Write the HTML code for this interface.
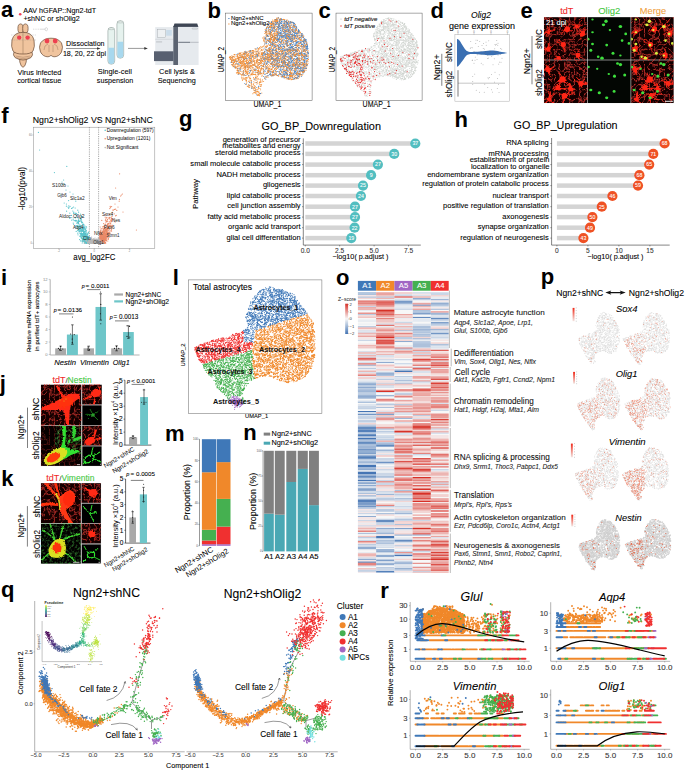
<!DOCTYPE html>
<html><head><meta charset="utf-8"><style>
html,body{margin:0;padding:0;background:#fff;}
body{width:685px;height:771px;overflow:hidden;}
svg{display:block;font-family:"Liberation Sans", sans-serif;}
</style></head><body>
<svg width="685" height="771" viewBox="0 0 685 771">
<defs><marker id="k0" markerUnits="userSpaceOnUse" markerWidth="1" markerHeight="1" overflow="visible"><circle r="2.5" fill="#f08a30"/></marker><marker id="k1" markerUnits="userSpaceOnUse" markerWidth="1" markerHeight="1" overflow="visible"><circle r="2.5" fill="#4a84c4"/></marker><marker id="k2" markerUnits="userSpaceOnUse" markerWidth="1" markerHeight="1" overflow="visible"><circle r="2.375" fill="#cdd2cd"/></marker><marker id="k3" markerUnits="userSpaceOnUse" markerWidth="1" markerHeight="1" overflow="visible"><circle r="2.75" fill="#e82828"/></marker><marker id="k4" markerUnits="userSpaceOnUse" markerWidth="1" markerHeight="1" overflow="visible"><circle r="1.875" fill="#666"/></marker><marker id="k5" markerUnits="userSpaceOnUse" markerWidth="1" markerHeight="1" overflow="visible"><circle r="3" fill="#5cc4cc"/></marker><marker id="k6" markerUnits="userSpaceOnUse" markerWidth="1" markerHeight="1" overflow="visible"><circle r="3" fill="#ea8a68"/></marker><marker id="k7" markerUnits="userSpaceOnUse" markerWidth="1" markerHeight="1" overflow="visible"><circle r="3" fill="#b8b8b8"/></marker><marker id="k8" markerUnits="userSpaceOnUse" markerWidth="1" markerHeight="1" overflow="visible"><circle r="2.75" fill="#111"/></marker><marker id="k9" markerUnits="userSpaceOnUse" markerWidth="1" markerHeight="1" overflow="visible"><circle r="2.5" fill="#e0c020"/></marker><marker id="k10" markerUnits="userSpaceOnUse" markerWidth="1" markerHeight="1" overflow="visible"><circle r="2.5" fill="#222"/></marker><marker id="k11" markerUnits="userSpaceOnUse" markerWidth="1" markerHeight="1" overflow="visible"><circle r="2.625" fill="#f0882a"/></marker><marker id="k12" markerUnits="userSpaceOnUse" markerWidth="1" markerHeight="1" overflow="visible"><circle r="2.625" fill="#3f78b8"/></marker><marker id="k13" markerUnits="userSpaceOnUse" markerWidth="1" markerHeight="1" overflow="visible"><circle r="2.625" fill="#f03030"/></marker><marker id="k14" markerUnits="userSpaceOnUse" markerWidth="1" markerHeight="1" overflow="visible"><circle r="2.625" fill="#45b050"/></marker><marker id="k15" markerUnits="userSpaceOnUse" markerWidth="1" markerHeight="1" overflow="visible"><circle r="2.625" fill="#a066c4"/></marker><marker id="k16" markerUnits="userSpaceOnUse" markerWidth="1" markerHeight="1" overflow="visible"><circle r="2.125" fill="#d8d8d8"/></marker><marker id="k17" markerUnits="userSpaceOnUse" markerWidth="1" markerHeight="1" overflow="visible"><circle r="2" fill="#e8502c"/></marker><marker id="k18" markerUnits="userSpaceOnUse" markerWidth="1" markerHeight="1" overflow="visible"><circle r="3.125" fill="#d0d0d0"/></marker><marker id="k19" markerUnits="userSpaceOnUse" markerWidth="1" markerHeight="1" overflow="visible"><circle r="2.5" fill="#e8502c"/></marker><marker id="k20" markerUnits="userSpaceOnUse" markerWidth="1" markerHeight="1" overflow="visible"><circle r="3.625" fill="#f0882a"/></marker><marker id="k21" markerUnits="userSpaceOnUse" markerWidth="1" markerHeight="1" overflow="visible"><circle r="3.625" fill="#3f78b8"/></marker><marker id="k22" markerUnits="userSpaceOnUse" markerWidth="1" markerHeight="1" overflow="visible"><circle r="3.625" fill="#45b050"/></marker><marker id="k23" markerUnits="userSpaceOnUse" markerWidth="1" markerHeight="1" overflow="visible"><circle r="3.625" fill="#f03030"/></marker><marker id="k24" markerUnits="userSpaceOnUse" markerWidth="1" markerHeight="1" overflow="visible"><circle r="3.625" fill="#74e0e0"/></marker><marker id="k25" markerUnits="userSpaceOnUse" markerWidth="1" markerHeight="1" overflow="visible"><circle r="3.625" fill="#a066c4"/></marker><marker id="k26" markerUnits="userSpaceOnUse" markerWidth="1" markerHeight="1" overflow="visible"><circle r="2.125" fill="#26828e"/></marker><marker id="k27" markerUnits="userSpaceOnUse" markerWidth="1" markerHeight="1" overflow="visible"><circle r="2.125" fill="#31688e"/></marker><marker id="k28" markerUnits="userSpaceOnUse" markerWidth="1" markerHeight="1" overflow="visible"><circle r="2.125" fill="#3e4989"/></marker><marker id="k29" markerUnits="userSpaceOnUse" markerWidth="1" markerHeight="1" overflow="visible"><circle r="2.125" fill="#482878"/></marker><marker id="k30" markerUnits="userSpaceOnUse" markerWidth="1" markerHeight="1" overflow="visible"><circle r="2.125" fill="#440154"/></marker><marker id="k31" markerUnits="userSpaceOnUse" markerWidth="1" markerHeight="1" overflow="visible"><circle r="2.125" fill="#1f9e89"/></marker><marker id="k32" markerUnits="userSpaceOnUse" markerWidth="1" markerHeight="1" overflow="visible"><circle r="2.125" fill="#b5de2b"/></marker><marker id="k33" markerUnits="userSpaceOnUse" markerWidth="1" markerHeight="1" overflow="visible"><circle r="2.125" fill="#fde725"/></marker><marker id="k34" markerUnits="userSpaceOnUse" markerWidth="1" markerHeight="1" overflow="visible"><circle r="2.125" fill="#35b779"/></marker><marker id="k35" markerUnits="userSpaceOnUse" markerWidth="1" markerHeight="1" overflow="visible"><circle r="2.125" fill="#6ece58"/></marker><marker id="k36" markerUnits="userSpaceOnUse" markerWidth="1" markerHeight="1" overflow="visible"><circle r="4.75" fill="#f0882a"/></marker><marker id="k37" markerUnits="userSpaceOnUse" markerWidth="1" markerHeight="1" overflow="visible"><circle r="4.75" fill="#3f78b8"/></marker><marker id="k38" markerUnits="userSpaceOnUse" markerWidth="1" markerHeight="1" overflow="visible"><circle r="4.75" fill="#45b050"/></marker><marker id="k39" markerUnits="userSpaceOnUse" markerWidth="1" markerHeight="1" overflow="visible"><circle r="4.75" fill="#a066c4"/></marker><marker id="k40" markerUnits="userSpaceOnUse" markerWidth="1" markerHeight="1" overflow="visible"><circle r="4.75" fill="#f03030"/></marker></defs>
<defs>
<filter id="redtex" filterUnits="objectBoundingBox" x="0" y="0" width="1" height="1">
<feTurbulence type="turbulence" baseFrequency="0.2" numOctaves="3" seed="4"/>
<feColorMatrix type="matrix" values="0 0 0 0 0.92  0 0 0 0 0.05  0 0 0 0 0.04  -4.6 0 0 0 1.3"/>
</filter>
<filter id="redtex2" filterUnits="objectBoundingBox" x="0" y="0" width="1" height="1">
<feTurbulence type="turbulence" baseFrequency="0.2" numOctaves="3" seed="9"/>
<feColorMatrix type="matrix" values="0 0 0 0 0.92  0 0 0 0 0.05  0 0 0 0 0.04  -4.6 0 0 0 1.3"/>
</filter>
<filter id="grntex" filterUnits="objectBoundingBox" x="0" y="0" width="1" height="1">
<feTurbulence type="fractalNoise" baseFrequency="0.4" numOctaves="2" seed="2"/>
<feColorMatrix type="matrix" values="0 0 0 0 0.1  0 0 0 0 0.8  0 0 0 0 0.1  2.2 0 0 0 -1.0"/>
</filter>
<filter id="bl4" x="-20%" y="-20%" width="140%" height="140%"><feGaussianBlur stdDeviation="0.4"/></filter>
<filter id="rough" x="-10%" y="-10%" width="120%" height="120%"><feTurbulence type="fractalNoise" baseFrequency="0.6" numOctaves="2" seed="3" result="t"/><feDisplacementMap in="SourceGraphic" in2="t" scale="2.6" xChannelSelector="R" yChannelSelector="G" result="d"/><feGaussianBlur in="d" stdDeviation="0.35"/></filter>
<filter id="rough2" x="-10%" y="-10%" width="120%" height="120%"><feTurbulence type="fractalNoise" baseFrequency="0.5" numOctaves="2" seed="5" result="t"/><feDisplacementMap in="SourceGraphic" in2="t" scale="3" xChannelSelector="R" yChannelSelector="G" result="d"/><feGaussianBlur in="d" stdDeviation="0.7"/></filter>
<filter id="bl8" x="-20%" y="-20%" width="140%" height="140%"><feGaussianBlur stdDeviation="0.8"/></filter>
<filter id="bl15" x="-30%" y="-30%" width="160%" height="160%"><feGaussianBlur stdDeviation="1.5"/></filter>
</defs>
<text x="1.00" y="16.80" font-size="22" font-weight="bold">a</text>
<circle cx="20.20" cy="14.20" r="1.30" fill="#f0405a"/>
<text x="23.20" y="12.60" font-size="7.3" stroke="#000" stroke-width="0.08" textLength="73.00" lengthAdjust="spacingAndGlyphs">AAV hGFAP::Ngn2-tdT</text>
<text x="23.40" y="20.50" font-size="7.6" stroke="#000" stroke-width="0.08" textLength="56.40" lengthAdjust="spacingAndGlyphs">+shNC or shOlig2</text>
<g stroke="#6a4a35" stroke-width="0.7" fill="#f0c49e">
<path d="M19.5 56 L19.8 62 Q21 67 23 67.3 Q25 67 26.2 62 L26.5 56 Z"/>
<path d="M14 52 Q12.5 55 15 57.5 Q19 60 23 60 Q27 60 31 57.5 Q33.5 55 32 52 Z"/>
<ellipse cx="20.6" cy="28.5" rx="2.7" ry="4.6"/><ellipse cx="25.4" cy="28.5" rx="2.7" ry="4.6"/>
<path d="M23 32.5 Q14 32 12 40 Q10.8 47 13 51 Q15.5 54.2 23 54 Q30.5 54.2 33 51 Q35.2 47 34 40 Q32 32 23 32.5 Z"/>
</g>
<line x1="23.00" y1="32.80" x2="23.00" y2="53.80" stroke="#6a4a35" stroke-width="0.35"/>
<g stroke="#6a4a35" stroke-width="0.3" fill="none"><path d="M15.5 56 Q23 58.5 30.5 56 M16.5 57.8 Q23 59.6 29.5 57.8"/></g>
<circle cx="19.20" cy="37.60" r="2.20" fill="#ee4050"/>
<circle cx="27.60" cy="37.60" r="2.20" fill="#ee4050"/>
<line x1="11.00" y1="35.00" x2="36.00" y2="35.00" stroke="#777" stroke-width="0.3" stroke-dasharray="0.8 0.8"/>
<line x1="11.00" y1="40.00" x2="36.00" y2="40.00" stroke="#777" stroke-width="0.3" stroke-dasharray="0.8 0.8"/>
<line x1="33.00" y1="29.20" x2="40.00" y2="29.20" stroke="#999" stroke-width="0.35" stroke-dasharray="1 0.7"/>
<line x1="40.00" y1="29.20" x2="45.00" y2="29.20" stroke="#999" stroke-width="0.4"/>
<ellipse cx="46.3" cy="29.2" rx="1.2" ry="1.6" fill="none" stroke="#999" stroke-width="0.35"/>
<path d="M51 38.2 Q44 38 40.5 43 Q38.5 47 40.5 52 Q43 56.8 48 56.8 Q50 56.5 51 55.3 Q52 56.5 54 56.8 Q59 56.8 61.5 52 Q63.5 47 61.5 43 Q58 38 51 38.2 Z" fill="#f0c49e" stroke="#6a4a35" stroke-width="0.7"/>
<path d="M44 50 Q44 45 48 44 M58 50 Q58 45 54 44 M49 45 L49 52 M53 45 L53 52" fill="none" stroke="#6a4a35" stroke-width="0.3"/>
<circle cx="47.00" cy="41.00" r="2.40" fill="#ee4050"/>
<circle cx="55.20" cy="41.00" r="2.40" fill="#ee4050"/>
<text x="17.50" y="74.50" font-size="7.4" stroke="#000" stroke-width="0.08" textLength="43.80" lengthAdjust="spacingAndGlyphs">Virus infected</text>
<text x="17.20" y="83.20" font-size="7.4" stroke="#000" stroke-width="0.08" textLength="44.10" lengthAdjust="spacingAndGlyphs">cortical tissue</text>
<text x="66.10" y="46.20" font-size="7.4" stroke="#000" stroke-width="0.08" textLength="38.50" lengthAdjust="spacingAndGlyphs">Dissociation</text>
<line x1="66.00" y1="48.50" x2="98.00" y2="48.50" stroke="#333" stroke-width="0.5"/>
<path d="M100.5 48.5 L97 47.2 L97 49.8 Z" fill="#333"/>
<text x="62.90" y="56.00" font-size="7.4" stroke="#000" stroke-width="0.08" textLength="43.10" lengthAdjust="spacingAndGlyphs">18, 20, 22 dpi</text>
<rect x="107.9" y="27.6" width="6.8" height="36.6" rx="3.2" fill="#e6f2ee" stroke="#6d7f7a" stroke-width="0.45"/>
<path d="M108.4 47.8 h5.8 V61.0 A2.90 2.90 0 0 1 108.4 61.0 Z" fill="#a8d8ee"/>
<ellipse cx="111.3" cy="28.8" rx="3.1" ry="0.9" fill="#f4faf8" stroke="#6d7f7a" stroke-width="0.35"/>
<rect x="116.9" y="20.8" width="6.8" height="37.4" rx="3.2" fill="#e6f2ee" stroke="#6d7f7a" stroke-width="0.45"/>
<path d="M117.4 41.7 h5.8 V55.0 A2.90 2.90 0 0 1 117.4 55.0 Z" fill="#a8d8ee"/>
<ellipse cx="120.3" cy="22.0" rx="3.1" ry="0.9" fill="#f4faf8" stroke="#6d7f7a" stroke-width="0.35"/>
<text x="114.80" y="74.40" font-size="7.4" text-anchor="middle" stroke="#000" stroke-width="0.08" textLength="34.10" lengthAdjust="spacingAndGlyphs">Single-cell</text>
<text x="115.00" y="83.00" font-size="7.4" text-anchor="middle" stroke="#000" stroke-width="0.08" textLength="36.40" lengthAdjust="spacingAndGlyphs">suspension</text>
<line x1="128.00" y1="48.40" x2="145.00" y2="48.40" stroke="#333" stroke-width="0.5"/>
<path d="M147.8 48.4 L144.3 47.1 L144.3 49.7 Z" fill="#333"/>
<rect x="155.20" y="27.10" width="18.20" height="37.90" fill="#e6eaee"/>
<rect x="157.3" y="29.3" width="8.3" height="8.3" fill="#eef1f3" stroke="#9aa0a6" stroke-width="0.4"/>
<rect x="166.20" y="30.00" width="5.60" height="5.70" fill="#cadcea"/>
<line x1="155.20" y1="39.30" x2="173.30" y2="39.30" stroke="#b8bec4" stroke-width="0.4"/>
<rect x="156.10" y="41.30" width="6.00" height="1.20" fill="#c4c8cc"/>
<rect x="154.00" y="51.30" width="19.50" height="9.80" fill="#586070"/>
<rect x="173.30" y="26.00" width="4.90" height="39.00" fill="#5c6472"/>
<path d="M173.3 27 L174.5 23.6 H197.2 L198.4 26.9 H173.3 Z" fill="#3e4654"/>
<rect x="178.20" y="26.90" width="20.40" height="38.10" fill="#e6eaee"/>
<line x1="178.20" y1="42.30" x2="190.00" y2="42.30" stroke="#5c6472" stroke-width="0.9"/>
<line x1="190.00" y1="42.30" x2="198.60" y2="42.30" stroke="#8a9098" stroke-width="0.5"/>
<rect x="192.2" y="28" width="5.4" height="1.2" rx="0.5" fill="none" stroke="#8a9098" stroke-width="0.3"/>
<text x="177.00" y="74.40" font-size="7.4" text-anchor="middle" stroke="#000" stroke-width="0.08" textLength="35.80" lengthAdjust="spacingAndGlyphs">Cell lysis &amp;</text>
<text x="176.80" y="83.00" font-size="7.4" text-anchor="middle" stroke="#000" stroke-width="0.08" textLength="38.20" lengthAdjust="spacingAndGlyphs">Sequencing</text>
<text x="207.60" y="17.50" font-size="22" font-weight="bold">b</text>
<rect x="225.40" y="13.10" width="86.70" height="87.60" fill="none" stroke="#555" stroke-width="0.5"/>
<path transform="scale(0.2)" d="M1370 104l2-6 10 2 1-1 1-6 0 5 2 0 3 5 9-1 2-4 6 1 5-2 10 7 1-5 2-2 11 2 38 20-8-6-7-1-2 0-9-2-15 2-11-2-1 3-17-2-4 3 0-1-5 3-7-7-1-1-1 2-3 9-1-4 0 0-3-9-2 6-6 5-4-1-2-1-1 3-3-2 0-8-3 4 0-2-2 1-3 7-3-3-2 3 2 13 1 1 0 0 6-8 9-1 2 4 5-7 3 10 18-2 0 0 6 4 14-8 2 9 2-4 5-9 6 13 2-7 0 8 3-13 7-1 6 10 9-2 5-8 4 11 4-7 14 22-19 3 0-4-10-6-6 5-8 5-16-3-5 1-24-3 0-6-7 1-2 9-5 1-6-14-1 4-2 1-1 5 0-1 0-9-1 4-8 2-5-3-1-1-6 0-1 9 0-10-3 2-3 11-3-13 0-1-14 23 7-5 2 5 1-3 9 3 4 0 1 4 6-2 1 2 1-9 0 9 5-6 9 0 3 6 15-4 1 6 22-11 4 4 1 1 12 0 0 3 16 1 1-2 0 3 1-9 4 3 3 1 14 4 7 0 1-12 0 11 3-10 15 6 5 0 15 19-4-8-1 8-7-11-7 9-10-3-19 2-4 5-5-4-10-2-7 3-8 1-2 3-4-6-2-4-20 0 0-1-1 11-5-2-4-12-2 0-9 4-1 7-1-11-7 12-1-10-9 5-5 2 0-3-4 5-4-7-8-4-3 5-3 5-1 4-3-10-1 2-17 21 7-1 4 0 3-2 15-8 4 13 4-2 1 0 1-10 1 4 4 2 2 0 2-6 1 1 0 1 0 4 1-7 3 11 3-6 1-1 2 4 11-7 13 9 9 0 1-6 8-5 3 11 11-4 1-1 2-6 1 4 2 4 3 1 2-3 4-1 5 5 3 0 1-5 4 0 2-4 1 1 0 9 1-6 2 1 9 1 1 6 8-4 9-9 4 13 1 1 3-6 2-1 17-7 1 0 6 24-5-9-2 10-6 2-4-5-12-3-7-4-7 9-11-8-8 7-3-5-10 1-1 10-5-1-26-3-23-8-6 7-6-4 0-1-1 4-12 1-1-6-5 5-3-5-4-2-3 0-1 12 0-13-1 6-2-4-1 6-1-5-1 11 0-2 0-12-7 10-1-4-4-1-4-5-8 0 2 17 8-1 12 12 5-13 3 3 7 2 2 5 1-2 3 3 5-2 1-4 5-3 7 9 3-11 26 10 6-7 10 10 1-7 4-3 5-2 12 12 1-6 3 1 0 6 1-8 5-4 23-2 1 12 19-11 1 3 16 3 10 6 4-6 1 16-1-3-10 0-2 3-8-3-7 0 0 0-2 0-2 1-4-5-5 12 0-8-9-5-6 4-5 8-8-4-5-7-3 6-13 4-6-8-1-2-1 6-16 2-2-2 0-1-1-2-14 9-8-1-6-4-2-6-7 7-1-5-2 1-10 9-11-3 0-5-4-4-8 12-7-13-2 6-2-3-4 1-16 3-11 0-6 6-49 15 3 0 26-5 13 1 11-10 5 8 1 3 2-3 9-2 10-6 12 9 0 4 4-9 1 6 1-9 1 9 2-1 6 2 1-10 2 10 7 2 1-4 3-9 7 13 3-1 13-2 3-6 8-4 6 13 1 1 8-1 5 1 9-1 2-12 12 10 2-3 10 4 3-10 2 12 9-4 2 2 7-12 5 6 0 5 2-10 13 3 7 5 0 4 8-13 4 13 5-13 5 4 4 0 7 16-3 4-3 2-1-3-17-5-10 2-1 6-22 2-3 1-2-4 0-6-2-4-12 14-1-14-6 9-3-4-6 7 0-3-6-8-3 11 0-4-5 6-3 0-7-9-1-4-4 4-2 6-9-6-3 5-1-8-9 0-2 7-9-1-3-6-6 7-10 0-3-5-1 4-1-4-6 1-2 9-2-13-1 11-1-10-12 10-15-3 0-4 0-3-4 11-3-3-2 4-7-1-7-12-1 13-6-3-2-1-1-5-6-3-4 4-1-4-10-2-2 9-2 2-5 1-6-10-2-2-18 5-3 6-1-3-1-2-7-3-1 8-1 3-3-2-13-3-5 5-3-3-46 18 2-1 7-4 7 4 2-1 2-8 2-1 8 11 6-2 2-10 0 5 1 7 8-5 5 2 6-7 4 9 2-10 5 0 5-1 0 6 3 3 3-9 5 6 0 1 3-4 0 8 7-7 0 8 5-4 2 2 3-7 2-5 4 14 5-10 1 4 0 6 3-3 3-9 2 12 6-12 0 9 4-7 1 0 2-4 0 9 2-7 3 4 9 8 5-4 1-6 3-1 1 0 1 6 13-5 2 9 5-10 1 0 6-1 0 6 0 1 5-7 0 12 0 0 8-4 5-6 3 4 3-6 4 11 1-4 0 2 15-5 2-1 2 8 2-2 2-7 1 3 3-7 1 2 12 0 4-2 2 9 7-1 5-4 0 8 3 0 5-1 7-10 7 3 3 3 18 0 1 6 3-10 0 10 3-8 2 5 3-9 10-1 1 7 4 1 2-1 6 1 2-5 0 1 5 3 1-6 0 7 5 4 3-12 0 2 1 5 6 4 3-6 2-3 3 11-15 4-4 9-4-10-3 6-11-1-8 0-11 6-18-8-1 2-4 0-9 4-4-9-7 12-6-13-4 6-6 0 0-4-17 1-3 9-2-1 0-2-8 5-2-13-2 13-2-4-2-9-2 8-1-1-5 1-2 1-4-3-4 7-1-8 0-4-2 5-1 3-2-4-1 7 0-9 0-3-3 5-1 4-6-6-7 10-2-4-3-6-1 8-4 0-2-12-8 10-3 2 0-6-4-5-9 6-7 5-9-1-3 3 0-4-1-10-9 7-5-1 0 0-3-1-11 6-2-8-4 10 0-8-8-1-10 6-2 3-2-8 0 0-1-5-6 12 0 0 0-11-2-1-1 10-2 0 0-7-1 2 0-3 0-2 0 0-9 12 0-9-8 0-2 0-1 0-1 10-1-8-1-1-1 5-2-4-3 0-10 9-6-2-2-1-5-7-1 3-2-6-6 8-1-5-2 5-4-8-1 2 12 16 5-4 0 0 0 2 0 12 8-5 0 3 1-3 1-6 0 3 2-5 3 8 1-2 3 0 9-3 2-4 0 12 6-9 3 2 0 7 1-7 3 5 8-7 3 1 0 5 1 3 1-11 6 7 5-2 2 5 1 1 6 2 4-9 8 9 2-7 1-3 1 0 0 7 1-5 3 3 1 5 4-11 6 6 2 3 1-8 0 0 9 4 11-8 5 14 2-13 2 5 1 2 0 2 3 1 2-8 2-2 11-1 2 3 1 5 8 3 9-2 2-5 5 5 1-5 10 7 8-9 0 2 6 10 6-11 7-1 2 2 8 0 2-3 7 8 1 3 2-11 1 3 0 4 1 2 0 4 8-2 0 2 1-2 2-10 2 7 8 3 3-9 1 10 21-8 0 2 21 3 3-2 8 5 1 1 7-8 2 1 1 4 13 2 1-2 8 3 9-12 1 7 6-6 2 3 0 10-3 6-4 4-2-9 0-1-1 9-3-1-5-1-2 5-1-2-4-5 0-1-7 3-2 3-8-7-1-2-1 9-7-5-1 8-3-8-1 8-1-11-1 7-2-1-1-6-1 3-4 7-4-3-6 2-2-3-2 0-12 5-5-5-1-8-1 10 0-1-4-8-2 7-6 3-1-5-7 4-2 3-5-12-13 8-12 4-6 0-2-7-1-5-3 11-5-5-1-2-8 7 0-7-2-3-7 5-2-6-4 12-6-7-19-6-2 0-3 13-2-2-6 2-1-12-9 3-2-5-3 6-5 2-1-8-4 2-6 8-5-4-1 6 0-6 0-4-5 7-3 3-4-3-5 3-1 0-5-7-8 5-1 0 0-8-3-1-5 0-7 6-2-3 0-2-1-2-3 4-1 10-4-11-4 1-6-2-2 0-4 3-19-3-12 0-1 0 1 16 6 1 2 6 1 0 1-2 6-3 1 9 3-2 2 2 5-14 6 9 2-2 1 7 0 0 2-9 2-2 3 1 0 10 8-1 1-5 1-7 3 9 1-9 0 6 2-5 0 5 1-5 0 9 8-4 1-7 0 8 1-7 0 3 3 9 2-13 1 9 1-1 6 4 2-11 2 9 3-7 4 7 15-8 9 0 0 5 0 4 4 2 8-2 7 2 0 1 8-11 0 10 3-3 1-9 0 0 11 10 13-7 0 10 3-5 2 4 2 0 3-3 9 3 3-9 1 2 14 5 2-4 1 4 8-8 10 1 3 3 3-7 1 6 1-3 10 3 9-3 21 9 2 1 2-3 5-2 7-3 4-1 5 8 4-8 0 10 3 0 5-8 2-1 18 2 10 7 2-9 7 5 1-8 2 8 4 4 1-1 3-13-4 23-18 5-2-2 0-2-1 1-2-2-3 5-30-2 0-5-21 6-6-10-6 11-1-13-6 8-12 6 0-1-2-12-6 4-7 9-25-12-1 1-1 10-11-1-8-12-2 4-5 0-5-1-4 10-2-13-25 0-1 13-10-13-3 7 0-4-2 8-1-5-2 7-6-9-5 10-10-10-3 1-3 0-1 0-4-4-3 9-4-5-4 0-3 5-11 1-4-9-3 12 0-8-4 8-2-10-1 8-12-1-13 0-11-2-6-2-1 14 2-3 3 8 6-6 5 4 11 5 2-2 2-9 3-2 0 13 1-1 9-8 5-2 1-2 1 10 0 2 1-7 1 4 2-5 5 1 1 3 10 0 1 1 4-8 1 5 7 3 3 3 4 0 2-9 3-2 6 12 3-12 4 11 3-6 2-5 0 8 2-8 3 6 5-1 8 2 3-9 10 6 11-6 9 9 15 2 2 2 8-5 5 6 2-5 16-9 0 8 4 3 8-9 0 1 5 4 17-1 0 1 1-6 4 8 1-4 12-4 1 12 5-4 28-1 11-2 1 3 5 5 2-1 4 1 12-12-20 21-1 2-8-4-14 6-6-8-9 0-1 0 0-1-2 6-5-6-2 0-2-1-2 7-13-8-10 12-4-8-3 4-5-9-1 6-17-2-1 1-3-1-3-2 0-1-26 1 0-1-5 3-16 9-7-2-3-4-4-1-19-1-15-5-14 12 0 0-10 1-8-13-14 12-3-8-7 7-4 3-4-13-2 12-6-12-5 11-6-10-2 8 1 5 3 5 1 7 16-6 1-4 3 11 0 1 3-13 11 9 3-8 21 5 9 2 1 2 4-9 6-1 14 13 9-5 10-9 108 4 5 0 1 0 5-4 1 7 5-6 0 7 5-6 6 4 3 1 23-5-167 16-6-3-12 2-12 8-13-1-6-5-12 10-2-4-6-3-4-4-1-2-12 10-5 7 9 7 7 3 14-2 2-6 3 7 5-10 32-1 3 3 4 2-6 16-6 0-3-4-6 11-19-12-1 4-6 0 0-3-11 0 20 26 2-12 3-1 0 13 1-1 2-10 3 9 6-7 6 8 4-3 14 5-8 4-4-3-1 6 0-6-4 10-28-7" fill="none" marker-start="url(#k0)" marker-mid="url(#k0)" marker-end="url(#k0)"/>
<path transform="scale(0.2)" d="M1391 88l41 15-9 0-9-4-6-2-2-5-1 7-1-2-4 5-1-6-3 1-4-7-7 6-6 3-1-1 0 0-21 11 1 2 0 1 0 1 8 5 3-3 5-10 2 5 3 2 5 3 3-3 1-1 0 0 2-1 1 9 5 0 1-11 1 1 1-4 0 11 4 3 1-5 1 2 1 0 1-8 0 0 1 9 1-12 0 4 1 5 5-8 2 13 3 0 3-1 1-4 1-7 0 1 0 7 4-8 1 0 2 1 0 7 1 0 1-4 2 0 0 2 1 3 1 2 2-7 3-6 0 2 2 10 0 1 5-8 0 4 2-7 2 2 0 2 0 7 1-5 6-3 2 2 4 1 0 5 3-2 1 0 2 1 9 14-6 2-1 1 0-8-1 1 0-3-3 9-2-3-1-5-1 2-1-1-11 1-9 0-1 5 0-4 0-5-3 0-4 0-1 8-1 1-3-8-2 6 0-2 0 0-5-4-1 9 0-12-1 8-4-1 0-2-4 3 0 0-1 5-1-4-4-5-1 3 0-1 0 0-2-1-6 8-2-3-1-5-1-3-2 11 0-3 0-6 0-3-1 7-1 5-2-13-5-1-1 13-4-13-2 5 0-1 0-3-2-1-4 11-1-1-2-9-7 3-4 1-2 3-1-1 0-3-9 8-5-5 0-4-6 8-5 10 2 2 1 2 8-7 0 3 9 5 8-9 0 3 1 9 1-9 0 6 4-10 2 1 3 2 1 4 0 2 4-9 4 11 8-12 1 0 3 13 1-10 0 7 1-8 3 4 2 2 1 3 4-7 0 2 0 3 5-4 2-4 2 9 1-7 2 9 1-4 1-4 2-2 4 2 3 4 3-5 0 3 4-5 2 9 1-10 0 1 0 8 0 5 3-13 3 8 0 2 5-11 0 1 3 12 3-12 4 13 2-12 3 9 0 1 3-12 0 3 0 4 4 4 5-1 3-3 1 7 4-10 1-4 0 2 0 12 1-7 8 6 4 4-1 6-1 5-1-5 0-1 0-5 0-1 0-1-2 14-7-2-5-7-4 4-1 1-3-8-1 10 0 0-4-6-1-4-1 5-1-1-1 2-1-6-6 1-2 8-2 3 0-8-2 7-2-13-2 2-2-1-1 7 0-7-2 8 0-2-5-6-1 8-1-2 0-7-3 3-2 2 0-2-2 5-1-8-1 11-1-1-1-8-1 10-2-3-3 0-5-9-1 7 0-7-4 11-1-1-2 2 0-9 0-2-7 8-5 1 0-8-3 11-3-4-8-9-4 5-3 0-1 0-4-2-2-3-8 12 0-11-2 4-1 2-1 5-6-12-1 5-11 0-2 8-3 0 0-10 5 21 3 4 1 0 1 1 8-9 6-2 0 4 9 5 6-8 11 8 3 1 5-4 2-8 1 9 0 4 3-6 2-7 0 10 2-9 0 8 3-9 2 5 2-6 0 1 0 12 3-10 0 4 1 6 4-1 0 2 1-9 5-4 0 13 1 0 3-3 3-7 0 10 2-6 0 3 2-11 2 4 1 0 0 3 0 3 2 2 4 1 1-11 2 2 0 2 2 5 2-4 1-6 5 4 1 2 2-3 3 3 2-1 5-2 0 4 1 5 1-1 1 2 3-2 3-11 0 6 0 7 1-2 1-7 2 8 1-10 0 11 2-11 0 11 2-11 2-2 1 8 2 5 2-11 1-3 1 0 0 12 6-12 1 13 9-8 2-1 0 6 0 2 1-1 0 2 1-10 2 11 2-6 9 20-5-4-1-2-1-2-6-3-1-2-1 10-2-7-2 4-4-7-3 7-6 5-4-10-1 0-3 11 0 0-4-12-1 4-3 5 0-9-2 12-3-7-1 5-5-7-1-4-1 13-4-1 0-12-3 14 0-7-2-3-3-4-2 13-1-4-1 4 0-8 0-1-1-1-2-1-1 2-3 7-2-9-3 10-1 2-2-12-1 11 0-7-2 5-1-10-1 9 0-4-4-1 0-5-6 5 0-1 0-4-2 8-2-4-2 5 0-6-3 2 0-4-4 3-4 6-1-4-1-5-1 9-1 0-5 4 0 0-2-11-1-3-1 8-2 6-5-8-2 6 0-3-1 2-1-3-1 3-4-9-5-2-4 9-4-2-10 6-3 1-1-13-3-1-4 1-2-1-7 14 0-2-1-7-1 2 0 22 3-10 5 7 2-11 2 5 6 4 1-4 0 7 3-11 10 3 7 8 6-3 1 0 12-9 5 5 0 8 1-12 0 2 1-1 0 5 3-7 1 1 0 2 1 0 0 5 0 5 1 1 2-1 1-3 5-7 3 10 0 1 3-6 0 6 3-7 2-5 1 8 5-7 8 10 0 1 2-7 2 5 5-5 0 3 2-1 0 5 1-12 2 2 7-1 1-2 0 5 1 5 1-10 1 0 2 9 0 2 1-4 0 6 2 0 3-7 0 2 3-9 0 1 0 12 4-1 8-2 0 4 8-4 1 2 4-9 2 9 8 1 1-7 5-6 0 13 7-2 4 2 1-9 2 5 0 1 0 1 2-6 2-3 0 6 2-6 1-1 0 6 2 0 0 4 2-8 2 7 3 17-3-1 0-11-1 6-1 3-1 5-3-14-5 7 0-2-3-5-2 10 0-8-3 8-2 3-1 0-2-1-1 0-2-5-2-5 0 0-4-2-4 7-1 7-3-14-5 3-1 2-2-1 0-1-1-2-1 5 0-2-1-1-1 10-1 1-3-7-6 5-2-7-1-4-5 12-5-4-5 3-2 0-2-3-9 3 0-9-3 4-2-6-1 7-1 5-4-7-5 4-4 4-1-9-7 8-1-2-5-8-1 3 0-5-2-1-4 11-2 2-13-10-6-3-2 3-8 7-2-5-1 0 0-1-2 8-1-2 0-10-2 5-3 7-2-2-1-1-5-8-6 8-9 0-3-3 0-1-7 5-36 19 44-3 18 1 4-2 1-7 9-2 2 2 4 6 1-9 2 1 1 4 1 8 1-12 0 10 1-5 2 1 8-7 2 3 3 10 1-12 0 4 2 4 0 4 1-2 0 3 6-11 0 2 0 1 3-6 0 6 6 3 0 1 4-5 5 1 1 3 0 0 1-1 13-4 1-1 3 0 0 2 1-2 5 9 2 2 3-5 1-9 0 12 3-12 0 10 1-9 0 12 1 0 2-3 1 0 1-3 2 6 0 0 3 1 1-6 0 0 7-5 4-2 1 0 0 11 1-10 1 11 2 0 1 1 1-10 3 1 5-2 2-2 1 11 0 1 1 1 10-8 8 1 3 4 2-8 0 1 1 1 5 1 3-3 2 5 0 6 3-5 1-1 2 4 0 2 1-5 1-8 0 3 0 3 1 1 2 10-2 3-1-6-2 1-2 0-1 4-1 6-2-6-1 9-5-8-1 3-1 5-2-1-4-3 0-5-5-4-15 1-4 5-7 5-2 0 0-2-2 4 0-5-3-1-1 6-1-9-4 1-1 8 0-8-1 2 0-5-1 8 0-8-2 1-5 2-1-1-5 8 0-2 0-9-2 3-1 6-1-5-1-1-2 1-2 0-1-2-2 3-2 7-2-6 0-1 0-1-1 7-3-3 0-6-3 4-4 3 0-6-3 7-1-4-1 2-3 1-3-6-1-2-4-1-1 5-1 3-4-2-4 2-4-2-2-2-1 1-2 0 0-2 0-4-1 3-8-1 0-2-4 10-2-6-2 3-1 3-4 2-5-5-2 6-1-2 0-7-1 1-8 1-2-2-5 5 0 0 0-1-5-8-4 11-1-1-1 2-4-3 0 0-4-3-7-7-41 3-19 10-9-1-62 16 31-4 1 4 4-3 1-9 3 5 1 3 14-9 4 7 4-2 4 5 4-1 4-2 20-4 7 7 26-3 1 4 4-10 3-1 0 12 7-7 5 1 2 7 0 1 5-13 6 13 1-8 2 8 4-3 1-9 4 7 0 2 2 0 1-4 1 7 2-1 8-7 2-1 3-2 0 11 3-7 1-5 0 12 7-2 1-3 5 5 1-2 9-2 2-8 1-1 1 2 0 7 0 2 1 0 3-12 9 9 0 4 1-4 4 0 1 5 6-12 1 9 5-5 4-2 3 4 2 3 2-1 1-4 6-6 2 2 6 10 1-4 0 1 1-1 5-8 3 4 1 0 5-2 1 2 0 10 8-2 2 0 3-2 1-2 1 5 2 1 3-5 0 3 2-4 2-7 1 9 5 4 3-11 1 8 2 1 3 2 11-13 2 6 1 1 2 4 0 2-3 1-5 6-1 6 0-1-2-4-4 1 0-6-4-2-2 13 0-1-2 0-3-2-6-1-2 4-2-13-2 4-6-4-8 1-4 7 0-8-4 3-1 9-2 0-1 1-3-5-6-3-1-5-4 9 0-9-1 3-1-1-2 8-1 4-1-3-1 0-3 0-3 1 0-3-5 4-3-3-3-10-5 12-2-10-3 2 0-2-2 6-1 0-2 1-2 5-2-12-4 6-1 6-1-1-5-12-5 7-1-5-5 9-5 0-6-12-2 5-1 1 0-3-7-1-1 5-3-7-14 2-1 6-4 6 0-1 0 0-1-6-3 3-15-8-4 12 0-13-5 2-1-3-1 7-1-6-5 0-3 5-2 1-25 2-1 3-2-5 0-4-4 2-6 5-14 2-10-8-4 6-23-7-1 8-13-2-29-5-21 11 32 10 6-7 4-2 8 3 8 5 4 2 6-5 2 2 7 1 8-6 2 6 4-1 9-8 18 2 28 4 7-3 1 7 5 1 2-7 2 1 1 4 0 5 1-6 3 1 4 0 4-6 2 3 3-4 2 11 1-1 1-10 9 11 1-5 3-3 0 3 2-8 3 3 0 10 2-5 4 3 2 2 5-1 2-5 1-2 4 5 1-3 1-3 2 0 3-1 1 5 0 2 8-4 6 4 4 1 1-10 0 0 0 8 6-1 3-8 2 0 0 8 0 1 0 0 4-2 4 3 6 4 5-14 2 13 5-13 2 4 0 4 1 6 1-6 2-5 1 9 1-4 1-6 0 2 11 9 1-2 2-3 0 1 6 2 4-1 1-5 0 2 5 7 1-12 0 4 0 3 1-5 0 3 0 6 4-1 6-6 7 4 2 1 1-6 10-1 4 4 1-6 2 8 2-10 2 9 1-3 0 4 4-3 2 0 1-1 4-6-6 24-5-3-1 6-6-6 0-1 0-3-1 0-1 10 0-1-1-1-1-1 0-9-1 0-4 4-6 8-3 1-2-9-6-1-2-2-1 1-2 11-3-7-2-3-4 1-1 9-1-1-10-1 0-9-4 9-4-2-1-6 0-1-1-1-3 11 0-2 0-9-2 7-4 4-1-12-3 8-1 1 0-3-1 1-1 7-2-5-1 4 0-7-2-3-4 0-10 10 0-1-2 0 0-4-1-2 0-2-1 10-2-11-2 7 0-5-2 5-1-6-1 4-7 2 0-3-2 6-8-3 0-9-1 10-5 3-2-10-2 5-1 0-1-3-1-5-1 12 0-9-7-2-5 9-1-6 0-3-1 5-7 2-2 2 0-2-15 2-6-1-1-1 0-2-2-7-1 10-8-1-4 2-23-11-4 3-2 9-26-5-8-2-7 6-7 2-37-3-24-3-5-3-14 1-8-5-1 11-2 2 0-1 6 10 18-5 10 0 0 2 4 4 10 6 25-11 9 6 6-7 5 2 20 6 21 3 16 1 9-13 3 7 10 2 2-8 2 0 1 5 2-4 0 1 17-3 5 0 0 1 1 6 6 6 1-10 4 2 3 7 7-5 1-3 1-1 6 0 0 1 2 9 4-12 8 7 7 4 3-1 1-1 2-1 1-4 1-2 4-1 4 4 2-4 2 6 3-1 5 0 0 1 0 4 2-6 2-4 0 8 2-5 7-4 2 4 0 7 4-12 5 9 3-5 1 4 3 0 4-7 1 3 1 9 4-5 0 3 1-4 3 0 3-7 3 3 3 10 4-5 3-4 2-2 0 5 2-1 0 2 7-4 6-1 3 7 3-5 0 1 5-3 6 9 1-6 4 6-5 15 0-1-2-8-2 6-4-9-1 9-2 0-2-10-2 12 0-5-5-1-3 5-2-6-2 4 0-3-1 6-4-1-1 2-1-12-3 0-2 9 0 0-2-6 0-3-1 9 0 0-1-4-1 7-2-2-2 1-3-5-3 2 0-5-2 10-9-13-3 11 0-12-1 14 0-12-1 9-1-11-1 11-2-7-4 10-1-14-2 13 0-7-3-3-3 7 0-9-1 3-4 10 0-7-5 1-1 1-2 5 0-14-3 0-4 3-5 11 0-12-3 0 0-2-6 2-4 1-2 10-2-9-6-4-1 0-1 2-2 7-1-9-1 4-1 5-1-6-5-3-9 13 0-10-3-2-11-1-24 10-3 3-1-7-6-2-8-1-19 0-21 1-31-4-1 8-17-3-32 6-7 0-16-5-4-3 21 18 3 5 8-11 1 5 13 6 33-5 2 8 1-8 1 2 18-8 4 5 4 5 2-9 37 0 2 13 1-6 5 5 2-9 10 5 6-2 0 1 2 6 7-3 4-10 13 7 8 0 10 4 5 2 3-13 5 8 1-5 0 1 4 1 2 8 3-13 0 1 7 10 6-2 2 3 7-13 0 0 1 2 0 3 1 9 2-7 7 2 6-6 6 3 1-4 1 2 12 3 0 2 3 3 2-12 0 14 2-1 2-2 0 3 5-13 0 6 3 3 7 4 2-7 2 5 0 1 1-2 2-7 2 4 2-5 3 6 1 0 4 1 1-4 1-5 0 0 0 13 1-6 2 0 1 0 0 5 1-7 3 6-2 3-6 6-7 7-9 0-1-2-2 3-1-9-2 1-2 2-5-7-1 12-2-1 0 0-2-8 0 0-2 3-4 3 0-2-1-5-2 0-3 10 0-6-3 2-1 5-5-2-3-4-2 0-1 0-4 5 0-9-2 8 0-8 0-1-1 9-9 2-1-3 0 0 0 0-4-4-1-3-2 7 0-9-2-1-1 1-1 12-1-6-4 5-1-6 0-7-2 11-1-11-2 11-9 3 0-3-3-4-3 4 0-2-2-5-4 9-13-13-3 9-3 3-5-8-2-3-2-1-3 1-6-1-1 14-2-3-1-3-1-8-2 13-3 0-5-13-4 8-3-3-10 7-1-2-20-6-12 6-1-6-4-1-17-3-23 3-30 3-3 4-20 2 28 3 8 2 12-1 76 7 11 6 5-9 5-2 3 1 9-4 8 5 4-2 3-1 4-1 16 2 20 2 6-1 1 1 0 2 2 6 4-8 2-5 1 0 1 3 5 10 4-13 0 12 7-8 2 7 0 1 3-9 10 10 8-8 0 7 16-1 0 2 2 1 4-3 3 1 1-9 2 2 2 2 2-7 0 8 14-1-18 9-6 1 0-2-10 2 0-2-2 2-3-1-1 7-25-7-2 3-20-4-92 6-6-6-47 2-3 7-49 19 23-6 10 0 1-7 24 8 13 17-2 2-45-3-3-4-14-2 28 19 1-7 13 5 8-3-5 17 6 20 21-7 0 1" fill="none" marker-start="url(#k1)" marker-mid="url(#k1)" marker-end="url(#k1)"/>
<path transform="scale(0.2)" d="M1391 89l45 15-17-8-1 2-3 0-11 5-1-9-2-1-1 5-10-6-2 9-4-11-2 11-2 3-1-5-2 5-3 0-11-4-12 17 7 0 4-8 3 2 4-4 5 1 7 2 1-5 2 0 1 1 1 13 4-13 39 4 2-5 11 4 0 5 13-5 22 14-4 9-5-3-2 2-11-10-4 11-7 0 0-10-2 3-9 4-3-9-10 10 0-7-2 4 0-1-2 3-21-8-5 10-9 1-10 2-1-8-1-4-3-2-1 12-1-2-4-9-2 11-1-10-2 10 0-9-4 4-9 2-5 1-11 17 5 0 2-9 0 1 18 8 1-11 0 9 16-5 3 0 10 9 1-7 6-2 20-5 4 8 1 0 7-6 1 9 8 3 2-12 19-2 0 6 1 2 2-1 1-7 5 13 3 0 3 1 5-12 4 1 6-2 0 11 2-2 20 18-6-2-9-1 0-1-2-6-3-1-5 2-1 4-8-1-7-5-2 12-10-14-4 14-4-14-3 9-4-2-2-7-1 6-6 3-6-4-1 1-21 6-7-4-7 1 0-5-2 6-2-4-14-3-4 5-4 5-14-12-11 10-2-3-1 2-5 7 3-2 3 12 1-6 7-6 8 4 2-3 1 1 0 3 1 6 3-1 1-8 3-2 0 10 5 2 4-11 7 8 0 3 1-7 2-3 1 9 3-2 5-1 1-2 0 5 1-8 18 8 3-1 4 2 3-10 18 9 3-5 3 4 4-4 5 5 0 1 4-11 8 13 5-2 19-1 1-1 9-10 7 11 6-1 6 10-2 3-10-2-3 8-4-4-5-4 0-1-3-4-11 9-2-8-1 3-17 8-16 0-1 0-1 0-3-9-15 1-32 6-1-4-6 2-2-1-3 0 0-8-1 10-2-1-2-4-2-5-6 6-5 7-2-5-2-6-13 0-8 2-12 0-5 3 3 15 1-4 1 10 2-4 8 1 8-2 6 0 7 2 3 0 2-9 9 9 2-6 0 6 1 1 1-11 0 5 1-3 1-2 2 3 0 3 2-6 2 1 0 13 6-6 3 1 12 3 1-11 2-1 0 2 6 3 0 7 1-6 5-6 10 9 4-1 4-1 1-3 10-4 3 0 15 4 4-1 3 7 5 3 2-13 2 9 3 0 1 0 1-4 19-5 1 1 1 6 2-4 1 0 9 3 9-4 3 8 1 2 7 5-1 10-2-1-10 1-1-10-18 6-3-1-4 1 0-5-3 6-39-2-15 0-7-7-2 5-10 1 0-4-9-2-3 6-4 4-5-9-6 5-15 7-1-3-10-4-2 1-6-4-5 9-19-11-10 9-27 19 12-3 1 3 5-6 5-5 6 5 2 1 4 1 1 0 15-7 2-1 0 1 12 3 1-3 8-3 0 12 5-1 9-6 2-1 6 9 1-1 12-3 2 5 15-4 0 1 1 2 7-8 6-5 6 1 1 1 36 10 1-9 3-2 4 3 0 4 5-7 16 2 0 8 9-4 4-2 0 8 2-9 10-4 6 28-7 0-4-4-5-1-3 5-2-5-4-8-13 5-5 9-5-1-1-5-3 1-8 4 0-6-6 2-6 3-3-2 0-8-5 8 0 0-8-2-3-1-4-7-2 13-2-4-11-3-9-5-9 13-2-10-8 8 0-10-8 6-9-2-2 7-2-5 0-5-5 10-9-10-12-1-1 8-6-3-1-4-2 7-9 3 0-1-1-5-21 5-9-1-9-6-3-2-2 5-1-5-9 6-6-5-7 8-5 1 0-1-3 0-64 13 2 3 3 0 1 0 8-4 6 1 4 1 2 1 3-4 4 4 3 2 3-10 3 5 4 2 0 3 3-11 4-1 1 11 5-9 7 3 2-5 3 11 3-12 0 4 10 6 3 0 4-11 4 0 4 8 2 6 9-7 4 3 1 1 0 3 2-8 8 3 3-4 14-1 4-3 5 1 1-1 1 3 0 6 1-4 7 8 18-9 2 5 5 3 0 1 3-2 1-1 8-7 1 9 3-10 7-2 0 1 3 7 5-9 4 7 1 5 2 2 14-6 1-8 2 3 10-3 3 0 2 0 0 1 3 13 12-5 1 1 7-1 11 2 1-10 4 11 3-6 3-3 9 7 2 1 1-9 9 1 1-3 7 4 1-2 2 7 12 15-2 1-11-2-8-1-1 5-5-3-1-4-1 0-3-4-2 4-12-3-3 8-6-5-7 1 0-4-2-1-4 6-3-3 0-1-11 11 0-3 0-6 0-4-5 12-18-13-8 11-13-1 0-8-9 3-1 7-4-6-1 7-12 1-5-11-5 10-2-11-1 5-2 7-7-13-4 3-3-3-1 13-4-13-3 11-1-3 0-1-2-5-1 9-1-2-4-10-1 7-3 7-1 0-1-5 0-8-2 2-1-3-7 13-1-8-8 6-5 0-1-11-4 2-1-1-6 7-5 3-3-6-12 8 0-11-1 10-1-7-15 1-2 1-1-2-2 5-5-4-2-5-8 6-3-2 0-2-4-1-2 9-2-5-11 8-2-10-4 7-1 2-2 1-1-9-2 9-2-4-3-2 0-6-4 5-3-3-6-1-2 7-3 0-10-6-4 0-1 10-8-3-13 13 1-9 0 12 2-2 3-7 3-2 0 4 0 8 6 1 4 0 2-13 5 8 3 1 1 0 5-3 0 3 3-5 3 1 1 7 2-13 0 4 4-3 1 4 1 0 0 8 7-8 2-5 0 1 8 6 0 0 3 0 1 0 7 1 2-4 1 0 9 10 2-13 4 9 1-1 9-1 2-8 0 7 2 5 8 2 1-11 16 1 4 9 12-13 1 6 4-6 0 11 2 3 3-7 8-4 0 5 7 0 3-5 0 7 4-4 3-4 1 2 2 7 4-2 1 1 2 0 2 2 1-10 1 2 3 9 14 0 10-3 3-2 1 6 2-14 17 8 4 0 1-3 8 9 1-14 1 11 5-8 2 5 4-2 0 7 9-2 2-10 6 7 17-5 0 7 7-1 10 5 5-1 6-3 4-5 1 3 3 2 1-10 0 12 9-8 1 6 5-6 1 8 4 0 6-1 17 2 1-1 1-2-10 10-15-4-12 11-1-10-15 3-5 0 0-3-2 7-3 2-5-7-5-3-1 4-21 5-1 4-1-4-15-9-7 11-1-4-3-2-3-6-4 12-5-10-9 6-4-6-5-2-3 9-7-2-3 3-5 3 0-10-2 2-9 9-8-9 0-4-7 0-6 2-10-1-9 8-1-2-5-4-1 4 0-5-4 1-2 7-1-7-3 6-3-8-6 10-3 1 0-10-3 3 0-6-3 6 0-1-1 7 0-12-2 10 0-8-2 10-11-5 0-7-3 8-10 0-3-4-2-2-2 1 0-1-6 8 0-3-3 6-3-2 0-9-3 8-1-7-2 3-2-2-8 4-3-8-2 10 0-10-1 7-1-2-1 4-2 4-3-4-2-2-3-4-1 9-1-1-3 0-1 0-1-3-6-5-4 3-3 8-4-14-5 4-4 9-2-1 0-9-7 6-1 3-2-10-1 7 0-3 1 17 3 3 2 3 2-7 3-2 1 7 2-6 4 6 2-4 7-2 3 2 3 4 6 1 4-13 3 2 3 6 2-7 0 12 4-9 0 8 3-6 0 7 0 1 2-8 4 0 1-1 1 6 6-2 1 2 1 0 0 1 4-9 1 11 3-6 8-6 2 9 5-11 0 12 3-10 7 4 0 7 1-5 5 2 6 4 3-13 9 9 4 4 1-9 4 3 4-7 2 2 1 10 5-3 0 3 11-6 2-1 5 5 7-7 4 8 13-8 3-1 4 5 9-1 0 2 3-9 6 12 8-9 0 3 3 4 3 3 1-10 5 2 0 1 0 2 1 4 10-1 4-9 1 2 0 7 10-8 3 0 1 4 1 7 12-12 5 4 4 7 2-1 11-3 3-9 0 14 2-10 0 5 1 3 1-4 1-5 0 3 4 4 7-6 4-3 6 5 5 7 5-6 2-6 9 4 1 9 2-7 1-3 4-2 1-1 0 3 1 5 0 5 9-4 1-10 6 7-4 17-9-7 0 0-6 6-7 1-11-7-1 0-7-2-6 13-6-3-2 4-4-14-4 14-19-4-9-2-3 5-1-9-2 4-3 1 0-6-6-1-6 6-6 1-22-2-1-6-4 12-7-7-12-6-2 8-1 0-15-6-6 9-7-6-3 4-2-6-3-1-5 4-18 6 0-5-10 0-1-4-4 6-2 0-2 0-4-6-1 3 0-5-7 13-9-5-5-4-1 1-10-5-1 7-5-3 0-3-13-1-2 8-4 5-1-13-2-1-2 8-13-8-6 0-8 4-7-1-2 1-2 5-6-2 0-4-11 1 20 19 1 2 1-6 1 5 8-8 1 8 11 5 8-7 2 0 3-5 3 9 2-6 1 4 1 2 8 3 4-14 0 4 15 2 9 4 8-2 2 0 5-2 7 2 3-2 3 0 0 1 0 5 0 1 8 1 9-10 7 1 17-5 5 14 1-5 1-7 0 8 3 4 5-7 8-4 1-2 2 11 1 1 4-1 1-4 1 2 5-9 2 0 6 11 18 0 13 2 5-14 3 8 4-2 5 0 1 1 1-2 6 7 11-7 6 2 6-6 4 8 12-7 3 5 10 4 5-7 3 7 6-10 12-1 3 13 4-6 1 4 2-7-7 11-2 1-1 11-2-10-9 2-3 5 0 0-1 1-1-4-1 2-4 6-2-8-2 7-1-7-2-4-3 6-14 3-4-7-5 3-1 0 0-6-1 7-2 6-1-11-3 1-1 0-3-1-19 3-25 5-7-3-15 6-2-14-1 13-6-4-10 1 0-8-1 12 0-10-11 1-9-4-4-1-4 8-17-1-1-4-6 7-4-4-4 4-10-1-4-4-2-2-7 8-3 1-7-1-2 2-1-13-4 12-5 0-1-1-1 1-20-6-4-6-2 6-11-1-4 4-6 3-6-2-7-4 0-1 0-1-2 3-1-6-6 2-4 1 34 15 15 8 12-3 7-6 0 7 28 3 1-8 2 0 3 7 4-4 24-4 25 1 17-2 8 1 5 0 6-4 8 0 25 6 2 4 8-4 6-1 0 0 0 4 2 4 4-1 3-6 6-2 8-1 2 7 1-8 3 6 1-2 0 1 5-1 1-2 5 5 1-7 1 10 8-6 5-4 1 11 2 1 1-14 17 3 11-1-18 13-8 4-10 2-13-2-1 2-4 3-1-3-10-5-120 3-22 1-3 1-7-1-7 4-16-7-14 10-2 2 0-9-2-3-1 0-20 4-1 7-8-8-1-1-5-2-1 5 16 8 3 5 23-5 11 14 12-7 7-3 9 10 1-6 2-1 2-1 0 1 2-7 6 5-1 13-3 9-3 0-18-12-7 11-5-2-2 0-11-9-3 5-6 4-5-2-2-3-5 8 6 6 23 7 3-3 1-7 1 3 5 3 0 6 8-1 6-1 2-7 10 11-13 7-1 2-1-1-6-1-3 0-4 4 4 8 5-3 3 10 2-1 0 4 3-5 4 5 2 1" fill="none" marker-start="url(#k0)" marker-mid="url(#k0)" marker-end="url(#k0)"/>
<line x1="228.30" y1="18.50" x2="229.50" y2="18.50" stroke="#4a84c4" stroke-width="1.0"/>
<text x="231.00" y="19.80" font-size="5.7" stroke="#000" stroke-width="0.08" textLength="32.60" lengthAdjust="spacingAndGlyphs">Ngn2+shNC</text>
<line x1="228.30" y1="24.00" x2="229.50" y2="24.00" stroke="#f08a30" stroke-width="1.0"/>
<text x="231.00" y="25.30" font-size="5.7" stroke="#000" stroke-width="0.08" textLength="38.50" lengthAdjust="spacingAndGlyphs">Ngn2+shOlig2</text>
<text x="0" y="0" font-size="8.4" text-anchor="middle" stroke="#000" stroke-width="0.08" textLength="25.40" lengthAdjust="spacingAndGlyphs" transform="translate(224.42 59.60) rotate(-90)">UMAP_2</text>
<text x="267.40" y="107.20" font-size="8.4" text-anchor="middle" stroke="#000" stroke-width="0.08" textLength="28.00" lengthAdjust="spacingAndGlyphs">UMAP_1</text>
<text x="318.60" y="17.50" font-size="22" font-weight="bold">c</text>
<rect x="336.00" y="13.10" width="86.10" height="87.60" fill="none" stroke="#555" stroke-width="0.5"/>
<path transform="scale(0.2)" d="M1944 89l48 15-10-3-3-1-9-5-1 7 0-7-1 7-4-8-1 10 0 0 0-1-3 1-2-5 0-5 0 0-2-1-4-1-1 1-1 6 0-9-7 9 0-4-1-3 0 0-1 0 0-2-2 1-2 1-2 6 0-6-1 1-3 9-3 2-1-11-1 9-2 1-1-6-5 7-1-5-1 0-20 19 6-5 3-4 0 8 1-6 3-6 0 1 0 12 0 1 1-10 0 0 1 5 1-7 0 12 1-6 1-3 0 1 3-5 0 1 0 3 0 1 0 2 1 6 1-9 0 2 1 4 1 2 2-1 1-11 1 0 0 7 0 2 1 0 0 1 5 0 0 0 1-3 2 6 3-4 2-6 1 1 0 5 1-2 2 3 1-11 1 1 3 10 2-3 1-8 2 12 2-9 0 4 3-5 1-2 2 5 2 2 0 6 2-1 4 2 2-6 1-5 1 3 5-4 0 4 0 2 2-4 0 9 4-12 0 6 1-2 2 0 1-4 2-1 2 13 2-5 0 3 3-11 0 13 5-6 1-1 1-3 5 6 1 1 1-2 1 4 0 1 1-2 1-3 0 3 0 2 7 0 1 0 2-1 0 0 10 14-5 1-1-4-1 5-2-3-2-7-1-1-1 12 0-1 0-3 0-5-1 7 0-9-1 4 0-5-1 3-6 3 0 0-4 0-1 3-2 1-1-12-1 5-2-1-1-1-2 10 0-13-1 13 0-1 0-1-9-4-1 6-5-10-1 3-4-2-1 1-2-1 0-3 0 0-3 10-1-3 0-4-1 3-1 2 0-6-1 0-2 7 0-7-2 0-1 7 0-2 0-6 0-1-3 7-1 2 0-2-1-5-2 8 0-8-1 9-1-3-2 1 0-10-3 6 0-4-4 11-1-10 0-3-1 13 0-4-1 5-2-1 0-5-1-5 0-1 0-1-1 9 0-5-1 6-4-7-2 9 0-2-3 1 0-1-5 2-1-3-1 3 0-1 0-11-2-1-1 10-1 1 0-5-4-5-1 11-1-8-1-1-5 2-2 4-1 5 0-1-1-8-1 8-1-8-1-1-1 10 0 0 0-11-1 2-5 7-2-2-8 16 0 2 4-11 0 1 0 7 3 1 1-11 0 9 1-9 2 7 4 1 4 3 5 3 2-11 0 11 4-4 1 2 1 2 2-11 1 10 1-2 0 2 1-9 0 4 0 1 1-5 1 0 1 5 1 1 1-8 0 8 3-5 1 8 1-12 0 7 2-5 1 7 3-10 2 1 0 4 0 1 1-3 3 8 1-6 3 1 1-2 0 3 1 3 1 3 1-13 0 8 7-4 0 6 2 4 1-3 1 2 2-4 3 0 3-4 1 0 2-5 4 4 0 1 3-5 1 7 1-6 1 12 1-6 1-6 0 4 1-2 1 6 2-6 2 5 2-5 2 0 0 10 1-12 0 12 2-9 0 2 3 4 1 3 2-12 4 8 0 3 3-3 1 0 2 4 1-6 1-5 0 5 1 4 1-10 2 7 0 4 1-5 2 6 1-9 1 0 3-4 2 1 1 8 1 2 1-7 1 9 1-10 0 4 1-4 0 2 0 4 1 1 2 4 5-7 6 7 7 13-4 2-1-13-1 4 0-5-1 9-1 3 0-1 0-1-1-1-1-3 0-3-1-3-6 6 0 0 0-2-1 9-1-4-2-3-3 4-1-6-2 7 0-8-1 8 0-6-1 7 0-5-2 7-1-2-1 0 0-6 0 0-3 4 0 0-1-5-1 5-1-7-1 3-3-2-1 7 0-3-4-3-2 4-3 5 0-6-1 4-2-10-1 7-1-2-3-1 0-6-3 9 0-6 0-1-5 6-2-7-1 9 0-2-2-2-1 6 0-1-2 0-1-5-1 5-1-7-3 1-1 0-2-2-1 8-4-5-4 2 0 0-1-7-1 0-3 11 0-1-2-1-1-8-1 11-1 0-2-7 0-1-2 1-1-4-1 0 0-2-1 11 0-2-2-8-2 2 0-3-1 4-2-4-2 8-2 3-1-9-3 8-3 2 0-3 0-3-1 0-1 3-3-8-1 1-1 2-4-1-2 1-1 0 0 0 0-3-2 1-3 9-2 1 0-5 0-2-2 4 0-1-1 3 0-2-1-4-1-3-1 6-1-8-1 2-3 7-1-7-1 11 0-5 0-8-1 14-1 0 0 0-5-2 0-2-1-1-1-2 0-6-6 10-6 16 1-10 0 5 2-5 0 8 2-6 4-4 2 11 1-2 1-6 2 8 1-7 0 10 2-8 2-6 0 11 3-7 3-4 1 12 3-12 1 14 1-11 0 3 1-2 1-3 0 4 2 2 0 4 5-6 1 0 5 0 0 2 1-4 0 7 1-2 3-8 1 3 2 10 2-9 1 4 10-6 0 10 3 0 3-10 0 8 0 2 2-6 2 6 1-12 1 4 2 4 1-4 2-2 5 8 0 0 1-6 2 1 2-2 0 7 1-2 0 0 1-2 0 4 0 4 1-4 1 1 1-1 4-2 1 1 1-6 0 1 0 7 1-4 2-1 2 1 3-2 0 5 6-8 2-1 5 6 0 3 3-7 0 1 0 0 0 6 3-6 4-3 0 7 0 6 2-10 0 4 0 6 2-10 0 9 2-7 0 8 3-11 5 10 1-8 2-4 0 4 5-5 1 3 1 9 1-9 1 7 2-6 1-3 0 13 1-10 0 3 0 4 3 3 2 0 1-13 0 3 3-4 1 7 6-2 2 7 2-6 0 2 0 6 1-11 1 6 1-4 2-2 1 5 0 3 4 1 1 0 10 15-3 0-2-5-4 7 0-4 0-5-4 5-3 2 0-7-1 0 0-2-1 4-2 6 0-7-1 0-2 4 0-2 0-8-2 12 0-10-2 9 0-5-1 7-1-5-1-6-1 12-1-9-2 8 0-6 0-5 0 0-1 8-2 4 0-12-4 6 0-5-5 5-3 4 0-1-1 1-3-6-2-6-2 6-2 2-1-4-1-2-1 6-4 3 0-10-1 8-1-7-1 6 0 0 0-3-1 3-1 1 0-7-3 6-3-6-1 5 0-3 0-4-2 9 0-5-1 8 0-12-7 4-4 8-1-1 0-3-1 6 0-9 0-4-4 5 0-6-3 9 0-5-1 10-1-1 0-3 0-2-2-8-1 4 0-2-1 7-7 1-1-6-2 8 0-2-4-3 0-6-1 12-3-6-2 5-2 0 0-7-1 9 0-13-1 6-2 1-2 5 0-1-2 2-1-4 0-1 0-8-1 1-6 11 0-6-8 5 0-11-3 13 0-10-1 9 0-4 0 0 0-5 0-3-1 13-4-4-1 2-1-2-1 2 0-5 0-2-2 4 0 0-1-4 0-4-1 10-1-2 0-7-3 11-2 1-1-9-1 7 0-4-1 2-1 3 0-6-6 1-1-3-1 6-1 2-1 1-1-12-1 10 0-12-2 11 0-3 0-7-1 8-7-7-2 9-1 3 0-4 0-8-2-1-1 1-1-2-2 5 6 10 0 3 0 1 1 5 1-4 2-4 0 3 1-3 2 8 1-9 0 0 2 12 4-10 15 2 0 4 1 2 4-10 1 7 0 6 2-6 2 3 2-10 1 1 2-1 8 13 5-10 1 4 2-6 1 10 5-4 0 5 2-1 3-8 3 2 1-4 1 9 1-7 0 5 3-5 1 5 0 1 1-3 2 3 1-8 1 3 0 5 1-8 0 6 1-1 3 2 1 1 2-5 1-3 0 1 2 5 2-3 1 9 1-9 1 8 1-8 1 7 3-8 1-1 0 10 3-6 0 2 0 6 3-7 1-7 2 8 0 6 1-9 0 3 1 5 2 0 1-7 1-5 0 2 1 5 0 4 3-3 2-4 0 3 2-6 3 5 2-4 1 3 4 0 1-2 1 2 0 2 2-6 0 7 2-4 1 6 2-5 1 2 2 6 2-2 1-10 0 6 1-3 1 6 1-11 0 9 2-4 0 8 2-9 0 2 1-5 0 12 1-3 4-1 1-3 1 2 0 3 1-8 2-2 1 7 3 4 3-12 0 9 1 3 1-11 0 10 2 3 1-8 1 6 1 2 2-5 0 2 1-11 0 5 0 5 1-9 2 4 0 3 0 4 2-10 0 8 1-8 0 5 1 7 1 0 2-10 4-2 1 1 3 9 1 1 1-4 0 0 2 3 0 15 0-2 0-7-1 10 0-11-2 11-1-5 0-3-1-3-1 6 0-4 0-1-1 2-5 8-2 0 0-4-4 4-1-2-1 1 0-7-1 5 0-1 0-6-1-2-1 12-2-11-2 10-3-4 0-2-2 2-1-3-1 2-1-1-1 8 0-4 0-9-2 0-1 2-1 8-1-4-1 5 0-8 0-2-1 3 0-3-6 5-6-5-3 12 0-1-1-2 0-5-1 3-1-2 0-4-4 8 0-2-2-5-2 0 0-3 0-1-1 12 0-9-1-1-4 5 0-3-1 9 0-5-1-2-6 7-3-11-3 3 0-1-1 5-2-5-1 7-1-2-2 2-2-1-1-5 0-2-1-2-2 1-1 10 0-5 0-4-1 3-2 7 0-2-1-10-3 7-5-8-3 5-1 3-4 6-2-1-3 0-4-7-2 4-1 4-1-10-1 7-3-2-2-6-2 1-1 7 0-1-2-1-2 3 0-7-4-2-2 4-2-4-2-1-1 5 0-1 0-2-1 2 0-5-1 1-3 11 0-5-2 4 0-2 0-9-2 5-5-3-1 11-1 0-3-14-2 0-4 7-1 4-1 1 0-7 0-3 0-1-1 2 0-3-2 5-1-2-5 2-1 9-3-6-2 3 0-8-3 8 0-3-1-8-2 5-2 1-2 3 0-2-1 2-18 16 3 3 1-6 0 5 1 0 6-3 2-6 1 0 5 0 0 1 1 6 2 0 1-6 14 5 0 1 3-5 0 0 0 7 1-11 4 10 1-6 3 9 5-11 1 0 1-1 1 3 0 5 7-4 0 3 2 1 0 3 1-12 1 9 3-5 0 3 0 4 2-5 1 0 4-1 2 4 0 3 2-6 2 0 1 0 2-3 1 0 2-1 6 5 1 3 1 1 2-6 4-5 1 9 1-9 0 0 0 6 1-5 1 3 4-4 0 1 1 10 3-12 0 4 2 7 3-8 4-2 0 2 1 2 1-1 1-3 0 7 0 4 6-11 1-1 1 6 1 5 3-9 1 5 1 4 3 1 3-11 0 5 4-6 0 6 0 2 1 2 1 3 4-9 0 2 0 7 2-9 1 7 1-6 1-1 1 5 1-8 0 3 0 6 5-7 4-3 2 7 1-3 1 6 1-4 3 8 1-14 0 0 0 1 1 13 3-13 0 1 1 7 1 5 1-13 0 4 1 1 2-3 2 2 1-3 1-1 2 2 1 3 0 5 1-9 1 1 0 4 3 0 1 2 1 1 2 0 3-6 0 2 0 2 1-1 2 3 1-9 3 5 1 0 0 4 1-1 1-9 4 7 1 6 1-8 2-4 0 0 0 3 0 3 0 5 1-11 1 13 2-9 1-5 0 7-1 8-2 5-3 3-1-2-1 7-1-2-1-1 0-1 0 0-1-7 0-2-1 5 0-3-3 5-1 6 0-3-2 1 0-6-1 7 0-6-2-3-2 1-1-1-1 6 0-8-4 12 0-5 0-5-2-1 0-1-4 5-1 4-1-1 0-4-2-3-2 6 0-1 0-5-1 11-2-9-3 8 0-7 0-5-3 6 0-6 0 0-1 12-2 0-1-2-1-6-4 7 0-5-2 8-1-7-1 0-1 1 0-4-1 5-1 5 0-6 0 0-1-2-1-5-1 8 0-2 0-1-1-2-1 7-6 0-1 2-1-13-2 8 0-1-1 7 0-3-2 1 0-3 0-2-2-7-5 13 0-9-1-2-2 8-1-7-2 4-2 3 0-8-1 10-2-10-1-2-1 8 0-6-2 10-1-6 0-6-1 12-1-10-3 3-3-1-2 9-3 0 0-5-2-1 0-5-1-1-1 11 0-1-1 1-2-10-2 11-2-3-2 0-1-7-1 4-1 7-1-5-1 5 0-3-1 1 0-5-1 5 0-3 0-7-2-1-1 13-3 0-4-10-2 4 0-6-1 8-3 0 0-8-3 0-2 8 0-1-1 4-1-8-1 7 0-12-3 13 0-5-1 6-2-13-3 5-1 7-2-5-2-2-1 3 0-5-1 7-3-11-1 5-1 2 0-4 0-1-2 9 0-2-2 1 0-6-1 1-2 7-14-11-4 10-1 3-3-3-3 2 0-2-1 1-4-9-4 4-2-2-4 1-3 7-2-1 0-8-3-1-1 3 0-5-1 5-4-1-2-4-2 13-1 0 0-8-1-3-6 9-1 2 0-6-1 0-1-6-5 10-2-2-4 1-3-1-1 2-3-4-11 3-3 1-1 1-4 1-40 14 3 0 1-4 2 3 6-6 2 7 2-4 3 3 2-3 2-1 0 2 0 0 1-6 0 0 2 1 0 5 2-8 0 7 3-2 0 2 9-7 1 8 3-10 0 12 2 1 4-8 1 9 2-7 3-4 2 7 0 2 4-12 0 4 1 1 0 9 1-10 1-4 0 3 1 2 0 5 1 0 3-8 3 4 9 8 4-13 2 5 1-2 2 0 3 3 0 3 1-9 2 2 10 2 1 1 0 4 2 4 1-14 0 1 2 5 2 7 1-12 6-1 2 4 3 0 0 8 1-11 0 2 0 3 1-5 0 5 1-2 5-1 1 0 3 3 1-1 2 8 1-13 0 4 0 5 1-3 1-3 3 6 2 4 3-2 3 1 0 2 1-13 0 1 0 8 3-5 3 6 1-10 2 3 1 10 1-6 1-7 1 4 0 4 2-5 0 3 0 2 5-8 0 11 0 2 4 0 2-9 1 5 5 2 0 1 0 0 4-6 3-7 4 5 1 4 8 2 0 3 1-13 0 2 1 3 3-1 3 0 1 9 1-9 0 3 0 2 2 3 1-11 6 6 6 4 3-2 0 2 5-10 1 4 2-6 0 4 1-2 0 2 1 5 1 3 2-11 1 3 3-3 0 12 1-4 1 1 3-9 1 4 0 2 2 5 1 0 2-5 0 4 1 2 1-8 0 3 2-8 0 2 0 0 0 10 1-9 4 10 2 0 3-10 0 4 0 0 1-6 2 5 4-3 0 3 2 7 2-1 2-8 1-4 0 14 1-1 1-12 0 1 1 4 2 3 1-6 1 11 1-12 0 4 1-6 3 7 1-6 1 6 0 4 4-7 2 10 1-3 1 2 1-7 1-5 4 6 1 7 3-10 0 9 1-10 0 11 1-9 0 0 2 3 0 5 1-13 1 12 5-2 0 3 2-1 1 1 2 3-3 9 0-5 0-4-2 6-1-2-1-1 0-4-1 14-2-2-1-6 0-1-3 1-2 7 0-10-2-1-1-1-1 9-5 2 0-9 0-2-2 4-1 6 0-6-1 7-1-6-3 7-1-2-1-8-3-3-1 13-2 1 0-7 0-7-1 3-3 7-5-2 0-2-4 8 0-2 0-4-1 6-1-12-1 6-1-6-1 5-5 5-2 2-4-4-10 2-5-3 0-5-4 3-1 3-3-7-1 3-1 2-1 6 0-13-2 5 0-2-1-1-4 11-3 0 0-5 0-3-1 2-2-2-1-3-3 2-1 9-1-1 0-1-4-8-1 9 0-9-1 10 0-1-1-7-4 5-1 2-1-12 0-1-1 3 0-2-1 3-2-4-1 12-1-4-1-3-1-3-3 6-1-6-1 5-1 4 0-5-2-3-1 10-2 0-3-1-2-3-1-3-4-2 0-1-1 8 0 0 0-5-1-5-1 6 0-1-2 1 0-3-1 1-5 6 0-3 0-5-1-3-1 11-1-6-3 8 0-7-2 7 0-7-1 5-1 3-1-12 0-2-1 2 0 0-4 3-1 8-2-4-3 3-2-10-5 11 0-13-2 9 0-4-5-4-1 12 0-13-1 6-2 8-3-2 0-11-1 12 0-2-6-1 0-7-1 11-2-12-2 0-1 8-7-7-2 0-8 10 0-1-2-4-1-1-1-6-1 11-9-3-2 1-2-8-4 10-1-7-1-5-2 12-1 0-4 2 0 0-2-12-6 12-2-13-1 0-2 9-1 4 0-9-2-4-1 10 0-1 0-9-1 12 0-10-1 5-1 4-2-8 0-1-1 6 0-5-1 8 0-1-1 1 0-2-2 4 0-13-2 10-3-3-1 4-5-2-1-7-6 3-6-5-1 1 0-1-1 12 0-7-1 8 0-12-4 2 0-3-3 1 0-1-2 2-4 2-1 9-1 0 0-6 0-6 0 0-3 3 0 0-2 2 0-4-1 7 0-2-3-2-2 8-3-6-2-4 0-2-3 10 0 0-4-6-1-4-4 6-5 2-2-3-3 7-1-1-6-2-3 2-1 5 3 5 0 3 1-1 2-9 1 6 2-2 6 0 0 4 16 4 1-12 4-1 1 13 1-11 2 11 1-8 0 4 1-9 0 13 0 1 6-2 11-12 1 4 3-2 1 11 0 1 7-14 0 12 1-12 4 5 2 7 0 2 1-7 0 5 2-3 2 3 1-12 0 11 2-7 0 3 1 4 1-6 0 6 0 1 1-2 1 0 2-4 1-4 0 6 0 1 1 0 2 4 0 1 13-6 1 0 2-8 3 7 0 4 0 3 3-7 5 1 2 6 1-14 0 7 2 4 2-5 3 5 1-5 1-2 0 1 0 4 1-5 1 1 0 6 3 1 1-1 1-4 0 6 1-2 1-1 5 4 2-9 0 2 2 3 5-3 1 1 0 2 1-1 1 1 0 4 3-6 2-7 0 2 0 0 6 10 4-11 2-1 3 6 1-1 1 0 3 6 0 0 1-11 0 10 3 2 3 0 1-5 1-3 0 5 4-8 0 1 0 2 1-2 1 7 1-3 5-6 0 2 1 3 1 4 0 1 1-3 1 3 2 2 1-7 1-4 0 1 1 3 0 7 1 0 0 1 1-11 0 3 6-6 0 0 3 0 3 11 0 1 1-11 2 5 1 0 1-2 2 5 0 1 0 1 1-5 0 2 0 6 1-9 3 7 2-2 5-9 0 1 0 8 6 2 1-10 1 5 1 4 0 3 2-11 0 9 3-2 1-6 0 7 1-4 1 1 3 0 1-5 1 9 1-12 2 7 1-4 0 3 0 7 2-9 0 4 0 6 1-10 1 5 2 0 1-8 1 13 1-14 1 7 2 6 1-4 3-8 0 5 1-5 0 4 1-3 4 10 3-7 2-4 0 12 4-13 2 4 0 5 1-2 0 3 1 1 2-8 2 7 0 3 1-12 2 9 2-9 0 4 0 9 3-6 2-3 0 4 1-5 0 3 1-5 4-1 3 4 2 4 3-4 0 2 0 6 2-2 1 2 1-12 2 13 3-5 0 1 1-1 3 2 2 2 0 1 1-14 3 12 1-12 2 1 1 13 1-14 1 10 1-4 0 6 1-9 0 6 0 5 1-7 0 4 2-3 2-8 1 11 0 2 0 0 5 0 2 0 1-3 2-6 8 15 0-1-2 11-2-5-1 4-2-1-2 2 0-7-1 1-1 2 0-5 0-1-1 10-1-14-2 14-1-1-2-7-1 6 0-7-2 7-2-5-1 2-1-4-2 8-1-4-1 5 0-2-1-8-4 8-1-11-1 6 0-4-4 8 0-11-4 6 0-2-1 9 0-3 0-9-1 12 0-3-3-6-1 8-1-1 0-11-1 3-2 2-1-2-1 3-1 2-1 2 0-6-2 6 0-9-1 10-1-11-6 9-2-6-2 11-3-10 0-4-2 12 0-6-1-3-2 6-1-9-3 8-3 0-1 6 0-1-2-11-2 8 0-4 0 0-2 5-1-3 0-1-1-6-1 13 0-10-2-1-1-3-3 11-1-8-2 9-1-8-2-3-1 7-1 2-2 4 0-3-1-7-3 8-2-7-2 1 0-5-2 10 0-1-4-6-4 10-3-6-2 4 0-5-2 0-1 7-1-8-2 3 0-9-1 14 0-3 0-3-2 4 0 0-1-2 0-5-2 9 0-4 0-7 0-3-2 13 0-2-1 1 0-6 0-2 0-4-1 7-1 4-3 0-1-7-1 1 0-2-2 10-3 0-3-3 0-9-3 10 0-7-1 0-1 5 0-8-3 10-3-8-4 5-1-8-3 11-2-9-1 9 0-1 0-4-3 1-2-2 0 0-1 4-1 5 0-11 0-1-5 6-2 2 0-4-1 8-2-8 0-5-3 10-6-1-2-5-2 7 0-11-1 1-5 2-3 9 0-7-1 4 0-6-2 0-1 5-2 5-2-2-3 0-1-7-6 2-2 4 0-9-1 8 0-1-3 0 0-2-2 7 0-4-1-5-1 2 0-6-1 6-5 2-1-6-3 6-1 5-2-2-3-5 0-2-4-2-1 3-1 8-1-8 0-5-2 7-1 4-2-9-4 2-2 2-1 6-1-8-2-2-1 6-2-4 0 0-1 9 0-11-2 10-3 1-1-12-1 5-1-7-1 9-1 0 0-6-3 3-1 8-1-1-1 0 0-11 0 0-1 4-1 5-1-3-1 3-2-1-3-7-2 2-1-4 0 0-4 8 0-5-1 9 0-5-1-7-4 1-4 9 0-11-1 2-1 5-3-2-2 0 0-3-6 1 0-1-1 8-3-5 0-2-4 2-4 1-4-6-1 3-4-1-4-2-3 10 0-10-3 11 0-7-1 7-2-11-1 8-2 1 3 10 3 1 5-1 1 10 5-10 0 5 1-9 0 6 0 8 1-11 0 3 3 2 0 3 2-2 2 0 1-2 1-7 1 2 0 8 0 2 2 1 2-7 1 7 1-2 3-8 0 2 2-3 1 12 5-1 2-11 2-1 0 5 0 4 1-8 0 0 2 11 2-2 4-7 1 4 1-8 0 3 0 2 2 4 3-5 1 3 2 4 2 3 1-4 8 2 2-3 3 4 1-13 1 0 0 13 2 0 6-8 1 5 1-2 2-3 9-2 4 7 0 1 2-8 0 1 1 0 1-4 0 0 1 10 3 1 1-10 1 4 1-2 6 5 9 2 1-1 1 3 1-10 1 0 0 6 4 3 4-8 2-3 8 2 0 3 11-5 0 8 4-8 1 11 1 3 1-11 0 2 2 0 0 2 0 6 2-6 5-2 0 1 8-5 1 0 0 4 1-3 3 8 1-3 0 3 2 0 1-10 1 0 0 1 0 0 0 1 6 5 0 4 2-1 0 2 4-12 0 7 3-2 3-5 0 6 1 2 3 3 1-1 15-5 0 6 1 2 1-9 2-1 1-3 1 0 1 4 0 9 5 1 2-6 0 5 2-6 4-1 5 5 3 1 1-7 2 2 1 1 1-7 2 3 3-3 0 7 4-8 4 10 1-7 0 3 0 5 0 3 2-10 1 9 2-2 1 2 1-4 0 5 2-14 0 2 2-2 0 10 2-9 0 1 0 5 1 0 2 6 1-11 0 9 2-5 5-1 0 1 5 0 0 2 3-1 1-7 0 0 0 10 1-1 2-7 0 10 1 0 1-5 0 6 1 1 1-6 2-6 0 9 1-11 1 6 2-1 0 8 2-7 2-4 0 8 1-1 3-9 0 2 2-1 5 4 2-4 1 1 2 1 0 8 0 3 1-7 1 0 0 7 4-9 0 8 1-12 0 13 2-8 1 4 2-2 2 3 2-3 1 6 1-12 10 4 4-6-6 23-1 0-3-4-1 2-1 8 0-1 0-7-4-2-2 7-1-6-1 4-1-4-3-3-2 7 0-6-2 6-2-3-1 3 0-4-1 8-1-7-4-2-2-4-2 12 0-10-1 11-3-12-3 0-4 2-3-2-1 7-2-7-2 4 0-3-3 3-1 6-1-2-1 2-3-2-3-9-1 10 0-4 0-5-3 12-2-12-1 6-2 4-2-10-3 13 0-6 0-1-1-4-4 3 0-1 0-3 0-1-1 4 0-2-5 10-1-12-1 2-1-2-1 6 0-1-1 7 0-1 0-4-4-4-1-1-1 11-4-3 0-1-3-8-2 0-1 9-1-8-5 5 0-2 0-4-1 11-1 0-3 1-3-4 0-1 0-7-4 7-1 5-3-3-1-4-1-5-4-2-4 1-1 9 0 0 0-5-1 7 0-4-6-6-2 3 0 0 0-1-1-2-1 8-3-1 0-2-2 7-4-3-1-11-2 2 0-1-1 3-1 0-4 0-1-3-2 4-4 2 0-3-2 2-1 8 0-14-3 0-1 6-1 8-2-13-1 8-2 4 0-12-1 12 0-1-1-9 0-1-2-1-1 5 0-5-1 2-3 2-1 4 0-3-1-4-3 8-1-4-1-3-1 2-1-5-1 10-2 3 0-10-1-2 0-1-1 1-2 7-2 2 0-2-4-8-3 0 0 0-1 9-4-7-3-2-1 11-2-10-1 0-1 1-2 5-3 2-6 1 0-2-1-6-4 4-2-1 0-1-4 9-2-10-2 0-1 7 0-5-4 8-2-10-6-2-1 4-2 8-3-8-3 4-4 1 0-9-1 11 0-2 0-2 0-6-1-2-1 8-3-3-1 2-2 7-1-7-1-3-7 5-4-3-1-5-1 2-1 4-5-6-3 5-3 0 0-1-2 1-6-2-1 3-1 2 0-5 0-3-4-1-6 1-2 11 0-9-1 11 0-6-1 6-1-9-1 2-3 5-5 0 4 6 3 0 1 2 1-4 3 8 2 1 0 4 4-13 1 9 0 4 2-8 0 0 1-6 0 11 4 0 3 1 4 0 5-7 3-4 1 9 2 2 4-4 7 4 1 1 2-10 0 3 5 3 1-5 0 10 2-11 0 1 1 8 2-9 6 10 1-11 0 3 5-5 0 8 1-5 3 7 5-5 0 7 3 2 4-8 5 8 4-11 3 11 4-2 7-11 1 11 2-11 0 4 1 3 1 3 8-8 0 0 1 4 3 1 1 6 5-14 2 5 2-4 0 6 3-4 2 11 3-10 2-4 2 4 0 3 1-5 0 12 3-11 1-3 0 0 4 6 3 7 2 0 5-4 0 3 1 1 5-13 2 14 2-10 1 0 0 7 2-2 0 1 4-4 0 3 1-5 0 10 2-7 6 3 3-7 1 10 1-8 1 0 0 7 1-6 1-3 0 3 1-2 0 3 0 5 2-8 3 1 3 4 0 0 0 4 2-5 1 6 3-2 1-5 2-5 1 7 4-8 0 5 0 4 2 0 4 4 1-11 0 2 0 5 0 4 2-14 0 12 2-10 0 3 3 4 1-1 1-6 0 5 1 1 1 1 1-6 0 2 2-2 0 5 1-6 1 5 2-2 0 7 0 1 2-13 0 13 1-7 2 3 1-8 4 2 0 9 2-7 2 0 2-1 1 1 1-3 0 10 3-11 1 13 1 0 2-7 1-7 0 5 7 1 1-1 1-3 0 0 0 6 0 6 1-4 0 3 1-7 3 5 1 1 1-1 1 3 3-8 0 7 1-6 1 7 1-7 1-2 0 6 4-4 1-1 2 7 1-11 7 5 4 3 0 4 4-7 1 0 1-6 0 12 1-8 1 4 0 2 1-11 2 3 0 7 1-8 3 11 1 1 1-2 5-7 0 1 1 0 2 1 1-6 0 12 2-6 2 1-7 12-1-2-2 5-1-4 0-2-1 7 0-3-1-6-2 11-2 2 0-2-1 3-1-7-3-4-1 3-2 5-2 2-1-2-1-9-2 5 0-4-2-1-2 7 0-6-2-1-1 0-2 12-1-5-4-8-2 4-1 9-1-13-1-1-4 2-2 1 0-3-3 8 0-8-1 8-2 6-1-4 0-2 0 0 0-3-1 0-1 6 0-2 0-3-2 4 0-1-1-4-1 4 0-1-1 3-1 3-2-10 0-4-1 11 0-1-2-3-2 7 0-7-1-5 0-1-5 6 0-7-1 9-1 2 0-1 0-4-3 1-5 2 0-3-1 5 0-1-2-1 0-8-2 12 0-7-1 0-1 1 0-1-4-3-1 11-1-5 0-5-3 6-1-8 0-1-1-1-1 12 0-10 0-1-1 12-2 1 0-4-1 4 0-10-1 8-1-9 0-3-1 14-1-11-1 4-1 1 0-6-1 8-2-1 0-8-1 13 0-3-1 2 0-8-2 4-1-1 0-1-1 0-1 5 0-1-1-4 0-2-4 7-1-5-3 0 0-6-3 2-2 8-2-5-1-1-4 7-1-1 0-10-3 12 0-11-1 3-7 5 0-2 0-7-8 4-5-5-2 6-1-4-2 8-1-4 0-2-7 0-2-2-1 11-3-10-6 7 0 0-4-10-1 11-1-5-1 1-1 0-3-5-7 12-1-8-3 4 0-4-3 8-2-2-1-8-4 7-1-8-4 5-3-3-3 1-1 2-1-6-1 9-1-11-3 13-1-8-4 5-1-8-1 2-2-1-4 0 0-2-2 3-1 8-5-9 0-2-4 7-2 5-2-7-4-6-3 1-1 3-3 10 0-11 0-2-2 0-15 9-4-7-1 8 0-10-4 13 0-2-3-1-1 1 0-10-1 7-4-8-1 8-3-4-2-1-3 6-1-1-1-7-2 6 0-5 17 21 12-8 0 9 3-10 0 10 8-6 0 3 3-7 0 4 9 3 1 5 1-5 7 5 6-12 0 5 1-3 2 4 8-3 6-3 7 8 2 4 0 1 4-4 2-6 5 2 3 0 0 4 6 0 3 4 5-7 1-5 1 4 0 0 6 5 2-8 5 5 0 6 4-10 2-1 0 10 3-7 4-3 1-2 0 10 4-8 1 7 2-1 1-4 2 6 4-7 2-3 0 5 3-1 3-1 3 4 5 0 2-7 0 2 6 2 7-2 3 1 4-1 0 3 1-2 4-2 5 7 2-1 1-3 3-1 4-2 0 0 1 4 1 1 1 8 1-11 3 3 2-4 0 3 3 2 0 1 1 1 2 5 1-12 0 2 2 2 1 3 0 1 1 4 1-10 0 8 2-7 0 5 2 0 1 2 3-2 1 2 1-2 2 2 1-7 2-3 0 1 0 3 0 6 1-9 3 0 0 4 1 4 2-8 5 3 1-6 0 8 3-6 0 5 1 1 2-5 0 7 1-5 3 0 2 7 2-5 0 4 1 1 2-10 4-1 0 1 3 4 0 4 1-6 2-3 2 8 1 0 3-9 0 13 2-12 0 10 1-2 2 1 2-2 1 1 1-7 0 9 0 1 6-7 0 2 1 1 1 0 2-8-17 16-2-1-13 7 0-3-2-1-1 1-1 0 0 0-2 4-1-2 0-3-1 4 0-4-3 6-1 0-3-8-1 0-1 1 0 0-2 6-1 2-2-6-1 0 0-1-4-2 0-1-2 7-8-5-5 0-1 1-3 4 0-2-2 1-11-5-92 3-10 3-1-3-2-2-4 9-7-8-1 0-4 0-1 3-1-5-4 9-5-1-4-7-1 5-1-4-2 5-3 2-2-8-2 7-3 0-8 3-7-3-6 3-1-1 0-9-1 11-1-3-2-8-2 2-1 8 0-3-6-8-2 2-6 8-2 3-9-2-1-10-6 5-2-7 8 17 12 7 1 2 2-10 5 2 6-2 1 3 8 0 4 7 7 0 5-4 5-4 4-2 2 8 9-7 1 9 7-8 5 1 5 1 2 1 0 4-4 13-5 6-1-1-1 0 0-9-1 6 0-9-2 13-1-5-1-5-13 2-4 2-1-2-1 7-1-9-2 2-4-4-6 7-1-8 0 0-2 9-2 2-1-1-2 2-4-8-1-5-2 8-8-1-3-1 0-4 8 13 11 2 4 2 10-1 13 1 2-2 1 9 14 0 2 1 4-10 0 9 2-9 3 26-1-5-6 0-4-2-13 3-6-2-2 5-13-8-2-1 16 24 0 2 5-13 0 9 2 2 0 1 2-2 5-11 0 9 2-7 3-1 10-1-18 17-6 1" fill="none" marker-start="url(#k2)" marker-mid="url(#k2)" marker-end="url(#k2)"/>
<path transform="scale(0.2)" d="M1946 100l36 9-28-4-46 6-1 7 85 12-15 21-7 0 50 15-19 22-29-5-22 8-59 2-4 9 33 2 144-8-141 26-12 12 25-3 154 8-127 4-93 10-24-3-18-7-18 8-37 17 12-6 22-5 5 1 114-3 27 11 61-5 58 6-27 6-53 5-27 4-77 1-24-4-21 5-3 0-15-6-2-8-5 6-17 1-8 2-6 2-2 3-5-14-1 6-3 4-6 4-4-13-6 5-11 3-1-3-1 6-4-1-1-3-1-3-6 1-3-2-8 3-22 17 0 3 6-3 8-8 9 6 39 6 5-11 0 2 6 5 2-9 6 8 1 4 5 2 6 0 1-3 1 1 16-8 7-1 3-3 25 9 8-1 54-4 9 8 126-5 22-2-108 22-16 1-23-2-6-10-8-1-10 13-8-12-20 2-14 7-2-4-16 2-10 3 0-9-12 0-2 7 0-2-1-4-24-3-2 10-7-3-1 5-3 1-16-9-2 6-1-8-1 8-4 4-10-4-1 3-25-8-4-3-2 4-5-2 10 23 14-3 12-4 15 1 17-6 2 3 4-2 6 6 1 2 5 2 2-7 3-2 3 1 1 0 2 8 2-2 2 1 9-4 24-1 2 0 26-5 12 5 52-3 40-1 18 7 24 7-64 4-87 3-1 3-48-4-4-6-1 7-3 4-30-10-13-1-5 7-9-4-3-1-11 4-5 7-5-1-6-9 8 12 7 2 1 7 1-8 4 11 11-1 12 2 4-1 33 1 1 1 1-2 6-11 0 2 1 7 7-10 60 13 1-12 108 6 54 7-60 6-27 3-10 5-40-4-53 1 0-7-27 5-4-5-9 8-1 0-5 2-4-10-10 1-4 3-12-5-1 7-3 4-6-2-4-8-3 9-1-9-3 11-3-12-1 3-12 2 13 9 2-1 0 0 4 7 5-2 1 3 10-1 8-2 3 4 6-4 3 6 2-10 14 12 1-11 0 1 5 10 0 1 12-10 16 5 27 0 4-4 14-3-7 21-30 1 0-6-3-1-14 2-3-4-3 10-5-7-3 8-1-2-4 5-1-7-2 2-6-1-13 5-5-7 0 0-17 6-3-12 13 20 3 7 5-11 5 7 4 1 3-3 5 2 1-1 5-7 1 4 7 6 10 2 30-12-1 24-5-8-11 10-30-1-9 4-2-10-7 1-3 5 16 15 3-7 1 5 6-8 7 13 3-7 0 2 3-7 0 5 24 17-22 5-1-5-7-2 4 13 25 8 1-10" fill="none" marker-start="url(#k3)" marker-mid="url(#k3)" marker-end="url(#k3)"/>
<circle cx="341.00" cy="19.00" r="0.60" fill="#bbb"/>
<text x="344.20" y="20.80" font-size="6.0" font-style="italic" stroke="#000" stroke-width="0.08" textLength="33.20" lengthAdjust="spacingAndGlyphs">tdT negative</text>
<circle cx="341.00" cy="26.00" r="0.70" fill="#e82828"/>
<text x="344.20" y="27.80" font-size="6.0" font-style="italic" stroke="#000" stroke-width="0.08" textLength="31.00" lengthAdjust="spacingAndGlyphs">tdT positive</text>
<text x="0" y="0" font-size="8.4" text-anchor="middle" stroke="#000" stroke-width="0.08" textLength="25.40" lengthAdjust="spacingAndGlyphs" transform="translate(334.62 59.60) rotate(-90)">UMAP_2</text>
<text x="376.60" y="107.20" font-size="8.4" text-anchor="middle" stroke="#000" stroke-width="0.08" textLength="28.00" lengthAdjust="spacingAndGlyphs">UMAP_1</text>
<text x="430.60" y="18.40" font-size="22" font-weight="bold">d</text>
<text x="481.00" y="17.60" font-size="8.2" text-anchor="middle" font-style="italic" stroke="#000" stroke-width="0.08" textLength="19.90" lengthAdjust="spacingAndGlyphs">Olig2</text>
<text x="482.00" y="28.80" font-size="8.2" text-anchor="middle" stroke="#000" stroke-width="0.08" textLength="66.20" lengthAdjust="spacingAndGlyphs">gene expression</text>
<rect x="454.90" y="34.50" width="54.80" height="66.70" fill="none" stroke="#aaa" stroke-width="0.5"/>
<line x1="458.00" y1="33.30" x2="458.00" y2="34.50" stroke="#666" stroke-width="0.4"/>
<text x="458.00" y="32.60" font-size="2.6" text-anchor="middle" fill="#666">0</text>
<line x1="474.00" y1="33.30" x2="474.00" y2="34.50" stroke="#666" stroke-width="0.4"/>
<text x="474.00" y="32.60" font-size="2.6" text-anchor="middle" fill="#666">0</text>
<line x1="491.00" y1="33.30" x2="491.00" y2="34.50" stroke="#666" stroke-width="0.4"/>
<text x="491.00" y="32.60" font-size="2.6" text-anchor="middle" fill="#666">0</text>
<line x1="507.40" y1="33.30" x2="507.40" y2="34.50" stroke="#666" stroke-width="0.4"/>
<text x="507.40" y="32.60" font-size="2.6" text-anchor="middle" fill="#666">0</text>
<path d="M457 39.1 C458.5 39.1 460 41.2 461.5 43.7 C463 46 464.5 48.8 466 50.3 C467 51.3 468 51.7 470 51.9 C474 52.1 479 51.6 483 51.3 C487 51 490 50.6 491 50.6 C494 50.7 497 51 499 51.4 C503 52 506 52.6 507.6 52.9 C506 53.3 502 53.9 499 54.4 C496 54.9 493 55.2 490.6 55.2 C487 55.1 484 54.8 482.9 54.7 C479 54.4 476 54.1 473.7 54 C471 54 469.5 54.1 468.4 54.4 C467 54.9 466.5 55.3 466 55.9 C465 57 464.5 57.8 463.8 59 C462.8 60.5 462.2 61.2 461.5 62 C460.5 63.3 460 64.2 459.2 65.1 C458.5 66 457.8 66.7 457 66.7 Z" fill="#3a6fb2"/>
<line x1="458.00" y1="83.20" x2="505.00" y2="83.20" stroke="#999" stroke-width="0.55"/>
<line x1="458.00" y1="70.20" x2="458.00" y2="96.60" stroke="#222" stroke-width="0.6"/>
<path transform="scale(0.2)" d="M2354 207l26-7 7 1 12 7 45-4 40-2 6 14-8 5-7 1-45-12-13 7-38 0-24 21 6 1 30-6 19-6 21-1 46-1 12 1 20 19-7-2-28 1-52 1-6-3-65 1 19 14 35 1 18 9 6-8 23-2 22 1 5 4 12-3 13 13-14 3-31 8-20-7-34-3-19 1-10 11 9 13 53-6 5-2 28 4 39-3-5 20-7-1-123-9-14 0 0-1 9 16 36 0 9 8 50 0 29-4 2 54-21-13-17 12-84-3-10 12 76 7 8-2 39 5-46 2-77 13 108 3 20 13-68-2-60 1 75 15 18 12 29-6 9 20-32-3-42 1-23 0-17-10" fill="none" marker-start="url(#k4)" marker-mid="url(#k4)" marker-end="url(#k4)"/>
<text x="0" y="0" font-size="8.4" text-anchor="middle" stroke="#000" stroke-width="0.08" textLength="25.80" lengthAdjust="spacingAndGlyphs" transform="translate(439.72 67.40) rotate(-90)">Ngn2+</text>
<line x1="441.80" y1="53.80" x2="441.80" y2="85.80" stroke="#000" stroke-width="0.5"/>
<text x="0" y="0" font-size="8.4" text-anchor="middle" stroke="#000" stroke-width="0.08" textLength="19.80" lengthAdjust="spacingAndGlyphs" transform="translate(452.32 52.10) rotate(-90)">shNC</text>
<text x="0" y="0" font-size="8.4" text-anchor="middle" stroke="#000" stroke-width="0.08" textLength="26.60" lengthAdjust="spacingAndGlyphs" transform="translate(452.32 84.10) rotate(-90)">shOlig2</text>
<text x="520.60" y="17.60" font-size="22" font-weight="bold">e</text>
<text x="566.80" y="14.20" font-size="8.6" text-anchor="middle" fill="#f02828" stroke="#f02828" stroke-width="0.08" textLength="13.10" lengthAdjust="spacingAndGlyphs">tdT</text>
<text x="609.30" y="14.20" font-size="8.6" text-anchor="middle" fill="#3ec83e" stroke="#3ec83e" stroke-width="0.08" textLength="22.20" lengthAdjust="spacingAndGlyphs">Olig2</text>
<text x="653.00" y="14.20" font-size="8.6" text-anchor="middle" fill="#f0a040" stroke="#f0a040" stroke-width="0.08" textLength="26.30" lengthAdjust="spacingAndGlyphs">Merge</text>
<text x="0" y="0" font-size="8.4" text-anchor="middle" stroke="#000" stroke-width="0.08" textLength="25.80" lengthAdjust="spacingAndGlyphs" transform="translate(530.42 61.30) rotate(-90)">Ngn2+</text>
<line x1="532.00" y1="36.00" x2="532.00" y2="84.30" stroke="#000" stroke-width="0.5"/>
<text x="0" y="0" font-size="8.4" text-anchor="middle" stroke="#000" stroke-width="0.08" textLength="19.80" lengthAdjust="spacingAndGlyphs" transform="translate(541.92 39.10) rotate(-90)">shNC</text>
<text x="0" y="0" font-size="8.4" text-anchor="middle" stroke="#000" stroke-width="0.08" textLength="26.60" lengthAdjust="spacingAndGlyphs" transform="translate(541.92 82.80) rotate(-90)">shOlig2</text>
<rect x="543.80" y="17.00" width="130.00" height="86.20" fill="#dcdcdc"/>
<rect x="544.00" y="17.20" width="43.20" height="42.50" fill="#120000"/>
<rect x="544.00" y="17.20" width="43.20" height="42.50" fill="#000" filter="url(#redtex)" opacity="0.65"/>
<svg x="544.00" y="17.20" width="43.20" height="42.50" overflow="hidden"><g filter="url(#rough)">
<g fill="#ff2618" stroke="#ff2618"><circle cx="4.8" cy="14.9" r="2.1" stroke="none"/><path d="M4.8 14.9 Q1.4 14.8 -1.8 16.8" fill="none" stroke-width="0.8"/><path d="M4.8 14.9 Q4.9 11.6 3.0 8.5" fill="none" stroke-width="0.8"/><path d="M4.8 14.9 Q1.3 15.3 -1.6 17.7" fill="none" stroke-width="0.8"/><path d="M4.8 14.9 Q3.1 13.9 0.9 14.1" fill="none" stroke-width="0.8"/><path d="M4.8 14.9 Q2.9 14.9 1.1 15.9" fill="none" stroke-width="0.8"/><path d="M4.8 14.9 Q8.6 14.4 11.7 11.8" fill="none" stroke-width="0.8"/><path d="M4.8 14.9 Q3.0 16.5 2.3 19.1" fill="none" stroke-width="0.8"/></g>
<g fill="#ff2618" stroke="#ff2618"><circle cx="19.3" cy="27.4" r="2.6" stroke="none"/><path d="M19.3 27.4 Q19.3 29.6 20.5 31.6" fill="none" stroke-width="0.8"/><path d="M19.3 27.4 Q19.5 29.9 21.2 32.1" fill="none" stroke-width="0.8"/><path d="M19.3 27.4 Q17.5 24.0 13.9 21.9" fill="none" stroke-width="0.8"/><path d="M19.3 27.4 Q19.1 31.2 21.2 34.8" fill="none" stroke-width="0.8"/><path d="M19.3 27.4 Q16.4 25.2 12.4 24.9" fill="none" stroke-width="0.8"/><path d="M19.3 27.4 Q20.7 25.8 21.1 23.5" fill="none" stroke-width="0.8"/><path d="M19.3 27.4 Q18.6 25.5 16.8 24.1" fill="none" stroke-width="0.8"/></g>
<g fill="#ff2618" stroke="#ff2618"><circle cx="32.8" cy="9.1" r="2.0" stroke="none"/><path d="M32.8 9.1 Q29.6 10.3 27.4 13.3" fill="none" stroke-width="0.8"/><path d="M32.8 9.1 Q31.1 7.7 28.8 7.3" fill="none" stroke-width="0.8"/><path d="M32.8 9.1 Q35.6 6.7 36.8 2.8" fill="none" stroke-width="0.8"/><path d="M32.8 9.1 Q32.2 11.8 33.2 14.6" fill="none" stroke-width="0.8"/><path d="M32.8 9.1 Q31.3 5.7 28.0 3.5" fill="none" stroke-width="0.8"/><path d="M32.8 9.1 Q34.2 11.7 36.9 13.3" fill="none" stroke-width="0.8"/><path d="M32.8 9.1 Q35.9 9.4 38.8 7.9" fill="none" stroke-width="0.8"/></g>
<g fill="#ff2618" stroke="#ff2618"><circle cx="38.5" cy="16.5" r="2.6" stroke="none"/><path d="M38.5 16.5 Q39.8 13.9 39.4 10.8" fill="none" stroke-width="0.8"/><path d="M38.5 16.5 Q36.9 19.1 37.0 22.4" fill="none" stroke-width="0.8"/><path d="M38.5 16.5 Q36.3 15.3 33.5 15.6" fill="none" stroke-width="0.8"/><path d="M38.5 16.5 Q40.6 15.0 41.6 12.4" fill="none" stroke-width="0.8"/><path d="M38.5 16.5 Q35.2 15.8 31.7 17.2" fill="none" stroke-width="0.8"/><path d="M38.5 16.5 Q40.9 13.7 41.4 9.7" fill="none" stroke-width="0.8"/><path d="M38.5 16.5 Q37.8 14.3 35.8 12.7" fill="none" stroke-width="0.8"/></g>
<g fill="#ff2618" stroke="#ff2618"><circle cx="3.9" cy="31.9" r="2.7" stroke="none"/><path d="M3.9 31.9 Q7.1 31.0 9.5 28.3" fill="none" stroke-width="0.8"/><path d="M3.9 31.9 Q5.0 29.3 4.5 26.2" fill="none" stroke-width="0.8"/><path d="M3.9 31.9 Q1.0 31.1 -2.1 32.1" fill="none" stroke-width="0.8"/><path d="M3.9 31.9 Q5.0 34.9 7.8 37.0" fill="none" stroke-width="0.8"/><path d="M3.9 31.9 Q5.7 30.7 6.7 28.6" fill="none" stroke-width="0.8"/><path d="M3.9 31.9 Q4.9 28.8 4.1 25.3" fill="none" stroke-width="0.8"/><path d="M3.9 31.9 Q4.8 33.6 6.7 34.5" fill="none" stroke-width="0.8"/></g>
<g fill="#ff2618" stroke="#ff2618"><circle cx="34.0" cy="37.7" r="2.5" stroke="none"/><path d="M34.0 37.7 Q33.7 40.1 34.9 42.5" fill="none" stroke-width="0.8"/><path d="M34.0 37.7 Q32.5 34.9 29.4 33.3" fill="none" stroke-width="0.8"/><path d="M34.0 37.7 Q34.9 34.8 34.0 31.7" fill="none" stroke-width="0.8"/><path d="M34.0 37.7 Q32.7 38.9 32.2 40.9" fill="none" stroke-width="0.8"/><path d="M34.0 37.7 Q35.2 39.6 37.3 40.6" fill="none" stroke-width="0.8"/><path d="M34.0 37.7 Q31.0 36.2 27.5 36.7" fill="none" stroke-width="0.8"/><path d="M34.0 37.7 Q33.9 40.3 35.3 42.8" fill="none" stroke-width="0.8"/></g>
<g fill="#ff2618" stroke="#ff2618"><circle cx="23.1" cy="12.3" r="2.7" stroke="none"/><path d="M23.1 12.3 Q20.0 13.4 17.7 16.2" fill="none" stroke-width="0.8"/><path d="M23.1 12.3 Q21.5 9.5 18.4 8.0" fill="none" stroke-width="0.8"/><path d="M23.1 12.3 Q20.2 11.8 17.3 13.2" fill="none" stroke-width="0.8"/><path d="M23.1 12.3 Q23.1 10.2 21.8 8.2" fill="none" stroke-width="0.8"/><path d="M23.1 12.3 Q25.2 9.3 25.3 5.4" fill="none" stroke-width="0.8"/><path d="M23.1 12.3 Q24.9 13.5 27.3 13.6" fill="none" stroke-width="0.8"/><path d="M23.1 12.3 Q22.5 14.2 23.1 16.3" fill="none" stroke-width="0.8"/></g>
<g fill="#ff2618" stroke="#ff2618"><circle cx="14.8" cy="40.9" r="2.1" stroke="none"/><path d="M14.8 40.9 Q14.0 39.0 12.2 37.7" fill="none" stroke-width="0.8"/><path d="M14.8 40.9 Q17.6 43.4 21.7 44.0" fill="none" stroke-width="0.8"/><path d="M14.8 40.9 Q12.0 41.8 10.0 44.3" fill="none" stroke-width="0.8"/><path d="M14.8 40.9 Q12.3 40.6 9.8 41.7" fill="none" stroke-width="0.8"/><path d="M14.8 40.9 Q12.6 40.9 10.6 42.2" fill="none" stroke-width="0.8"/><path d="M14.8 40.9 Q13.2 39.2 10.7 38.7" fill="none" stroke-width="0.8"/><path d="M14.8 40.9 Q15.6 43.0 17.5 44.4" fill="none" stroke-width="0.8"/></g>
</g></svg>
<rect x="587.80" y="17.20" width="42.80" height="42.50" fill="#030603"/>
<svg x="587.80" y="17.20" width="42.80" height="42.50" overflow="hidden"><g filter="url(#bl4)">
<ellipse cx="4.7" cy="2.3" rx="1.2" ry="1.0" fill="#3ee03e"/>
<ellipse cx="15.7" cy="7.6" rx="1.7" ry="1.4" fill="#3ee03e"/>
<ellipse cx="32.6" cy="9.3" rx="1.8" ry="1.6" fill="#3ee03e"/>
<ellipse cx="22.1" cy="12.9" rx="1.2" ry="1.1" fill="#3ee03e"/>
<ellipse cx="4.7" cy="15.0" rx="1.3" ry="1.0" fill="#3ee03e"/>
<ellipse cx="37.9" cy="16.7" rx="1.4" ry="1.3" fill="#3ee03e"/>
<ellipse cx="34.3" cy="23.4" rx="1.3" ry="1.4" fill="#3ee03e"/>
<ellipse cx="18.9" cy="27.9" rx="1.4" ry="1.4" fill="#3ee03e"/>
<ellipse cx="4.7" cy="26.8" rx="1.4" ry="1.2" fill="#3ee03e"/>
<ellipse cx="3.0" cy="33.0" rx="1.5" ry="1.5" fill="#3ee03e"/>
<ellipse cx="25.2" cy="36.1" rx="1.5" ry="1.5" fill="#3ee03e"/>
<ellipse cx="32.6" cy="38.3" rx="1.2" ry="1.1" fill="#3ee03e"/>
<ellipse cx="10.4" cy="39.5" rx="1.3" ry="1.2" fill="#3ee03e"/>
<ellipse cx="14.2" cy="41.0" rx="1.8" ry="1.6" fill="#3ee03e"/>
<ellipse cx="0.0" cy="22.0" rx="1.7" ry="1.4" fill="#3ee03e"/>
<ellipse cx="41.1" cy="26.2" rx="1.3" ry="1.3" fill="#3ee03e"/>
<ellipse cx="18.2" cy="4.0" rx="1.7" ry="1.8" fill="#3ee03e"/>
</g></svg>
<rect x="631.20" y="17.20" width="42.40" height="42.50" fill="#120000"/>
<rect x="631.20" y="17.20" width="42.40" height="42.50" fill="#000" filter="url(#redtex)" opacity="0.65"/>
<svg x="631.20" y="17.20" width="42.40" height="42.50" overflow="hidden"><g filter="url(#rough)">
<g fill="#ff2618" stroke="#ff2618"><circle cx="4.8" cy="14.9" r="2.1" stroke="none"/><path d="M4.8 14.9 Q1.4 14.8 -1.8 16.8" fill="none" stroke-width="0.8"/><path d="M4.8 14.9 Q4.9 11.6 3.0 8.5" fill="none" stroke-width="0.8"/><path d="M4.8 14.9 Q1.3 15.3 -1.6 17.7" fill="none" stroke-width="0.8"/><path d="M4.8 14.9 Q3.1 13.9 0.9 14.1" fill="none" stroke-width="0.8"/><path d="M4.8 14.9 Q2.9 14.9 1.1 15.9" fill="none" stroke-width="0.8"/><path d="M4.8 14.9 Q8.6 14.4 11.7 11.8" fill="none" stroke-width="0.8"/><path d="M4.8 14.9 Q3.0 16.5 2.3 19.1" fill="none" stroke-width="0.8"/></g>
<g fill="#ff2618" stroke="#ff2618"><circle cx="19.3" cy="27.4" r="2.6" stroke="none"/><path d="M19.3 27.4 Q19.3 29.6 20.5 31.6" fill="none" stroke-width="0.8"/><path d="M19.3 27.4 Q19.5 29.9 21.2 32.1" fill="none" stroke-width="0.8"/><path d="M19.3 27.4 Q17.5 24.0 13.9 21.9" fill="none" stroke-width="0.8"/><path d="M19.3 27.4 Q19.1 31.2 21.2 34.8" fill="none" stroke-width="0.8"/><path d="M19.3 27.4 Q16.4 25.2 12.4 24.9" fill="none" stroke-width="0.8"/><path d="M19.3 27.4 Q20.7 25.8 21.1 23.5" fill="none" stroke-width="0.8"/><path d="M19.3 27.4 Q18.6 25.5 16.8 24.1" fill="none" stroke-width="0.8"/></g>
<g fill="#ff2618" stroke="#ff2618"><circle cx="32.8" cy="9.1" r="2.0" stroke="none"/><path d="M32.8 9.1 Q29.6 10.3 27.4 13.3" fill="none" stroke-width="0.8"/><path d="M32.8 9.1 Q31.1 7.7 28.8 7.3" fill="none" stroke-width="0.8"/><path d="M32.8 9.1 Q35.6 6.7 36.8 2.8" fill="none" stroke-width="0.8"/><path d="M32.8 9.1 Q32.2 11.8 33.2 14.6" fill="none" stroke-width="0.8"/><path d="M32.8 9.1 Q31.3 5.7 28.0 3.5" fill="none" stroke-width="0.8"/><path d="M32.8 9.1 Q34.2 11.7 36.9 13.3" fill="none" stroke-width="0.8"/><path d="M32.8 9.1 Q35.9 9.4 38.8 7.9" fill="none" stroke-width="0.8"/></g>
<g fill="#ff2618" stroke="#ff2618"><circle cx="38.5" cy="16.5" r="2.6" stroke="none"/><path d="M38.5 16.5 Q39.8 13.9 39.4 10.8" fill="none" stroke-width="0.8"/><path d="M38.5 16.5 Q36.9 19.1 37.0 22.4" fill="none" stroke-width="0.8"/><path d="M38.5 16.5 Q36.3 15.3 33.5 15.6" fill="none" stroke-width="0.8"/><path d="M38.5 16.5 Q40.6 15.0 41.6 12.4" fill="none" stroke-width="0.8"/><path d="M38.5 16.5 Q35.2 15.8 31.7 17.2" fill="none" stroke-width="0.8"/><path d="M38.5 16.5 Q40.9 13.7 41.4 9.7" fill="none" stroke-width="0.8"/><path d="M38.5 16.5 Q37.8 14.3 35.8 12.7" fill="none" stroke-width="0.8"/></g>
<g fill="#ff2618" stroke="#ff2618"><circle cx="3.9" cy="31.9" r="2.7" stroke="none"/><path d="M3.9 31.9 Q7.1 31.0 9.5 28.3" fill="none" stroke-width="0.8"/><path d="M3.9 31.9 Q5.0 29.3 4.5 26.2" fill="none" stroke-width="0.8"/><path d="M3.9 31.9 Q1.0 31.1 -2.1 32.1" fill="none" stroke-width="0.8"/><path d="M3.9 31.9 Q5.0 34.9 7.8 37.0" fill="none" stroke-width="0.8"/><path d="M3.9 31.9 Q5.7 30.7 6.7 28.6" fill="none" stroke-width="0.8"/><path d="M3.9 31.9 Q4.9 28.8 4.1 25.3" fill="none" stroke-width="0.8"/><path d="M3.9 31.9 Q4.8 33.6 6.7 34.5" fill="none" stroke-width="0.8"/></g>
<g fill="#ff2618" stroke="#ff2618"><circle cx="34.0" cy="37.7" r="2.5" stroke="none"/><path d="M34.0 37.7 Q33.7 40.1 34.9 42.5" fill="none" stroke-width="0.8"/><path d="M34.0 37.7 Q32.5 34.9 29.4 33.3" fill="none" stroke-width="0.8"/><path d="M34.0 37.7 Q34.9 34.8 34.0 31.7" fill="none" stroke-width="0.8"/><path d="M34.0 37.7 Q32.7 38.9 32.2 40.9" fill="none" stroke-width="0.8"/><path d="M34.0 37.7 Q35.2 39.6 37.3 40.6" fill="none" stroke-width="0.8"/><path d="M34.0 37.7 Q31.0 36.2 27.5 36.7" fill="none" stroke-width="0.8"/><path d="M34.0 37.7 Q33.9 40.3 35.3 42.8" fill="none" stroke-width="0.8"/></g>
<g fill="#ff2618" stroke="#ff2618"><circle cx="23.1" cy="12.3" r="2.7" stroke="none"/><path d="M23.1 12.3 Q20.0 13.4 17.7 16.2" fill="none" stroke-width="0.8"/><path d="M23.1 12.3 Q21.5 9.5 18.4 8.0" fill="none" stroke-width="0.8"/><path d="M23.1 12.3 Q20.2 11.8 17.3 13.2" fill="none" stroke-width="0.8"/><path d="M23.1 12.3 Q23.1 10.2 21.8 8.2" fill="none" stroke-width="0.8"/><path d="M23.1 12.3 Q25.2 9.3 25.3 5.4" fill="none" stroke-width="0.8"/><path d="M23.1 12.3 Q24.9 13.5 27.3 13.6" fill="none" stroke-width="0.8"/><path d="M23.1 12.3 Q22.5 14.2 23.1 16.3" fill="none" stroke-width="0.8"/></g>
<g fill="#ff2618" stroke="#ff2618"><circle cx="14.8" cy="40.9" r="2.1" stroke="none"/><path d="M14.8 40.9 Q14.0 39.0 12.2 37.7" fill="none" stroke-width="0.8"/><path d="M14.8 40.9 Q17.6 43.4 21.7 44.0" fill="none" stroke-width="0.8"/><path d="M14.8 40.9 Q12.0 41.8 10.0 44.3" fill="none" stroke-width="0.8"/><path d="M14.8 40.9 Q12.3 40.6 9.8 41.7" fill="none" stroke-width="0.8"/><path d="M14.8 40.9 Q12.6 40.9 10.6 42.2" fill="none" stroke-width="0.8"/><path d="M14.8 40.9 Q13.2 39.2 10.7 38.7" fill="none" stroke-width="0.8"/><path d="M14.8 40.9 Q15.6 43.0 17.5 44.4" fill="none" stroke-width="0.8"/></g>
</g></svg>
<svg x="631.20" y="17.20" width="42.40" height="42.50" overflow="hidden"><g filter="url(#bl4)">
<ellipse cx="4.7" cy="2.3" rx="1.2" ry="1.0" fill="#d8ec40"/>
<ellipse cx="15.7" cy="7.6" rx="1.7" ry="1.4" fill="#d8ec40"/>
<ellipse cx="32.6" cy="9.3" rx="1.8" ry="1.6" fill="#d8ec40"/>
<ellipse cx="22.1" cy="12.9" rx="1.2" ry="1.1" fill="#d8ec40"/>
<ellipse cx="4.7" cy="15.0" rx="1.3" ry="1.0" fill="#d8ec40"/>
<ellipse cx="37.9" cy="16.7" rx="1.4" ry="1.3" fill="#d8ec40"/>
<ellipse cx="34.3" cy="23.4" rx="1.3" ry="1.4" fill="#d8ec40"/>
<ellipse cx="18.9" cy="27.9" rx="1.4" ry="1.4" fill="#d8ec40"/>
<ellipse cx="4.7" cy="26.8" rx="1.4" ry="1.2" fill="#d8ec40"/>
<ellipse cx="3.0" cy="33.0" rx="1.5" ry="1.5" fill="#d8ec40"/>
<ellipse cx="25.2" cy="36.1" rx="1.5" ry="1.5" fill="#d8ec40"/>
<ellipse cx="32.6" cy="38.3" rx="1.2" ry="1.1" fill="#d8ec40"/>
<ellipse cx="10.4" cy="39.5" rx="1.3" ry="1.2" fill="#d8ec40"/>
<ellipse cx="14.2" cy="41.0" rx="1.8" ry="1.6" fill="#d8ec40"/>
<ellipse cx="0.0" cy="22.0" rx="1.7" ry="1.4" fill="#d8ec40"/>
<ellipse cx="41.1" cy="26.2" rx="1.3" ry="1.3" fill="#d8ec40"/>
<ellipse cx="18.2" cy="4.0" rx="1.7" ry="1.8" fill="#d8ec40"/>
</g></svg>
<rect x="544.00" y="60.30" width="43.20" height="42.70" fill="#120000"/>
<rect x="544.00" y="60.30" width="43.20" height="42.70" fill="#000" filter="url(#redtex2)" opacity="0.7"/>
<svg x="544.00" y="60.30" width="43.20" height="42.70" overflow="hidden"><g filter="url(#rough)">
<g fill="#ff2618" stroke="#ff2618"><circle cx="4.2" cy="9.0" r="3.0" stroke="none"/><path d="M4.2 9.0 Q4.4 13.1 7.0 16.8" fill="none" stroke-width="1.0"/><path d="M4.2 9.0 Q7.2 8.5 9.6 6.2" fill="none" stroke-width="1.0"/><path d="M4.2 9.0 Q3.6 6.6 1.7 4.8" fill="none" stroke-width="1.0"/><path d="M4.2 9.0 Q3.9 11.6 5.1 14.1" fill="none" stroke-width="1.0"/><path d="M4.2 9.0 Q4.0 6.6 2.5 4.4" fill="none" stroke-width="1.0"/><path d="M4.2 9.0 Q6.3 9.2 8.4 8.2" fill="none" stroke-width="1.0"/><path d="M4.2 9.0 Q4.3 11.1 5.7 13.0" fill="none" stroke-width="1.0"/></g>
<g fill="#ff2618" stroke="#ff2618"><circle cx="18.5" cy="19.2" r="3.2" stroke="none"/><path d="M18.5 19.2 Q15.9 20.8 14.5 23.7" fill="none" stroke-width="1.0"/><path d="M18.5 19.2 Q16.1 21.6 15.4 25.2" fill="none" stroke-width="1.0"/><path d="M18.5 19.2 Q16.2 19.9 14.5 22.0" fill="none" stroke-width="1.0"/><path d="M18.5 19.2 Q15.9 19.6 13.7 21.4" fill="none" stroke-width="1.0"/><path d="M18.5 19.2 Q20.6 22.4 24.4 24.1" fill="none" stroke-width="1.0"/><path d="M18.5 19.2 Q18.0 15.8 15.6 12.9" fill="none" stroke-width="1.0"/><path d="M18.5 19.2 Q21.1 18.0 22.7 15.4" fill="none" stroke-width="1.0"/></g>
<g fill="#ff2618" stroke="#ff2618"><circle cx="14.4" cy="27.4" r="2.8" stroke="none"/><path d="M14.4 27.4 Q11.6 27.9 9.3 30.1" fill="none" stroke-width="1.0"/><path d="M14.4 27.4 Q14.0 25.5 12.5 24.0" fill="none" stroke-width="1.0"/><path d="M14.4 27.4 Q11.2 27.2 8.2 28.8" fill="none" stroke-width="1.0"/><path d="M14.4 27.4 Q12.8 28.6 12.1 30.7" fill="none" stroke-width="1.0"/><path d="M14.4 27.4 Q14.4 25.4 13.3 23.6" fill="none" stroke-width="1.0"/><path d="M14.4 27.4 Q12.6 25.9 10.2 25.6" fill="none" stroke-width="1.0"/><path d="M14.4 27.4 Q16.5 28.6 19.0 28.4" fill="none" stroke-width="1.0"/></g>
<g fill="#ff2618" stroke="#ff2618"><circle cx="26.7" cy="28.4" r="2.6" stroke="none"/><path d="M26.7 28.4 Q27.8 31.7 30.8 34.1" fill="none" stroke-width="1.0"/><path d="M26.7 28.4 Q27.2 25.7 25.9 22.9" fill="none" stroke-width="1.0"/><path d="M26.7 28.4 Q25.8 25.5 23.2 23.4" fill="none" stroke-width="1.0"/><path d="M26.7 28.4 Q22.9 27.3 18.8 28.5" fill="none" stroke-width="1.0"/><path d="M26.7 28.4 Q24.2 31.4 23.7 35.7" fill="none" stroke-width="1.0"/><path d="M26.7 28.4 Q26.5 24.9 24.2 21.9" fill="none" stroke-width="1.0"/><path d="M26.7 28.4 Q28.7 29.1 31.0 28.6" fill="none" stroke-width="1.0"/></g>
<g fill="#ff2618" stroke="#ff2618"><circle cx="5.2" cy="38.6" r="2.5" stroke="none"/><path d="M5.2 38.6 Q2.0 41.1 0.6 45.4" fill="none" stroke-width="1.0"/><path d="M5.2 38.6 Q8.6 36.8 10.7 33.2" fill="none" stroke-width="1.0"/><path d="M5.2 38.6 Q7.0 41.7 10.4 43.4" fill="none" stroke-width="1.0"/><path d="M5.2 38.6 Q6.9 35.2 6.4 31.1" fill="none" stroke-width="1.0"/><path d="M5.2 38.6 Q6.4 36.7 6.4 34.2" fill="none" stroke-width="1.0"/><path d="M5.2 38.6 Q5.8 42.3 8.4 45.4" fill="none" stroke-width="1.0"/><path d="M5.2 38.6 Q6.1 34.7 4.6 30.7" fill="none" stroke-width="1.0"/></g>
<g fill="#ff2618" stroke="#ff2618"><circle cx="20.5" cy="35.5" r="2.9" stroke="none"/><path d="M20.5 35.5 Q22.6 34.6 24.0 32.6" fill="none" stroke-width="1.0"/><path d="M20.5 35.5 Q24.5 35.6 28.1 33.4" fill="none" stroke-width="1.0"/><path d="M20.5 35.5 Q18.9 36.9 18.3 39.1" fill="none" stroke-width="1.0"/><path d="M20.5 35.5 Q17.6 33.5 13.8 33.4" fill="none" stroke-width="1.0"/><path d="M20.5 35.5 Q18.8 36.7 18.0 38.9" fill="none" stroke-width="1.0"/><path d="M20.5 35.5 Q18.7 38.9 19.1 43.0" fill="none" stroke-width="1.0"/><path d="M20.5 35.5 Q23.1 38.6 27.4 39.9" fill="none" stroke-width="1.0"/></g>
<g fill="#ff2618" stroke="#ff2618"><circle cx="36.9" cy="23.3" r="2.7" stroke="none"/><path d="M36.9 23.3 Q36.9 25.5 38.1 27.5" fill="none" stroke-width="1.0"/><path d="M36.9 23.3 Q40.8 24.0 44.8 22.3" fill="none" stroke-width="1.0"/><path d="M36.9 23.3 Q35.4 24.9 35.1 27.2" fill="none" stroke-width="1.0"/><path d="M36.9 23.3 Q35.7 19.5 32.4 16.8" fill="none" stroke-width="1.0"/><path d="M36.9 23.3 Q40.1 24.5 43.7 23.8" fill="none" stroke-width="1.0"/><path d="M36.9 23.3 Q39.4 21.6 40.6 18.6" fill="none" stroke-width="1.0"/><path d="M36.9 23.3 Q34.1 20.8 30.0 20.1" fill="none" stroke-width="1.0"/></g>
</g></svg>
<rect x="587.80" y="60.30" width="42.80" height="42.70" fill="#030603"/>
<svg x="587.80" y="60.30" width="42.80" height="42.70" overflow="hidden"><g filter="url(#bl4)">
<ellipse cx="9.4" cy="8.5" rx="1.2" ry="1.1" fill="#3ee03e"/>
<ellipse cx="21.0" cy="13.8" rx="1.2" ry="1.0" fill="#3ee03e"/>
<ellipse cx="32.6" cy="4.3" rx="1.7" ry="1.7" fill="#3ee03e"/>
<ellipse cx="36.9" cy="14.8" rx="1.5" ry="1.5" fill="#3ee03e"/>
<ellipse cx="26.7" cy="15.9" rx="1.5" ry="1.6" fill="#3ee03e"/>
<ellipse cx="3.0" cy="29.7" rx="1.6" ry="1.3" fill="#3ee03e"/>
<ellipse cx="11.5" cy="32.4" rx="1.6" ry="1.5" fill="#3ee03e"/>
<ellipse cx="26.3" cy="31.1" rx="1.5" ry="1.3" fill="#3ee03e"/>
<ellipse cx="18.9" cy="37.5" rx="1.6" ry="1.4" fill="#3ee03e"/>
<ellipse cx="29.7" cy="3.2" rx="1.4" ry="1.2" fill="#3ee03e"/>
<ellipse cx="0.7" cy="6.7" rx="1.3" ry="1.2" fill="#3ee03e"/>
</g></svg>
<rect x="631.20" y="60.30" width="42.40" height="42.70" fill="#120000"/>
<rect x="631.20" y="60.30" width="42.40" height="42.70" fill="#000" filter="url(#redtex2)" opacity="0.7"/>
<svg x="631.20" y="60.30" width="42.40" height="42.70" overflow="hidden"><g filter="url(#rough)">
<g fill="#ff2618" stroke="#ff2618"><circle cx="4.2" cy="9.0" r="3.0" stroke="none"/><path d="M4.2 9.0 Q4.4 13.1 7.0 16.8" fill="none" stroke-width="1.0"/><path d="M4.2 9.0 Q7.2 8.5 9.6 6.2" fill="none" stroke-width="1.0"/><path d="M4.2 9.0 Q3.6 6.6 1.7 4.8" fill="none" stroke-width="1.0"/><path d="M4.2 9.0 Q3.9 11.6 5.1 14.1" fill="none" stroke-width="1.0"/><path d="M4.2 9.0 Q4.0 6.6 2.5 4.4" fill="none" stroke-width="1.0"/><path d="M4.2 9.0 Q6.3 9.2 8.4 8.2" fill="none" stroke-width="1.0"/><path d="M4.2 9.0 Q4.3 11.1 5.7 13.0" fill="none" stroke-width="1.0"/></g>
<g fill="#ff2618" stroke="#ff2618"><circle cx="18.5" cy="19.2" r="3.2" stroke="none"/><path d="M18.5 19.2 Q15.9 20.8 14.5 23.7" fill="none" stroke-width="1.0"/><path d="M18.5 19.2 Q16.1 21.6 15.4 25.2" fill="none" stroke-width="1.0"/><path d="M18.5 19.2 Q16.2 19.9 14.5 22.0" fill="none" stroke-width="1.0"/><path d="M18.5 19.2 Q15.9 19.6 13.7 21.4" fill="none" stroke-width="1.0"/><path d="M18.5 19.2 Q20.6 22.4 24.4 24.1" fill="none" stroke-width="1.0"/><path d="M18.5 19.2 Q18.0 15.8 15.6 12.9" fill="none" stroke-width="1.0"/><path d="M18.5 19.2 Q21.1 18.0 22.7 15.4" fill="none" stroke-width="1.0"/></g>
<g fill="#ff2618" stroke="#ff2618"><circle cx="14.4" cy="27.4" r="2.8" stroke="none"/><path d="M14.4 27.4 Q11.6 27.9 9.3 30.1" fill="none" stroke-width="1.0"/><path d="M14.4 27.4 Q14.0 25.5 12.5 24.0" fill="none" stroke-width="1.0"/><path d="M14.4 27.4 Q11.2 27.2 8.2 28.8" fill="none" stroke-width="1.0"/><path d="M14.4 27.4 Q12.8 28.6 12.1 30.7" fill="none" stroke-width="1.0"/><path d="M14.4 27.4 Q14.4 25.4 13.3 23.6" fill="none" stroke-width="1.0"/><path d="M14.4 27.4 Q12.6 25.9 10.2 25.6" fill="none" stroke-width="1.0"/><path d="M14.4 27.4 Q16.5 28.6 19.0 28.4" fill="none" stroke-width="1.0"/></g>
<g fill="#ff2618" stroke="#ff2618"><circle cx="26.7" cy="28.4" r="2.6" stroke="none"/><path d="M26.7 28.4 Q27.8 31.7 30.8 34.1" fill="none" stroke-width="1.0"/><path d="M26.7 28.4 Q27.2 25.7 25.9 22.9" fill="none" stroke-width="1.0"/><path d="M26.7 28.4 Q25.8 25.5 23.2 23.4" fill="none" stroke-width="1.0"/><path d="M26.7 28.4 Q22.9 27.3 18.8 28.5" fill="none" stroke-width="1.0"/><path d="M26.7 28.4 Q24.2 31.4 23.7 35.7" fill="none" stroke-width="1.0"/><path d="M26.7 28.4 Q26.5 24.9 24.2 21.9" fill="none" stroke-width="1.0"/><path d="M26.7 28.4 Q28.7 29.1 31.0 28.6" fill="none" stroke-width="1.0"/></g>
<g fill="#ff2618" stroke="#ff2618"><circle cx="5.2" cy="38.6" r="2.5" stroke="none"/><path d="M5.2 38.6 Q2.0 41.1 0.6 45.4" fill="none" stroke-width="1.0"/><path d="M5.2 38.6 Q8.6 36.8 10.7 33.2" fill="none" stroke-width="1.0"/><path d="M5.2 38.6 Q7.0 41.7 10.4 43.4" fill="none" stroke-width="1.0"/><path d="M5.2 38.6 Q6.9 35.2 6.4 31.1" fill="none" stroke-width="1.0"/><path d="M5.2 38.6 Q6.4 36.7 6.4 34.2" fill="none" stroke-width="1.0"/><path d="M5.2 38.6 Q5.8 42.3 8.4 45.4" fill="none" stroke-width="1.0"/><path d="M5.2 38.6 Q6.1 34.7 4.6 30.7" fill="none" stroke-width="1.0"/></g>
<g fill="#ff2618" stroke="#ff2618"><circle cx="20.5" cy="35.5" r="2.9" stroke="none"/><path d="M20.5 35.5 Q22.6 34.6 24.0 32.6" fill="none" stroke-width="1.0"/><path d="M20.5 35.5 Q24.5 35.6 28.1 33.4" fill="none" stroke-width="1.0"/><path d="M20.5 35.5 Q18.9 36.9 18.3 39.1" fill="none" stroke-width="1.0"/><path d="M20.5 35.5 Q17.6 33.5 13.8 33.4" fill="none" stroke-width="1.0"/><path d="M20.5 35.5 Q18.8 36.7 18.0 38.9" fill="none" stroke-width="1.0"/><path d="M20.5 35.5 Q18.7 38.9 19.1 43.0" fill="none" stroke-width="1.0"/><path d="M20.5 35.5 Q23.1 38.6 27.4 39.9" fill="none" stroke-width="1.0"/></g>
<g fill="#ff2618" stroke="#ff2618"><circle cx="36.9" cy="23.3" r="2.7" stroke="none"/><path d="M36.9 23.3 Q36.9 25.5 38.1 27.5" fill="none" stroke-width="1.0"/><path d="M36.9 23.3 Q40.8 24.0 44.8 22.3" fill="none" stroke-width="1.0"/><path d="M36.9 23.3 Q35.4 24.9 35.1 27.2" fill="none" stroke-width="1.0"/><path d="M36.9 23.3 Q35.7 19.5 32.4 16.8" fill="none" stroke-width="1.0"/><path d="M36.9 23.3 Q40.1 24.5 43.7 23.8" fill="none" stroke-width="1.0"/><path d="M36.9 23.3 Q39.4 21.6 40.6 18.6" fill="none" stroke-width="1.0"/><path d="M36.9 23.3 Q34.1 20.8 30.0 20.1" fill="none" stroke-width="1.0"/></g>
</g></svg>
<svg x="631.20" y="60.30" width="42.40" height="42.70" overflow="hidden"><g filter="url(#bl4)">
<ellipse cx="9.4" cy="8.5" rx="1.2" ry="1.1" fill="#40e040"/>
<ellipse cx="21.0" cy="13.8" rx="1.2" ry="1.0" fill="#40e040"/>
<ellipse cx="32.6" cy="4.3" rx="1.7" ry="1.7" fill="#40e040"/>
<ellipse cx="36.9" cy="14.8" rx="1.5" ry="1.5" fill="#40e040"/>
<ellipse cx="26.7" cy="15.9" rx="1.5" ry="1.6" fill="#40e040"/>
<ellipse cx="3.0" cy="29.7" rx="1.6" ry="1.3" fill="#40e040"/>
<ellipse cx="11.5" cy="32.4" rx="1.6" ry="1.5" fill="#40e040"/>
<ellipse cx="26.3" cy="31.1" rx="1.5" ry="1.3" fill="#40e040"/>
<ellipse cx="18.9" cy="37.5" rx="1.6" ry="1.4" fill="#40e040"/>
<ellipse cx="29.7" cy="3.2" rx="1.4" ry="1.2" fill="#40e040"/>
<ellipse cx="0.7" cy="6.7" rx="1.3" ry="1.2" fill="#40e040"/>
</g></svg>
<text x="546.00" y="24.60" font-size="7.52" fill="#fff" stroke="#fff" stroke-width="0.08" textLength="20.50" lengthAdjust="spacingAndGlyphs">21 dpi</text>
<line x1="665.00" y1="101.30" x2="673.00" y2="101.30" stroke="#fff" stroke-width="0.9"/>
<text x="1.20" y="123.40" font-size="22" font-weight="bold">f</text>
<text x="32.80" y="123.40" font-size="8.8" stroke="#000" stroke-width="0.08" textLength="120.10" lengthAdjust="spacingAndGlyphs">Ngn2+shOlig2 VS Ngn2+shNC</text>
<rect x="33.5" y="127.2" width="121.3" height="121.1" fill="none" stroke="#888" stroke-width="0.5"/>
<line x1="89.40" y1="127.20" x2="89.40" y2="248.30" stroke="#444" stroke-width="0.45" stroke-dasharray="1.2 1.0"/>
<line x1="98.60" y1="127.20" x2="98.60" y2="248.30" stroke="#444" stroke-width="0.45" stroke-dasharray="1.2 1.0"/>
<line x1="32.30" y1="243.30" x2="33.50" y2="243.30" stroke="#777" stroke-width="0.35"/>
<text x="31.90" y="244.20" font-size="2.6" text-anchor="end" fill="#777">0</text>
<line x1="32.30" y1="206.80" x2="33.50" y2="206.80" stroke="#777" stroke-width="0.35"/>
<text x="31.90" y="207.70" font-size="2.6" text-anchor="end" fill="#777">20</text>
<line x1="32.30" y1="171.40" x2="33.50" y2="171.40" stroke="#777" stroke-width="0.35"/>
<text x="31.90" y="172.30" font-size="2.6" text-anchor="end" fill="#777">40</text>
<line x1="32.30" y1="135.00" x2="33.50" y2="135.00" stroke="#777" stroke-width="0.35"/>
<text x="31.90" y="135.90" font-size="2.6" text-anchor="end" fill="#777">60</text>
<line x1="58.80" y1="248.30" x2="58.80" y2="249.50" stroke="#777" stroke-width="0.35"/>
<text x="58.80" y="251.90" font-size="2.6" text-anchor="middle" fill="#777">-2</text>
<line x1="94.30" y1="248.30" x2="94.30" y2="249.50" stroke="#777" stroke-width="0.35"/>
<text x="94.30" y="251.90" font-size="2.6" text-anchor="middle" fill="#777">0</text>
<line x1="129.60" y1="248.30" x2="129.60" y2="249.50" stroke="#777" stroke-width="0.35"/>
<text x="129.60" y="251.90" font-size="2.6" text-anchor="middle" fill="#777">2</text>
<path transform="scale(0.2)" d="M192 662l6 88 136 82-62 31 38 47 8-10 4 20-9 2 27 8-10 20-25 24 45-14 15 10-5 25-17 8-22 12 58-9-29 26-6-3-12 2 0-11 8 15 3 6 2-3 13 4 5-3 5-4 8 5 17 21-4-10-20 10-5-6-31 1 16 10 8 11 12-11 0 1 8 2 2-3 3 2 0 9 8-5 13-1 10 12-5 0-1 1-4 9-11 1-3-6-11 0-2 1-17-1-10 4 10 9 7-5 4 7 4 0 4-1 2 1 0 4 1-5 8 4 3-4 1 5 1-7 0 0 3 7 2-2 4-5 1 5 2-8 1 8 2 1 9 15-1 3 0-1-4-1 0-9-3 1-1-1-2-3-8 14-6-7 0-1-1-4 0-2-1 8-1-2-3-4-3 4-16 5-2-6 9 18 3-3 5-2 3 3 1-4 1 5 0 4 4-1 2-10 1 6 1 8 1-8 3 1 1-3 2 4 2-6 1 1 0 6 5 1 0 1 6-2 1 4 1-4 2-9 2 11 1 1 1-7 6 3 2 6-1 15-1 0-3-3 0-5-3 1 0-1 0-2-1-3-3 0-3 9 0-5-1-2-1 8 0-3-2-5-1 8 0-11-2 13 0-2-1-3 0-3-1 4-2 4-1 0 0-11-1 4-1-1-2 6 0-9 0-2-1 4-1 10 0-14-2 5-1-2-2 10-2 1-1-7-3-5-1 11-8-10 1 14 8 9 7-6 1-3 1-1 3 10 0 2 1 0 2-11 0 12 1 0 2-9 0 6 0 2 1 0 1-11 2-1 2 12 2-13 1 2 0 1 1-3 0 11 1-7 0 0 0 4 0 4 1-11 0 8 1-5 1 1 2-4 0 9 0 4 1-11 0 1 1 4 0 6 1-2 0 2 1-2 1-9 5 6 6 3 3-3 1-3 2 21-4 2-3-9 0-1 0-2-1 10-1 1-4-1 0-2-1-3 0-6-1 7 0-7 0-1-1 13 0 0 0-7-1 7 0-9-1-2-1 0 0-2-1 9 0-9-1 5 0-1 0-2 0-1-1 7 0-3-1 9 0 0 0-3-1 3 0-3 0-11-1 11-2-3 0-4 0-3 0-1-1 12 0-2-1-8 0-2-1 11 0-2 0-6 0-2-1 11 0-4 0-5-1 9 0-4 0 0-2 5 0-2 0-10-1 10 0-4-1-4-2-1 0-1-1 7-1 0-1 4-1-12-2 9-1 3-10-8 8 24 7-9 2-2 1 2 0 2 4 6 1-2 0 2 1-6 1 5 0 2 2-6 1-4 0 3 0 1 1 0 1 6 1-10 1 8 0 1 0 0 0 1 0 1 2-13 0 3 0 6 0 3 1-3 0 1 0 0 1-9 0 10 0 0 0 2 1-7 1-7 1 5 0 4 1-7 0 9 1-11 0 12 1-7 0 0 1 7 0 2 1-13 0 2 1 3 0 8 2-10 0 2 1-6 0 2 0 8 0 4 1-11 0 5 0 5 1-13 0 6 0 2 0 3 0 3 0 0 1-2 0 2 1-12 0 4 0 1 0 2 0 3 1-10 1-1 0 0 1 2 0 4 0 21 0-2 0-8-1 10 0 0 0-2 0 0-1 3 0-2 0-1 0-2 0 0 0-7 0 0-1 10-1 1 0-2 0-1 0-2 0-1 0-2 0-3-1 11 0 0 0 0 0-3 0-1 0-1-1 3 0-1 0 0 0-3 0-1 0 0 0-4-1 12 0-3 0-4 0 0 0-1 0-1 0-2 0-3-1 14 0-11-1 7 0 0 0-3 0-4-1 5 0-1 0-1 0-5-1 12 0-9 0-2 0-1 0-1-1 13 0-3 0 0 0-5 0-5-1 13 0-3 0 0 0-2 0 0 0-1 0-1 0-6-1 13 0 0 0-1 0-8 0 0 0-4-1 11 0-2 0-2 0 0 0-2-1 9 0-4 0-2 0-6-1 12-1-2 0-1-1 2 0-1 0-2 0-1-1 4-1-1 0-4 0-2 0-5-1 12 0-1 0-2-1-9-1 6 0-7-1 2-3 6 0-5 0-2-1 1 0-1 0-1-1 2-1 4-1 3-1-2-1-7-5 5-3-1 8 11 11 0 2 1 7 0 0 0 2 0 2 0 1 0 3-1 0 1 2 0 0 0 1 0 1-1 0 0 1 0 0 1 1-1" fill="none" marker-start="url(#k5)" marker-mid="url(#k5)" marker-end="url(#k5)"/>
<path transform="scale(0.2)" d="M598 869l-20 71 34 30-5 5-4 5-40 11 34 6-1 9-45 26 7 1 17-13 15 15-12 11-6 1-20-9-3 5 14 19 1-12 3 0 17 2 31 8-34 17-3 2-7-10-8 2-16 1-17-1-4 15 7 4 1-3 11 2 0 2 3-4 0 7 7-7 2 5 1 2 2-12 9 14-5 2-5 5-2 5 0-4 0-5-4 1-1 5-4 4-9-1-1-11-3 10 0-5-3 5-4-11-1 7-18-1 9 16 8 3 0 1 4-11 0 13 8-1 1-5 0 5 0 1 4-7 2 3 6-5 0 3 1 1 2-4 22-5-16 16-1 12-3-7-1 0-3-3-3 3-1 2-1-4-1-1-1 3-2 6-1-6-1 6-2-3 0-2-2-5-2 3-5 8-1-3-2 4-6-6-1 0-1 0-7 1-11 1 2 19 1-9 5-2 1 8 5-8 3 4 0 6 3-12 0 8 1-6 1 7 2 0 0 4 1-13 1 11 0 2 1-3 0 1 1-7 0 3 0 1 1-4 1 0 0 6 0 3 1-10 0 6 0 2 1-4 1-8 2 5 0 4 2-8 0 5 1 7 2 1 1-13 3 5 0 5 3-7 7-2 0 9 3-3 124 2-124 5-3 0-5 11-1-7-1 7-1-2-3 1-3 0 0-1-1-2-1-2-1 7-1 0 0-1 0-7-3 2-1 3 0-9-1 8 0-5-1 6 0-8 0-1-1 0-1 13-1-8-2 9 0-9-1 5-1-5-1 5 0-6 0-4-1 9 0-1 0-2-1 3 0-6-1 10 0-2 0-4-1 5 0-10-1 1 0-2-1 11 0-7-1 4 0-2 0-1-3 2 0-4 0-2-2 3-2 8-2 0 0-1-2 0 0-2 0-6-1 5 0-3-1 8 0 0 0-8 0-1-1-5-1 11 0-3 0-7-3 11 1 3 0 13 1-13 0 3 0 6 0 4 1-8 0 3 1-4 0 3 0 6 1-8 0 7 1-10 0 9 1-10 1-1 0 4 0 2 2-4 0 1 0 4 1 6 0 1 1-12 0 0 0 2 0 4 0 1 0 2 0 2 1-11 0 6 1-8 0 4 0 0 1 0 0 1 1-5 0 8 0 2 1-6 0 7 0 0 1-11 0 1 0 3 0 10 0 0 1-12 0 3 1-4 0 3 0 6 0 3 1-9 0 1 0 3 0 5 0 0 1-5 0 4 3-6 0 7 1-12 0 5 0 8 1-14 0 2 1 9 1-10 0 3 0 0 1 0 0 8 1-11 0 4 0 2 0 3 0 4 1-13 0 11 1 0 1-11 1 5 0 8 1-2 1-8 1 9 1-5 2-4 1 1 1-1 0 3 1 1 1-4 2-2 0 2 3 11-6 8-1 4 0-9-6 1 0-1-1 7-2-1-2 5 0-9 0-3-1 6-2 4 0-8-1 6 0-6 0-2-1 11 0-3 0-7-1 11 0-3 0-1 0 0 0-3-1 0 0 0 0-7-1 13 0 0 0-1 0-3-1 3 0-6 0-2 0-2-1 9-1 2 0-4 0-5 0-2 0-2-1 14 0-14-1 14 0-5 0-3 0-2-1 7 0-1 0-1 0-1-1 1-1-2 0 0 0-2 0-4-1 12 0-2 0-1 0 0 0-3 0-1 0-6-1 13 0-4 0-3 0-6-1 13 0 0 0-5 0-7-1 13-1-1 0-3 0-5 0-1 0-4-1 11 0-4 0 0 0-1-1 0 0-1 0-2-1 5 0-5-1 11 0-1-1-1 0-1 0-8 0-3-1 9 0-7 0-2-1 8-1 6 0-1 0 0 0-5 0-6-1 10 0-1-1 3 0-1 0-1 0-5 0-3-1 6 0-6 0 12 0 3 0 1 0 0 0 0 0 1 0 4 0 1 0 2 0 0 1-13 0 1 0 0 0 1 0 1 0 1 0 1 0 1 0 1 0 0 0 2 0 1 0 0 0 1 0 0 0 1 0 1 0 1 0 0 0 0 1-11 0 4 0 3 0 2 0 0 0 1 1-13 0 0 0 0 0 11 0 0 0 2 0 0 0 1 1-14 0 7 0 1 0 1 0 2 0 2 0 1 0 0 0 0 1-14 0 7 0 6 0 1 0 0 1-14 0 0 0 1 0 1 0 2 0 1 0 0 0 1 0 2 0 1 0 3 0 1 0 1 1-14 0 4 0 0 0 0 0 1 0 2 0 4 0 0 0 1 0 1 0 0 1-12 0 4 0 0 0 1 0 8 1-12 0 3 0 1 0 4 0 1 0 2 1-13 0 4 0 1 0 0 0 1 0 3 0 0 0 1 0 3 1-9 0 0 0 6 0 1 0 2 0 1 1-14 0 0 0 0 0 2 0 1 0 1 0 4 1-6 0 2 0 2 0 2 0 1 0 2 0 0 1-10 0 4 0 4 0 4 1-12 0 3 0 0 0 2 0 4 0 3 1-3 0 4 1-9 1-4 0 4 0 0 0 5 0 1 0 1 1-9 0 9 0 2 1-14 0 8 0 3 1-11 0 0 0 2 0 4 0 3 0 5 1-11 0 4 0 4 0 2 1-11 0 1 0 4 0 4 1-10 0 5 1-3 0 10 1-12 0 12 1-12 0 11 0 2 2-14 0 13 1-9 3 1 1-3 7 3-10 10-4 1-2 0-1 0-2 0-3 0 0 0-2-1-1 1 0-1-1 0-3 0-2 0-1 0-1 1 0-1-1 1-1 0 0-1-2 1 0 0-1 0 0-1-1 1 0-1 0 0-1 1 0-1 0 0 0 0-1 1" fill="none" marker-start="url(#k6)" marker-mid="url(#k6)" marker-end="url(#k6)"/>
<path transform="scale(0.2)" d="M446 1197l2 2 4-2 1-6 0 7 4-5 0 3 1-10 0 8 2 3 2 0 3 0 0 2 1-1 0 1 0 0 1-4 1 0 2 0 0 0 0 2 1 2 1-1 3-8 3 7 2 1 3-3 0 2 0 1 6-1 1-2 1-6 2 4 0 3 1-6 1 7 0 0 14 14-2-1-2 0-1 2 0-11-3 13 0-2-2-4 0-3-1-1-1 10 0-2 0-2-1 4 0-1 0-8-1 6 0-2 0 0 0-2-1 7 0-1-1-6 0 0 0 0-1 6 0-9-1 10 0 0 0-4 0-1 0-2 0-1-1 7-1-3 0-1 0 0 0-3 0-1 0-4-1 10 0 0 0 0 0 0 0-1-1 4 0 0 0 0 0-1 0 0 0 0 0 0 0-3 0-1 0-5 0-2-1 8 0-3 0-1 0-1-1 8 0 0 0-1 0-2 0 0 0-1 0 0 0-2 0-2 0-4-1 13 0 0 0-3 0 0 0-1 0-1 0-2 0-2 0-2-1 8 0-1 0-2 0-2 0-3 0 0 0-2-1 13 0 0 0-2 0-1 0-1 0-3 0-7-1 14 0 0 0-3 0-1 0-1 0-1 0-5-1 11 0-2 0-2 0-1 0-1 0-1 0-1 0 0 0-2 0 0-1 10 0 0 0-2 0 0 0-1 0-1 0-1 0-8-1 11 0 0 0-1 0-4 0 0 0-1-1 8 0-1 0 0 0 0 0 0 0-1 0-1 0-1 0 0 0 0 0-1 0-1 0 0 0-2 0-2-1 9 0 0 0 0 0-1 0-1 0-2 0-8-1 13 0 0 0-1 0 0 0 0 0-2 0-1 0-1 0-1-1 6 0 0 0-1 0-1 0 0 0-1 0-1 0-4 0 0 0 0 0-5-1 13 0 0 0 0 0-2 0-2 0 0 0-1 0-1 0-4 0 0 0-1 0-1 0-1 0 0 0-1-1 13 0 0 0 0 0-5 0-2 0-3 0-1-1 11 0 0 0 0 0-1 0-1 0 0 0-1 0-1 0-1 0-2 0-4-1 12 0 0 0-3 0 0 0-3 0-2-1 8 0 0 0-1 0 0 0-3 0-2 0 0 0-1 0 0 0-5 0-1 0-1-1 13 0-2 0 0 0-1 0-5-1 9 0-2 0-1 0-4 0 0 0 0 0-2-1 7 0 0 0-3 0 0 0-1 0 0 0 0 0-1 0 0 0-1 0 0 0 0 0-2 0-2-1 11 0-1 0 0 0 0 0-2 0-1 0-1 0 0 0-2 0-1 0 0 0-3-1 12 0-1 0-1 0-1 0 0 0-2 0-1 0-1 0 0 0 0 0-6 0-1-1 14 0-1 0-1 0-1 0-1 0-1 0-6 0-1-1 12 0 0 0-2 0 0 0-2 0-1 0 0 0-1 0-4-1 9 0-1 0-1 0-1 0 0 0-2 0-1 0-3 0-2 0-1 0 0-1 12 0-2 0 0 0 0 0-2 0-2 0 0 0-2 0-1-1 10 0-2 0 0 0-2 0-2 0-2 0-1 0-2 0-1-1 12 0-2 0-7 0-3-1 11 0-2 0-1 0 0 0-2 0-3-1 9 0 0 0-1 0-2 0-1 0-2 0-1 0-3-1 8 0-2 0-2 0 0 0 0 0-1 0-2 0-1 0-1 0-1-1 11 0-1 0-3 0-1 0-1 0-1-1 6 0-3 0 0 0-5-1-3-1 11 0-8 0-3 0-1-1 13 0 0 0-2 0-5-1 8 0-7 0-2-1 7 0 0 0-1 0 0 0-2 0-5 0-1-1 9 0-5 0 0 0-7-1 13 0-3 0-6-1 10-1-13-1 12 0-1 0-4-1-2 0-1-2 8-1-2-4-5-3-1-1-4-1 3-14 1 5 10 3 1 14 0 0 0 9 0 2 0 1-1 1 1 4 0 4-1 0 1 1 0 1-1 2 0 0 1 1-1 0 0 0 0 0 0 0 0 0 1 1-1 1 0 0 0 0 1 1-1 1 1 2-1 0 0 1 0 0 1 1 0 0 0 2-1 0 0 0 1 0 0 2-1 1 1 1-1 0 1 1-1 1 0 1 0 0 1 0 0 0 0 1-1 1 0 0 0 0 1 1 0 0 0 1-1 1 0 1 0 0 0 0 1 1-1 0 0 0 1 2-1 1 0 1 0 4 1 1-1 0 0 3 1 4-1 4 0 2 0 8 1" fill="none" marker-start="url(#k7)" marker-mid="url(#k7)" marker-end="url(#k7)"/>
<text x="52.00" y="186.70" font-size="4.9" fill="#222" textLength="14.00" lengthAdjust="spacingAndGlyphs">S100b</text>
<text x="57.30" y="197.40" font-size="4.9" fill="#222" textLength="9.60" lengthAdjust="spacingAndGlyphs">Gjb6</text>
<text x="70.10" y="199.50" font-size="4.9" fill="#222" textLength="14.60" lengthAdjust="spacingAndGlyphs">Slc1a2</text>
<text x="59.10" y="217.50" font-size="4.9" fill="#222" textLength="11.80" lengthAdjust="spacingAndGlyphs">Aldoc</text>
<text x="73.00" y="217.50" font-size="4.9" fill="#222" textLength="11.60" lengthAdjust="spacingAndGlyphs">Olig2</text>
<text x="73.00" y="228.80" font-size="4.9" fill="#222" textLength="10.60" lengthAdjust="spacingAndGlyphs">Aqp4</text>
<text x="82.80" y="240.00" font-size="4.9" fill="#222" textLength="7.80" lengthAdjust="spacingAndGlyphs">Clu</text>
<text x="94.00" y="235.30" font-size="4.9" fill="#222" textLength="8.50" lengthAdjust="spacingAndGlyphs">Nfix</text>
<text x="93.30" y="243.80" font-size="4.9" fill="#222" textLength="10.50" lengthAdjust="spacingAndGlyphs">Olig1</text>
<text x="108.70" y="199.50" font-size="4.9" fill="#222" textLength="8.10" lengthAdjust="spacingAndGlyphs">Vim</text>
<text x="102.00" y="216.40" font-size="4.9" fill="#222" textLength="11.00" lengthAdjust="spacingAndGlyphs">Sox4</text>
<text x="111.70" y="222.20" font-size="4.9" fill="#222" textLength="8.50" lengthAdjust="spacingAndGlyphs">Nes</text>
<text x="103.80" y="228.80" font-size="4.9" fill="#222" textLength="11.00" lengthAdjust="spacingAndGlyphs">Pax6</text>
<text x="106.40" y="236.60" font-size="4.9" fill="#222" textLength="13.10" lengthAdjust="spacingAndGlyphs">Stmn1</text>
<circle cx="105.20" cy="130.20" r="0.80" fill="#5cc4cc"/>
<text x="106.80" y="131.80" font-size="4.6" textLength="46.80" lengthAdjust="spacingAndGlyphs">Downregulation (597)</text>
<circle cx="105.20" cy="138.80" r="0.80" fill="#ea8a68"/>
<text x="106.80" y="140.40" font-size="4.6" textLength="43.50" lengthAdjust="spacingAndGlyphs">Upregulation (1201)</text>
<circle cx="105.20" cy="147.60" r="0.80" fill="#bbb"/>
<text x="106.80" y="149.20" font-size="4.6" textLength="31.70" lengthAdjust="spacingAndGlyphs">Not Significant</text>
<text x="0" y="0" font-size="8.8" text-anchor="middle" stroke="#000" stroke-width="0.08" textLength="43.00" lengthAdjust="spacingAndGlyphs" transform="translate(25.47 188.50) rotate(-90)">-log10(pval)</text>
<text x="94.30" y="259.80" font-size="8.8" text-anchor="middle" stroke="#000" stroke-width="0.08" textLength="42.00" lengthAdjust="spacingAndGlyphs">avg_log2FC</text>
<text x="179.00" y="125.50" font-size="22" font-weight="bold">g</text>
<text x="261.60" y="129.50" font-size="10.6" stroke="#000" stroke-width="0.08" textLength="119.40" lengthAdjust="spacingAndGlyphs">GO_BP_Downregulation</text>
<line x1="303.30" y1="138.40" x2="303.30" y2="245.10" stroke="#333" stroke-width="0.6"/>
<line x1="303.30" y1="245.10" x2="420.80" y2="245.10" stroke="#333" stroke-width="0.6"/>
<rect x="305.30" y="141.25" width="110.00" height="4.50" fill="#d4d4d4"/>
<line x1="302.00" y1="143.50" x2="303.30" y2="143.50" stroke="#333" stroke-width="0.5"/>
<rect x="305.30" y="151.65" width="88.90" height="4.50" fill="#d4d4d4"/>
<line x1="302.00" y1="153.90" x2="303.30" y2="153.90" stroke="#333" stroke-width="0.5"/>
<rect x="305.30" y="162.35" width="72.60" height="4.50" fill="#d4d4d4"/>
<line x1="302.00" y1="164.60" x2="303.30" y2="164.60" stroke="#333" stroke-width="0.5"/>
<rect x="305.30" y="172.95" width="65.80" height="4.50" fill="#d4d4d4"/>
<line x1="302.00" y1="175.20" x2="303.30" y2="175.20" stroke="#333" stroke-width="0.5"/>
<rect x="305.30" y="183.35" width="57.70" height="4.50" fill="#d4d4d4"/>
<line x1="302.00" y1="185.60" x2="303.30" y2="185.60" stroke="#333" stroke-width="0.5"/>
<rect x="305.30" y="193.75" width="55.60" height="4.50" fill="#d4d4d4"/>
<line x1="302.00" y1="196.00" x2="303.30" y2="196.00" stroke="#333" stroke-width="0.5"/>
<rect x="305.30" y="204.45" width="49.70" height="4.50" fill="#d4d4d4"/>
<line x1="302.00" y1="206.70" x2="303.30" y2="206.70" stroke="#333" stroke-width="0.5"/>
<rect x="305.30" y="214.85" width="49.70" height="4.50" fill="#d4d4d4"/>
<line x1="302.00" y1="217.10" x2="303.30" y2="217.10" stroke="#333" stroke-width="0.5"/>
<rect x="305.30" y="225.45" width="49.30" height="4.50" fill="#d4d4d4"/>
<line x1="302.00" y1="227.70" x2="303.30" y2="227.70" stroke="#333" stroke-width="0.5"/>
<rect x="305.30" y="235.85" width="46.00" height="4.50" fill="#d4d4d4"/>
<line x1="302.00" y1="238.10" x2="303.30" y2="238.10" stroke="#333" stroke-width="0.5"/>
<circle cx="415.30" cy="143.50" r="5.10" fill="#52bec0"/>
<text x="415.30" y="145.30" font-size="5.2" text-anchor="middle" fill="#fff" stroke="#fff" stroke-width="0.08">37</text>
<circle cx="394.20" cy="153.90" r="5.10" fill="#52bec0"/>
<text x="394.20" y="155.70" font-size="5.2" text-anchor="middle" fill="#fff" stroke="#fff" stroke-width="0.08">30</text>
<circle cx="377.90" cy="164.60" r="5.10" fill="#52bec0"/>
<text x="377.90" y="166.40" font-size="5.2" text-anchor="middle" fill="#fff" stroke="#fff" stroke-width="0.08">27</text>
<circle cx="371.10" cy="175.20" r="5.10" fill="#52bec0"/>
<text x="371.10" y="177.00" font-size="5.2" text-anchor="middle" fill="#fff" stroke="#fff" stroke-width="0.08">9</text>
<circle cx="363.00" cy="185.60" r="5.10" fill="#52bec0"/>
<text x="363.00" y="187.40" font-size="5.2" text-anchor="middle" fill="#fff" stroke="#fff" stroke-width="0.08">25</text>
<circle cx="360.90" cy="196.00" r="5.10" fill="#52bec0"/>
<text x="360.90" y="197.80" font-size="5.2" text-anchor="middle" fill="#fff" stroke="#fff" stroke-width="0.08">24</text>
<circle cx="355.00" cy="206.70" r="5.10" fill="#52bec0"/>
<text x="355.00" y="208.50" font-size="5.2" text-anchor="middle" fill="#fff" stroke="#fff" stroke-width="0.08">27</text>
<circle cx="355.00" cy="217.10" r="5.10" fill="#52bec0"/>
<text x="355.00" y="218.90" font-size="5.2" text-anchor="middle" fill="#fff" stroke="#fff" stroke-width="0.08">27</text>
<circle cx="354.60" cy="227.70" r="5.10" fill="#52bec0"/>
<text x="354.60" y="229.50" font-size="5.2" text-anchor="middle" fill="#fff" stroke="#fff" stroke-width="0.08">22</text>
<circle cx="351.30" cy="238.10" r="5.10" fill="#52bec0"/>
<text x="351.30" y="239.90" font-size="5.2" text-anchor="middle" fill="#fff" stroke="#fff" stroke-width="0.08">19</text>
<line x1="305.30" y1="245.10" x2="305.30" y2="246.40" stroke="#333" stroke-width="0.5"/>
<text x="305.30" y="252.80" font-size="6.6" text-anchor="middle" fill="#333" stroke="#333" stroke-width="0.08">0.0</text>
<line x1="339.70" y1="245.10" x2="339.70" y2="246.40" stroke="#333" stroke-width="0.5"/>
<text x="339.70" y="252.80" font-size="6.6" text-anchor="middle" fill="#333" stroke="#333" stroke-width="0.08">2.5</text>
<line x1="374.10" y1="245.10" x2="374.10" y2="246.40" stroke="#333" stroke-width="0.5"/>
<text x="374.10" y="252.80" font-size="6.6" text-anchor="middle" fill="#333" stroke="#333" stroke-width="0.08">5.0</text>
<line x1="408.50" y1="245.10" x2="408.50" y2="246.40" stroke="#333" stroke-width="0.5"/>
<text x="408.50" y="252.80" font-size="6.6" text-anchor="middle" fill="#333" stroke="#333" stroke-width="0.08">7.5</text>
<text x="360.50" y="258.80" font-size="7.4" text-anchor="middle" stroke="#000" stroke-width="0.08" textLength="56.00" lengthAdjust="spacingAndGlyphs">−log10( p.adjust )</text>
<text x="300.60" y="141.90" font-size="7.54" text-anchor="end" stroke="#000" stroke-width="0.08" textLength="77.95" lengthAdjust="spacingAndGlyphs">generation of precursor</text>
<text x="300.60" y="148.40" font-size="7.54" text-anchor="end" stroke="#000" stroke-width="0.08" textLength="78.38" lengthAdjust="spacingAndGlyphs">metabolites and energy</text>
<text x="300.60" y="155.20" font-size="7.54" text-anchor="end" stroke="#000" stroke-width="0.08" textLength="85.49" lengthAdjust="spacingAndGlyphs">steroid metabolic process</text>
<text x="300.60" y="166.10" font-size="7.54" text-anchor="end" stroke="#000" stroke-width="0.08" textLength="110.21" lengthAdjust="spacingAndGlyphs">small molecule catabolic process</text>
<text x="300.60" y="177.00" font-size="7.54" text-anchor="end" stroke="#000" stroke-width="0.08" textLength="84.22" lengthAdjust="spacingAndGlyphs">NADH metabolic process</text>
<text x="300.60" y="187.10" font-size="7.54" text-anchor="end" stroke="#000" stroke-width="0.08" textLength="37.72" lengthAdjust="spacingAndGlyphs">gliogenesis</text>
<text x="300.60" y="197.80" font-size="7.54" text-anchor="end" stroke="#000" stroke-width="0.08" textLength="73.76" lengthAdjust="spacingAndGlyphs">lipid catabolic process</text>
<text x="300.60" y="208.10" font-size="7.54" text-anchor="end" stroke="#000" stroke-width="0.08" textLength="73.33" lengthAdjust="spacingAndGlyphs">cell junction assembly</text>
<text x="300.60" y="218.90" font-size="7.54" text-anchor="end" stroke="#000" stroke-width="0.08" textLength="93.03" lengthAdjust="spacingAndGlyphs">fatty acid metabolic process</text>
<text x="300.60" y="229.30" font-size="7.54" text-anchor="end" stroke="#000" stroke-width="0.08" textLength="72.50" lengthAdjust="spacingAndGlyphs">organic acid transport</text>
<text x="300.60" y="239.90" font-size="7.54" text-anchor="end" stroke="#000" stroke-width="0.08" textLength="74.04" lengthAdjust="spacingAndGlyphs">glial cell differentiation</text>
<text x="0" y="0" font-size="7.82" text-anchor="middle" stroke="#000" stroke-width="0.08" textLength="30.00" lengthAdjust="spacingAndGlyphs" transform="translate(197.82 194.00) rotate(-90)">Pathway</text>
<text x="454.50" y="127.00" font-size="22" font-weight="bold">h</text>
<text x="513.60" y="128.90" font-size="10.6" stroke="#000" stroke-width="0.08" textLength="104.00" lengthAdjust="spacingAndGlyphs">GO_BP_Upregulation</text>
<line x1="551.60" y1="138.00" x2="551.60" y2="245.10" stroke="#333" stroke-width="0.6"/>
<line x1="551.60" y1="245.10" x2="669.70" y2="245.10" stroke="#333" stroke-width="0.6"/>
<rect x="556.90" y="141.25" width="107.70" height="4.50" fill="#d4d4d4"/>
<line x1="550.30" y1="143.50" x2="551.60" y2="143.50" stroke="#333" stroke-width="0.5"/>
<rect x="556.90" y="151.65" width="96.40" height="4.50" fill="#d4d4d4"/>
<line x1="550.30" y1="153.90" x2="551.60" y2="153.90" stroke="#333" stroke-width="0.5"/>
<rect x="556.90" y="162.35" width="92.30" height="4.50" fill="#d4d4d4"/>
<line x1="550.30" y1="164.60" x2="551.60" y2="164.60" stroke="#333" stroke-width="0.5"/>
<rect x="556.90" y="172.95" width="82.50" height="4.50" fill="#d4d4d4"/>
<line x1="550.30" y1="175.20" x2="551.60" y2="175.20" stroke="#333" stroke-width="0.5"/>
<rect x="556.90" y="183.35" width="81.10" height="4.50" fill="#d4d4d4"/>
<line x1="550.30" y1="185.60" x2="551.60" y2="185.60" stroke="#333" stroke-width="0.5"/>
<rect x="556.90" y="193.75" width="55.50" height="4.50" fill="#d4d4d4"/>
<line x1="550.30" y1="196.00" x2="551.60" y2="196.00" stroke="#333" stroke-width="0.5"/>
<rect x="556.90" y="204.45" width="44.90" height="4.50" fill="#d4d4d4"/>
<line x1="550.30" y1="206.70" x2="551.60" y2="206.70" stroke="#333" stroke-width="0.5"/>
<rect x="556.90" y="214.85" width="35.50" height="4.50" fill="#d4d4d4"/>
<line x1="550.30" y1="217.10" x2="551.60" y2="217.10" stroke="#333" stroke-width="0.5"/>
<rect x="556.90" y="225.45" width="33.10" height="4.50" fill="#d4d4d4"/>
<line x1="550.30" y1="227.70" x2="551.60" y2="227.70" stroke="#333" stroke-width="0.5"/>
<rect x="556.90" y="235.85" width="26.50" height="4.50" fill="#d4d4d4"/>
<line x1="550.30" y1="238.10" x2="551.60" y2="238.10" stroke="#333" stroke-width="0.5"/>
<circle cx="664.60" cy="143.50" r="5.10" fill="#ef5124"/>
<text x="664.60" y="145.30" font-size="5.2" text-anchor="middle" fill="#fff" stroke="#fff" stroke-width="0.08">68</text>
<circle cx="653.30" cy="153.90" r="5.10" fill="#ef5124"/>
<text x="653.30" y="155.70" font-size="5.2" text-anchor="middle" fill="#fff" stroke="#fff" stroke-width="0.08">71</text>
<circle cx="649.20" cy="164.60" r="5.10" fill="#ef5124"/>
<text x="649.20" y="166.40" font-size="5.2" text-anchor="middle" fill="#fff" stroke="#fff" stroke-width="0.08">65</text>
<circle cx="639.40" cy="175.20" r="5.10" fill="#ef5124"/>
<text x="639.40" y="177.00" font-size="5.2" text-anchor="middle" fill="#fff" stroke="#fff" stroke-width="0.08">68</text>
<circle cx="638.00" cy="185.60" r="5.10" fill="#ef5124"/>
<text x="638.00" y="187.40" font-size="5.2" text-anchor="middle" fill="#fff" stroke="#fff" stroke-width="0.08">59</text>
<circle cx="612.40" cy="196.00" r="5.10" fill="#ef5124"/>
<text x="612.40" y="197.80" font-size="5.2" text-anchor="middle" fill="#fff" stroke="#fff" stroke-width="0.08">46</text>
<circle cx="601.80" cy="206.70" r="5.10" fill="#ef5124"/>
<text x="601.80" y="208.50" font-size="5.2" text-anchor="middle" fill="#fff" stroke="#fff" stroke-width="0.08">25</text>
<circle cx="592.40" cy="217.10" r="5.10" fill="#ef5124"/>
<text x="592.40" y="218.90" font-size="5.2" text-anchor="middle" fill="#fff" stroke="#fff" stroke-width="0.08">50</text>
<circle cx="590.00" cy="227.70" r="5.10" fill="#ef5124"/>
<text x="590.00" y="229.50" font-size="5.2" text-anchor="middle" fill="#fff" stroke="#fff" stroke-width="0.08">49</text>
<circle cx="583.40" cy="238.10" r="5.10" fill="#ef5124"/>
<text x="583.40" y="239.90" font-size="5.2" text-anchor="middle" fill="#fff" stroke="#fff" stroke-width="0.08">43</text>
<line x1="556.90" y1="245.10" x2="556.90" y2="246.40" stroke="#333" stroke-width="0.5"/>
<text x="556.90" y="252.80" font-size="6.6" text-anchor="middle" fill="#333" stroke="#333" stroke-width="0.08">0</text>
<line x1="587.90" y1="245.10" x2="587.90" y2="246.40" stroke="#333" stroke-width="0.5"/>
<text x="587.90" y="252.80" font-size="6.6" text-anchor="middle" fill="#333" stroke="#333" stroke-width="0.08">5</text>
<line x1="618.90" y1="245.10" x2="618.90" y2="246.40" stroke="#333" stroke-width="0.5"/>
<text x="618.90" y="252.80" font-size="6.6" text-anchor="middle" fill="#333" stroke="#333" stroke-width="0.08">10</text>
<line x1="649.90" y1="245.10" x2="649.90" y2="246.40" stroke="#333" stroke-width="0.5"/>
<text x="649.90" y="252.80" font-size="6.6" text-anchor="middle" fill="#333" stroke="#333" stroke-width="0.08">15</text>
<text x="615.50" y="258.80" font-size="7.4" text-anchor="middle" stroke="#000" stroke-width="0.08" textLength="56.00" lengthAdjust="spacingAndGlyphs">−log10( p.adjust )</text>
<text x="548.80" y="144.90" font-size="7.52" text-anchor="end" stroke="#000" stroke-width="0.08" textLength="42.63" lengthAdjust="spacingAndGlyphs">RNA splicing</text>
<text x="548.80" y="155.50" font-size="7.52" text-anchor="end" stroke="#000" stroke-width="0.08" textLength="60.18" lengthAdjust="spacingAndGlyphs">mRNA processing</text>
<text x="549.50" y="162.20" font-size="7.52" text-anchor="end" stroke="#000" stroke-width="0.08" textLength="79.84" lengthAdjust="spacingAndGlyphs">establishment of protein</text>
<text x="549.50" y="168.80" font-size="7.52" text-anchor="end" stroke="#000" stroke-width="0.08" textLength="78.59" lengthAdjust="spacingAndGlyphs">localization to organelle</text>
<text x="548.80" y="177.00" font-size="7.52" text-anchor="end" stroke="#000" stroke-width="0.08" textLength="121.63" lengthAdjust="spacingAndGlyphs">endomembrane system organization</text>
<text x="548.80" y="186.30" font-size="7.52" text-anchor="end" stroke="#000" stroke-width="0.08" textLength="126.65" lengthAdjust="spacingAndGlyphs">regulation of protein catabolic process</text>
<text x="548.80" y="197.90" font-size="7.52" text-anchor="end" stroke="#000" stroke-width="0.08" textLength="56.42" lengthAdjust="spacingAndGlyphs">nuclear transport</text>
<text x="548.80" y="208.30" font-size="7.52" text-anchor="end" stroke="#000" stroke-width="0.08" textLength="105.75" lengthAdjust="spacingAndGlyphs">positive regulation of translation</text>
<text x="548.80" y="218.60" font-size="7.52" text-anchor="end" stroke="#000" stroke-width="0.08" textLength="46.41" lengthAdjust="spacingAndGlyphs">axonogenesis</text>
<text x="548.80" y="229.20" font-size="7.52" text-anchor="end" stroke="#000" stroke-width="0.08" textLength="71.06" lengthAdjust="spacingAndGlyphs">synapse organization</text>
<text x="548.80" y="239.70" font-size="7.52" text-anchor="end" stroke="#000" stroke-width="0.08" textLength="88.62" lengthAdjust="spacingAndGlyphs">regulation of neurogenesis</text>
<text x="0.90" y="284.70" font-size="22" font-weight="bold">i</text>
<line x1="50.20" y1="279.40" x2="50.20" y2="355.00" stroke="#aaa" stroke-width="0.9"/>
<line x1="50.20" y1="355.00" x2="139.60" y2="355.00" stroke="#aaa" stroke-width="0.9"/>
<line x1="48.70" y1="354.60" x2="50.20" y2="354.60" stroke="#999" stroke-width="0.5"/>
<text x="47.60" y="356.10" font-size="4.2" text-anchor="end" fill="#888">0</text>
<line x1="48.70" y1="342.06" x2="50.20" y2="342.06" stroke="#999" stroke-width="0.5"/>
<text x="47.60" y="343.56" font-size="4.2" text-anchor="end" fill="#888">2</text>
<line x1="48.70" y1="329.52" x2="50.20" y2="329.52" stroke="#999" stroke-width="0.5"/>
<text x="47.60" y="331.02" font-size="4.2" text-anchor="end" fill="#888">4</text>
<line x1="48.70" y1="316.98" x2="50.20" y2="316.98" stroke="#999" stroke-width="0.5"/>
<text x="47.60" y="318.48" font-size="4.2" text-anchor="end" fill="#888">6</text>
<line x1="48.70" y1="304.44" x2="50.20" y2="304.44" stroke="#999" stroke-width="0.5"/>
<text x="47.60" y="305.94" font-size="4.2" text-anchor="end" fill="#888">8</text>
<line x1="48.70" y1="291.90" x2="50.20" y2="291.90" stroke="#999" stroke-width="0.5"/>
<text x="47.60" y="293.40" font-size="4.2" text-anchor="end" fill="#888">10</text>
<line x1="48.70" y1="279.36" x2="50.20" y2="279.36" stroke="#999" stroke-width="0.5"/>
<text x="47.60" y="280.86" font-size="4.2" text-anchor="end" fill="#888">12</text>
<rect x="55.20" y="348.33" width="10.80" height="6.67" fill="#a9a9a9"/>
<rect x="66.90" y="334.54" width="11.00" height="20.46" fill="#6ec6c9"/>
<rect x="83.50" y="348.33" width="10.50" height="6.67" fill="#a9a9a9"/>
<rect x="95.50" y="306.95" width="10.50" height="48.05" fill="#6ec6c9"/>
<rect x="111.20" y="348.33" width="10.90" height="6.67" fill="#a9a9a9"/>
<rect x="123.10" y="332.03" width="10.70" height="22.97" fill="#6ec6c9"/>
<line x1="60.60" y1="346.14" x2="60.60" y2="350.52" stroke="#000" stroke-width="0.55"/>
<line x1="59.30" y1="346.14" x2="61.90" y2="346.14" stroke="#000" stroke-width="0.55"/>
<line x1="59.30" y1="350.52" x2="61.90" y2="350.52" stroke="#000" stroke-width="0.55"/>
<line x1="72.40" y1="324.82" x2="72.40" y2="344.25" stroke="#000" stroke-width="0.55"/>
<line x1="71.10" y1="324.82" x2="73.70" y2="324.82" stroke="#000" stroke-width="0.55"/>
<line x1="71.10" y1="344.25" x2="73.70" y2="344.25" stroke="#000" stroke-width="0.55"/>
<line x1="88.70" y1="346.14" x2="88.70" y2="350.52" stroke="#000" stroke-width="0.55"/>
<line x1="87.40" y1="346.14" x2="90.00" y2="346.14" stroke="#000" stroke-width="0.55"/>
<line x1="87.40" y1="350.52" x2="90.00" y2="350.52" stroke="#000" stroke-width="0.55"/>
<line x1="100.70" y1="293.78" x2="100.70" y2="320.12" stroke="#000" stroke-width="0.55"/>
<line x1="99.40" y1="293.78" x2="102.00" y2="293.78" stroke="#000" stroke-width="0.55"/>
<line x1="99.40" y1="320.12" x2="102.00" y2="320.12" stroke="#000" stroke-width="0.55"/>
<line x1="116.60" y1="345.82" x2="116.60" y2="350.84" stroke="#000" stroke-width="0.55"/>
<line x1="115.30" y1="345.82" x2="117.90" y2="345.82" stroke="#000" stroke-width="0.55"/>
<line x1="115.30" y1="350.84" x2="117.90" y2="350.84" stroke="#000" stroke-width="0.55"/>
<line x1="128.40" y1="325.76" x2="128.40" y2="338.30" stroke="#000" stroke-width="0.55"/>
<line x1="127.10" y1="325.76" x2="129.70" y2="325.76" stroke="#000" stroke-width="0.55"/>
<line x1="127.10" y1="338.30" x2="129.70" y2="338.30" stroke="#000" stroke-width="0.55"/>
<path transform="scale(0.2)" d="M503 1460l1 62-2 47-140 16 142 34 144 13-13-3-282 41 18 3 278 12-14-3-274 13 0 18-58 19 137 3 142-3 12 10-22 0-124 6-10-3-124 0-16 3-6-6" fill="none" marker-start="url(#k8)" marker-mid="url(#k8)" marker-end="url(#k8)"/>
<text x="53.80" y="312.00" font-size="5.39" font-style="italic" stroke="#000" stroke-width="0.08" textLength="3.00" lengthAdjust="spacingAndGlyphs">p</text>
<text x="57.60" y="312.00" font-size="6.25" stroke="#000" stroke-width="0.08" textLength="24.50" lengthAdjust="spacingAndGlyphs">= 0.0136</text>
<line x1="59.00" y1="313.90" x2="73.50" y2="313.90" stroke="#000" stroke-width="0.5"/>
<text x="81.80" y="287.50" font-size="5.39" font-style="italic" stroke="#000" stroke-width="0.08" textLength="3.00" lengthAdjust="spacingAndGlyphs">p</text>
<text x="85.60" y="287.50" font-size="6.24" stroke="#000" stroke-width="0.08" textLength="24.00" lengthAdjust="spacingAndGlyphs">= 0.0011</text>
<line x1="87.00" y1="289.60" x2="100.50" y2="289.60" stroke="#000" stroke-width="0.5"/>
<text x="109.80" y="319.00" font-size="5.39" font-style="italic" stroke="#000" stroke-width="0.08" textLength="3.00" lengthAdjust="spacingAndGlyphs">p</text>
<text x="113.60" y="319.00" font-size="6.33" stroke="#000" stroke-width="0.08" textLength="24.80" lengthAdjust="spacingAndGlyphs">= 0.0013</text>
<line x1="115.00" y1="320.90" x2="128.80" y2="320.90" stroke="#000" stroke-width="0.5"/>
<line x1="114.20" y1="294.50" x2="123.00" y2="294.50" stroke="#a9a9a9" stroke-width="2.2"/>
<text x="125.60" y="296.80" font-size="6.48" stroke="#000" stroke-width="0.08" textLength="35.50" lengthAdjust="spacingAndGlyphs">Ngn2+shNC</text>
<line x1="114.20" y1="301.40" x2="123.00" y2="301.40" stroke="#6ec6c9" stroke-width="2.2"/>
<text x="125.60" y="303.70" font-size="6.83" stroke="#000" stroke-width="0.08" textLength="43.50" lengthAdjust="spacingAndGlyphs">Ngn2+shOlig2</text>
<text x="65.10" y="364.60" font-size="7.69" text-anchor="middle" font-style="italic" stroke="#000" stroke-width="0.08" textLength="21.80" lengthAdjust="spacingAndGlyphs">Nestin</text>
<text x="94.40" y="364.60" font-size="7.49" text-anchor="middle" font-style="italic" stroke="#000" stroke-width="0.08" textLength="29.00" lengthAdjust="spacingAndGlyphs">Vimentin</text>
<text x="121.20" y="364.60" font-size="7.28" text-anchor="middle" font-style="italic" stroke="#000" stroke-width="0.08" textLength="17.00" lengthAdjust="spacingAndGlyphs">Olig1</text>
<text x="0" y="0" font-size="6.05" text-anchor="middle" stroke="#000" stroke-width="0.08" textLength="72.00" lengthAdjust="spacingAndGlyphs" transform="translate(30.98 316.00) rotate(-90)">Relative mRNA expression</text>
<text x="0" y="0" font-size="6.05" text-anchor="middle" stroke="#000" stroke-width="0.08" textLength="69.40" lengthAdjust="spacingAndGlyphs" transform="translate(38.58 316.30) rotate(-90)">in purified tdT+ astrocytes</text>
<text x="-0.20" y="390.50" font-size="22" font-weight="bold">j</text>
<text x="52.40" y="382.50" font-size="9.0" fill="#f02828" stroke="#f02828" stroke-width="0.08" textLength="13.00" lengthAdjust="spacingAndGlyphs">tdT</text>
<text x="65.40" y="382.50" font-size="7.92" fill="#444" stroke="#444" stroke-width="0.08" textLength="2.20" lengthAdjust="spacingAndGlyphs">/</text>
<text x="67.60" y="382.50" font-size="8.47" fill="#3ec83e" stroke="#3ec83e" stroke-width="0.08" textLength="24.00" lengthAdjust="spacingAndGlyphs">Nestin</text>
<text x="0" y="0" font-size="9.2" text-anchor="middle" stroke="#000" stroke-width="0.08" textLength="24.40" lengthAdjust="spacingAndGlyphs" transform="translate(24.21 427.00) rotate(-90)">Ngn2+</text>
<line x1="27.50" y1="407.60" x2="27.50" y2="448.00" stroke="#000" stroke-width="0.5"/>
<text x="0" y="0" font-size="9.2" text-anchor="middle" stroke="#000" stroke-width="0.08" textLength="22.80" lengthAdjust="spacingAndGlyphs" transform="translate(39.31 409.00) rotate(-90)">shNC</text>
<text x="0" y="0" font-size="9.2" text-anchor="middle" stroke="#000" stroke-width="0.08" textLength="28.20" lengthAdjust="spacingAndGlyphs" transform="translate(39.31 445.50) rotate(-90)">shOlig2</text>
<rect x="40.80" y="384.60" width="61.10" height="81.50" fill="#c8c8c8"/>
<rect x="41.00" y="384.80" width="40.10" height="40.40" fill="#140000"/>
<rect x="41.00" y="384.80" width="40.10" height="40.40" fill="#000" filter="url(#redtex)" opacity="0.6"/>
<svg x="41.00" y="384.80" width="40.10" height="40.40" viewBox="41.00 384.80 40.10 40.40" overflow="hidden">
<g filter="url(#rough2)"><path d="M42 407 Q55 402 62 398 Q70 392 79 394 L80 398 Q72 402 70 408 Q69 416 69 424 L66 424 Q65 414 63 410 Q55 410 42 410 Z" fill="#ff2a14"/><path d="M62 398 Q58 392 56 386 L59 386 Q61 392 65 397 Z" fill="#ff2a14"/><ellipse cx="66" cy="402" rx="8" ry="5" transform="rotate(-25 66 402)" fill="#ff3010"/></g>
<path transform="scale(0.2)" d="M300 2000l20 5 10-10" fill="none" marker-start="url(#k9)" marker-mid="url(#k9)" marker-end="url(#k9)"/>
</svg>
<rect x="82.20" y="384.80" width="19.50" height="19.60" fill="#140000"/>
<rect x="82.20" y="384.80" width="19.50" height="19.60" fill="#000" filter="url(#redtex2)" opacity="0.6"/>
<svg x="82.20" y="384.80" width="19.50" height="19.60" viewBox="82.20 384.80 19.50 19.60" overflow="hidden">
<g filter="url(#rough)"><ellipse cx="96" cy="393" rx="5.5" ry="4" transform="rotate(-20 96 393)" fill="#ff2a14"/><path d="M96 393 L84 398 L84 400 L96 396 Z M97 393 L100 386 L101 387 Z M95 396 L93 404 L95 404 Z" fill="#ff2a14"/></g>
</svg>
<svg x="82.20" y="405.20" width="19.50" height="20.20" viewBox="82.20 405.20 19.50 20.20" overflow="hidden">
<rect x="82.20" y="405.20" width="19.50" height="20.20" fill="#000"/>
<g filter="url(#rough)"><path d="M93 415 L88 420 M93 415 L99 411 M93 415 L90 409 M93 415 L98 420 M93 415 L85 414" stroke="#1c8a1c" stroke-width="0.8" fill="none"/><circle cx="93" cy="415" r="1.8" fill="#2a9a2a"/></g>
</svg>
<rect x="41.00" y="425.90" width="40.10" height="40.00" fill="#080000"/>
<rect x="41.0" y="425.9" width="40.1" height="40.0" fill="#000" filter="url(#redtex)" opacity="0.3"/>
<rect x="55.0" y="425.9" width="26.1" height="28.0" fill="#000" filter="url(#grntex)" opacity="0.7"/>
<svg x="41.00" y="425.90" width="40.10" height="40.00" viewBox="41.00 425.90 40.10 40.00" overflow="hidden">
<g filter="url(#rough)"><path d="M66 426 Q66 436 65 446 Q70 450 78 450 L80 452 Q72 454 66 458 Q60 462 52 464 L46 463 Q48 455 56 451 Q62 448 63 440 Q63 432 62 426 Z" fill="#30e030"/><path d="M72 426 Q74 434 70 442 L72 443 Q77 434 76 426 Z M68 440 Q75 438 81 436 L81 439 Q75 441 69 443 Z" fill="#30d030"/></g>
<g filter="url(#rough)"><ellipse cx="55.5" cy="456.5" rx="13" ry="6.6" transform="rotate(-30 55.5 456.5)" fill="#d8e020"/></g>
<g filter="url(#rough2)"><ellipse cx="53.5" cy="457.5" rx="7.5" ry="3.9" transform="rotate(-30 53.5 457.5)" fill="#ff3a10"/></g>
</svg>
<rect x="82.20" y="425.90" width="19.50" height="19.60" fill="#140000"/>
<rect x="82.20" y="425.90" width="19.50" height="19.60" fill="#000" filter="url(#redtex2)" opacity="0.6"/>
<svg x="82.20" y="425.90" width="19.50" height="19.60" viewBox="82.20 425.90 19.50 19.60" overflow="hidden">
<g filter="url(#rough)"><ellipse cx="90" cy="441" rx="6" ry="3.6" transform="rotate(-25 90 441)" fill="#ff2a14"/><path d="M92 439 L95 430 L97 430 L94 440 Z M93 441 L101 437 L101 439 Z" fill="#ff2a14"/></g>
</svg>
<svg x="82.20" y="446.20" width="19.50" height="19.70" viewBox="82.20 446.20 19.50 19.70" overflow="hidden">
<rect x="82.20" y="446.20" width="19.50" height="19.70" fill="#000"/>
<g filter="url(#rough)"><ellipse cx="89" cy="459" rx="5.5" ry="3.2" transform="rotate(-25 89 459)" fill="none" stroke="#30e030" stroke-width="1.4"/><path d="M91 456 L93 447 M93 456 L100 452 M86 461 L83 464 M92 458 L101 462" stroke="#30e030" stroke-width="1.1"/></g>
</svg>
<line x1="100.00" y1="464.30" x2="101.00" y2="464.30" stroke="#ddd" stroke-width="0.8"/>
<line x1="77.00" y1="464.60" x2="80.00" y2="464.60" stroke="#ddd" stroke-width="0.8"/>
<line x1="124.90" y1="380.20" x2="124.90" y2="445.10" stroke="#000" stroke-width="0.6"/>
<line x1="124.90" y1="445.10" x2="151.40" y2="445.10" stroke="#000" stroke-width="0.6"/>
<line x1="123.60" y1="445.10" x2="124.90" y2="445.10" stroke="#000" stroke-width="0.5"/>
<text x="122.70" y="447.40" font-size="6.6" text-anchor="end" stroke="#000" stroke-width="0.08">0</text>
<line x1="123.60" y1="432.12" x2="124.90" y2="432.12" stroke="#000" stroke-width="0.5"/>
<text x="122.70" y="434.42" font-size="6.6" text-anchor="end" stroke="#000" stroke-width="0.08">1</text>
<line x1="123.60" y1="419.14" x2="124.90" y2="419.14" stroke="#000" stroke-width="0.5"/>
<text x="122.70" y="421.44" font-size="6.6" text-anchor="end" stroke="#000" stroke-width="0.08">2</text>
<line x1="123.60" y1="406.16" x2="124.90" y2="406.16" stroke="#000" stroke-width="0.5"/>
<text x="122.70" y="408.46" font-size="6.6" text-anchor="end" stroke="#000" stroke-width="0.08">3</text>
<line x1="123.60" y1="393.18" x2="124.90" y2="393.18" stroke="#000" stroke-width="0.5"/>
<text x="122.70" y="395.48" font-size="6.6" text-anchor="end" stroke="#000" stroke-width="0.08">4</text>
<line x1="123.60" y1="380.20" x2="124.90" y2="380.20" stroke="#000" stroke-width="0.5"/>
<text x="122.70" y="382.50" font-size="6.6" text-anchor="end" stroke="#000" stroke-width="0.08">5</text>
<rect x="129.00" y="437.31" width="8.10" height="7.79" fill="#a9a9a9"/>
<rect x="140.10" y="397.07" width="7.90" height="48.03" fill="#6ec6c9"/>
<line x1="133.00" y1="436.01" x2="133.00" y2="438.61" stroke="#000" stroke-width="0.55"/>
<line x1="131.80" y1="436.01" x2="134.20" y2="436.01" stroke="#000" stroke-width="0.55"/>
<line x1="131.80" y1="438.61" x2="134.20" y2="438.61" stroke="#000" stroke-width="0.55"/>
<line x1="144.00" y1="389.94" x2="144.00" y2="404.21" stroke="#000" stroke-width="0.55"/>
<line x1="142.80" y1="389.94" x2="145.20" y2="389.94" stroke="#000" stroke-width="0.55"/>
<line x1="142.80" y1="404.21" x2="145.20" y2="404.21" stroke="#000" stroke-width="0.55"/>
<path transform="scale(0.2)" d="M720 1946l10 65-10 0-12 0-53 176 10-10 0 6 10 4" fill="none" marker-start="url(#k10)" marker-mid="url(#k10)" marker-end="url(#k10)"/>
<text x="127.00" y="382.50" font-size="5.57" font-style="italic" stroke="#000" stroke-width="0.08" textLength="3.10" lengthAdjust="spacingAndGlyphs">p</text>
<text x="131.30" y="382.50" font-size="6.17" stroke="#000" stroke-width="0.08" textLength="24.20" lengthAdjust="spacingAndGlyphs">&lt; 0.0001</text>
<line x1="131.60" y1="384.40" x2="144.30" y2="384.40" stroke="#000" stroke-width="0.5"/>
<text x="0" y="0" font-size="8.0" text-anchor="middle" transform="translate(117.98 413.40) rotate(-90)" textLength="63.4" lengthAdjust="spacingAndGlyphs">Intensity ×10<tspan font-size="4.6" dy="-3">4</tspan><tspan dy="3"> (a.u.)</tspan></text>
<text x="0" y="0" font-size="6.32" text-anchor="end" transform="translate(135.00 450.30) rotate(-31)" textLength="34.6" lengthAdjust="spacingAndGlyphs">Ngn2+shNC</text>
<text x="0" y="0" font-size="6.41" text-anchor="end" transform="translate(149.00 452.60) rotate(-31)" textLength="40.8" lengthAdjust="spacingAndGlyphs">Ngn2+shOlig2</text>
<text x="1.30" y="486.00" font-size="22" font-weight="bold">k</text>
<text x="46.20" y="480.90" font-size="9.0" fill="#f02828" stroke="#f02828" stroke-width="0.08" textLength="13.00" lengthAdjust="spacingAndGlyphs">tdT</text>
<text x="59.20" y="480.90" font-size="7.92" fill="#444" stroke="#444" stroke-width="0.08" textLength="2.20" lengthAdjust="spacingAndGlyphs">/</text>
<text x="61.40" y="480.90" font-size="8.52" fill="#3ec83e" stroke="#3ec83e" stroke-width="0.08" textLength="33.00" lengthAdjust="spacingAndGlyphs">Vimentin</text>
<text x="0" y="0" font-size="9.2" text-anchor="middle" stroke="#000" stroke-width="0.08" textLength="24.40" lengthAdjust="spacingAndGlyphs" transform="translate(24.11 525.60) rotate(-90)">Ngn2+</text>
<line x1="27.40" y1="506.10" x2="27.40" y2="546.60" stroke="#000" stroke-width="0.5"/>
<text x="0" y="0" font-size="9.2" text-anchor="middle" stroke="#000" stroke-width="0.08" textLength="22.00" lengthAdjust="spacingAndGlyphs" transform="translate(39.61 506.60) rotate(-90)">shNC</text>
<text x="0" y="0" font-size="9.2" text-anchor="middle" stroke="#000" stroke-width="0.08" textLength="28.00" lengthAdjust="spacingAndGlyphs" transform="translate(39.61 544.00) rotate(-90)">shOlig2</text>
<rect x="40.80" y="483.00" width="60.30" height="80.80" fill="#c8c8c8"/>
<rect x="41.00" y="483.20" width="39.80" height="39.80" fill="#140000"/>
<rect x="41.00" y="483.20" width="39.80" height="39.80" fill="#000" filter="url(#redtex)" opacity="0.6"/>
<svg x="41.00" y="483.20" width="39.80" height="39.80" viewBox="41.00 483.20 39.80 39.80" overflow="hidden">
<g filter="url(#rough)"><path d="M43 482 Q50 492 58 499 Q62 504 60 512 Q64 518 70 524 L74 524 Q68 516 66 510 Q72 506 75 500 Q76 492 70 490 Q64 492 60 497 Q52 490 47 482 Z" fill="#ff3814"/><path d="M41 503 Q50 502 58 503 L58 506 Q50 505 41 506 Z M54 483 Q56 490 58 496 L60 495 Q58 489 57 483 Z" fill="#ff3010"/></g>
<g filter="url(#rough)"><ellipse cx="69" cy="499" rx="6" ry="7.5" fill="#ff2a10"/><path d="M56 494 Q60 500 60 510" stroke="#e0d020" stroke-width="1.5" fill="none"/></g>
</svg>
<rect x="81.60" y="483.20" width="19.30" height="19.60" fill="#140000"/>
<rect x="81.60" y="483.20" width="19.30" height="19.60" fill="#000" filter="url(#redtex2)" opacity="0.6"/>
<svg x="81.60" y="483.20" width="19.30" height="19.60" viewBox="81.60 483.20 19.30 19.60" overflow="hidden">
<g filter="url(#rough)"><ellipse cx="93" cy="493" rx="4.5" ry="4" fill="#ff2a14"/><path d="M93 492 L85 487 L85 489 L92 494 Z M94 496 L100 502 L98 502 Z" fill="#ff2a14"/></g>
</svg>
<svg x="81.60" y="503.40" width="19.30" height="19.90" viewBox="81.60 503.40 19.30 19.90" overflow="hidden">
<rect x="81.60" y="503.40" width="19.30" height="19.90" fill="#000"/>
<g filter="url(#rough)"><path d="M83 506 L90 514 L94 522 M90 514 L92 505 M90 514 L97 512" stroke="#30e030" stroke-width="1.0" fill="none"/></g>
</svg>
<rect x="41.00" y="523.80" width="39.80" height="39.80" fill="#020000"/>
<rect x="41.0" y="523.8" width="39.8" height="39.8" fill="#000" filter="url(#grntex)" opacity="0.6"/>
<svg x="41.00" y="523.80" width="39.80" height="39.80" viewBox="41.00 523.80 39.80 39.80" overflow="hidden">
<g filter="url(#rough)"><path d="M42 530 Q50 534 55 540 M55 540 Q52 530 50 524 M62 540 Q70 536 80 534 M64 552 Q70 556 76 562 M50 552 Q46 556 42 560 M60 538 Q62 530 64 524" stroke="#40d030" stroke-width="1.3" fill="none"/></g>
<g filter="url(#rough)"><path d="M50 546 Q56 536 64 540 Q68 548 64 556 Q56 560 50 556 Q47 551 50 546 Z" fill="#d8e020"/></g>
<g filter="url(#rough2)"><ellipse cx="57" cy="548" rx="4.5" ry="5.5" fill="#ff3010"/></g>
</svg>
<rect x="81.60" y="523.80" width="19.30" height="19.60" fill="#140000"/>
<rect x="81.60" y="523.80" width="19.30" height="19.60" fill="#000" filter="url(#redtex2)" opacity="0.6"/>
<svg x="81.60" y="523.80" width="19.30" height="19.60" viewBox="81.60 523.80 19.30 19.60" overflow="hidden">
<g filter="url(#rough)"><ellipse cx="92" cy="534" rx="3.8" ry="3.2" fill="#ff2a14"/></g>
</svg>
<svg x="81.60" y="544.30" width="19.30" height="19.30" viewBox="81.60 544.30 19.30 19.30" overflow="hidden">
<rect x="81.60" y="544.30" width="19.30" height="19.30" fill="#000"/>
<g filter="url(#rough)"><ellipse cx="91" cy="555" rx="3.6" ry="2.8" fill="none" stroke="#30e030" stroke-width="1.2"/><path d="M88 553 L84 546 M94 553 L98 548 M94 557 L100 560 M88 557 L83 562" stroke="#30e030" stroke-width="0.9"/></g>
</svg>
<line x1="73.00" y1="562.30" x2="79.50" y2="562.30" stroke="#ddd" stroke-width="0.8"/>
<line x1="98.50" y1="562.30" x2="100.30" y2="562.30" stroke="#ddd" stroke-width="0.8"/>
<line x1="125.60" y1="479.00" x2="125.60" y2="543.10" stroke="#000" stroke-width="0.6"/>
<line x1="125.60" y1="543.10" x2="150.50" y2="543.10" stroke="#000" stroke-width="0.6"/>
<line x1="124.30" y1="543.10" x2="125.60" y2="543.10" stroke="#000" stroke-width="0.5"/>
<text x="123.40" y="545.40" font-size="6.6" text-anchor="end" stroke="#000" stroke-width="0.08">0</text>
<line x1="124.30" y1="530.28" x2="125.60" y2="530.28" stroke="#000" stroke-width="0.5"/>
<text x="123.40" y="532.58" font-size="6.6" text-anchor="end" stroke="#000" stroke-width="0.08">1</text>
<line x1="124.30" y1="517.46" x2="125.60" y2="517.46" stroke="#000" stroke-width="0.5"/>
<text x="123.40" y="519.76" font-size="6.6" text-anchor="end" stroke="#000" stroke-width="0.08">2</text>
<line x1="124.30" y1="504.64" x2="125.60" y2="504.64" stroke="#000" stroke-width="0.5"/>
<text x="123.40" y="506.94" font-size="6.6" text-anchor="end" stroke="#000" stroke-width="0.08">3</text>
<line x1="124.30" y1="491.82" x2="125.60" y2="491.82" stroke="#000" stroke-width="0.5"/>
<text x="123.40" y="494.12" font-size="6.6" text-anchor="end" stroke="#000" stroke-width="0.08">4</text>
<line x1="124.30" y1="479.00" x2="125.60" y2="479.00" stroke="#000" stroke-width="0.5"/>
<text x="123.40" y="481.30" font-size="6.6" text-anchor="end" stroke="#000" stroke-width="0.08">5</text>
<rect x="129.30" y="517.46" width="6.70" height="25.64" fill="#a9a9a9"/>
<rect x="139.80" y="494.38" width="7.20" height="48.72" fill="#6ec6c9"/>
<line x1="132.70" y1="511.69" x2="132.70" y2="523.23" stroke="#000" stroke-width="0.55"/>
<line x1="131.50" y1="511.69" x2="133.90" y2="511.69" stroke="#000" stroke-width="0.55"/>
<line x1="131.50" y1="523.23" x2="133.90" y2="523.23" stroke="#000" stroke-width="0.55"/>
<line x1="143.50" y1="487.33" x2="143.50" y2="501.44" stroke="#000" stroke-width="0.55"/>
<line x1="142.30" y1="487.33" x2="144.70" y2="487.33" stroke="#000" stroke-width="0.55"/>
<line x1="142.30" y1="501.44" x2="144.70" y2="501.44" stroke="#000" stroke-width="0.55"/>
<path transform="scale(0.2)" d="M718 2421l0 32 0 32 0 25-56 45 1 32 1 20" fill="none" marker-start="url(#k10)" marker-mid="url(#k10)" marker-end="url(#k10)"/>
<text x="126.30" y="476.00" font-size="5.57" font-style="italic" stroke="#000" stroke-width="0.08" textLength="3.10" lengthAdjust="spacingAndGlyphs">p</text>
<text x="130.60" y="476.00" font-size="6.22" stroke="#000" stroke-width="0.08" textLength="24.40" lengthAdjust="spacingAndGlyphs">= 0.0005</text>
<line x1="130.80" y1="480.40" x2="143.50" y2="480.40" stroke="#000" stroke-width="0.5"/>
<text x="0" y="0" font-size="8.0" text-anchor="middle" transform="translate(118.28 516.00) rotate(-90)" textLength="63.4" lengthAdjust="spacingAndGlyphs">Intensity ×10<tspan font-size="4.6" dy="-3">4</tspan><tspan dy="3"> (a.u.)</tspan></text>
<text x="0" y="0" font-size="6.28" text-anchor="end" transform="translate(135.00 549.80) rotate(-31)" textLength="34.4" lengthAdjust="spacingAndGlyphs">Ngn2+shNC</text>
<text x="0" y="0" font-size="6.35" text-anchor="end" transform="translate(148.40 550.80) rotate(-31)" textLength="40.4" lengthAdjust="spacingAndGlyphs">Ngn2+shOlig2</text>
<text x="172.80" y="284.80" font-size="22" font-weight="bold">l</text>
<rect x="188.3" y="279.9" width="133.6" height="133.5" fill="none" stroke="#666" stroke-width="0.5"/>
<text x="193.00" y="289.70" font-size="8.49" stroke="#000" stroke-width="0.08" textLength="59.00" lengthAdjust="spacingAndGlyphs">Total astrocytes</text>
<path transform="scale(0.2)" d="M1521 1574l15-4 0 4 10 13-5-6-2 7 0-9-1 10-2-8-2-4-2 8-2-9-7 13-6-11-8 2-4 4-2-2-5 3-5 3-6-2-6 1-52 17 9-1 9 1 6-7 2 1 1-2 0 4 2 3 2-10 1 3 6-1 1-3 3 2 3-1 5 6 2 3 0 0 1-3 1-3 0 8 3-11 1-2 0 12 7-11 2 12 2 0 2-6 1 6 1-10 0 8 0 0 7-10 0 0 0 3 0 5 3-4 0 4 0 2 1 2 1-4 0 1 1-7 2-1 2 10 3-13 3 3 2 1 0 8 2-2 0 2 1-5 2-2 1 8 2-6 1-2 3 1 1 5 2 0 2-5 5-3 6 4 1 7 11 13-1 1 0-4-5 2-1-11-2 13-1-2 0-11-1 4-9 2-7 4 0-8-1 9-1-4 0 0 0-7-1 9-7-1-2-1-2 2-2-7-3-1-1 9-1 0-2-3-3 2-2 3-1-6-2-2-1-2-1 10 0-3-2 4-2-5-2 3-1-1 0-9-4 6-4-6-3 11 0-2 0-4-3-3-1 11-2-3-2-2-3 2-1-7 0 0-1 2 0-5-5 12-1-12-2 7-4 0-4-5-1 7-7 3 0-2-1 3 0-4 0-4 0-1-3 8 0-9 0-2-7 12-3 0 0-14-2 5-2 8-1-5-1 1-8-8-1 7-1 6 0-10-3-2-2 2-7 7-11 1-3 0-7 1-49 15 3-1 1-2 8 0 1-2 0 1 7-3 1 0 1 3 0 5 6 0 1-9 1 0 4-2 5 8 2-6 1 5 1-4 1 2 2-4 1 10 1-8 0 8 1-6 4-8 8 4 0 0 1 9 2-13 0 14 4-4 9-9 0 2 0 10 2 1 2-14 3 13 1-3 1 1 3-7 3-3 1 8 2-7 2 4 1 6 0 0 4-3 2-8 1 3 1 7 2 1 1-5 3 0 5 0 1 3 1-4 1-5 1 13 1-1 1-3 4 0 3-1 2-5 2 2 0 2 5-5 2 11 6-8 1 3 1-6 0 6 8 5 1-9 3-5 1 0 0 2 0 6 0 6 1-3 1-4 2 0 2-1 3 1 2 4 4-7 1-2 2 5 3-2 0 6 1-8 4-3 1 4 3-3 1-1 0 2 1 4 1 4 1-2 0 2 2-5 0 6 2-10 3-1 3 8 1 0 2 1 1-2 2-5 3 7 1 0 0 5 4-11 0 8 3-3 0 1 3-9 1 0-1 29-1-1-1-13-1 13 0-12-2 1-2 2-2 1-1 8-9-8-2 9-1-9-1-1-4 8-1-1-3 1-1 2-3-13-3 2 0-2-2 5-5-1-3 8-2-9-1 10-3-13-6 11 0-1-4-1-3-2-2-6-1 6-1 1-2 4-5-5-1 4 0-3-4-3 0 0-1 8 0-3 0-1-3-6 0-2-1-1-2 1-4 4-1 5-1-1-6 4-1-10-5 6 0 0-2-7-1 3-1 3 0-9-1 3-1 5-1-1 0-3-4 5-2-5-1-1 0-3-3 2-2 4 0-6-4 4-4 5-4 1-6 3-6-1-3-6-1 5 0-3 0-2 0-4-1 11 0-6-6 7 0 0-2-6-1-3-3 7-2-1 0-2 0-8-2 11 0-9-1 11-1-6 0-6-1 12-2-10-1 8-3-3-2-6-3 8-2-7-4 5-2 2-1-9-7 6 0-7-1 12-1-6-2 7 0-11-8-3-3 12 0-5-5-3-4 9-1-13-9 11-7 0-1-2 0-2-2-3-5 10-5-3-5 2-3-1-2-2-22 10 3-1 1-1 0 11 4-7 1 1 4-8 3 4 2-3 2-1 4 14 1-2 1-12 1 10 1 2 2-9 0 6 1 5 5-6 5-5 0 6 1-7 1-2 0 8 0 6 2-7 0 5 4-11 1 0 0 13 6-4 2-4 0 1 2 4 1-5 0 8 1-7 1 7 5-14 4 3 0 8 1-2 3 0 3-5 4-3 3 0 0 10 1 3 1-10 1 1 3 1 1 0 6-4 0 4 2-4 1 1 0 5 3 3 0 0 1-11 1 8 6-7 0 3 5 9 3-10 0 3 1 2 2-7 0 8 1-3 4-5 9 13 4-10 1 3 3 7 1-5 1-5 1 6 2-6 0 7 1-2 2 3 2-5 1-3 2 5 1-2 4 3 0 3 3-8 1 8 2-3 1-7 1 8 1-9 0 2 0 4 6 6 3-11 1-3 1 11 3-9 0 11 7-9 0 6 0 4 4-6 2 1 2-4 2 5 1-1 4-8 0 3 1 2 0 0 3-6 0 3 2 11 3-5 0 4 1-9 2 2 3 6 2-10 2 0 0 4 2 1 1 5 2-4 1-6 1 6 4-7 0 2 1 0 0 10 1-5 4 2 0 2 2-11 3 12 1-3 6-4 2 6 3-1 0 2 1-10 1 5 2-4 0 4 2 6 1-7 0 3 1-4 1-6 0 12 2-1 3-4 0 2 1-1 3-3 4-4 0 7 2-5 0 9 1-10 1 6 1-5 4 4 1 1 1 3-2 16-5-5-1 7 0-6-1-3-1-3-4 2-2 5 0-3 0-2-1 5 0-2-3 4-1-8 0-1-1 6-10-2-1-4-5 11 0-1-1 0-1-12-1 3-2 9 0-5 0-1-1-2 0-4-2 12-2-1-1-5 0-5-3 13 0-3 0-2-3-3 0-1-9 7-2 2-2-10-2-1-1 6-5-2-1 0-2-2-5 1 0-5-1 5-1-2-2-1 0 0 0-2-2 5-2 5 0-4-5 5 0-11-2 9 0-10-1 2-2 2-5 10 0-13-1 13 0-3 0-7-7 6-4-6-2-4-2 8 0-5-3 9 0-5-2 6 0-7-3 8-1-11-2-1-8 10 0-2-1-7-2 8-5-4-3 1 0-1 0-2-1 5-2-7-5 8 0-6-5-2-4 11 0-11-1 9-3-2-1 1-3-5-1 5-5-5-3 2-2 3-5 2 0-13-1 4-4 2-1 4-2-7-2 7-23-3-3-3-2 9 0-5-3 1-1-5-4 3-5-1-3 5-2-3-1-8-1 9 0-9-6 7-1 4 0-3-2 3-5-2-2 4-3-4-2-7-1 8 0-5-8 7-1-2-1-3-2 3-3-6-1-4-1 8-3 3-2-6-2 17 1 4 1-9 4 7 2-9 0 6 0 2 3 5 4-13 1 0 1 13 3-1 2-6 1 1 0 4 3-3 3 0 0 1 0 1 1-1 2-7 2 11 5-2 1-2 1 0 4-3 1-6 0 0 1 12 1-2 0 3 7-7 0 5 3-2 3-7 0 3 1 8 5-1 0 2 1-4 5 3 2-10 1 1 3-2 1 9 1-8 1 5 6-3 1-1 7 3 1-5 0 10 2-9 1-1 1 8 3-2 2-4 1 4 1 0 1-8 0 12 6 2 1-11 1 9 1-8 7-4 0 5 2-2 1 5 0 0 0 5 1-5 0 4 1 0 3-5 1 3 0 3 2 0 2-12 5 0 3 6 4 3 4-3 2 1 1-7 0 13 1-12 2 12 4-12 1-1 0 8 1-8 0 12 4-11 0 10 1-6 7 5 4 2 5-5 0 0 1 2 1-1 1 2 4-10 1 3 10 3 3 2 0 2 5-5 2 4 6 3 1-1 1-8 1 4 0 5 2-7 1 5 1-10 0 1 4 4 1 7 1-12 2 0 0 2 3-1 0 4 1-4 3 6 4 0 2 1 1-3 1 2 0 0 4 6 3-8 0 1 0 2 0 4 3-10 0 8 1-5 1 4 0 0 1 3 4-2 2-5 2 3 1 1 0 3 3-8 0 0 1-4 0 9 5-8 1 9 0 2 1-6 1-1 1-2 2-3 3 2 7 1 1 1 1 13-5 9-2-6-2-6-1 14 0-8-4 0-1-2-3 5 0-8-1 4-1-3-1 12 0-4 0-8-2 4-1-4-1 11 0-8-1 2-2 6-3 0 0-7-3 3-3 0-2-4-1-4-1 12-1-7-1 0 0 0-3-6-1 14-3-1 0-10-4-1-2 10 0-8-2 3-2 7-2-8-2 5-9-3-3 1-2 4-1-5-2-4-6 4-2-8-10 10-5 2 0-3 0-1-2-3-1-1-1 6-4-9-1 5-1 5 0-11-1 2-2 8-1-6-1 8-3-9-1 6 0-2-1 7 0-5-3-2 0-4-4 7 0-10-2 13-3-13-2 14-2-6-2-6-2 7 0-2 0-2-1 8 0-1 0-12-1 11-1 0-2-4-2 4-3 3-1-10-2 7 0-7-3 1-1 3 0-4-2-4-1 9-2-2 0-7-2 5-1 3-1 6-5-6-3-8-1 14-1-13-2 12-3-9-2 4-4-1-3-7-2 13-1-5-1 0-4 4-7-10-1 9-1-9-2 10 0-7-1 4 0-3-1-3-1 8-1-4-4-1-2-5 0-1-3 13-4 0-2-12-2 11-2-3 0-5-4 4-1 4 0-7-6-3-1 0 0-2-1 13 0-2-3-9 0-2-2 2-2 4-2 5-2 3-1-5 0-8-1 3-2 4-1 4 0-8-2-2-3-2-3 13 0-10-2 11-1-11-1-3-2 0-1 1-4 2-6-1 0-2-4 11-2 2-2-1-2 0-1 2-12 8 2 2 8-5 2-1 4 10 1 0 2-6 1-6 0 1 1 3 2 2 0 1 2-1 3-7 2 9 4 1 1-9 0 6 4 4 1-7 2 6 0 0 0 1 2-10 0 6 0 2 1-7 3-1 0 5 4-2 4 3 4-3 0 1 0 3 8 3 0 3 9-13 2 9 3-9 3 7 2-3 1 3 1 2 0 3 1 1 1 0 3-13 0 12 1-13 0 1 0 5 1 6 1-1 2 0 12-9 2 4 1 2 2-4 1 2 1-3 4 0 2 3 4 7 0 1 2-8 4 3 3-2 4 1 0 4 4-11 0 13 2-9 2-1 3 0 0 7 1 0 4-11 1 8 1-5 1 3 1 7 5-2 1-8 0 6 1 0 1-8 0 4 0 7 1-6 1 6 1-11 4 12 4-5 1-5 3-3 2 14 1-13 2 3 3-1 3 7 5-10 2 14 0 0 2-10 1 5 1-5 2 2 1 2 0 4 3 1 6-10 0 2 5 9 2-8 3 3 2 2 1-5 0 7 2-8 1 1 1 4 1 3 2-13 0 8 0 4 2-1 1-8 0 3 5 0 1-2 2 8 4-3 2-8 0 5 0 7 1-6 4-2 1-2 4 7 0 3 14-7 3 1 2-4 4 8 0 1 2-10 6 10 2-2 2-2 2 0 8 3 2-5 1 20-4-10-1 7-2-8-4 11-1 2 0-5-3-7-1 11-2 0 0-11-3 9-2-6-4 7-3-3-1 5-3-1-3-4-3 3-2-1 0-3 0-2-7-5-2 2-5 11 0-13-7 5-1 3 0-5-1 5 0 0-1 0 0-2-1 2 0-4-2 1-3 0-2 7-1-10-1 2-2 8 0-1-2-4-1-6-4 5-2-6-9 0-2 10 0-6-4 10 0-1 0-7-1-5-1 13-2-6-1 5-3-13-6 11 0-9-3 3-2 5-1 1-3-7-1 3-2 3-4 4 0-14-3 1-4 13 0-2-3-9-4 0-6 8 0-9-1 11 0-6-4 7-1-10-3 9 0-8 0-1-1 3 0-5-4 6 0-5 0-1-3 5 0-3-5 3-3 1-1-4-2 9-2-3-5-1-2 2-5-4-1-2 0-4-1 6 0-6-5 6 0-5-2 6 0-1-1 0-4-6-1 10-3-8-2 11-3-7-2-1-1 5 0-3 0-8-5 4 0-3 0-1-1 0-7 10-4-3 0-1-1 7-2 1 0 0 0-7-1 3 0-5-4 0-1 2 0-3 0-3-2 3-2 3-1 7-1-10-2 5-2 4 0-10-2 8 0-2-4-3-1 1-3 7 0-7-2 5 0-1 0-6-1 0 0-3 0-1 0 0-4 3-1-1-4 1-3 6-3 3 0-4 0-8-5 10 0-1-1-10-4 3-1 8-3 3-1-10 0-2-1-2-2 0-1 8-1-2-1 8-1-8-5-4-2 2 0-3 1 28 1-8 1-3 4 0 0 10 2-4 2-9 3 2 1 6 2-2 1 3 1-2 2 5 1-7 0 9 1 0 1-9 2 7 2-1 1 1 4-7 1-5 1 12 2-9 1 8 3-2 1-5 2-1 0 8 1-8 0 3 0 4 1-9 2 6 2 7 1-12 0 12 1-12 0 8 1-7 1-3 0 14 2-6 4 0 6-8 5 10 2-9 1 13 1-14 0 2 0 2 0 1 3 2 0 0 6 3 4 2 2 2 2-11 4-1 3 5 9-7 0 12 1-11 8 10 2 3 1-3 4-10 1 8 1-1 7 4 1-8 0 4 3 5 4-9 7 7 2 0 1-11 0 10 2-4 1 6 1-5 0 6 1-13 0 10 3-7 3 8 1 3 1-10 3 10 1-13 3 9 2-6 0 2 5 0 16-2 2 6 2-6 0 10 2-14 3 4 5 7 0 0 0 2 1-12 0 10 0 2 2-8 1 9 7-3 3-11 2 3 1 6 3-6 0 8 0 1 3-11 0 1 4 12 3-7 1-3 2 8 4-8 1 1 4 8 1-9 3 2 0 2 1-7 1 6 3-3 0 8 6-2 1-2 0 3 3-8 1 9 1-12 0 10 2 2 2-8 4-3 7-1 1 1 0 13 1-10 3 9 0 0 1-12 0 7 2-7 0 3 1 9 3-11 0 12 3-3 0 2 0 0 3-10 0 10 1-3 1 1 1-6 3 1 3-3-11 14-2-2-1 7-1-6-1 4 0-3-1 3 0-1-10 0-1-4-2 4 0-3-2 1-1 9-2-8 0-3-5 4 0-1-3 10 0-8-2 2-3-5 0-2-7 11-2-11-3 8-6 6-3 0 0-6-2-2-1 0-4 1-4-6-1 9-1-2 0-5-1 0-5 0-4 4-3 2-5-6-2 8 0-10-2 5-2-1-1 9 0-11-4 10-13-13-2 4-4-1-4 4-2-2 0-4-4 8-1 3-1-4-2-4-3 10 0-5 0-4-2-1 0-2-1 4-1 5-15-1-2-10-2 8-2 5 0-13-4 0-1 5-2-5-3 14-2-5-5-3-2 4-3-6 0-2-2-2-2 14-11-12-1 4-2-1-1 1 0-4-2 2-6 4-3 4-3-11-9 4-2 0-1 7-6 2 0-12-1 3-3 3 0-1-1-3-7 10-4-13 0 0-1 10-5 2-1-1-1 2-1-10-5 10-3-14-2 14-3 0-2-9-1 9-3-5-5 2-1 3-4-3 0 0-9 3 0-7 0-3-1-2-1 11-3-13 2 28 0 1 9-11 2-1 1 3 3-4 2 1 0 6 1-4 2-3 0 2 0 0 0 6 5-6 0 3 1-6 1 8 3-3 2-2 1 9 2-7 1-4 10 13 1-10 1 6 2-9 0 4 0 1 2-1 3 0 0 5 3-5 0 3 1-6 0 0 1 3 1 2 1-2 1-1 1 2 3-5 1-1 5 8 1-8 0 11 1 0 3-4 2 2 3-9 0 7 2-4 2 9 2-6 0 2 1-7 2 11 4-2 3-6 3-3 0 4 2 5 4 1 1-6 2-3 1-2 1 12 2-4 1 2 1-7 2 6 1 4 4-3 2-2 0 1 5-6 1 0 2 2 0 5 2-10 1 2 2-2 1 7 0 5 1-12 0 0 3 12 1-9 1-3 0 2 1-2 6 7 1-4 1 9 0 2 1-6 0 4 1-6 1 4 1 2 1 2 4-4 3-5 0 7 1-6 0 4 6 1 2-9 1 12 7-7 0 3 1-7 0 11 2-11 1 2 0 2 0 7 3-12 0 5 0 5 4-12 0 8 1 3 2-2 0 2 5-6 2 6 2-8 0 1 5-4 1 9 2-6 0 0 2-3 2 0 3 9 1-4 4-5 1 8 0 2 2-10 0 11 0 1 3-12 0 7 1 3 1-3 0 6 1-1 1-11 1 5 2-5 0 6 0 3 1-8 1 1 1 11 2-6 1-3 1-2 0 3 6-6 1 0 0 4 5-2 4 12 1-9 0 9 7-1 2-5 0 4 1-7 2 0 0 6 4 1 13-2 2-3 0 6 2-8 1 4 1-1 0 6 1-7 0 5 1-5 2-3 0 6 0 4 1-10 1 9 1 0 1-7 1 0 1-4 1 4-1 11-5 2-1 1-1 9-4-6-3-3-1 4-1 4-2-8-2 5 0-4-5 3 0-7-1 10-2 1-2-2 0-6-5 1-1 8-3 0 0-12-1 5 0-2-2-3-2 1-1 0-1-3-2 9 0-6 0 0-2-3-1 5 0-5-6 10-1-8-4 1-1 5-1-7-1 10-1-7 0-1 0 0-2 10-6-6-3 5-4 0-1-4-2-2-1 8-1 0 0-2 0-6-1 6-1-4-4 2-4 2-1-1-2 3-3 0 0-3-1-2 0-4 0-3-9 1-1 8-3 1-2-11-1 13 0-3-1 1-3-9 0-1-3 3-2 7-1-5-1 5 0-10-3 8-2-4-3-4-8 1 0-1-5 10-3-2-2-5 0-1-1 6 0-1-1 0-1-2-1-4-3 5-7 6 0-5 0 0 0-2 0-1 0-3 0-1-1 0-1 11 0-6-6-1-1 5-3 3-1-3-2 1 0-4-4-2-3 7-4-2-2-6-2 9 0-14-4 2-4 6-5-8 0 0-2 5-4 7 0-11-3 1 0 0-4 2 0-4-1 12 0-11-1 10-1-4-2 1-1 3-1-2-3 5-3-4 0-4-6 7 0-2-1 1-1-10 0-1-1 13 0-11-4-1-1 3 0-1-1 6-7 3 0-2-4 1-1-7-1 8 0-6-1-2-1 0-1 6-5-5 0-5-2 9-1-7-1 5-1 6 0-13-2 6-2 6-1-3-3-7-4 0-13 4-4-2 0-1-1 8-2 9 3-5 4 2 0 1 0 4 0 0 1-4 1 7 1-4 0 3 1-3 0 4 2-9 6-2 1 8 0 0 5 1 4-1 2-4 1 2 2-4 5-2 3 8 0 1 2-6 3 7 3-10 1 3 1 4 2-1 1 0 1-1 0 7 1-10 0 1 5 3 0 5 3-7 1 2 3-6 1 3 0 7 4-1 1-7 0 9 2-1 0 0 1 4 1-13 1 1 0 3 6-2 2 9 0 1 1-8 4-2 6 10 1 1 1-6 1 1 0 1 0 3 1-10 0 5 0 6 5-4 4 1 1-9 0 2 5 3 1-6 0 6 2-5 2 5 2 5 2 0 6-4 2-1 1-2 0 4 5 1 2-1 2 0 2 4 1-1 5-12 0 3 2 6 2 2 2-8 12 7 1-5 1-3 0 9 7 1 2-9 2 0 7-2 0 1 0 9 1-4 1 0 3 1 2-6 3 4 2-1 1-4 0 4 0 0 2 7 2-10 0 1 0 1 5 9 3-5 5-5 1 9 1-8 1 7 1-11 3 13 1-10 0 7 1-3 0 6 0 1 4-1 2-8 3 3 1-2 0 6 2-11 2 13 1-12 1 12 6-8 1 8 1-2 1-6 1 1 1-3 2-2 2 3 3 4 1-3 0 2 4-7 0 12 0 1 7-1 1-7 5 6 2-1 1-2 6 5 2-13 1 0 3 9 5-5 1 3 4-2-5 9-5 4-1 1-8 7-1-9-9 10-1-1-1-12-2 0-1 3-1 11-1-10-4 4-1-6-3 8 0-6-2 8-5-2-1 4-1-5-1 3-1 0-5-11-2 6-1 4-1-5 0 0-1 7-1-2 0-6-1 9-3-13-1 2-1 10 0-9-2 8 0-2-1 1-1-3 0-6-1 12 0-1 0-1 0-7-1 6 0-8-3-3-2 12-7-3 0-5-3 7-6 3 0-3 0-1-2-7-1 1-1 1-4 3 0 0-1 0 0-7-1-1-1 7-2-3-6 6-1-3-5 0-6-7-6 0-1 9 0-3-1-3-1-1-1 12 0-4 0-7-4 4 0-4-5-3-1 13 0-4-3-6-2 9-1-4-10 0 0-4-1 3-5 2 0-4-2-4-3 3-1 9-1-5 0-1-3-1-2 7-1 1 0-11-1 6-2-7-2 0-1 3-5 9-4-7-1 2-1-1-1 2-1 3 0-1 0-9-3 5-1 5-3-12-1 2 0-3-3 14 0-1-1-10-3 2-2 2-5 7-2-3-8 0-1-10-10 2-1-1-6 10-1 1 0-5-5-2-4 2-3-7-1 12 0-6-2 3-1-8-1 2-1 8 0-6-1 5-2 3-1-4 0-6-1-4-1 11-3-8-1 4-3 7-1-3 0-4-1 4-5 3-1-6-4-7-1 12-1-8 0-3-5 2-1 10 0-3 2 4 1 9 3-5 4-2 0 7 0 3 1-11 4 11 1-10 3-2 0 4 2-2 1 2 2 1 2 0 1 0 2-4 4 12 1-10 1 2 1-5 4 2 0 7 2 0 2-7 2 4 4-3 5 6 5-5 1 1 0 5 2-6 1-4 5 6 2-1 1 0 0 8 1-12 3 1 2-1 0 6 1-2 2-5 2 4 3-3 1 5 6-6 0 7 5-4 0 4 1-5 1 11 3-6 1 0 1-6 1 2 1-1 1 12 1-14 0 2 2-1 0 2 1 11 2-5 1-9 1 12 4-3 1 4 1-7 1 7 2-5 1-3 0 8 1-11 0 12 6-8 4 0 2 1 0 1 0 3 3 2 2-7 2 6 2 0 1 1 2-8 1 1 1-4 1-1 1 3 3-3 0 4 2 7 1-5 5 1 3 1 1-8 2 10 7-9 2 12 2-5 1-3 7-6 1 14 1-13 1 8 5 1 1 3 1-7 1-5 11 0 2 11 1-10 0 8 4-5 0 9 1-13 0 6 1-2 7-5 0 4 0 2 2 4 7 0 0 0 1-3 4 6 2-2 5-2 0 5 1-7 3 3 4 2 1-6 3 7 2-12 0 2 2 6 2 5 1-9 0 2 2 0 0 5 0 2 5-10 1 3 1-7 4 0 0 11 3-8 2 6 1 3 2-11 1 9 1 2 1-1 0 0 3-11 2 0-16 25-2-2 0-6-1 10-3 2-1-1-6-7-1 5 0-8-1 2-3 4-5-9-3 3-5 9-1-5-4 7 0-9-4 2-3 1-2-6-1 6-5-8-5 13 0-6-4 7-2-11-4 7-1-4-1-2-5-1-1 8-3 1 0-3-1 3-3-7-8-2-6 4-1 7-4-10-1 4-3-4-3 7-1 0-3 1-3 2 0-9-2 6-7 1-1-8-1 1-2 7-1-2 0-1 0-1-1 4 0-7-3 9-5-12-6 9 0-9-7 0-4 4-2-5-1 8-1-1 0-4-5 2-2-4-1 12 0-9-1-1-20 10-4-4-1-8 0-1-3 1-2-2-1 7-1 2-1-4-2 5 0-8-1 0 0-1-1 10-3-2-2-7-1 6-1 1-3-2-1-7-4 4-2 0-3-3-11 5-1 5-5-6-1 7 0-10-2 8-2 3-1-3-8 0-1 3 0-5-1-6-2 5-4 6-6-13-1 12 0-12-6 10 1 13 0 1 2-2 1-2 2-2 0 7 2 2 4-3 0 3 0 1 1-8 0 4 0 2 1 0 3 1 3-3 0 3 2-7 2 6 0 2 9-5 6 0 2 6 2-12 0 3 2 2 3-3 1-3 3 8 1-5 1 6 1 1 0 2 2-9 1 10 3-2 0 2 2-9 0 8 1-13 4 2 2 5 2 5 2-3 1-7 0 3 0 0 1-3 3 3 0 1 1-4 0 7 3-8 6-1 1 2 7 0 0 2 2 2 1 6 0 1 3-13 0 6 0 1 4 4 1-3 2 3 3-6 2 2 3 0 2-1 1-5 3 2 9 8 2 0 1-6 2-1 4 7 2 3 2-12 0 12 1-3 0 1 10-3 1-1 1-3 0 2 4-6 2 9 7-7 0 1 3 3 1-4 0 1 0 6 1 1 2-6 1 8 3 0 2-11 1-1 1 1 4 8 2 2 2-1 1-4 0 5 2 0 0 0 0 0 3-11 3 3 8-3 0 5 2 8 1-12 2 0 2 10 0 1 2-13 0 4 1 2 5 6 1-1 3-6 0 6 1-9 0 4 0 4 1 4 1-13 2 8 4-9 0 9 1-7 0 7 1-8 2 0 1 9 5-10 8 3 1-3 1 8 0 2 1-9 2-1 0 12 3-7 0 0 3-5 0 6 3-6 2 0-15 21 0-6-2 8 0-8-3 8-6 4-2-11 0 0-3 0-3 4-1 1-1 0-8 7 0-3 0-5 0-4-3 13 0-13-2 3-1-4-2 0-1 11 0-1-3 4 0 0-2-10-1 6 0-2-6-6-1 5-1 2-2-4-1-3-6 10 0-6-1 2-3 3-2-7 0-3-6 12-7-7-3-3-1 11-2-7 0-6-2 2-1 11 0-9-3 7 0-8-2-3-3 13-7-7-1-5-3 7-2-8-2 8-3-7-5 2-4 2-3-3-6 4-2 1-2 6-1-2-1-5-1 2 0-9-5 5-5 3 0-1-2 0-1-1-1 5-3-2-2 2 0-1-3-1-8-3-2-3-3 3-3-4-3 4-16-4-4 3 0-1-3-3 0-1-3 4-3-1-2 0-1 0-1 4-7-6-4 1-2 6 0-6-1 5-3-6-6 10-1-11-2 14-3-1 0 0 0-1-1 1-2-11-2-1-2 1-2 11 0-7 0-2 0-4-1 15 0 2 1 0 0 0 93-2 17 6 4 0 8 4 1-3 0 6 5 1 1-14 0 1 1 1 2-2 0 10 0 3 1-11 1 2 0 1 1-1 0 4 1-6 9 8 2-5 1-2 5 3 6 2 2 0 1-7 0 3 0 2 1-5 0 5 1-2 2-2 2 5 0 7 2-14 2 0 1 4 1 1 2-5 0 1 4 3 3-1 1 11 2-14 0 6 1 3 2-2 1-2 1 6 1-6 0 6 1-8 0 6 1 0 3 2 1 2 4-10 8 10 0 1 1-4 2-9 0 3 3-1 0 4 2-3 4-1 1 4 4-7 2 5 7-4-31 16-11 2-20-1-7 3 0-4-1 3-1 3 0 0-2-2-2-5-4 6-1-5-4-1 0-1-1 2-1 2-9-4" fill="none" marker-start="url(#k11)" marker-mid="url(#k11)" marker-end="url(#k11)"/>
<path transform="scale(0.2)" d="M1328 1439l19-5 2 5 2 0 1-3 2-1 11 3 52 16-5-5 0 0-3 2 0-1-2 4-2-1 0-3-6-2-1 2-2 4-1-2-3-6-6 2-2 6 0-1 0-5-6 3 0-1-1 3-4-5-1-5-2 11-2 0 0-8 0-1-1 4-13-1-2 4-4 1-1-9-4 5-1-1-1-6-1 9-1 3-4 0-2-9-2-1-6 4-4 1-3 5 0-4 0-3-5 1-3 1-4 3-6 2-12 15 4-7 1 2 5-7 2 5 2-6 2-1 0 5 10 7 2-5 1 2 2-4 2-2 4 8 2-6 3 7 4-4 7-8 5 4 0 2 0 5 0 3 5-12 1 6 1-4 5 10 1-7 1 3 1-3 1 2 8-1 4-8 1 4 4 7 1 2 1-11 1 10 2-6 5-4 0 3 2-2 1 7 2-2 2-3 3-5 0 2 1 7 0 4 2-11 4 2 0 3 0 7 1-2 1-11 0 5 0 7 1-4 4 0 1-7 1 10 1-1 3-1 2-3 0 4 4-10 0 11 3-7 1 5 2-6 4 4 0 1 3-2 2 6 10-3 2 2 9 1 14 13-3 3-2-11-8 8-3-4-5 3-2 3-1-13-2 7-5-6 0-1-1 7 0-3-1 4-1-4-4 7-2-2-2-7-4 8 0-5-3 8-9 1 0-11-2 5-1-3-6 8 0-4-1-3-1 3-5-5-1-3-2 13 0-10-1 6-1-3 0-6-1 9-1-9-2 9 0-5-1 8 0-9-2-1-3 0-1 4-1 1-1-2-4-6-3 8-2-1 0 0-3 4-2 3-4-7-1 6-2-4 0-6-2 8 0-1-1 2 0-2-1 1-1-8-2 1-2-2-1 6-1 5 0-5 0-8-2 8-1-2-7 8-2 0 0-1-6-8-2-1-3 1-2-1-6 5-2-7-3 10-2 1 0-9-1-3-2 10 0-6-4 6 0-7-1-2-5-2-3 14-4-11-6-2-1 11-1-3-9 0-3 2-9 13 6-4 4-4 3 5 0 2 0 4 2-7 1-1 0 5 1-9 2 3 5 6 0 2 10 2 3 0 1-9 1 4 0 5 1-7 0 6 1-4 2 3 2-8 0 8 2-6 0 5 0 4 2-11 1-2 1 4 2-3 7 0 1 7 1-1 0 1 1-5 2-2 1 2 7 10 1-1 4-8 6 6 5-1 2-9 2 0 4 4 1-1 3-2 0 6 3 2 3-1 1-9 1 14 4-14 5 0 0 12 5-4 0 6 1-3 3 3 2-5 1-1 1 6 1-7 1-7 1 10 1-7 0 4 0 2 2-5 0 6 1-4 2 3 2 4 1-6 1 3 1-10 2 13 3-1 0 1 0 1 2-12 1 1 0 4 3 0 4 3 1-3 0 3 7-3 3 0 0 7 3-7 9 0 1 7 1-6 3 3 0 3 2-9 0 9 3-6 2-3 0 4 5-6 2-2 5 13 1-10 0 10 1-1 0 1 1-8 2-6 0 5 11 13-2-1-3 10-1-5-2 0-1 3 0-9-2 4-3 5-1-2 0 0 0-6-2 11 0-5-1 1-2 3 0-10-3 1-2 0 0-3-3 12-1 0-1-9-3 7-2-5 0-4-1 5 0-5-1 11-1-10-4 9-6-6-1-1-1 7-2 3-6-12-2 6-2-2-1 1 0-1-4 2 0-8-1 11 0-9-7 10-1-10-2 11-2-1-5 2-1-6-5-7-1 6 0-1-3 5 0 0-1-4-3 7-4-4 0-6-1 5-2-3-3 0-4 2 0-7-1 12 0-2-1 3-4-5-1 5 0-11-1-2-1-1-2 2-1 12 0-5 0-1-1-2-1 6 0-3-2-3-1-5-5 3-1 10 0-6 0-3-2 4-1-3-4-2-2 10-1-3 0-5-4 4-6-1-3 5-6-7-2-1-2-1-2-2-2 2 0-5-4 3-1 7 0-4-3 3 0-9-1 11-2 3-2-1-3-6-2 0-1 4 0-8-1 3 0-6-1 0-1 9-4-1-8 2-1 2-4 1-3-10-2 9 0-7-1 5-2 3-1 1 0-6-3 1-1 3-8-2 0 0-4 17 3-11 1 10 3 3 4-5 1-8 3 5 10 2 5 0 3-2 3 5 3-10 2 3 6-2 1 0 1 1 0 11 1-13 3 3 0 4 5 0 4-3 7 4 0 1 6-6 2 1 0 1 2 6 2-11 2 4 11 6 4-4 4-4 0 7 3-4 2-4 3 4 0 4 2-4 0 1 2 7 2-2 1-2 3-6 6 10 3-2 1-9 3-3 0 5 9-5 0 2 1 5 0 6 1-6 1-6 0 13 1-11 0 4 1-2 3 7 1-6 0 7 1-5 0 4 0 1 0 1 3-11 2 6 0 1 4-8 3-2 1 7 1-1 2-2 1 10 2-6 1 5 2-11 3 3 1 0 0 6 5-7 2-4 0 5 0 6 6 3 6-4 2-6 0 9 5 1 1-1 6-8 1 0 0 8 1-5 1-8 2 0 0 14 4-6 0 1 2-8 1 7 1-8 0 7 2 6 2-8 2-5 0 4 1-4 0 10 3-7 0 3 0 4 1 4 1-7 8-4 0 4 2-7 0 0 3 13 3-2 17 18-1 0-8-4-2-10-1 12-5-11-3 10 0-3 0-5-9 7-2-7-1 11 0-7-1 2-1 4 0-5-3-5 0-2-1 6-2-6-8 9-5-7-6 10 0-4-2-3 0-2 0 0-1 4-1-8-1 11 0-4-1-4-2 5-3 1-3-1 0-2 0-5-1 0-2 13-1-5-1 2 0-1-2 2 0-11-1 4-3-2-4 7 0-6-3 1-8 6-2 0-4 1 0-2 0-5-2 5-1 4-1 0-2 0 0-8-1 0-1-1 0-3-1 3-4-3-2 3-6 7-2-2 0-7-3 6-3-2-2 1-8 1 0-9-6 10 0-4-5 1-1-7-5 6-1 1-4-4-1 5-3-5-1 2-4-1-3 4-5-5-3 2-1-4-4 11-1 0-5 1 0-1-3-10-4 11-2-12-1 9-1-6-5-4-1 3-2 7-1 2-1-1-1 2-2-6-3 3 0-10-2 7-1 3-2 0-2-3-3-7-7 10-6 2 0-1-3-1 0-2-1 2-5-6-10 8-4-8-7 7 2 5 0 1 3-2 6 3 2-3 2 5 2-5 3 0 0 0 4 1 7 9 1-7 7-1 2 0 1 3 5 1 3 1 2-3 2 1 5 3 2-7 1 1 3 2 1 4 1-4 1 9 3-4 1 4 4-5 3-2 0 2 4 0 3-6 1 7 0 1 1-6 0 8 2-11 3 12 6-11 2 1 2 5 3-2 4 5 2 2 1-1 1-6 0 2 0 2 0 0 6-6 6 8 4-7 4-5 2 6 0 6 3-7 1-2 1 6 1-1 0 1 4-5 2 1 1 9 1-5 1-8 0 3 0 9 1-12 0 10 1 1 0 2 1-9 1 7 4 0 1-11 2 5 1 4 1 2 1-5 1 6 5-10 0 10 3-10 0 0 6-3 1 10 1-7 0 1 1 6 4-2 1 0 1 1 3-5 4 0 2-2 0 9 2-8 2 11 2-13 0 6 7-1 2-6 1 3 3 11 3-3 3-5 5-1 1-2 0 7 0 2 1-9 0 6 1-3 3-1 0 7 4-9 2 4 1 0 2-4 2 0 1 9 0 1 4-13 4 14 1-14 1 3 2 2 1-1 1 0 3 9 1-2 5-11 0 4 1-4 4 3 1 5 2-5 0 6 2-5 3 5 3 1 1 3 7 7-4 1-5-1-1-1-2 9 0-10-2 2-1 6 0-7-7 6-1-6-1 1-1-1-1 3-1 7-5-7 0-1-4-5-2 3-1-1-1 6-2-7-3 8-2-7-7-1-2 1-3 8 0-7-1 3-6 0 0 0-1 5-1-8-3 1-1 5 0-1-1 1-2-7-3-3-1 7-3-4-1 10-1-9-1-2-1 4-3-2-3 3 0 0-1 0 0-6-4 6 0-2-1-1-3 10 0-5-1 5 0-4-2 1-3-8-1 1 0-1-2-1-2-2-3 10-1 0-3-8-6 10-1-10-1 9-6 2-2-13-3 14-1-10-1 4-4 4 0-2-1 0 0-3-2 2-3 0-2 1 0-6-2 4-3 2 0 0-3 2-1-10-6 10-6 2-2-6-4 0-6 2-1 4-1-8 0-2-2 4-2-1-3 0-1-4-4 1 0 0 0-1-3 6 0-2 0-4-5 9-4-1-2-8-10 5-4-6-1 5-1 1-1 1-6 0 0-8-4 8-1-4-4 2-7 7-4 0 0-12-1 12-6-1-2-4 0-3-1-4-6 4-1 1-4 4 0-9-4 3-2-2-1 5-2-4-1 7-1-4 0-4-1-3-4 0-3 13 0-7 0-1-1 6-1-1-1 1-1-1-2 2-3 13 0 0 0 2 7-5 4 5 2-11 4 0 4 5 1-6 0 1 1-1 2 8 2-8 0 7 3-7 0 4 0 8 1-12 1 6 1 1 1-3 0 1 0 2 1 0 2 0 0 6 4-8 3 7 1-12 0 14 1-13 0 5 1-5 0 5 0 7 1-5 3 1 2 1 4-9 2 8 1-9 1 12 4-4 1 6 6-7 1-5 0 9 1-8 1 3 1-1 4-5 3 2 2 5 4 2 4-1 2 6 2-11 0 6 1 2 4-6 3-4 1 10 6-7 0 3 0 6 1-9 0 6 3 3 1-5 0 3 3-9 9 10 1-8 1 3 0 0 1 0 3 4 1-11 2 1 1 13 10-9 2 9 2-10 1 2 0 3 0 2 2-2 1 1 3-3 4-7 1 3 0 11 2-9 2-4 10 3 0 3 4-1 4-6 1 14 3-14 3 1 0 7 1 3 2-10 2 7 1-2 0 6 2-10 3 11 0 1 1 0 2-12 7 9 1-7 2-3 2 6 3-2 1 7 5-2 0 3 2-7 2-3 2 9 2-6 4-4 0 4 0 1 2 0 1-5 2 4 2-4 0 2 0 6 2-2 2-2 7-6 4 7 1-7 0 6 1-6 7 1 7 1-58 19-2-1-5-1-3 5-1-5-1 2 0 0-4 3-2-1 0-4-1-2 0-2-2 0-2 6-2 1 0-4 0-3-1 4-2 7-2-9-5 11 0 0-2-11-1 10-2-12-2 3-1 10 0-6-1 7-2-11 0-3 0 0-1 13-1-1 0-9-2 9-1-1 0-8-5 6-3-2-1 0-3-4-1 10 0-3 0-3-1-7-2 1-1 0 0 0-1-1-1 5-1-4-1 7 0-4-1 0-1 9-4-3-2 1 0-1 0-6-2 2-2 3-5-2 0-2-3 4-1-5-1 6 0-4-1 1-5 4-1-3-1-8-3 0-1 14-1-13-1 8-2-3 0-2-1 10 0-13-1 11 0-2-1-5-3-1-2 3-3-2-1-4-1 10-1 0-1-10 0-1-2 13 0-4 0-4-1 1-1 6 0-2-2-10-4 0-2 0-1 4-2-2-1 3-3 2-2 0-1 2 0-2-6 5 0-6-2 8-1-4 0-1 0-9-1 6-1 5-3 1-1-1-1-3-1-1-1-6-4 0-1 9 0-1-1-6-5 8-3-10-1 12 0-1 0-4-2-7-1 3-1 10-2-3-1-11-2 11 0-9 0-2-1 7-1-3-3 3-4 5-1 0 0-3-5 0 0-3-2 7-3-2-2 0-1 2 0-3-7-6 2 11 3 3 2-2 1 10 3 2 3-11 1 2 3 10 4-14 0 14 1-5 6-6 0 6 1 4 2 1 4-8 2-6 0 1 5 10 8-2 3-3 1-5 0 6 0 0 0 1 1 4 1 0 1-11 1 12 11-11 0 1 4 4 1 1 1-3 4 0 0 2 10 4 1-1 0 3 1-1 1-9 2 9 1-2 1-3 2 6 1-8 0 2 5 1 3-8 1 3 11-2 0 12 3-13 4 0 1 2 3 10 2-11 1 0 0 6 6 7 1-5 5-9 0 13 1-2 1-3 1-2 0 1 0 4 2-3 1-2 0 1 3-2 4-2 1 0 0 1 13-3 2 2-37 12-8 3-8 0-2 1-1 2-1-4 0-2-1 6-6 2-11-5-3 10 0-9-4 5-1 2-2-9-2 10 0-9-3 11-1-12-2 9-4 0-1 2-1 0-4-4-1 2 0-3-3 3-2-9-1 7-5-4-1-5-1 4-1 1-1 3 0-2-2 3 0-2-1 0-1-4-1 8-13-8-1 1-8 5-3 1-1-8-4 10-3-11-3 1-5 7 0-2-1-7-14 27 7 2 2-9 0 7 3-10 0 11 2-1 13-12 0 8 5 3 2-4 2-6 6 5 5 7 1-13 0 2 4 2 0 5 5 2 1-11 0 9 0 4 1-11 14-1 0 4 7-5 0 7 3-6 11 0 4-1-54 27-4-6-1-5-2 12 0-9-10 10-5-10-1-4-3 7-1-1 0-1-2-5-2 12 0-8-6-1-1-1-1 10-3-6-1-5-1-1-1 12-3 0 0-7-3 9-1-9 0-1 0-2 6 19 1 4 2 4 3-14 2 6 4-6 1 5 3-1 1-4 2 2 2 9 3-8 6 7 1 3 4 1 2-7 3-7 0 8 4 1 1 11-2 6-1 3-2-12-1 11-5-1-2-6-2 7 0-1-1-12-2 11-8-1 0-2-6 6 0-6-5 2 0-6-2 3-5 1-2 2-2-3-3 3 1 10 8-4 1 11 1-7 1-2 2 5 2-8 9 4 4 3 3-1 1 8 4-6 1-7 0 12 5-12 0 12 7 3-10-1-2 1-2 0-17-1-17 0" fill="none" marker-start="url(#k12)" marker-mid="url(#k12)" marker-end="url(#k12)"/>
<path transform="scale(0.2)" d="M1207 1662l4 2 1-5 0 1 1-4 4 5 0 3-1 3-3-1-1 3-5 7-2-4-7-6-1 12 0-3 0-1-2-2-2-4-1 7-3-5-1 4 0-3-1 2-2 5-1-11-2 1-1 8-2-2-1 2 0-8-4 8-5 0-3 3 0-2-2-5-1 1-3 6-67 14 12-1 5-2 0 3 5-5 0 6 2-2 8-1 7-1 6 4 4-2 2 1 1-4 1 3 1-7 2 8 1-3 1-2 5-8 2 13 2-1 4-7 1 3 7 4 1-11 0 3 0 5 0 3 3-3 11-2 2 6 1-9 0 7 1-11 1 2 0 3 0 5 1-3 0 6 3-13 0 1 0 1 1-2 1 14 2-9 1 9 3-6 4 6 1-9 1 9 2-6 0 6 1-4 1-3 0 4 1-9 1 12-1 6-2 0-1 7-2-4-1 3-1 2 0-2-10 3 0-8-2 6-3 2 0-14-1 10 0-8-6 8-1-1 0-7-3 5-5-4-4-2-3 9 0-6 0-3-1 10 0-10-2 2-5 7 0-3-4-4-1-1-2 5-5 1-5 6-5-7-4 7-1-14-6 6-9 4 0-2 0-5 0 0-3 7-3-3-1-1-2 8 0-12-1 8 0-3-1 7-1-5-2-8-2 8 0-3-1 6-2-2-4-3-2-1-3-3-1 5-1 5-3-9-1 6-1 2-2-8-3 1-2 8 0-2 0-4-7 5-3-2 0-5-1 6-3 2-1-6-2 2 0-1-2 2-1-2-1 5-3 1-52 15 1 0 2-3 1 2 7 1 2-1 5-4 0 5 1-9 2 4 0 5 2-2 5-8 1 3 4-1 2-4 0 9 2-3 4 6 2-2 1-12 0 5 1-1 1 8 4-1 11-5 0 5 1-4 7-1 2 4 0 2 3-2 4-3 1 7 4-13 2 0 4 5 6 1 5 2 2 1 2-9 5 13 6-7 0 3 1-10 4 14 0 0 4-7 1-4 3 1 3-2 6 2 0 8 3 0 1-9 1 7 0 2 3-12 2 5 0 3 0 2 3-3 2-4 0 9 1-6 2-5 1 1 2 10 0 2 3-1 5-9 2-3 1 5 4 3 1-7 0 8 1-10 8 0 0 7 0 4 1-9 2 9 3-3 2-4 0 3 1-2 1-4 0 0 1-1 0 13 1-3 5-8 0 7 5-6 2 11 7 0 5-7 0 2 2 0 1-7 1 9 8 0 1-7 1 3 2 7 1-3 1 3 2-7 0 1 0 4 2-1 1-4 1 6 1-4 1-1 1-6 1 7 2 3 1 0 1-3 2-2 1-5 0 1 0 8 4-1 0 2 1 1-3 7-9 6-2 1 0-6-1 1 0-2-1-1 0-3-3 1-2 9 0 0-1-5 0-3-3-1-3 12 0-11-6 11-1-3 0-9 0 0-1 8-2 2-2-9-1 10 0-4 0-5 0 0-1 3 0-5 0-1-1 7-3 3-8 3-3-11-1 3-4 2-2-5-2 5 0-5-1 4-2 7 0-1-1 0-2 0-1-3 0-2-2-1-1 4-5 1 0-8-1-2-2 11-2-7-3 5 0-2-1-6-5 9-3-4-2-2-1 3-1-7-4 6 0-4-2 9-1-7-1 1-2-3 0 0-2-4-3 13-1-13-1 5-1 2 0-4 0-1-1 7-2 3 0-8-1 2-2-6-6 5-3 8 0-4-3-7-1 10-4 0-2 0-1-12-1 13-3-1-1 1 0-2-1-8-2 5-1-1-2 0-1 1 0-7 0-1-3 3-1 8-1-5 0-3-1 4 0-6-3-1-2 3 0 0-1 5-3-3-1 7-2 0 0-4-2-3-4-2-1 2-1 4 0-8-1 6-1 3 0-8-1 4-1-2-2 7-1-9-6 0-1 12 0-1-1-9 0-2-2 1-4-3-3 5-2 4-6 3-3 0 0-5-2 2-2 4 0-1-3 1 0-5-2 1-8 5 0-1 0-5 0-8 0 0-1 13 0-2 0-6-3 0 0-3-1 7-1-6-1 10-1 0 0-9-2 3-2-4 0-1-2-2 0 0-1 4-4 9 0 0-2-12-2 12-5-13-1 11-2-3-1 3-1-1 0-5-8 3-1 4-4 0-6 2 2 8 0 4 3-7 1-3 0 6 2-2 1 6 1-11 1 12 0 2 1-8 4-3 1 8 2-6 3-2 0 11 3-1 1-13 0 2 5 3 1-4 0 5 7-3 0 6 1-8 0 4 4-5 0 12 1-10 2 10 2-7 1-2 3-1 0 1 1 6 2-9 0 4 2-4 1 1 0 9 0 2 2-6 2 2 0 3 2-9 1 12 4 0 4-12 3 12 1-14 3 5 1-1 2-4 3 6 0 0 2 1 0 2 2 1 3 1 1-5 3 8 2-5 0 4 1-4 2-4 3 2 5-2 8 8 3-8 0 4 0 2 1 0 2-2 0 2 1-6 0 8 1 0 5-10 0 1 1 2 5-4 0 3 3 3 1 4 2-10 0 11 6-7 1 6 2-10 3 3 1 1 1-5 4 2 0 2 0 9 2-3 2-1 2 0 4-8 1 6 4-3 0 3 2 2 1-6 0 8 1-5 3 0 0 3 1-4 1 6 2-2 3-7 3 11 1-12 2 0 3-1 1 5 1-5 0 13 2-9 0 3 3-6 2-2 0 9 1-9 0 7 7 5 1-12 0 11 1-6 1-2 2 0 4-3 0 4 2 4 1 0 1 1 3 4 6-9 0 5 2-5 0 8 2-8 0 9 1-2 5-4 3-7 0 5 1 4 2-9 0 8 1-8 3 8 0 5 1-7 3-4 7 0 3 6 1-8 1 4 4 9 1-10 3-2-20 14-4 0-3 3-2-1-1 2-5-3-4 6-12 1 0 0-3-6-7-2 0 0-1 9-1 5-1-5 0-7-3 7-2 0 0-5-2 0-1-3 0-1-1 11-2 1-3-3-1 2 0-8-2-1-3 12 0-9-4-5-3 11-2-5 0-6-1 9-6 1-1 2-2-10-5 12 0-3-1-10-1 6-2 3-4 1-1 0 0-8-1 5-3 3-7-4 0-3-1-1-1 7 0-8-1 11-2-11-2-2-1 4-1 6-1 4-1 0-1-9-1-3 0-2-4 0-1 14-6-8-5 2-1-5-1 10-6 0-2-10 0 0-1 10 0-2 0-9-2 8 0-7-2-1-5 3-1 4-3-8-1 9-2 1 0-10-1 7-2 5-4-13-3 7-1-4 0-2-1 10-1-2 0-2-1 5-2-3 0-6-7 5-3-4-1 8 0-1-1-4-1 5 0-7-2-4-2 5-7 8 0-4-1 3-4 1 0-11-3 0-3-3-5 4-1-3-3 12 0-12-1 8-3-9-1 11-1-7-1 10-1-8 0-3-5 10 0-10-7 10-2 1 0-2 0-2-2 1 0 0 0-7-1 4-1-3-1 4 0-9-1 12 0-5-2-7-2 6 5 13 1-4 0 4 1 2 0 6 4-4 1 4 1-9 3 10 1-6 0 7 1-4 1 4 2-7 4 2 7-9 1 11 7-4 3 7 3-2 3-11 2-1 0 4 2 6 2-8 3 11 1-10 0 6 0 1 1 0 1-7 0 10 4-8 0 7 4-10 2 0 4 2 0 4 2-8 0 12 1-2 1-9 0 2 0 11 1-12 2 9 2-1 0 0 1-7 1-2 1 2 2 0 1 1 2 1 0 9 1-10 1-1 0 5 1 3 2-1 1-3 1-5 1 6 6-7 1 5 2-6 2 14 1-10 3 6 3 1 2-9 4-1 1 2 1 9 2-9 3 9 1-3 1 1 3 3 1-8 1-2 0 9 1-10 0 8 2 1 1-2 3-1 0 1 1 1 1-4 0 6 1-11 1 3 1 5 1-9 0 3 0 2 3-5 1 10 2-8 0 4 1 0 1 2 5 1 1 1 0 2 1-7 4 5 2-7 3-3 0 4 4 0 2 3 13-7 1 4 8-3 7-1-67 17-6 1-1 2-2-2-3 2-2-1-2-2-1 4 0-6-7 6-3 5 0-11-2 8-1 2-1 0-5 1 0-2-2 3 0-10-1 1 0-3-1 13-2-9-1 5-2 5-1-2-1-3 0-3-2 3-1 5 0-3 0-2 0-2 0-6-1 11-1-3-5-1-1-4-1 5 0-6-2 1-3 6-2 3-10 1 0-4 0-8-1-1-1 5-3-1-1 9-1-4-2-1-1-9-2 14-4 0-4-13-1 4-1 5-1 1-5-11-3 12-4-5 0 0-4 6 0-3-5 4-2-6-4 4-1-12-1 14-1-3 0-8 5 13 1 2 2 0 0 2 4-2 0 8 2-10 0 2 1 8 1-7 0 6 1-8 2 5 0 2 1-4 0 1 3 4 0 4 2-11 0 3 5 2 0 5 0 1 1-11 0 2 5-3 3 5 0 4 1-3 0 5 2-3 9-7 1 7 3-6 3 2 2-6 2 3 1 0 0 3 5 0 13-6-54 15" fill="none" marker-start="url(#k13)" marker-mid="url(#k13)" marker-end="url(#k13)"/>
<path transform="scale(0.2)" d="M1255 1752l1 2 3 1-1 8-1-4 0-4-2 6-1 3-4 3 0-10-1 12-1-13-3 12-3 0 0-11-3 2-3 6-2-4-1 1-5 3-5 4-15-3-39 12 1-2 10 8 2-9 8-2 0 4 3-6 9 8 3-8 0 3 3 4 0 5 1-6 3-2 0 3 3 3 4-7 0 0 0 4 0 6 10-6 0 3 3-11 1 8 2-6 1-2 0 1 2-1 1 3 0 1 1 3 0 7 1-10 0 2 3-3 2 4 0 6 3-11 3-2 2 2 2 9 1 3 2-10 0 1 1-1 0 10 0 0 1 15 0-14-1 3-1 1 0-1-8-2-2 5-1-4-1-2-1 10-1 2 0-4-2-7-2 9-1-8-1 9-2-11-1 4-1 6-1-1 0-8-2 7-2-4-1-4-2 6 0-6-3 8 0-5-2 8-1-7-2 1-7 4-3-6-2 11-1-8-2 1-3 5-1-11-1-1-2 14-3-1 0-3-1 2 0-9-1 7 0-7-5 1-2-2-1 5 0-5-2 9-1-1-1 4 0-6-4 6-4-9 0-4-4 8 0-7 0-1-3 9-3 4 0-8 0-2 0-4-1 8-9-4 0-2-1 4-1 4-1 3-3-7-5 0-2-3-5 1-3 9 0-1-1-6-2-1-9 5-1 1-2 1-6-2-1 3-9 1-2-2-1 0-8 2-42 13 1 2 4 0 6-4 1 4 1-6 0 2 2 2 12-2 3-2 2-3 1-1 7 8 2-5 3-1 2-4 0 3 2 6 2-7 3-2 2 7 1 4 2-11 1 12 1 0 2-11 3 2 2-3 1 8 2-6 0 6 9 1 0 1 3-11 3 11 2-8 1 6 1 4 3-14 0 11 5 0 4 3 2-12 1 11 1-12 1 5 2-1 0 4 1-8 2 6 3-6 0 7 1-3 1 1 1-5 2 2 0 7 0 3 2-9 2 2 1-2 0 3 3-7 1 8 1-1 7-2 3 3 0 1 0 2 4 1 2-2 2-6 1 6 1-10 0 3 1-3 3 13 4-7 0 5 2 3 1-1 2-2 2-1 1-10 0 13 3-4 2-9 2 5 0 5 6-8 0 11 3-11 4 6 0 2 1 1 2-7 0 2 0 1 2-1 2-3 0 2 1-3 1 7 1 5 2-8 2 3 0 3 1-8 1-2 1 5 2 0 0 6 6-10 2 23-2-8-1 4 0-6-1-1-1 13-2-4-5-2-3 7-1 0-3-8-1 8-1-2 0-1-3 0 0 0 0-9-1-1-2 10-3 3-1-1 0-4 0-2 0-2-1 2-1 2-2-3-3 2 0-7 0-1-2 9-2 2-4-2-5-7-5 6-2 6-1-6-2-2-2-2-2 8-1-1 0-4-3 6-12-10-5 11 0-2 0-5-2 0-4 4-1-3-3 0-3-5-2 5-1 1-1-3-1 1-1 5-1-5-1 1-8 5-1-9-1 10-2-2 0-4 0-4-4 8-7 2-2-11-5 4 0-1 0-3-4 11 0-12-3 8-5-5-2 5-1 4 0-2 0-11-2 12-3-5-1 6-1-9-5 8-3 0-4-3-3-6-1 8-3 1 0-3-5-5 0-4-1 2 0-2-3 11-1-9 0-2-4 5 0-1-1 7-2-7-3 4 0-1-1-6-1 12 0-3-2-2-2 2 0-11-2 3-1 2-5 2-1 3-2-3-3-3-3 0-2 0-1 3-1 0-3 5 0-4-1-1-1 0-1-3-2 2-1 5-2-4 0 0-5 7 0-1 0 0-1 1 0-4-3-3 3 13 3 4 0 2 2-10 1 0 0 10 3-8 1-2 4-1 0 6 0 8 3-6 4-8 0 4 3-4 1 0 3 1 0 7 2 3 1-9 3 3 0 3 0 5 5-1 4-12 0 4 2-4 4 6 1 2 1-8 1 10 3-9 5 11 1 0 3-10 0 10 1 2 1-4 4-9 1 3 2 0 2 7 4-4 3 4 2 1 2-4 2-5 1-2 5 5 1-1 2-1 0 2 2-2 0 1 2 1 2-3 3 6 3 0 4 0 0 1 3-10 0 0 0 7 6 7 1-8 0 6 1-9 3 8 0 2 1-9 2 0 0 8 2-7 4-3 5 9 2-6 1 3 4-8 10 6 3 4 2-6 1-3 0 8 3-7 1 2 0 10 2-14 0 4 4 6 3 0 1-6 1 10 3-10 1 9 4-11 0 3 1 0 2 5 4-9 1 6 0 5 1-11 7 10 2-11 3 8 3-5 2 3 1 0 1 0 0 4 7 4 6-14 1 8 1-1 5 3 2-4 0 2 1 0 0 3 3-9 0 12 1-14 2 9 2 5 0 3 0-2-1 2 0-1-1 13-1-11-1-2-1 9-9-2-2-3 0-2-7 11 0-12-4 2-2 5-5-2 0-1-1 1-1 5-3-9-1 8-1-2 0-4-1 7-3 0-1-5-4-1-1 6 0-1 0-9-1 8 0-2-3 1-2-4-1 8 0-11-3 6-2 5-3-6-3 0-1-6-7 10 0-2-1 2-1-4-2 1 0 0-2 1 0-6-2 6 0-5-1 10-1 0 0-13-3 13-3-10-2-1-1 5 0-6-8 0-1 10-3-11-1 1-1 8-3-8-2 1-7 2-8 8-5-12-2 12-2 0 0-2 0-2 0-3-1 4-4 4 0-11-2-3-1 12 0-6-3-4-1 6 0-2-1 4-6-5-2-5-1 4-5 7 0-9-2 9-2 1-2-7-2 4-1 0-1 4-8-3-1-10-2 12-3-1-3-5-1 3-1-5-1 1-1-4-3 0 0-1-4 13-4-9 0-4-3 11-1-7-1 0-1 6 0-9-4 3-1 9 0-7 0-4 0-1-4 5-1 1 0-2-2-2-6 5-3-1-3-1 6 10 11 9 3-5 0 2 1 7 2-6 4-4 0 6 0 0 5 3 1-12 0 0 0 6 3 3 1 2 10-4 0 1 2-1 1-4 0 5 1-5 0 0 5 10 1-8 1-6 1 6 4-5 8 10 1-7 1 1 0 1 4-1 0 3 0 5 1-10 0 8 7-5 10-6 5 0 1 5 0 6 1-1 2-9 0 10 2-7 0 3 2 1 2-3 4 5 1-5 2-4 0 10 4-9 2 1 0 11 1-2 3-9 3 5 1-3 1 8 2-9 1-3 1 0 1 2 2-2 3 1 0 10 2-7 0 3 1-8 1 0 0 2 2 1 0 10 0 0 2-1 1-11 0 3 1-2 1 10 5-7 1 3 0 3 0 0 1-7 3-1 0 3 0 3 7 5 1-7 2 0 1-3 1 1 2 1 5-3 4-3 0 6 2-3 1 6 3-6 1 7 4-7 1 5 2 0 2-5 3 11 6-12 1 2 3 10 1-14 1 5 2 7 7 0 2-12 1 5 1-3 2 9 8-2 1 2 1 18-2-4-5-1 0-3-2-5-4 12-1-5 0-5-2 0-1 8 0-10-4 0-2 6 0-6-2 5-3-5-2 12 0-7-2-4-2 7-2 3-1-4-2 4-4-11 0-1-1 11-3-1 0-6-2 10 0-2-4-1-2-5 0-4-2 1-3-3-3 8-1-1-3 6-1-8-2 1-3-6-1 3-2-3-2 8 0-1 0-2-2 2-5 1-7-8-1 4 0-2-1 0-1 11-1-7 0-1-1 2-2-2-1 3-3-2-3-4-6 3-2-2-1 10-3 0-6-2 0-3-2-1 0-1 0-6-5 9 0-5-4-3-2 9 0-3-1 5-1-7-1 8-1-3-4 1 0-8-4-3-3 13-2-8-11 7-2-4-1-1-2-5-1 8 0-9-2 2-3 11 0-13-2 2-6 9-3-2-1-4-2-4-2 3-2 1-8-4-6 8 0-10-1 1-4 6-1-4-9-3 25 27 6 0 2-12 3 2 2 2 0 9 2-13 4 4 0 1 1 3 0 1 0 2 1-4 5-5 7 12 1-7 2-2 0 6 1-4 1 4 1-8 2 9 1-6 8 7 2-5 5-2 1 1 3 4 1-3 3-6 1 6 0 5 3-7 1 0 8-4 0 12 0 0 2-5 1-5 0 3 4 6 2-3 6-7 1 7 9-9 2 3 2 3 4-7 0 2 1 0 4 4 3 1 0 6 6-3 1-7 3 0 4 0 3 9 3-10 2 3 5-1 6-3 0 3 4 8 0 0 3 1 1 0 1-8 0 6 4-3 0 5 1-3 2 3 1-11 6 9 1-5 5-5 4 9 1-6 1 2 1-4 0 5 0 4 9-7 5-2-30 25-3 0-3-12-1 13-4-2-3 2-2-2-4-6-3 6-4 1-1-10-1 4-2 2-3 1 0-4-1 9 0 0-3-5 0-1-1-7-3 9 0-10-3 8 0-2-1 6 0-2-2-5-3 5-1-4 0-4-2 2-1-3-1 3-1 10-1-9-3 9-5-8-2 5 0-2-2-4-4 4-2-4-4 8-3-1-4-7-1-3-2 2-4 4 0-8-2 8-2-4-1 4-2 6-1-11-1 1-1 7-3-6-2 5-2-2-3 3 0-8-1-1-5 8-3-10-2 9 0-9-7 0-2 9-1 1 0-4 0-3-1 4-1 7-1-3-1 2-1-4-1-3 0-1 0-5-1 7-2-6-2 0-1 9-1-7-2 11-1 0-1-5-1-4-2-1-5 1-1 7-1 0-2-10 0 0 1 17 6-1 0 11 1-2 3-4 1 0 7 2 3-10 0 4 1-4 1 0 3 0 11 2 0 5 1-7 4 4 2-2 0 1 2 5 2-5 1 5 1 1 2-2 2 3 2 1 1 0 4-6 0 7 1-2 1 3 2-2 1-10 0 0 2 0 1 8 2-2 2 2 2-5 1 5 1-1 3 4 3-10 2 5 0 4 2-11 0 4 1-4 0 3 12 3 1 6 4-12 0 2 1-2 0 10 2 2 3-9 2 7 1-9 1 1 1 12 2-9 0 8 1-11 1 2 1-2 1 5 4 2 8-3 7 8 3-6 1-8 8 9-9 13-2 3 0-2 0-5-2 3-1 7 0 0-1-5-1 5-3-1-1 1-1-2 0 0-5-2-2-3 0-2 0 0-1 1 0-5-2 11 0-11-2 13-4-6-2 2 0-7-4 8-2-6-2 10 0-8 0-1-9-2-1 1-3 8-2 2 0-9-2 7-6 1 0-9-2 3-1 3 0-9-1 3-2 5-4-2-2-1-1-1-4 9-1-10-8-2-1-1-2 11-2 0 0-7-1 8-1-6-1-7-2 7-1 4-4 0-3-3 0 0-1-5 0 0-3 3-1 0-3-6-2 3-1 8 0-1 0-5-2 1-1 8-4-4-2 2 0-10-2 9-1-3-3-4-5-2-1 2 0 0 16 13 1 0 1 3 5 3 1 1 4 4 2-6 0 0 1-6 0 10 2-9 1-2 1 11 1-2 5-1 1 5 1-11 4 0 1 4 2-6 1 11 3-5 2 7 2-12 1 4 3 4 1 1 0 0 1 0 1-4 3 1 3 2 4-9 0 8 2 5 1-1 1-10 1-2 4 2 5 10 6-5 0 4 7-1 1-8 1 7 0 4 2-13 3 3 1 11 2-6 1-5 1 2 0 2 1 3 2 4 4-11 0 11 4-10 3-3 0 0 0 1 2 0-3 17-2-3-4 4-4 7 0-11-2 5-2 8-1-14-1 13 0-5-1-5 0-3-5 10-1 4-1-4 0-4-1 7-3-8-4-5-3 13-3-3-5-1-1-3-1 7 0-9 0-1-1 1 0 0-1 0-6-1-2-2-3 10-5-2 0 0 0-3-5-6-1 10 0-6-1 8-1 1 0-8-1 9-1-2-1-6-3-4-3 10-1-2-3 4-5-13-2 6 0-1 14 13 2 4 1 2 1 1 7-1 0 4 3-6 2-4 59 7 1-5 2 7 2-3 10 13-2-2-1 7-1-2-3 0-1-6-5-1-1-4-68 1-3 0 73 14 0 2 1 7 0 0 1-9 0 7 1-2 2 2" fill="none" marker-start="url(#k14)" marker-mid="url(#k14)" marker-end="url(#k14)"/>
<path transform="scale(0.2)" d="M1143 1994l15-4 2-6 4 2 0 1 1 1 1-7 2 4 0 9 1-11 2 9 1 0 3-9 0 6 1 3 5 2 2-13 0 5 4-2 2 9 1-3 0 0 9 1 13 15-7-6-1-4-6 12 0-3 0-10-1 3-1 9-1-4 0 0 0 0-1-5-1 9-1 0 0-4 0-2 0-3 0 0-3 9 0-2 0-1-1 5 0-5 0-2-2 5 0-1-1 3 0-1 0-2 0-1 0-10-2 12-1 0 0-1 0-11-2 12 0-3 0-2-1 7-1-2 0 0 0-7-1 9 0 0 0 0 0-2 0-1-1 3 0-6-1 6 0-1 0 0 0-12-1 13 0 0 0-8 0-2-1 8 0-12-1 3 0-3-2 14 0-2-2-3 0 0-1 1 0-6-1 6-1 2 0-3-1-4-1-1-3 0-1 2 0-2-4 3-1 6 0-3-3-5 0-4-1 10 0-2 0-6-4 4 0-1 3 10 3 0 0 3 2-3 2 4 1 3 2-3 5 1 1-4 2 3 0 3 3-4 2 6 0 2 1-11 0 3 0 2 1-6 0 3 1-3 0 1 0 0 0 4 1-5 0 1 0 1 0 0 0 1 0 5 1-6 0 0 0 1 0 9 1-12 0 1 0 2 1-3 0 0 0 0 0 0 0 1 0 0 0 0 1-1 0 0 0 1 0 1 0 0 0 2 0 0 0 4 0 2 0 0 1-6 0 5 1-7 0 8 1-10 0 0 0 2 0 1 0 1 0 0 0 5 1-8 0 2 0 1 0 8 2-11 0 1 0 8 2-10 0 1 0 2 0 0 1 0 0 2 0 0 0 8 1-6 0 6 3-12 0 2 0 4 1-5 1 10 1-7 1 5 1-10 1 3 1 9 1-11 0 6 1-6 0 3 3 8 2-9 1 9 2-11 2 8 0 0 0 1 1-7 0 4 0 3-5 6-5 5-2-6-1 7-2 3-10-6-1 6 0-7-4-1-2 6-3-7-2 8-2 3 0 0-2-12-10 1 11 20" fill="none" marker-start="url(#k15)" marker-mid="url(#k15)" marker-end="url(#k15)"/>
<text x="253.50" y="309.50" font-size="7.13" font-weight="bold" fill="#111" textLength="44.80" lengthAdjust="spacingAndGlyphs">Astrocytes_1</text>
<text x="259.00" y="352.00" font-size="7.32" font-weight="bold" fill="#111" textLength="46.00" lengthAdjust="spacingAndGlyphs">Astrocytes_2</text>
<text x="195.50" y="352.00" font-size="7.16" font-weight="bold" fill="#111" textLength="45.00" lengthAdjust="spacingAndGlyphs">Astrocytes_4</text>
<text x="207.50" y="374.00" font-size="7.16" font-weight="bold" fill="#111" textLength="45.00" lengthAdjust="spacingAndGlyphs">Astrocytes_3</text>
<text x="213.00" y="404.00" font-size="7.32" font-weight="bold" fill="#111" textLength="46.00" lengthAdjust="spacingAndGlyphs">Astrocytes_5</text>
<text x="256.60" y="418.20" font-size="5.75" text-anchor="middle" stroke="#000" stroke-width="0.08" textLength="23.00" lengthAdjust="spacingAndGlyphs">UMAP_1</text>
<text x="0" y="0" font-size="5.75" text-anchor="middle" stroke="#000" stroke-width="0.08" textLength="23.00" lengthAdjust="spacingAndGlyphs" transform="translate(185.07 355.00) rotate(-90)">UMAP_2</text>
<text x="165.00" y="440.70" font-size="22" font-weight="bold">m</text>
<line x1="199.50" y1="439.20" x2="199.50" y2="545.80" stroke="#333" stroke-width="0.5"/>
<line x1="198.40" y1="545.80" x2="199.50" y2="545.80" stroke="#333" stroke-width="0.4"/>
<text x="198.00" y="546.80" font-size="3.0" text-anchor="end" fill="#555">0</text>
<line x1="198.40" y1="524.48" x2="199.50" y2="524.48" stroke="#333" stroke-width="0.4"/>
<text x="198.00" y="525.48" font-size="3.0" text-anchor="end" fill="#555">20</text>
<line x1="198.40" y1="503.16" x2="199.50" y2="503.16" stroke="#333" stroke-width="0.4"/>
<text x="198.00" y="504.16" font-size="3.0" text-anchor="end" fill="#555">40</text>
<line x1="198.40" y1="481.84" x2="199.50" y2="481.84" stroke="#333" stroke-width="0.4"/>
<text x="198.00" y="482.84" font-size="3.0" text-anchor="end" fill="#555">60</text>
<line x1="198.40" y1="460.52" x2="199.50" y2="460.52" stroke="#333" stroke-width="0.4"/>
<text x="198.00" y="461.52" font-size="3.0" text-anchor="end" fill="#555">80</text>
<line x1="198.40" y1="439.20" x2="199.50" y2="439.20" stroke="#333" stroke-width="0.4"/>
<text x="198.00" y="440.20" font-size="3.0" text-anchor="end" fill="#555">100</text>
<rect x="201.90" y="544.20" width="14.10" height="1.60" fill="#a066c4"/>
<rect x="201.90" y="540.47" width="14.10" height="3.73" fill="#f03030"/>
<rect x="201.90" y="529.81" width="14.10" height="10.66" fill="#45b050"/>
<rect x="201.90" y="472.25" width="14.10" height="57.56" fill="#f0882a"/>
<rect x="201.90" y="439.20" width="14.10" height="33.05" fill="#3f78b8"/>
<rect x="216.60" y="544.20" width="13.90" height="1.60" fill="#a066c4"/>
<rect x="216.60" y="526.61" width="13.90" height="17.59" fill="#f03030"/>
<rect x="216.60" y="498.90" width="13.90" height="27.72" fill="#45b050"/>
<rect x="216.60" y="462.12" width="13.90" height="36.78" fill="#f0882a"/>
<rect x="216.60" y="439.20" width="13.90" height="22.92" fill="#3f78b8"/>
<text x="0" y="0" font-size="8.69" text-anchor="middle" stroke="#000" stroke-width="0.08" textLength="56.00" lengthAdjust="spacingAndGlyphs" transform="translate(190.23 492.20) rotate(-90)">Proportion (%)</text>
<text x="0" y="0" font-size="7.85" text-anchor="end" transform="translate(213.80 551.20) rotate(-31)" textLength="43.0" lengthAdjust="spacingAndGlyphs">Ngn2+shNC</text>
<text x="0" y="0" font-size="7.6" text-anchor="end" transform="translate(229.20 552.60) rotate(-31)" textLength="48.4" lengthAdjust="spacingAndGlyphs">Ngn2+shOlig2</text>
<text x="243.20" y="440.10" font-size="22" font-weight="bold">n</text>
<line x1="263.70" y1="434.10" x2="270.20" y2="434.10" stroke="#808080" stroke-width="3.0"/>
<text x="271.60" y="436.00" font-size="7.32" stroke="#000" stroke-width="0.08" textLength="40.10" lengthAdjust="spacingAndGlyphs">Ngn2+shNC</text>
<line x1="263.70" y1="443.20" x2="270.20" y2="443.20" stroke="#4aa8b4" stroke-width="3.0"/>
<text x="271.40" y="445.40" font-size="7.35" stroke="#000" stroke-width="0.08" textLength="46.80" lengthAdjust="spacingAndGlyphs">Ngn2+shOlig2</text>
<line x1="263.10" y1="450.80" x2="263.10" y2="551.40" stroke="#333" stroke-width="0.5"/>
<line x1="262.00" y1="551.40" x2="263.10" y2="551.40" stroke="#333" stroke-width="0.4"/>
<text x="261.60" y="552.40" font-size="3.0" text-anchor="end" fill="#555">0</text>
<line x1="262.00" y1="526.25" x2="263.10" y2="526.25" stroke="#333" stroke-width="0.4"/>
<text x="261.60" y="527.25" font-size="3.0" text-anchor="end" fill="#555">25</text>
<line x1="262.00" y1="501.10" x2="263.10" y2="501.10" stroke="#333" stroke-width="0.4"/>
<text x="261.60" y="502.10" font-size="3.0" text-anchor="end" fill="#555">50</text>
<line x1="262.00" y1="475.95" x2="263.10" y2="475.95" stroke="#333" stroke-width="0.4"/>
<text x="261.60" y="476.95" font-size="3.0" text-anchor="end" fill="#555">75</text>
<line x1="262.00" y1="450.80" x2="263.10" y2="450.80" stroke="#333" stroke-width="0.4"/>
<text x="261.60" y="451.80" font-size="3.0" text-anchor="end" fill="#555">100</text>
<rect x="264.10" y="513.67" width="9.70" height="37.72" fill="#4aa8b4"/>
<rect x="264.10" y="450.80" width="9.70" height="62.87" fill="#808080"/>
<text x="268.95" y="558.80" font-size="7.69" text-anchor="middle" stroke="#000" stroke-width="0.08" textLength="9.40" lengthAdjust="spacingAndGlyphs">A1</text>
<rect x="274.80" y="514.68" width="9.90" height="36.72" fill="#4aa8b4"/>
<rect x="274.80" y="450.80" width="9.90" height="63.88" fill="#808080"/>
<text x="279.75" y="558.80" font-size="7.69" text-anchor="middle" stroke="#000" stroke-width="0.08" textLength="9.40" lengthAdjust="spacingAndGlyphs">A2</text>
<rect x="286.30" y="481.99" width="10.00" height="69.41" fill="#4aa8b4"/>
<rect x="286.30" y="450.80" width="10.00" height="31.19" fill="#808080"/>
<text x="291.30" y="558.80" font-size="7.69" text-anchor="middle" stroke="#000" stroke-width="0.08" textLength="9.40" lengthAdjust="spacingAndGlyphs">A3</text>
<rect x="297.70" y="468.91" width="10.10" height="82.49" fill="#4aa8b4"/>
<rect x="297.70" y="450.80" width="10.10" height="18.11" fill="#808080"/>
<text x="302.75" y="558.80" font-size="7.69" text-anchor="middle" stroke="#000" stroke-width="0.08" textLength="9.40" lengthAdjust="spacingAndGlyphs">A4</text>
<rect x="309.00" y="505.12" width="9.90" height="46.28" fill="#4aa8b4"/>
<rect x="309.00" y="450.80" width="9.90" height="54.32" fill="#808080"/>
<text x="313.95" y="558.80" font-size="7.69" text-anchor="middle" stroke="#000" stroke-width="0.08" textLength="9.40" lengthAdjust="spacingAndGlyphs">A5</text>
<text x="0" y="0" font-size="8.89" text-anchor="middle" stroke="#000" stroke-width="0.08" textLength="57.30" lengthAdjust="spacingAndGlyphs" transform="translate(255.70 501.40) rotate(-90)">Proportion (%)</text>
<text x="336.00" y="284.70" font-size="22" font-weight="bold">o</text>
<rect x="357.90" y="280.90" width="18.20" height="9.80" fill="#3f78b8"/>
<text x="367.00" y="288.40" font-size="7.69" text-anchor="middle" fill="#fff" stroke="#fff" stroke-width="0.08" textLength="9.40" lengthAdjust="spacingAndGlyphs">A1</text>
<rect x="376.10" y="280.90" width="18.30" height="9.80" fill="#f0882a"/>
<text x="385.25" y="288.40" font-size="7.69" text-anchor="middle" fill="#fff" stroke="#fff" stroke-width="0.08" textLength="9.40" lengthAdjust="spacingAndGlyphs">A2</text>
<rect x="394.40" y="280.90" width="18.20" height="9.80" fill="#a066c4"/>
<text x="403.50" y="288.40" font-size="7.69" text-anchor="middle" fill="#fff" stroke="#fff" stroke-width="0.08" textLength="9.40" lengthAdjust="spacingAndGlyphs">A5</text>
<rect x="412.60" y="280.90" width="18.20" height="9.80" fill="#45b050"/>
<text x="421.70" y="288.40" font-size="7.69" text-anchor="middle" fill="#fff" stroke="#fff" stroke-width="0.08" textLength="9.40" lengthAdjust="spacingAndGlyphs">A3</text>
<rect x="430.80" y="280.90" width="17.90" height="9.80" fill="#f03030"/>
<text x="439.75" y="288.40" font-size="7.69" text-anchor="middle" fill="#fff" stroke="#fff" stroke-width="0.08" textLength="9.40" lengthAdjust="spacingAndGlyphs">A4</text>
<path d="M394.4 301.08h18.2M394.4 371.23h18.2M357.9 411.53h18.2M357.9 435.78h18.2M357.9 438.48h18.2M357.9 443.88h18.2M357.9 456.03h18.2M357.9 465.48h18.2M357.9 466.83h18.2M357.9 472.23h18.2M357.9 473.58h18.2M357.9 480.33h18.2M357.9 483.03h18.2M357.9 504.03h18.2M376.1 536.38h18.3M376.1 537.73h18.3M394.4 555.28h18.2M357.9 562.03h18.2" stroke="#4575b4" stroke-width="1.41"/>
<path d="M376.1 572.33h18.3" stroke="#4575b4" stroke-width="0.41"/>
<path d="M412.6 305.13h18.2M357.9 430.38h18.2M357.9 431.73h18.2M357.9 457.38h18.2M376.1 462.78h18.3M357.9 499.98h18.2M357.9 501.33h18.2M376.1 549.88h18.3M376.1 571.48h18.3" stroke="#5480ba" stroke-width="1.41"/>
<path d="M412.6 317.28h18.2M430.8 318.63h17.9M376.1 373.93h18.3M357.9 427.68h18.2M357.9 429.03h18.2M357.9 442.53h18.2M376.1 445.23h18.3M357.9 476.28h18.2M376.1 520.48h18.3M376.1 521.83h18.3M394.4 540.43h18.2" stroke="#638bbf" stroke-width="1.41"/>
<path d="M430.8 333.48h17.9M357.9 402.08h18.2M357.9 414.23h18.2M357.9 434.43h18.2M357.9 449.28h18.2M357.9 451.98h18.2M357.9 458.73h18.2M357.9 506.73h18.2" stroke="#7296c5" stroke-width="1.41"/>
<path d="M357.9 488.13h18.2" stroke="#7296c5" stroke-width="0.81"/>
<path d="M394.4 302.43h18.2M430.8 303.78h17.9M412.6 313.23h18.2M430.8 322.68h17.9M412.6 334.83h18.2M412.6 338.88h18.2M357.9 398.03h18.2M376.1 414.23h18.3M357.9 439.83h18.2M376.1 443.88h18.3M357.9 453.33h18.2M357.9 477.63h18.2M357.9 489.18h18.2M357.9 495.93h18.2M357.9 502.68h18.2M394.4 528.58h18.2M394.4 535.02h18.2M376.1 543.13h18.3M376.1 560.68h18.3M394.4 568.78h18.2" stroke="#80a0ca" stroke-width="1.41"/>
<path d="M412.6 298.38h18.2M430.8 305.13h17.9M412.6 332.13h18.2M394.4 341.58h18.2M376.1 362.48h18.3M357.9 384.53h18.2M357.9 387.23h18.2M357.9 389.93h18.2M357.9 396.68h18.2M376.1 446.58h18.3M357.9 450.63h18.2M357.9 469.53h18.2M357.9 474.93h18.2M357.9 485.73h18.2M357.9 490.53h18.2M357.9 516.43h18.2M394.4 519.13h18.2M376.1 528.58h18.3M412.6 535.02h18.2M394.4 541.78h18.2M357.9 547.18h18.2M357.9 548.53h18.2M376.1 551.23h18.3M376.1 555.28h18.3M376.1 556.63h18.3M357.9 559.33h18.2M394.4 562.03h18.2M376.1 564.73h18.3" stroke="#8fabd0" stroke-width="1.41"/>
<path d="M357.9 292.98h18.2M357.9 297.03h18.2M430.8 299.73h17.9M394.4 303.78h18.2M430.8 309.18h17.9M412.6 311.88h18.2M430.8 313.23h17.9M430.8 324.03h17.9M412.6 329.43h18.2M430.8 329.43h17.9M412.6 342.93h18.2M357.9 365.18h18.2M394.4 369.88h18.2M357.9 383.18h18.2M357.9 391.28h18.2M394.4 393.98h18.2M357.9 395.33h18.2M376.1 395.33h18.3M394.4 418.28h18.2M357.9 420.98h18.2M376.1 429.03h18.3M376.1 439.83h18.3M357.9 441.18h18.2M357.9 446.58h18.2M357.9 447.93h18.2M376.1 450.63h18.3M357.9 462.78h18.2M357.9 468.18h18.2M376.1 494.58h18.3M357.9 505.38h18.2M376.1 511.03h18.3M394.4 513.73h18.2M376.1 533.67h18.3M394.4 545.83h18.2M376.1 563.38h18.3M394.4 563.38h18.2" stroke="#9eb6d6" stroke-width="1.41"/>
<path d="M412.6 381.93h18.2" stroke="#9eb6d6" stroke-width="1.21"/>
<path d="M357.9 426.35h18.2" stroke="#9eb6d6" stroke-width="1.36"/>
<path d="M357.9 508.88h18.2M376.1 508.88h18.3" stroke="#9eb6d6" stroke-width="0.31"/>
<path d="M357.9 294.33h18.2M376.1 297.03h18.3M412.6 310.53h18.2M430.8 314.58h17.9M430.8 319.98h17.9M412.6 326.73h18.2M412.6 328.08h18.2M394.4 330.78h18.2M412.6 330.78h18.2M412.6 336.18h18.2M412.6 344.28h18.2M430.8 344.28h17.9M412.6 345.63h18.2M412.6 346.98h18.2M394.4 348.98h18.2M394.4 363.83h18.2M376.1 375.28h18.3M394.4 380.68h18.2M394.4 383.18h18.2M357.9 385.88h18.2M357.9 393.98h18.2M376.1 404.78h18.3M394.4 404.78h18.2M376.1 407.48h18.3M357.9 408.83h18.2M357.9 416.93h18.2M357.9 425.03h18.2M357.9 433.08h18.2M357.9 437.13h18.2M376.1 437.13h18.3M357.9 445.23h18.2M357.9 461.43h18.2M376.1 476.28h18.3M357.9 478.98h18.2M394.4 490.53h18.2M376.1 491.88h18.3M357.9 493.23h18.2M394.4 498.63h18.2M357.9 508.08h18.2M376.1 513.73h18.3M394.4 524.53h18.2M357.9 533.67h18.2M376.1 540.43h18.3M357.9 570.13h18.2M394.4 570.13h18.2" stroke="#adc1db" stroke-width="1.41"/>
<path d="M430.8 347.98h17.9" stroke="#adc1db" stroke-width="0.71"/>
<path d="M412.6 299.73h18.2M394.4 309.18h18.2M357.9 314.58h18.2M412.6 314.58h18.2M357.9 326.73h18.2M430.8 332.13h17.9M430.8 334.83h17.9M394.4 337.53h18.2M394.4 338.88h18.2M412.6 341.58h18.2M394.4 359.78h18.2M357.9 368.53h18.2M376.1 372.58h18.3M394.4 376.63h18.2M376.1 379.33h18.3M376.1 385.88h18.3M357.9 388.58h18.2M357.9 392.63h18.2M430.8 410.18h17.9M412.6 415.58h18.2M376.1 416.93h18.3M430.8 429.03h17.9M376.1 431.73h18.3M430.8 433.08h17.9M376.1 442.53h18.3M357.9 460.08h18.2M376.1 461.43h18.3M357.9 464.13h18.2M376.1 477.63h18.3M430.8 483.03h17.9M394.4 494.58h18.2M376.1 498.63h18.3M376.1 499.98h18.3M394.4 499.98h18.2M376.1 506.73h18.3M376.1 509.68h18.3M376.1 519.13h18.3M357.9 525.88h18.2M376.1 529.93h18.3M357.9 537.73h18.2M394.4 539.08h18.2M376.1 541.78h18.3M357.9 544.48h18.2M394.4 553.93h18.2M376.1 559.33h18.3M376.1 567.43h18.3" stroke="#bccce1" stroke-width="1.41"/>
<path d="M357.9 381.93h18.2" stroke="#bccce1" stroke-width="1.21"/>
<path d="M376.1 488.13h18.3" stroke="#bccce1" stroke-width="0.81"/>
<path d="M376.1 532.48h18.3" stroke="#bccce1" stroke-width="1.11"/>
<path d="M394.4 572.33h18.2" stroke="#bccce1" stroke-width="0.41"/>
<path d="M412.6 292.98h18.2M430.8 292.98h17.9M430.8 294.33h17.9M394.4 295.68h18.2M430.8 302.43h17.9M357.9 306.48h18.2M430.8 317.28h17.9M394.4 322.68h18.2M376.1 324.03h18.3M430.8 325.38h17.9M394.4 328.08h18.2M430.8 330.78h17.9M357.9 332.13h18.2M412.6 333.48h18.2M430.8 337.53h17.9M357.9 340.23h18.2M430.8 345.63h17.9M412.6 351.68h18.2M412.6 354.38h18.2M357.9 357.08h18.2M376.1 359.78h18.3M412.6 367.18h18.2M376.1 383.18h18.3M357.9 406.13h18.2M357.9 407.48h18.2M394.4 412.88h18.2M357.9 418.28h18.2M376.1 433.08h18.3M394.4 433.08h18.2M376.1 435.78h18.3M376.1 449.28h18.3M376.1 451.98h18.3M357.9 454.68h18.2M412.6 454.68h18.2M376.1 458.73h18.3M376.1 460.08h18.3M376.1 466.83h18.3M376.1 469.53h18.3M430.8 469.53h17.9M376.1 473.58h18.3M376.1 474.93h18.3M376.1 480.33h18.3M357.9 481.68h18.2M376.1 483.03h18.3M376.1 484.38h18.3M357.9 491.88h18.2M394.4 495.93h18.2M394.4 506.73h18.2M357.9 511.03h18.2M394.4 511.03h18.2M394.4 512.38h18.2M357.9 513.73h18.2M357.9 520.48h18.2M394.4 520.48h18.2M412.6 520.48h18.2M376.1 523.18h18.3M376.1 524.53h18.3M376.1 531.28h18.3M357.9 540.43h18.2M357.9 545.83h18.2M376.1 547.18h18.3M394.4 551.23h18.2M412.6 551.23h18.2M376.1 552.58h18.3M357.9 557.98h18.2M357.9 566.08h18.2M394.4 566.08h18.2M376.1 568.78h18.3M376.1 570.13h18.3M357.9 571.48h18.2M412.6 571.48h18.2" stroke="#cad6e6" stroke-width="1.41"/>
<path d="M394.4 294.33h18.2M412.6 295.68h18.2M394.4 299.73h18.2M394.4 305.13h18.2M430.8 306.48h17.9M394.4 307.83h18.2M430.8 315.93h17.9M412.6 319.98h18.2M412.6 324.03h18.2M412.6 325.38h18.2M357.9 330.78h18.2M430.8 336.18h17.9M430.8 338.88h17.9M430.8 346.98h17.9M357.9 351.68h18.2M357.9 354.38h18.2M376.1 355.73h18.3M376.1 357.08h18.3M430.8 361.13h17.9M357.9 362.48h18.2M412.6 371.23h18.2M357.9 372.58h18.2M412.6 372.58h18.2M394.4 373.93h18.2M376.1 377.98h18.3M394.4 377.98h18.2M394.4 379.33h18.2M376.1 387.23h18.3M376.1 392.63h18.3M376.1 396.68h18.3M376.1 403.43h18.3M430.8 403.43h17.9M357.9 404.78h18.2M376.1 411.53h18.3M357.9 412.88h18.2M394.4 414.23h18.2M357.9 415.58h18.2M412.6 418.28h18.2M357.9 422.33h18.2M394.4 422.33h18.2M394.4 434.43h18.2M376.1 438.48h18.3M376.1 454.68h18.3M394.4 454.68h18.2M376.1 464.13h18.3M357.9 470.88h18.2M376.1 470.88h18.3M430.8 470.88h17.9M357.9 484.38h18.2M430.8 485.73h17.9M357.9 487.08h18.2M412.6 490.53h18.2M376.1 493.23h18.3M394.4 493.23h18.2M376.1 497.28h18.3M357.9 498.63h18.2M394.4 504.03h18.2M394.4 508.08h18.2M394.4 529.93h18.2M430.8 537.73h17.9M376.1 539.08h18.3M376.1 544.48h18.3M376.1 545.83h18.3M357.9 549.88h18.2M394.4 556.63h18.2M376.1 562.03h18.3M394.4 564.73h18.2M394.4 567.43h18.2" stroke="#d9e1ec" stroke-width="1.41"/>
<path d="M412.6 347.98h18.2" stroke="#d9e1ec" stroke-width="0.71"/>
<path d="M394.4 381.93h18.2" stroke="#d9e1ec" stroke-width="1.21"/>
<path d="M394.4 508.88h18.2" stroke="#d9e1ec" stroke-width="0.31"/>
<path d="M430.8 297.03h17.9M394.4 298.38h18.2M430.8 298.38h17.9M376.1 299.73h18.3M394.4 306.48h18.2M357.9 310.53h18.2M394.4 318.63h18.2M412.6 318.63h18.2M357.9 319.98h18.2M357.9 321.33h18.2M394.4 321.33h18.2M412.6 321.33h18.2M430.8 321.33h17.9M357.9 324.03h18.2M394.4 325.38h18.2M376.1 326.73h18.3M412.6 340.23h18.2M394.4 345.63h18.2M394.4 346.98h18.2M430.8 348.98h17.9M394.4 354.38h18.2M357.9 361.13h18.2M376.1 361.13h18.3M357.9 367.18h18.2M376.1 368.53h18.3M430.8 368.53h17.9M357.9 369.88h18.2M376.1 371.23h18.3M412.6 375.28h18.2M357.9 376.63h18.2M357.9 379.33h18.2M357.9 380.68h18.2M430.8 380.68h17.9M412.6 383.18h18.2M394.4 392.63h18.2M394.4 399.38h18.2M357.9 400.73h18.2M357.9 419.63h18.2M376.1 430.38h18.3M412.6 443.88h18.2M412.6 456.03h18.2M430.8 458.73h17.9M430.8 465.48h17.9M376.1 472.23h18.3M394.4 476.28h18.2M357.9 497.28h18.2M394.4 497.28h18.2M394.4 502.68h18.2M394.4 505.38h18.2M430.8 509.68h17.9M394.4 517.78h18.2M357.9 523.18h18.2M376.1 527.23h18.3M394.4 537.73h18.2M357.9 539.08h18.2M394.4 543.13h18.2M394.4 548.53h18.2M357.9 552.58h18.2M412.6 552.58h18.2M376.1 553.93h18.3M376.1 557.98h18.3M394.4 557.98h18.2M394.4 560.68h18.2M412.6 566.08h18.2" stroke="#e8ecf1" stroke-width="1.41"/>
<path d="M357.9 532.48h18.2" stroke="#e8ecf1" stroke-width="1.11"/>
<path d="M357.9 299.73h18.2M412.6 301.08h18.2M394.4 310.53h18.2M430.8 310.53h17.9M357.9 311.88h18.2M394.4 311.88h18.2M394.4 313.23h18.2M412.6 315.93h18.2M357.9 318.63h18.2M357.9 322.68h18.2M412.6 322.68h18.2M357.9 325.38h18.2M357.9 341.58h18.2M430.8 341.58h17.9M357.9 342.93h18.2M394.4 342.93h18.2M394.4 344.28h18.2M357.9 348.98h18.2M357.9 350.33h18.2M394.4 358.43h18.2M394.4 361.13h18.2M394.4 362.48h18.2M376.1 363.83h18.3M394.4 365.18h18.2M394.4 368.53h18.2M394.4 375.28h18.2M412.6 387.23h18.2M376.1 388.58h18.3M394.4 388.58h18.2M376.1 393.98h18.3M376.1 398.03h18.3M394.4 398.03h18.2M357.9 399.38h18.2M376.1 402.08h18.3M357.9 403.43h18.2M376.1 408.83h18.3M357.9 410.18h18.2M430.8 411.53h17.9M430.8 412.88h17.9M394.4 415.58h18.2M394.4 419.63h18.2M376.1 422.33h18.3M412.6 422.33h18.2M376.1 423.68h18.3M376.1 434.43h18.3M430.8 434.43h17.9M394.4 437.13h18.2M376.1 447.93h18.3M430.8 451.98h17.9M376.1 457.38h18.3M412.6 457.38h18.2M394.4 460.08h18.2M376.1 465.48h18.3M430.8 468.18h17.9M430.8 493.23h17.9M430.8 497.28h17.9M376.1 502.68h18.3M376.1 512.38h18.3M430.8 512.38h17.9M412.6 513.73h18.2M357.9 515.08h18.2M394.4 515.08h18.2M376.1 516.43h18.3M412.6 516.43h18.2M376.1 517.78h18.3M430.8 519.13h17.9M357.9 535.02h18.2M430.8 535.02h17.9M394.4 536.38h18.2M412.6 536.38h18.2M412.6 539.08h18.2M412.6 543.13h18.2M376.1 548.53h18.3M394.4 549.88h18.2M357.9 551.23h18.2M412.6 560.68h18.2M412.6 562.03h18.2M412.6 564.73h18.2M376.1 566.08h18.3M357.9 567.43h18.2M412.6 568.78h18.2" stroke="#f7f7f7" stroke-width="1.41"/>
<path d="M412.6 366.18h18.2" stroke="#f7f7f7" stroke-width="0.71"/>
<path d="M430.8 488.13h17.9" stroke="#f7f7f7" stroke-width="0.81"/>
<path d="M412.6 294.33h18.2M357.9 295.68h18.2M430.8 301.08h17.9M412.6 302.43h18.2M412.6 307.83h18.2M430.8 307.83h17.9M394.4 319.98h18.2M430.8 326.73h17.9M357.9 329.43h18.2M394.4 332.13h18.2M357.9 337.53h18.2M357.9 338.88h18.2M430.8 340.23h17.9M357.9 344.28h18.2M376.1 350.33h18.3M430.8 351.68h17.9M376.1 353.03h18.3M394.4 355.73h18.2M412.6 357.08h18.2M376.1 358.43h18.3M412.6 362.48h18.2M376.1 367.18h18.3M412.6 373.93h18.2M430.8 375.28h17.9M412.6 379.33h18.2M376.1 380.68h18.3M412.6 384.53h18.2M394.4 387.23h18.2M430.8 396.68h17.9M394.4 402.08h18.2M412.6 402.08h18.2M376.1 406.13h18.3M376.1 410.18h18.3M412.6 412.88h18.2M376.1 420.98h18.3M394.4 423.68h18.2M430.8 430.38h17.9M412.6 435.78h18.2M430.8 435.78h17.9M430.8 437.13h17.9M394.4 443.88h18.2M412.6 446.58h18.2M376.1 453.33h18.3M430.8 461.43h17.9M412.6 465.48h18.2M376.1 468.18h18.3M412.6 476.28h18.2M430.8 476.28h17.9M376.1 478.98h18.3M430.8 480.33h17.9M412.6 484.38h18.2M412.6 487.08h18.2M376.1 489.18h18.3M376.1 490.53h18.3M357.9 494.58h18.2M376.1 501.33h18.3M412.6 502.68h18.2M430.8 502.68h17.9M376.1 508.08h18.3M357.9 509.68h18.2M357.9 512.38h18.2M394.4 516.43h18.2M357.9 517.78h18.2M357.9 519.13h18.2M430.8 520.48h17.9M357.9 524.53h18.2M394.4 527.23h18.2M430.8 527.23h17.9M394.4 531.28h18.2M376.1 535.02h18.3M394.4 544.48h18.2M394.4 547.18h18.2M357.9 560.68h18.2M394.4 571.48h18.2" stroke="#f4e6e6" stroke-width="1.41"/>
<path d="M394.4 366.18h18.2" stroke="#f4e6e6" stroke-width="0.71"/>
<path d="M430.8 426.35h17.9" stroke="#f4e6e6" stroke-width="1.36"/>
<path d="M412.6 508.88h18.2" stroke="#f4e6e6" stroke-width="0.31"/>
<path d="M394.4 532.48h18.2" stroke="#f4e6e6" stroke-width="1.11"/>
<path d="M430.8 295.68h17.9M357.9 298.38h18.2M376.1 307.83h18.3M357.9 315.93h18.2M394.4 315.93h18.2M376.1 317.28h18.3M376.1 322.68h18.3M376.1 332.13h18.3M357.9 334.83h18.2M412.6 337.53h18.2M394.4 340.23h18.2M430.8 342.93h17.9M376.1 348.98h18.3M430.8 353.03h17.9M394.4 357.08h18.2M430.8 358.43h17.9M394.4 372.58h18.2M430.8 373.93h17.9M376.1 376.63h18.3M394.4 385.88h18.2M376.1 389.93h18.3M430.8 391.28h17.9M430.8 393.98h17.9M412.6 396.68h18.2M394.4 403.43h18.2M394.4 407.48h18.2M430.8 408.83h17.9M394.4 410.18h18.2M412.6 416.93h18.2M357.9 423.68h18.2M376.1 425.03h18.3M394.4 425.03h18.2M394.4 429.03h18.2M412.6 430.38h18.2M394.4 435.78h18.2M430.8 438.48h17.9M412.6 441.18h18.2M430.8 446.58h17.9M412.6 447.93h18.2M430.8 449.28h17.9M430.8 450.63h17.9M412.6 451.98h18.2M412.6 462.78h18.2M430.8 462.78h17.9M412.6 473.58h18.2M430.8 478.98h17.9M394.4 481.68h18.2M376.1 487.08h18.3M394.4 489.18h18.2M430.8 494.58h17.9M376.1 495.93h18.3M394.4 501.33h18.2M376.1 504.03h18.3M394.4 509.68h18.2M412.6 511.03h18.2M412.6 512.38h18.2M376.1 515.08h18.3M357.9 521.83h18.2M394.4 523.18h18.2M430.8 523.18h17.9M412.6 525.88h18.2M357.9 527.23h18.2M357.9 529.93h18.2M394.4 533.67h18.2M430.8 539.08h17.9M357.9 543.13h18.2M412.6 547.18h18.2M412.6 548.53h18.2M430.8 548.53h17.9M357.9 556.63h18.2M412.6 557.98h18.2M394.4 559.33h18.2M430.8 571.48h17.9" stroke="#f2d6d4" stroke-width="1.41"/>
<path d="M357.9 366.18h18.2" stroke="#f2d6d4" stroke-width="0.71"/>
<path d="M376.1 381.93h18.3" stroke="#f2d6d4" stroke-width="1.21"/>
<path d="M376.1 426.35h18.3" stroke="#f2d6d4" stroke-width="1.36"/>
<path d="M357.9 572.33h18.2" stroke="#f2d6d4" stroke-width="0.41"/>
<path d="M394.4 292.98h18.2M376.1 295.68h18.3M357.9 317.28h18.2M394.4 317.28h18.2M376.1 319.98h18.3M376.1 321.33h18.3M394.4 324.03h18.2M430.8 328.08h17.9M394.4 329.43h18.2M394.4 334.83h18.2M376.1 338.88h18.3M376.1 345.63h18.3M357.9 346.98h18.2M412.6 348.98h18.2M394.4 350.33h18.2M412.6 363.83h18.2M376.1 365.18h18.3M376.1 369.88h18.3M357.9 373.93h18.2M357.9 377.98h18.2M376.1 384.53h18.3M394.4 384.53h18.2M394.4 391.28h18.2M394.4 395.33h18.2M412.6 399.38h18.2M412.6 400.73h18.2M376.1 415.58h18.3M430.8 418.28h17.9M430.8 423.68h17.9M412.6 437.13h18.2M394.4 438.48h18.2M394.4 441.18h18.2M430.8 453.33h17.9M376.1 456.03h18.3M394.4 457.38h18.2M430.8 457.38h17.9M394.4 465.48h18.2M412.6 468.18h18.2M412.6 472.23h18.2M430.8 472.23h17.9M430.8 477.63h17.9M412.6 481.68h18.2M430.8 489.18h17.9M430.8 495.93h17.9M430.8 517.78h17.9M394.4 521.83h18.2M412.6 521.83h18.2M376.1 525.88h18.3M394.4 525.88h18.2M412.6 529.93h18.2M357.9 536.38h18.2M412.6 541.78h18.2M357.9 568.78h18.2" stroke="#efc5c3" stroke-width="1.41"/>
<path d="M376.1 366.18h18.3" stroke="#efc5c3" stroke-width="0.71"/>
<path d="M430.8 381.93h17.9" stroke="#efc5c3" stroke-width="1.21"/>
<path d="M412.6 297.03h18.2M376.1 298.38h18.3M412.6 306.48h18.2M357.9 309.18h18.2M376.1 309.18h18.3M394.4 326.73h18.2M376.1 328.08h18.3M357.9 333.48h18.2M394.4 336.18h18.2M357.9 345.63h18.2M376.1 351.68h18.3M357.9 353.03h18.2M394.4 353.03h18.2M412.6 353.03h18.2M376.1 354.38h18.3M357.9 355.73h18.2M412.6 358.43h18.2M394.4 367.18h18.2M357.9 371.23h18.2M430.8 376.63h17.9M412.6 380.68h18.2M412.6 385.88h18.2M412.6 392.63h18.2M430.8 395.33h17.9M412.6 398.03h18.2M430.8 399.38h17.9M412.6 403.43h18.2M412.6 410.18h18.2M412.6 419.63h18.2M430.8 420.98h17.9M430.8 427.68h17.9M430.8 431.73h17.9M376.1 441.18h18.3M412.6 450.63h18.2M394.4 453.33h18.2M394.4 462.78h18.2M394.4 464.13h18.2M394.4 472.23h18.2M394.4 473.58h18.2M430.8 473.58h17.9M430.8 474.93h17.9M394.4 477.63h18.2M376.1 485.73h18.3M394.4 487.08h18.2M430.8 491.88h17.9M430.8 498.63h17.9M430.8 521.83h17.9M412.6 524.53h18.2M412.6 527.23h18.2M357.9 528.58h18.2M412.6 531.28h18.2M430.8 533.67h17.9M430.8 543.13h17.9M412.6 544.48h18.2M430.8 547.18h17.9M430.8 551.23h17.9M357.9 553.93h18.2M357.9 555.28h18.2M412.6 555.28h18.2M412.6 556.63h18.2M430.8 556.63h17.9M430.8 560.68h17.9" stroke="#ecb5b2" stroke-width="1.41"/>
<path d="M357.9 347.98h18.2" stroke="#ecb5b2" stroke-width="0.71"/>
<path d="M394.4 426.35h18.2" stroke="#ecb5b2" stroke-width="1.36"/>
<path d="M412.6 532.48h18.2M430.8 532.48h17.9" stroke="#ecb5b2" stroke-width="1.11"/>
<path d="M376.1 292.98h18.3M376.1 294.33h18.3M412.6 303.78h18.2M357.9 305.13h18.2M376.1 306.48h18.3M412.6 309.18h18.2M394.4 314.58h18.2M357.9 328.08h18.2M376.1 329.43h18.3M357.9 336.18h18.2M376.1 344.28h18.3M430.8 354.38h17.9M412.6 355.73h18.2M430.8 355.73h17.9M430.8 367.18h17.9M412.6 369.88h18.2M430.8 371.23h17.9M430.8 372.58h17.9M412.6 376.63h18.2M412.6 377.98h18.2M412.6 388.58h18.2M430.8 388.58h17.9M412.6 391.28h18.2M412.6 395.33h18.2M394.4 400.73h18.2M412.6 404.78h18.2M412.6 406.13h18.2M412.6 414.23h18.2M394.4 416.93h18.2M394.4 420.98h18.2M394.4 427.68h18.2M394.4 430.38h18.2M430.8 439.83h17.9M394.4 447.93h18.2M412.6 449.28h18.2M394.4 450.63h18.2M394.4 458.73h18.2M394.4 466.83h18.2M394.4 470.88h18.2M412.6 474.93h18.2M430.8 481.68h17.9M394.4 483.03h18.2M430.8 484.38h17.9M430.8 487.08h17.9M412.6 499.98h18.2M412.6 506.73h18.2M412.6 509.68h18.2M412.6 515.08h18.2M412.6 517.78h18.2M412.6 519.13h18.2M412.6 523.18h18.2M430.8 536.38h17.9M430.8 540.43h17.9M430.8 553.93h17.9M430.8 562.03h17.9M430.8 563.38h17.9M430.8 566.08h17.9M412.6 570.13h18.2" stroke="#eaa4a0" stroke-width="1.41"/>
<path d="M412.6 488.13h18.2" stroke="#eaa4a0" stroke-width="0.81"/>
<path d="M357.9 302.43h18.2M357.9 307.83h18.2M430.8 311.88h17.9M357.9 313.23h18.2M376.1 315.93h18.3M376.1 330.78h18.3M376.1 333.48h18.3M412.6 350.33h18.2M394.4 351.68h18.2M430.8 384.53h17.9M430.8 385.88h17.9M430.8 392.63h17.9M412.6 393.98h18.2M430.8 398.03h17.9M376.1 400.73h18.3M430.8 400.73h17.9M430.8 402.08h17.9M430.8 404.78h17.9M394.4 406.13h18.2M412.6 407.48h18.2M412.6 408.83h18.2M394.4 411.53h18.2M412.6 411.53h18.2M376.1 412.88h18.3M430.8 414.23h17.9M430.8 415.58h17.9M376.1 418.28h18.3M376.1 419.63h18.3M412.6 423.68h18.2M430.8 425.03h17.9M376.1 427.68h18.3M412.6 431.73h18.2M412.6 434.43h18.2M412.6 438.48h18.2M430.8 441.18h17.9M430.8 443.88h17.9M394.4 445.23h18.2M394.4 446.58h18.2M430.8 460.08h17.9M412.6 478.98h18.2M376.1 481.68h18.3M394.4 485.73h18.2M430.8 499.98h17.9M430.8 504.03h17.9M412.6 505.38h18.2M430.8 513.73h17.9M430.8 515.08h17.9M430.8 528.58h17.9M430.8 529.93h17.9M412.6 537.73h18.2M394.4 552.58h18.2M412.6 563.38h18.2M412.6 567.43h18.2M430.8 567.43h17.9M430.8 568.78h17.9" stroke="#e7948f" stroke-width="1.41"/>
<path d="M430.8 366.18h17.9" stroke="#e7948f" stroke-width="0.71"/>
<path d="M430.8 508.88h17.9" stroke="#e7948f" stroke-width="0.31"/>
<path d="M357.9 303.78h18.2M376.1 313.23h18.3M376.1 318.63h18.3M394.4 333.48h18.2M376.1 334.83h18.3M376.1 336.18h18.3M357.9 359.78h18.2M412.6 361.13h18.2M430.8 362.48h17.9M430.8 363.83h17.9M412.6 365.18h18.2M430.8 369.88h17.9M357.9 375.28h18.2M430.8 377.98h17.9M394.4 396.68h18.2M376.1 399.38h18.3M430.8 407.48h17.9M394.4 408.83h18.2M430.8 416.93h17.9M412.6 420.98h18.2M430.8 422.33h17.9M412.6 439.83h18.2M394.4 442.53h18.2M430.8 445.23h17.9M412.6 453.33h18.2M394.4 456.03h18.2M430.8 456.03h17.9M412.6 460.08h18.2M412.6 466.83h18.2M394.4 469.53h18.2M412.6 480.33h18.2M412.6 483.03h18.2M394.4 484.38h18.2M394.4 491.88h18.2M412.6 491.88h18.2M412.6 495.93h18.2M412.6 497.28h18.2M376.1 505.38h18.3M430.8 505.38h17.9M430.8 525.88h17.9M357.9 531.28h18.2M412.6 540.43h18.2M357.9 541.78h18.2M430.8 549.88h17.9M357.9 563.38h18.2M357.9 564.73h18.2" stroke="#e4837e" stroke-width="1.41"/>
<path d="M394.4 297.03h18.2M376.1 303.78h18.3M376.1 305.13h18.3M376.1 325.38h18.3M376.1 346.98h18.3M357.9 363.83h18.2M394.4 389.93h18.2M430.8 389.93h17.9M412.6 425.03h18.2M412.6 429.03h18.2M394.4 439.83h18.2M412.6 442.53h18.2M430.8 442.53h17.9M430.8 454.68h17.9M412.6 461.43h18.2M430.8 466.83h17.9M394.4 474.93h18.2M394.4 478.98h18.2M394.4 480.33h18.2M430.8 501.33h17.9M412.6 504.03h18.2M430.8 516.43h17.9M430.8 524.53h17.9M430.8 531.28h17.9M412.6 533.67h18.2M412.6 553.93h18.2" stroke="#e2726c" stroke-width="1.41"/>
<path d="M376.1 347.98h18.3" stroke="#e2726c" stroke-width="0.71"/>
<path d="M394.4 488.13h18.2" stroke="#e2726c" stroke-width="0.81"/>
<path d="M412.6 572.33h18.2" stroke="#e2726c" stroke-width="0.41"/>
<path d="M357.9 301.08h18.2M376.1 302.43h18.3M376.1 314.58h18.3M376.1 341.58h18.3M430.8 350.33h17.9M357.9 358.43h18.2M430.8 359.78h17.9M412.6 368.53h18.2M430.8 387.23h17.9M430.8 406.13h17.9M412.6 445.23h18.2M394.4 449.28h18.2M412.6 485.73h18.2M430.8 490.53h17.9M430.8 506.73h17.9M412.6 508.08h18.2M430.8 511.03h17.9M430.8 541.78h17.9" stroke="#df625b" stroke-width="1.41"/>
<path d="M430.8 572.33h17.9" stroke="#df625b" stroke-width="0.41"/>
<path d="M376.1 301.08h18.3M376.1 340.23h18.3M430.8 357.08h17.9M430.8 365.18h17.9M430.8 379.33h17.9M412.6 433.08h18.2M430.8 447.93h17.9M394.4 451.98h18.2M412.6 458.73h18.2M394.4 461.43h18.2M430.8 464.13h17.9M412.6 494.58h18.2M412.6 498.63h18.2M430.8 508.08h17.9M430.8 544.48h17.9M412.6 545.83h18.2M412.6 549.88h18.2M430.8 555.28h17.9M430.8 557.98h17.9M412.6 559.33h18.2M430.8 564.73h17.9" stroke="#dc514a" stroke-width="1.41"/>
<path d="M394.4 347.98h18.2" stroke="#dc514a" stroke-width="0.71"/>
<path d="M376.1 311.88h18.3M412.6 359.78h18.2M430.8 383.18h17.9M430.8 419.63h17.9M412.6 427.68h18.2M394.4 468.18h18.2M412.6 469.53h18.2M430.8 545.83h17.9M430.8 552.58h17.9M430.8 570.13h17.9" stroke="#da4138" stroke-width="1.41"/>
<path d="M412.6 426.35h18.2" stroke="#da4138" stroke-width="1.36"/>
<path d="M376.1 310.53h18.3M376.1 337.53h18.3M376.1 342.93h18.3M412.6 389.93h18.2M376.1 391.28h18.3M394.4 431.73h18.2M412.6 464.13h18.2M412.6 470.88h18.2M412.6 477.63h18.2M412.6 489.18h18.2M412.6 493.23h18.2M412.6 501.33h18.2M412.6 528.58h18.2M430.8 559.33h17.9" stroke="#d73027" stroke-width="1.41"/>
<text x="338.00" y="300.60" font-size="4.97" fill="#222" textLength="18.10" lengthAdjust="spacingAndGlyphs">Z−score</text>
<defs><linearGradient id="zg" x1="0" y1="0" x2="0" y2="1"><stop offset="0" stop-color="#d73027"/><stop offset="0.5" stop-color="#f7f7f7"/><stop offset="1" stop-color="#4575b4"/></linearGradient></defs>
<rect x="345.20" y="303.70" width="2.90" height="30.30" fill="url(#zg)"/>
<line x1="348.10" y1="304.50" x2="349.00" y2="304.50" stroke="#555" stroke-width="0.3"/>
<text x="349.60" y="305.90" font-size="4.2" fill="#333">2</text>
<line x1="348.10" y1="311.80" x2="349.00" y2="311.80" stroke="#555" stroke-width="0.3"/>
<text x="349.60" y="313.20" font-size="4.2" fill="#333">1</text>
<line x1="348.10" y1="319.00" x2="349.00" y2="319.00" stroke="#555" stroke-width="0.3"/>
<text x="349.60" y="320.40" font-size="4.2" fill="#333">0</text>
<line x1="348.10" y1="326.30" x2="349.00" y2="326.30" stroke="#555" stroke-width="0.3"/>
<text x="349.60" y="327.70" font-size="4.2" fill="#333">−1</text>
<line x1="348.10" y1="333.60" x2="349.00" y2="333.60" stroke="#555" stroke-width="0.3"/>
<text x="349.60" y="335.00" font-size="4.2" fill="#333">−2</text>
<line x1="449.40" y1="290.50" x2="449.40" y2="348.00" stroke="#777" stroke-width="0.5"/>
<line x1="451.20" y1="348.70" x2="451.20" y2="366.30" stroke="#777" stroke-width="0.5"/>
<line x1="450.20" y1="367.00" x2="450.20" y2="382.00" stroke="#777" stroke-width="0.5"/>
<line x1="450.20" y1="383.60" x2="450.20" y2="426.40" stroke="#777" stroke-width="0.5"/>
<line x1="450.30" y1="428.00" x2="450.30" y2="488.10" stroke="#777" stroke-width="0.5"/>
<line x1="450.30" y1="489.90" x2="450.30" y2="508.30" stroke="#777" stroke-width="0.5"/>
<line x1="450.30" y1="509.10" x2="450.30" y2="531.90" stroke="#777" stroke-width="0.5"/>
<line x1="450.30" y1="533.60" x2="450.30" y2="573.00" stroke="#777" stroke-width="0.5"/>
<text x="453.70" y="315.40" font-size="8.11" fill="#111" stroke="#111" stroke-width="0.08" textLength="91.00" lengthAdjust="spacingAndGlyphs">Mature astrocyte function</text>
<text x="454.00" y="324.80" font-size="6.79" font-style="italic" fill="#222" stroke="#222" stroke-width="0.08" textLength="79.00" lengthAdjust="spacingAndGlyphs">Aqp4, Slc1a2, Apoe, Lrp1,</text>
<text x="454.00" y="332.70" font-size="6.78" font-style="italic" fill="#222" stroke="#222" stroke-width="0.08" textLength="53.50" lengthAdjust="spacingAndGlyphs">Glul, S100b, Gjb6</text>
<text x="453.70" y="355.90" font-size="8.26" fill="#111" stroke="#111" stroke-width="0.08" textLength="60.00" lengthAdjust="spacingAndGlyphs">Dedifferentiation</text>
<text x="454.00" y="363.80" font-size="6.81" font-style="italic" fill="#222" stroke="#222" stroke-width="0.08" textLength="82.00" lengthAdjust="spacingAndGlyphs">Vim, Sox4, Olig1, Nes, Nfix</text>
<text x="454.70" y="374.70" font-size="8.3" fill="#111" stroke="#111" stroke-width="0.08" textLength="35.50" lengthAdjust="spacingAndGlyphs">Cell cycle</text>
<text x="454.00" y="382.30" font-size="6.86" font-style="italic" fill="#222" stroke="#222" stroke-width="0.08" textLength="101.00" lengthAdjust="spacingAndGlyphs">Akt1, Kat2b, Fgfr1, Ccnd2, Npm1</text>
<text x="453.70" y="404.10" font-size="8.13" fill="#111" stroke="#111" stroke-width="0.08" textLength="80.00" lengthAdjust="spacingAndGlyphs">Chromatin remodeling</text>
<text x="454.00" y="412.10" font-size="6.85" font-style="italic" fill="#222" stroke="#222" stroke-width="0.08" textLength="85.00" lengthAdjust="spacingAndGlyphs">Hat1, Hdgf, H2aj, Mta1, Aim</text>
<text x="453.80" y="459.60" font-size="8.19" fill="#111" stroke="#111" stroke-width="0.08" textLength="96.00" lengthAdjust="spacingAndGlyphs">RNA splicing &amp; processing</text>
<text x="454.00" y="468.90" font-size="6.59" font-style="italic" fill="#222" stroke="#222" stroke-width="0.08" textLength="104.00" lengthAdjust="spacingAndGlyphs">Dhx9, Srrm1, Thoc3, Pabpc1, Ddx5</text>
<text x="454.00" y="497.80" font-size="8.15" fill="#111" stroke="#111" stroke-width="0.08" textLength="40.00" lengthAdjust="spacingAndGlyphs">Translation</text>
<text x="454.00" y="506.90" font-size="6.87" font-style="italic" fill="#222" stroke="#222" stroke-width="0.08" textLength="58.00" lengthAdjust="spacingAndGlyphs">Mrpl’s, Rpl’s, Rps’s</text>
<text x="453.80" y="519.60" font-size="8.12" fill="#111" stroke="#111" stroke-width="0.08" textLength="112.00" lengthAdjust="spacingAndGlyphs">Actin cytoskeleton organization</text>
<text x="454.00" y="528.40" font-size="6.82" font-style="italic" fill="#222" stroke="#222" stroke-width="0.08" textLength="106.00" lengthAdjust="spacingAndGlyphs">Ezr, Pdcd6ip, Coro1c, Actn4, Actg1</text>
<text x="453.80" y="547.60" font-size="7.82" fill="#111" stroke="#111" stroke-width="0.08" textLength="106.00" lengthAdjust="spacingAndGlyphs">Neurogenesis &amp; axonogenesis</text>
<text x="454.00" y="556.40" font-size="6.46" font-style="italic" fill="#222" stroke="#222" stroke-width="0.08" textLength="108.00" lengthAdjust="spacingAndGlyphs">Pax6, Stmn1, Smn1, Robo2, Caprin1,</text>
<text x="454.00" y="564.60" font-size="6.81" font-style="italic" fill="#222" stroke="#222" stroke-width="0.08" textLength="39.00" lengthAdjust="spacingAndGlyphs">Plxnb2, Ntn4</text>
<text x="540.70" y="284.40" font-size="22" font-weight="bold">p</text>
<text x="556.20" y="295.70" font-size="8.58" stroke="#000" stroke-width="0.08" textLength="47.00" lengthAdjust="spacingAndGlyphs">Ngn2+shNC</text>
<text x="628.80" y="295.70" font-size="8.67" stroke="#000" stroke-width="0.08" textLength="55.20" lengthAdjust="spacingAndGlyphs">Ngn2+shOlig2</text>
<path d="M605.3 292.6 L611.3 290.4 L610.3 292.0 L620.7 292.0 L619.7 290.4 L625.7 292.6 L619.7 294.8 L620.7 293.2 L610.3 293.2 L611.3 294.8 Z" fill="#111"/>
<defs><linearGradient id="rg" x1="0" y1="0" x2="0" y2="1"><stop offset="0" stop-color="#f02818"/><stop offset="1" stop-color="#f2e4e0"/></linearGradient></defs>
<text x="626.70" y="311.80" font-size="9.43" text-anchor="middle" font-style="italic" stroke="#000" stroke-width="0.08" textLength="21.50" lengthAdjust="spacingAndGlyphs">Sox4</text>
<rect x="572.60" y="307.90" width="1.90" height="13.30" fill="url(#rg)"/>
<line x1="575.80" y1="307.90" x2="576.60" y2="307.90" stroke="#555" stroke-width="0.35"/>
<line x1="575.80" y1="310.56" x2="576.60" y2="310.56" stroke="#555" stroke-width="0.35"/>
<line x1="575.80" y1="313.22" x2="576.60" y2="313.22" stroke="#555" stroke-width="0.35"/>
<line x1="575.80" y1="315.88" x2="576.60" y2="315.88" stroke="#555" stroke-width="0.35"/>
<line x1="575.80" y1="318.54" x2="576.60" y2="318.54" stroke="#555" stroke-width="0.35"/>
<line x1="575.80" y1="321.20" x2="576.60" y2="321.20" stroke="#555" stroke-width="0.35"/>
<path transform="scale(0.2)" d="M3003 1569l3-1 2 5 5-5 1-5 4-2 4 2 2 1 2 3 1 3 0 1 2-4 0 3 2 1 2-1 1 2 7-3 7 4 18 16-5-1-2-2 0-9-1 0-4 11-1 1-2-3 0-11-3 9 0-8-6 7-4-1-2 0-2 4-3-9-2 9-2-1-1 3-1-6 0-4-1 9-1-8 0-1-3 9 0-8 0-2-1-1-4 3-1 7 0-11-1 8 0-2-1 8-1 0 0-2-1-2-3 4 0-2-2 1 0-4 0-7-4 0-2 5 0-2 0-2-1 11-2-10-3 7 0 0-3 3-3 8 1 1 0 4 1 1 4-3 0 3 1-11 1 0 0 12 1-14 0 1 0 12 1 0 8-6 2 7 3-9 1-3 0 7 2-1 2-7 1 7 3-6 0 10 2-10 2 0 0 0 1 1 0 3 11-5 1 1 2 1 2 6 2-9 0 4 0 0 3 2 3 8 2-9 0 4 1-5 2-4 0 1 1 12 5-6 0 3 1-6 0 8 1-6 5 6 2 2 1-3 1 1 11 13-2-1-1 4 0-5 0-2-3-5 0-1-2 3-2 3-1 7-1-9-1 6 0-9-1 13 0 0 0-9-4 8-1-4-1 2-1 3-5 0 0-3 0-7-2 9 0-2-1 2 0-8-5 8 0-5-3-4-1 4-1-3-1 4-4 1 0-5-6 5-2 3 0-2 0-5-1 8 0-8-6 0-2 4 0-1-1-4-1 0-1 3 0-7-1 13-1-9 0-2-4 3-1 8 0-12-2 6-4 0-1-6-2 6-4 0-2 2 0-1-1 5-2-10-1 4-3-7-1 0-2 6 0-4-1 3-2 5-3 11 7 3 0 1 3-6 0 0 2 2 0 5 5-2 1-2 1-4 1 10 3-4 2-4 0 5 2-5 0 0 0 8 3-8 1-5 0 5 2 6 2-1 4-10 0 2 0 2 1-3 1 8 0 2 5-7 0 2 3 0 1 4 4-6 5 8 1-2 5-5 2-4 1-2 0 3 1 0 0 1 1-4 0 12 1-11 4 12 1-10 0 10 2-10 1 2 2 8 3-8 1 0 1-4 3 5 3 2 0 1 0 1 1-2 4 5 3-7 1-3 0 10 1-8 2 3 0 1 1-6 0 7 2-2 1 0 0 1 4 2 5 18-1-1-3-5-3-8-1 12-1 2 0-9-2 8 0-4 0-7-1 12-1-6-4 1-1-2 0-3-3-4-1 7-1 4-2-3-6-8-1 4-1-2-1-2-2 7-1-5-3 5-3-3-4 4 0-3-1 8 0-3-1-1-2-4-5-4-1 7 0-7-2 11-3-7-4 8-5-9-3 3-1 6-1-8-1 5-1-8-1 10 0-9 0-1-4 11-1-5-1 4-1 2-2-7-1-4-3 7 0-8 0-2-4 6-1 8-1-5-3-7-1 8-2-3-3 2-1-2-4-7-14 28 0 1 1-4 3 0 3 2 1-1 0 0 1-6 1 2 3-3 0 3 1 7 1-12 3-1 1 5 0 7 2-6 1-5 3-2 0 14 4-14 0 1 1 11 0 0 1-11 0 11 0 1 1-9 0 10 1-13 1 6 0 1 4 5 0 1 3-14 0 9 1-5 1 8 1 1 1-11 1 4 2 2 3-5 1-2 1 3 3-1 1 9 3-9 1 2 5-1 0 1 2 3 5 2 1-8 1 12 1-7 2-2 0 5 0 1 1-9 2 3 1-3 1 5 1-7 0 4 1 8 5-7 1-1 1 8 1 1 4-7 0 8 1-14 4 2 2 12 2-12 6 8 1-8 1 3 1 8 0 1 2-10 1 2 1-6 0 2 0 9 2-8 2-3 0 9 2 3 1 0 1 15 0-1-1 1-7-8-4-3-1 1-3 0-1 8 0-7-3 10 0-6-1-4 0-3-1 6-2 1-5 6-1-4-1-9-5 7-3 6-2-3-3-5-4 1-3-3-2 0-1 11-1-5-3 1-1 2-1-8 0-4-5 7 0-5-1 12 0-2-1-12 0 0-1 8 0-1-2 2-1-4-3-4-12 4-2 3 0-1-2 2-2-6-1 6 0-1-6-8-2 8 0-8-1 0-1 13 0-1-10 2 0-2-1-7-1 2-1 6-1-3-1-5-2 9-1-7 0-7-1 11 0-11-2 5-3-1-4 10 0-8-4 6 0-4 0-6-4 8-8-7-2 0 0 0-1 3-2 5 0 0-3-6-1 1-1 7-10 0-35 15 2-1 2-6 1 6 0 1 5 0 3-3 1 3 1-11 0 5 3-4 2 2 1-2 3-3 0 4 0 1 0 9 3-2 3-11 0 12 4-9 7 3 0 0 0 2 0 3 2-4 2 2 2-4 0 1 1-1 0 5 2-5 1-5 0 6 1 0 1 1 1-5 0 4 2 3 3-4 4-4 0 6 1-3 1-1 3-3 0 1 0 5 0 3 2 4 3-1 0 0 2-3 1-9 5 0 5 1 0 12 4-1 3-7 3-5 5-1 0 10 0 4 1-12 0 5 2 2 0 2 0 2 2-10 1-3 0 0 2 9 1-8 1 6 2 3 2 1 2-5 0 4 1-4 4-4 1 7 2-7 0 3 0 8 1-5 1 4 1-12 0 6 4-5 0 5 0 1 5-6 2 13 2-3 0 3 3-7 0 5 3-2 1-7 1 5 1 0 1-5 2 3 2 7 1 1 3-10 0 2 1 3 4-3 2 5 1-9 4-2 2 1 1 11 1-9 1-3 0 7 1-2 1 3 7 2 1-3 2 2 3-7 1 6 2 0 2-2 1 6 2-1 1 2 1 14 0-5 0-7-1 5-3 3-1 0-3 1-4-1-2 2-1 0-4-7-2 7-1-10-4 11 0-1-1-2-1-3-4 8-6-3-1 0-1-4-2-2-1 6-1 3 0 0-1 1 0-12-1 12-1-11-1 4-3-1-1 1-1-1-1 2-4 2-1-7-3 6-2 0 0-7-1 3-2 3-4-6-1 11 0-3 0-10-1 3-1 2-2-3-2 12-2-9-10-1-2 4-1 2-1 0 0-2-3 4 0-6-2 1-1-5-1 12 0-4-3-8-2 5 0-7-5 8-1-6-1 7-1-6-1 4-1-6-2 10-5-3-1 5-4 0 0-9 0-2 0-1-4 5-1-4-2 0-1 8 0-1-4 4 0-4-1 5 0-3-2-2 0-6-1 7-3-2-1-1-2 6 0-8-1 8-1 0-4-13-1 6-4 5-1 0-1-8-1 6 0-2-3 3-1-5-1 8 0-5-1-8-3 12-3 2-2 0-2-7-1 6 0-13-1 11 0-1-5-10-2 14-1-4-9-4-1 3 0-1-1-4 0-3-3 7 7 12 0 2 0 1 0 4 6-11 0 11 0 1 1-6 1 3 2-10 2 3 1 10 1-12 4 3 3-2 2 1 2-3 0 1 0 3 0 3 0 4 3 3 6-10 2-1 2 9 1-12 1 6 2 8 1-6 0 4 1-3 3-6 1 5 1-8 1 6 1 5 0 3 1-4 1-8 2 7 3-7 0 10 2-3 1-1 0 3 1-1 0 1 4-9 2-1 3 10 2 1 1-5 1 2 1 0 1-4 2-2 0 5 0 5 6-10 0 4 1-4 3 3 3-2 2-4 0 3 1 2 0 7 1 2 4-9 5-5 1 10 0 4 1-8 1-3 3-3 0 2 0 0 0 1 0 8 2 0 1-9 1 2 2-1 0 9 1-10 4-2 7 4 0 3 6-5 0 2 3 0 0 5 1 4 0 1 3-5 0 2 1 0 2-10 0 13 1-14 0 2 2 11 1-9 4 2 0 1 0 4 2-7 0 8 0 2 3 0 1-10 0 4 2-7 1 9 4 2 1-1 1-6 1 3 1 1 2-9 4 3 3-3 0 3 3 9 0 1 5 1 1-4 1 0 3 1 1-3 4-8-10 26-2-10-1 3-3 5 0-2 0-3-2-3 0-1-3 0-3 8-2 5-2 1-1-7-1-6-2 1-4 11 0-9-1 4-2 1-1-9-1 1-1 13 0-9-2 4-1-6-2 10-1-2-1-6 0-1-1-3-2 3-3 3-1 4 0-7-1-1-2 11 0-1 0-2-2 1 0-4-1 0-2-5-2 10 0-9-2 0-1 9 0-2 0-4 0-2-2 2 0-1 0-4 0 0-2 11 0-13-1 0-2 2-1 5-3-4-1 4-1-6-2 13-7-8-3-2-3 2 0-1-5 8-1-4-1-2-1 1 0-2-2 5-1-4-1-5-2 12-1-5 0-3 0-2-2 8 0-4 0-1 0-4 0-2 0-1-1 6-2 5-4 1-2-5-5-5-1 2-5 9-3-8-2 2-2 2-1-8-1 11-2-4 0-4-1 0-1 1-2 5 0-4-1 5 0-1 0-5 0-1 0-3-1 11 0-1 0-5-1-6-1 12 0-10-1 2-9 9 0-1-1-5-1-2-1 8 0-6-2 4 0-5-3 8 0-12-1 1 0-1-8 9-1-9 0-2-1 6 0-5-2 6-5 7 0-14-1 6-3-5 6 14 5 7 5 4 1 3 2-13 4 13 8-13 7 4 1 3 1-4 5 8 3-10 0 7 0 2 2-7 4 0 0 4 0 5 1-6 1-4 0 9 1-10 1 10 1-5 1-2 0 9 1-5 0 2 3-3 1-8 1 13 2-2 0 1 2 0 6-1 1-10 2 7 0 4 2-5 1-6 0 8 2 3 0 0 3-9 2 10 2-10 1 2 2-2 0 6 2-8 0 9 2-10 0 7 2-4 0 2 0 5 1-7 2 11 3-13 2 11 1-12 1 1 0 12 1-1 1-12 1 9 1 1 1 4 2-12 0 12 1-3 2-5 1 7 1-9 2 3 1-7 0 9 0 0 0 5 3 0 1-10 0 1 5-4 0 12 4-5 1-1 0 5 1-8 1 1 1 4 5-3 4 1 2 7 6-8 0 1 2-4 1 1 0 8 2 1 1 1 1-12 3 5 1-5 2 0 1 3 1-4 1 6 2-4 2 2 2-2-3 12-3 0-9 4 0-2 0-2 0 0-11 13 0-8 0-2-2 8 0-1-1 0-1-8-2 3-1 4-2 4-1-12-1 6-1-7-1 8 0-7-1 11-3-11-3 6 0-1-1 2-6-6-4-1 0 0-1 3-22-3-2-1-2 1-3 1-7 4 0-6-2 5-4 1-1 4-2-5-2 7 0-1-3-8-2-2-1-1-3 8 0-3 0-2-1 11 0-6-2 3 0-9-2 9-5 3 0-5 0-2-1 4-5-3-1 0 0-1-6 1 0 0 0-8-2 14-2 0 0-6-2-7-1 9 0-1-1 3-3-12-1 3-1-2-2 7-2 3 0-8-1 1-4 7-2 2 0-9-1-3-3 0 8 21 4 4 0 1 2-2 4-9 2 11 1-11 2-1 9 8 2 0 2 5 1-8 0 3 1-8 2 9 2-6 1-2 0 3 2-2 0 2 1 4 0 1 4 5 1-11 1 3 0 6 2-9 0 2 0 11-2 7-2-2-1-3-2 6 0-7-1 8 0-4-3 4 0-2 0-7-3 8 0-3-2 7 0-1 0-4-1 6 0-4-1 0-1-2-1 0 0-2-1 2 0-5-1 11-1-1 0-2-1-7-1 0-1 8 0-4 0-3-1 4 0 0 0-2-2-4-1 8-3-4 0-4-5 0 13 20 4-1 1-1 2 2 1-6 0 7 1-3 1 3 9 2 4-6 2-2 2 3 0 4 2-2-9 10-1 0-12-2" fill="none" marker-start="url(#k16)" marker-mid="url(#k16)" marker-end="url(#k16)"/>
<path transform="scale(0.2)" d="M3035 1598l5 0 31 5 9 13-56 0-35-9 29 19 57 2-34 15-62 36 1-14 106 16-144 2-13-2-10-1-23 14 2 7 46-5 9-1 27 2 4-2-14 23-11 2-3 4-26-8-8 21 159-5-115 8-1 4-28 0-11-3-6 9 7 9 49 4 4 0-15 18-21 16 11-9 2 3 2 18-8-3" fill="none" marker-start="url(#k17)" marker-mid="url(#k17)" marker-end="url(#k17)" opacity="0.85"/>
<path transform="scale(0.2)" d="M3246 1569l4-2 1-2 2 4 5-6 1 2 1-1 7 3 0 1 9-1 2 5 2-2 2 0 1-3 2 5 1-4 9 6 12 14-2-9-2 1-1 0 0-4-4 11 0-12-3 7-3-1 0-2-2-3-1 9-3-10-1 8-2-6 0-2-2 6 0-4-3 11-1-11-5 10 0-1 0 0-1-2-2 3-1-4-3 4-2-10-3 11-3-5 0-6-2 6 0-2-5 1-2 0 0 0-1-7-1 8-1 5-1-13-4 1-5 11-5 0-1-3-9 18 4 2 3-10 2 1 4-5 1 1 6 9 1-10 3 0 1 11 2 0 2-11 1 2 0 4 2 6 1-3 1-3 1 6 2-12 1 8 2-4 1 4 1 2 1-6 4 5 0 4 1-1 1-8 1-4 3 7 1 4 1-10 2 7 2-2 0 7 3-3 2-9 0 3 1 5 0 2 2-5 1-2 0 0 1 1 1 7 2-12 0 3 1 9 4-7 0 9 1-13 1 7 2-1 2 5 4-4 1-6 3-1 1-1 3 11 8 17 0-2 0-8 0-3-1 9 0-3-3 3 0-9-1 7-1 1 0-8-1 14-1-13-4 3-1 3-1-1-1 1 0-3-1-4-2 7-3 3-2-10-1 12 0-1-2-8 0-2-1 4-3-4-3 6-4-1-4 2-2 6-1-1 0-10-5 10 0-9-12 7-1-9-1 5-2-3-1 4-3-4-3 0-1 2 0-5-4 10-5 2 0-9-1 6-2 4 0-8-3 2-1-1-1 5 0 0-5-3-1 5-5-1-1-8-1 0-1 1-1 8 0-4 0-2-2 6 0 3 0 3 2-3 1 1 0 1 1 0 0 8 1-4 0 6 1-10 6 5 3-3 0 4 0 4 3-14 0 14 5-13 0 1 1 8 0 4 1-14 0 3 6-2 2 1 0 2 0 4 1 1 6 2 1-10 0 7 1 6 3-13 2 1 3-2 0 3 4-2 0 10 1-5 1-1 2 0 0 7 1-4 1-2 1 2 0 6 2-9 2 1 0 7 2-5 2-6 1 2 1-3 5 7 2-4 3-4 1 7 1-4 2 5 0 6 1-7 1-4 1 8 3-10 7-1 0 12 2-11 0 0 0 10 2-11 1 14 1-2 6-4 2 1 3-9 0 12 1-4 1-4 0 4 6 19-1-1-1 3-1-4-2-2-1 5 0-5-4-5-3 0-1 6-2-2-3-6-3 1-1 12 0-9-3 1-2 4-2-8-6 7-2 5 0 0 0-13-3 13-2-2-1-6 0-6-1 3-5 6-1 4 0-1 0-7-2 1 0-1-1 6-1-7 0-4-1 6-2 8 0-1-3 0 0-6-1-5 0-1 0-1-1 5-2 1-3 2-1-3-2 3-2 3-4 2 0-2-1 2 0-8-2 9-1-1 0-12-1 8-1-5-1 2-7 6 0-8-2 10 0-11 0-2-11-1-2 4-4 10 0-4-3 1 0-1-1-4-3 5-1 1-1-1-5-11-12 25 8-4 2 4 2-8 1 10 7-2 2 2 7-11 1 13 1 0 3-3 2-10 1-1 1 10 3 3 1-10 0 3 4-6 1 3 0 8 1-6 1-2 4 9 1-12 2 6 5 3 4 0 0 1 1-2 4 3 1-4 1-1 4-3 4 0 0 3 0 3 0 4 0 1 2-8 1 8 2-14 0 5 5 6 1 2 1-8 1 3 1-8 0 11 1 2 1-11 1-2 0 7 3 7 10-9 2-5 0 4 4 7 1-7 1 1 0 9 1-8 2 4 1-2 1-4 5 0 1 2 0 5 2 1 5-11 2 12 3-8 0 3 1-8 0 14 1 0 1 2-1 10-3-10-2 3-1-2-9 5 0-3-5-3-2 0-1 12 0-5 0-8-2 11 0-8-2-2-1 10 0 0 0-2-1-4-2 9 0-5-1 0-1 5 0-5 0-3-1 7-5-10-1 9 0-3-1-5-2 7-2-11-1 4 0-1-1 3-2 4-4-9-3 9-3 2 0-1-1-9-3 2 0-1-2 2-2 9-1-1 0 0-2-9-1 8-3-7 0-2-1 8-5-1 0-8-2 12-1-4 0-5-5 9-4-12-1 0 0-1-2 9-1 3 0-11-1 12-3-6-2 1-1-3 0-5-5 0-8 13-1-4-1 0-3-7-3 7-6 4-3-5-4-2 0-2-2-4-1-1-2 7-1 7 0-7-1 2-2 4-3 1 0-11-4 10-1-8-2 4 0-7-1 4-4 4-3 0-3-2 0-2 0-2-7 9-12-2-8 0-37 18 1 0 6-1 0 1 4-4 1 3 2-4 4-1 0 1 6-2 1 0 2 0 0 1 6 4 1-11 1-1 4 11 1-2 1-3 0 5 2-8 8-2 8 12 2-13 1 9 0 1 4 0 1 3 1-10 4 6 1 5 3-13 1 6 1-1 0 4 3-3 1-2 0 5 2-2 0 4 1-7 0 9 3-14 2 1 0 8 4-5 0 2 2-6 0 10 0 4 2-12 3-2 1 1 0 6 3 2 1-9 3 2 0 11 1-9 0 9 6-7 1-5 0 10 1-9 1 8 0 4 1-7 0 0 8 0 2 0 1-1 1-5 0 7 0 3 1 0 1 0 0 3 1-4 2 0 1-9 1 1 1-2 2 6 0 2 2 5 2-10 1-1 0 4 3 4 2-5 0 0 3 8 1-9 2 9 1-1 3-8 0 4 2-3 1 8 3-5 2-3 6 8 3-6 1-6 0 2 5 1 2 10 1-9 3 3 1 1 2-9 1 13 0 0 3 0 2-13 1 11 5 2 1-13 1 0 1 4 2-2 0 8 0 0 10 1 2-3 1-8 5 13 2-5 0 3 2 10-4 6 0-1-1-1-3 4-2-14-2 14-2-8-2-2-1-3-5 11-2-4-1 4-6-2 0-7-1-1-1 7-2-7-3 6-1-8-1 14-3-4-4 3 0-11-6 8-2-9-1 8 0-8-5 9-1-7-4 2 0-2-2 2-1 0-2-5-1 2-1 11-3-4-2-2-1 3 0-1-2-3-1 3-2 0-2-1-1-7-5 10-3-8-9-3-1 6-1 0-1-6-3 13-1-7-2 5-2 0-3 1-1-11-3 11-8-10 0 0-3 11 0-11-5 5 0 0 0-5-1 11-3 0-1-1-7 2-1-1 0 0-4-10-3 3-1 5 0 0-1-6-2 2 0-5-1 0-3 2-1 1-1 0-7 9-2-8-3 0 0-3-2 1-7 0-1 3 0-6-1 3-6 0 0-3-2 9 0-10-2 5-1 8-1-4 0-8-2 8 0-1-2 2-2-8-1 8-2-2-1-1 0-3-1 1-1-4-8 5 0-3-1 11 0-9-1 7-1-7-4-5-1 7 0-6-1 6 0-4 13 25 4-4 2-2 1-6 2 1 1-2 1 4 4 2 2 0 1-5 0 7 1 4 3-10 5-2 0 2 1 10 1-4 1 1 2-4 1 1 9-3 2-2 0 4 2 1 0 4 0 0 0 2 3-9 0 0 3 0 0 5 1-4 0 5 2 4 2-2 3-10 8-1 2 1 0 10 1-11 2 1 2-1 3 1 2 12 3-12 5 9 0 0 4-10 0 0 9 3 0 8 4-1 2-6 4 1 0 4 1-4 6 5 2-10 3 9 6 4 1-8 4-4 0 9 1-5 5 5 6-2 0 3 0 2 6-3 1 4 1-5 1 0 0 2 1-6 3-1 1 3 1-3 0 8 0 0 1-6 0 7 5-9 1-2 1 1 0 2 1-2 1-3 0 0 0 2 2 11 4-7 0 6 4-2 7-9 0 1 3 11 1-10 2-1 3 0 0 7 2 5 1-7 1-7 0 12 4-3 1-2 4-1 1-4 4 2 1-4 0 2-2 18-2 8 0-10-3-1-1 7-2 3 0-7 0 0-1 3-2-2-2 5-2-1-3-9-1 2-2 3-3 1-1 6 0-7 0-6-1 5-2 9 0-4-1 3 0-3-2 4-2-1-1-8-4-4-3 8-3 4 0-2-1-2 0-9-2 4-2 1-2-1 0-1-10 4-1 5-1 0-5-4-2 6 0-3-1-10-2 13-1-9-1 4-2-1 0-5-3-3-2 14 0-14-2 1-2 7 0-4 0-3-3 6-3-6-3 4-2 1 0-5-1 13-1-4-2-3-4 0-1-7-9 14-5-4 0-9 0 0-1 11-2-1-1 0-4-5-2 5-4 1 0-1-1-1 0-2-6 0 0-6-1-1-2 2-2 5-1 0-1-5-3 10-2-10 0-2-2 12 0-12-3 5 0-5 0 0-3 0-1 13-1-9-2 4-2-5-2 9 0-10-2 9-2-8-6 7 0-3-4 2-8-2-2 5-2-9 0-4-1 3-1 8-4-10-3-1-3 7 0-5-2 3-1 6 2 4 13 9 1-8 5 3 1-1 1-2 1 1 0 10 1-4 1-5 1 0 4 0 0 3 1 2 3-6 0 4 1 5 1-9 0 7 2-5 3 10 2-1 4-10 1-2 0 11 3-9 0 3 0 3 6-6 6-2 2 4 1-5 1 0 2 1 0 8 1 5 1 0 1-2 1-2 0 2 1-7 0 3 1-5 0 6 7-8 0 4 1 0 0 5 2 1 2-11 4 0 0 10 1-8 1 5 0 7 2-12 2 0 5 11 2-2 1-1 3-8 0 11 0 1 1-8 0 4 2-10 1 1 2 0 0 13 1-13 1 9 1-8 0 1 2 0 1 6 1 3 1 2 1-8 0 2 1-7 0 10 1-9 1 10 3-12 0 2 0 3 2-1 2 2 0 4 2-7 0 8 1-2 4-1 1 5 1-13 1 6 2 3 1-9 1 3 3 2 1-4 6 11 4-9 2 4 0 0 0 4 2-2 1 3 3-12 3 9 1-8 0 11 2-12 1 11 0 0 4-2 0 1 3 1 2-8 1 9 2-8 0 10 1-5 1-8 2 9 2 4 1 0 3-6 1-4 2-4 0 6 1-1 2-5-10 15 0 0-3 3-6 1-2-1-2 6-2-3-3 6-4-6 0 0-1 0-4 7-1-9 0-4-1 5-2-4-1 0-2 6-2-2-1 4-3 4 0-6-1-1-5 1 0-3 0-4-2 4-1 5-2-1 0-6-1-2-30 0-12 1 0 0-2-1-15 13 0-6-1-1-2-5-1 0-2 13 0-10-1 7-4-10-1 2-1 6-1 1-1-5-3 7 0-1 0-7-1 8-2 0-1-12-4 1-1 4-1 4-1 4 0-6 0 0-1 7 0-9 0-5-1 11-2 2 0-7-4 8 0-11-1 7-1-9-1 2-1 11 0-5-1-7-3 7-1-4-3 7 0-6-1 7-1 1-1-10-1-2-1 0-1 0-2-2-2 10-1 2-3 0-4-9-1-1 6 15 2 5 6-5 1-2 1 13 2-13 0 14 8-4 1-9 1 2 2 2 0 2 0 1 2-5 1 9 1-11 1 2 0 8 5-9 0 6 2-6 3 11 2-6 4-6 0 7 1-2 0 2 2 1 0 4 2-7 1 2 1-8 0 13 2-7 0 8 10-14-11 18-1-1-4 2-3 3-3 3-3 0-2-4-3 6-1-7-1 3 0-3-1-5 0 0-5 10-1-9 0-1-3 12-1-7-1-3-2-2-1 1-1 2-1 2 7 12 1 1 4 6 3-4 0 2 1 0 6-7 0 6 0 1 2-1 0 5 6-9 2-2 1 0 1 3 3 10 5-3-8 10-4 2-2 1-2-7 0 0-3 4-4-2" fill="none" marker-start="url(#k16)" marker-mid="url(#k16)" marker-end="url(#k16)"/>
<path transform="scale(0.2)" d="M3285 1569l-18 20-17-13-7 9-7-1-4 19 17 1 32-9 30 12-26 9-2 3-7-4-59 6 39-1 32 4 4 14-23 4-16-5-4 16 31-2 28-1 26 11-19 6-42 7-31 0-11-7-16 7-12-3-10 8-5-11-2 10-11-7-31 20 10-1 1-7 0 9 16-7 1-4 0 3 16 5 6 0 5-2 10-6 11 8 5 3 39-6 5 7 12-13 2 3 44 11 10 6-7 7-3-12-53 10-26-8-19 8-15-1-6 0-24 1-1 3-3-9-9 7-7 0-4-9-16 3-7 3-1-6-6 3-4 9-2-2 4 16 4 0 5-13 3 13 1-4 3 1 1-10 3 3 10 3 0 5 3-5 0 1 5 3 0 1 28-4 2 2 4-3 10 6 10-12 36 2 46 5-45 9-17 3-12 8-7-5-45 5-2 1-4-9-7 1-19 1-4 1-3-3-2 3 0-6-3 3 9 13 8 12 17-12 2 4 9-3 5 2 4 8 1 1 2-9 3 4 6-6 1 10 2-3 0 3 3-1 1-4 8-3 1 4 3-2 1-4 4 5 4 1 81 14-35-6-49 2-7 4-5 2 0-3 0-5-9-1-10 6-1 1-8-8-8 0-3 0-3 2-16 4 0-3-3-3 18 21 3-2 12-4 18 1 11 9-14 18-1-6-8-3-4 1-2 6-6-9 3 17 1 0 6 9 2-5 1-1 0 4 3-2 2 3 6-9 7 3 0 1 1-4" fill="none" marker-start="url(#k17)" marker-mid="url(#k17)" marker-end="url(#k17)" opacity="0.85"/>
<text x="626.60" y="376.80" font-size="9.38" text-anchor="middle" font-style="italic" stroke="#000" stroke-width="0.08" textLength="21.90" lengthAdjust="spacingAndGlyphs">Olig1</text>
<rect x="573.10" y="371.90" width="1.90" height="11.80" fill="url(#rg)"/>
<line x1="576.30" y1="371.90" x2="577.10" y2="371.90" stroke="#555" stroke-width="0.35"/>
<line x1="576.30" y1="374.26" x2="577.10" y2="374.26" stroke="#555" stroke-width="0.35"/>
<line x1="576.30" y1="376.62" x2="577.10" y2="376.62" stroke="#555" stroke-width="0.35"/>
<line x1="576.30" y1="378.98" x2="577.10" y2="378.98" stroke="#555" stroke-width="0.35"/>
<line x1="576.30" y1="381.34" x2="577.10" y2="381.34" stroke="#555" stroke-width="0.35"/>
<line x1="576.30" y1="383.70" x2="577.10" y2="383.70" stroke="#555" stroke-width="0.35"/>
<path transform="scale(0.2)" d="M3021 1888l35 12-9 0-1 4 0-9-1 7 0 0-1-3-1-1-3 2-2-7-1 6-9 1 0-10-2 10-2-6-1 0-1 9 0-7-1 0 0-2-2 6 0 0 0-9-1 13-2-3-3-4 0-6-2 0-2 9 0-6-1 3-3-2-16 23 5-5 3 4 1-1 3-6 0 7 0 1 1-9 1-3 1 10 1-9 1-1 3 6 1-1 0 7 2-9 0 5 1-8 1-1 4 1 0 7 1 2 3 2 1 0 3-3 7 3 3-7 1 6 2-1 5 1 1-4 0 1 3 5 1-9 0 5 5-1 1 1 1-8 0 8 1-9 0 0 0 2 3 0 2 3 2 2 1 5 1-6 2 4 12 19-9-2 0-11-3 3-1 10 0-6 0-1 0-1 0-3-1-1-1 2-1 7-1-7-4 8 0-3-2 5-1 0-4-5-2-9-2 14 0-12-1 8-4-1 0-3 0-6-2 13 0-13-1 12-1-11-5 11-1-7-1 0-1 3-1 5 0-4 0-9-4 14-1-4 0-9-3 3-1 5 0 0-1 1-1 3-2-10-1 9 0-5-1 2-2-6-1 9-1-4-1 3-2 2-1-1 0-3-4-6 0-1-2 5-3 6-1-12-2 13 0-6 0-2-1 8-1-12-1 9 0-10-4 13-5-1-1 0-2 13 1-3 0 0 2 3 1 1 2-7 2-4 4 12 2-13 0 9 1 2 1-5 4-3 2 0 2 10 1-11 1 1 1 9 3-3 3-2 1-1 1-1 0 6 1 3 1-12 2 10 1-11 2 5 0 0 4-6 0 7 2 1 0 4 4-10 1 12 2-7 1 2 0 3 1-7 1 6 3-3 1 3 1-2 1 0 3 0 0 1 4-5 3 0 1-2 1 2 0 8 1-2 1-1 1-4 0 6 1-5 0 4 4-7 10 6 0 0 0 0 0 1 1-11 0 1 1 2 0 3 0 4 2 1 2-1 7 14-1-5-1 1-8 3-2-6-2 8-5-2-3-4-1-1-1 6 0-3 0-4-3 7-1-5-2-1-1 5 0-5-2 2-4 4-3-8-2 12-1-9-2 4 0-8-3 8-1-3-1 5 0-8-1 12 0-11-2-3-2 11-4-1-1-7-7 10 0-4-1-2-1 0 0-5-1 12-1-9 0-2-1 5-1 1-1 0-2 3 0-5-3-7-3 7-2 4-1-11-2 3-6 2-3 1-1 3-6-9-2 13-1-7-1-3 2 19 0 5 6-7 4 1 1-5 0 8 1 2 2-2 1 4 3-3 2-9 1 0 0 2 2 0 0 6 4-3 1-1 2 8 0 0 1-2 3-6 1-4 3 5 1 1 0 2 2-7 3 5 5-3 1 0 2-4 0 4 0 4 2-8 0 1 1 3 0 10 1-10 3 1 4 6 3-2 2-9 1 5 1-4 1 0 1-1 0 1 1-1 0 7 0 1 0 2 2-5 2 3 0 5 1-9 1 5 1-7 3-1 1 0 0 5 4 5 2-6 1-2 0 4 3-7 3 6 1 6 0 2 2-10 4-4 0 4 3-4 4 0 2 11 3 2 0 5-3 1-3 7-4-11-1 9 0-3-1-6-1 11-2-4 0-2-3 8-2-5-1-3-2 0-1 1-7 8-2-5-2 0-1-2-1-1-3 6-1 1-1 0-5 1-1-7-2 3-2 3 0-2-3 0 0-4-1 1-1 1-1 2 0-7-4 0-7 8 0-12-1 3-2 4 0 0-5 5-1-11-1-1-1 12-1-4-4-1-1-5-1 8-2 3 0-3 0-5-1 0-2-3-2-1-1 13 0-14-1 14 0-1 0 0 0-4-2-5-2 9-4-10-1 9-1-10-2 8-3-8-2 12-2 0-3-2-6-2-1-3-6 1-5 4-3-2-47 17 1 2 9-1 5-6 4 1 0 5 0 1 2-10 0 9 4-9 0 10 1-1 2-7 2 6 3-10 1 2 1-4 3 7 1 4 6-11 0 13 1-3 1 3 2-8 0 5 1-1 5 2 1-8 0 5 0 5 1-13 9 8 0 1 2-8 3 0 0 6 0 5 2 0 4-8 1-4 1 11 2-11 1 12 3 0 3-7 5-3 3 3 2 0 0 6 2-11 1 5 1 8 6-12 0 11 0 1 1-4 1-4 2-1 0 4 1-6 1 8 0 4 1-1 1-10 0 10 2-12 0 1 0 3 1-4 1 5 0 0 1-6 1 5 4 8 1 1 0 0 1-5 0 5 1-7 0 6 1-13 0 8 2 0 1-4 0 10 1-12 0 8 0 2 2-11 0 3 2 3 2-4 1 10 5-5 1 4 3-7 0 6 1-6 4 0 1-3 2 3 2 1 0 4 0 1 4 3 1-1 2 1 4-6 1-5 2 9 2-8 1 1 0 4 1-6 1-3 1 9 0 2 2-6 1-3 0 6 1-2 0 0 1-6 0 2 1-1 1 9-1 9-3 9-2-12-1 11 0-12-1 8 0-4-2 6-1-6-1 5-2 5 0-9-2 2 0-1-3-3-2-1-2 5 0-1-3 8-1-1-2-11 0 0-3 8-1-3-2 3-1-4-1-4-1 9-4-9-7-1-6 11 0-3-1-6-3 6-2-1 0 0 0-2-1 1-2-7-3 10 0-2-2-7-1 10 0-9-3 2-1 8 0-1-3 2 0-1-1-11-1 1 0 0-1-1-3 12-1-10 0 0-3-1-4 7 0 0 0-4-1 3-1-3-3 5-4-3 0-6-2 0-3 13-1-8-1 4 0-2-6 0 0-1-9-4-2 8 0-3-1 6-1-10-4-1-1 2 0-1-3 4-1 3 0-8-3-3-1 8 0-5-2 7-1-3-1-7-3 12 0-7-2 6-3-4-3 6-1-12-4 12 0-4-2 2-2 2-2-3 0-9-5 10-1 0 0-7-1-2-2 9-3-8-4 7 0-2-3 5 0-5-2-6-4 11-1-4 0-4-8-3-1 5 0-4-2 9-1-1 0-6-2 3-2-2-2 13 2 3 0 1 1 4 2 1 1-12 3-1 0 9 1 1 1-10 2 6 0 0 2-3 0 1 5-1 1 3 1 4 4-9 0 10 1-3 2-8 3 0 0 1 0 9 1-1 3-9 1 5 1 9 2-14 0 0 1 3 2 5 2 3 1 2 5-4 1-9 0 6 0 8 1-10 2-3 1-1 1 5 4 6 1-11 0 6 2 3 2-7 2-1 5 4 1 8 2-9 2-4 3 7 1-5 0 11 1 1 1-6 2-5 0 5 2-3 2 0 1 9 1-3 1-4 1-3 1-2 3 7 2 2 5-2 4-5 0 5 0 2 3-9 2 4 0 4 3-6 7 7 3-2 1-2 2-7 1 0 1 2 0 0 4 11 2-9 0 8 7 2 1-8 1-4 0 6 0 2 1 3 1-1 1-12 2 1 0 10 1-1 1 1 3-1 1-8 1 2 1 10 1-12 0 9 2-9 0 5 1-3 2 3 0 5 7-1 1-1 1-4 2-5 0 2 1 4 1 5 1-4 3 6 1-12 0 4 0 1 4 7 2 0 2-1 4-13 4 14 2-6 1 1 0 1 1-7 3 5 1-7 2-1-2 15-2 6-2 5 0-2-1-3-1 7 0-13-7 7-3 7-1-2-1-7 0-3-1 4-2 8-1-6-3-1-2-4-1-1-2 3 0-1 0-1-1-3-1 6-5 0-1 7 0-11-5 11-3-2 0-5-2 6 0-3-1 1-1-2 0-4-2 4 0-4-6 9-2-12-1 5-4 1-2-3 0-4-3 9 0-4-6 3 0-7 0 0-1 6 0-7-2 1-1 2-2 2 0-2-2 7-3-2-1 5-1-1-10-11-1 12-1-2 0-3-2 1-1 4-1 0 0-1-1-10-1 7 0-7-4 2-3 0 0-1-1 4-4-7-1 3-1 10 0-12-3 9 0-1-1-4-2 9 0 0-1-1-1-9-3 4 0-3-2 4-1-1-2 3 0-3-3 6-2-9-1 7 0-9-1 5-1-7-1 0-1 10 0-1 0 0-1-7-5 6-2 2-2 1 0-1-1-3 0-2 0-5 0 0-3 1-4 4-2 3 0-9-3 7 0-6-1 2-1 4-3-2-2 9-1-14-1 7-1-2-4 8 0-4 0-2-3-7-3 14 0-9-1-5-1 2-1 2 0-2-3 11-1-1-1-10-1 12 0-7-6-6-1-1 0 0 11 22 1-7 0 5 1 0 3-2 4-3 0 14 1-9 2 0 1 2 0 1 0 4 1-2 1-1 2 4 3-9 1 1 5 0 8-1 3 5 0 5 3-6 3-5 0 7 0 3 1-12 6-1 0 13 3-3 1-5 1 4 2-5 0 7 3-11 4 6 0 7 1 0 4-4 1-2 0 4 3-9 1 9 0 2 1-11 0 11 0 0 3-1 3-3 1-4 0 9 2-9 5 5 1 4 5-4 3-6 1 3 4-3 7-1 2 5 2 3 1-11 0 5 1 2 2-3 0 6 2-7 0 6 4-5 3-4 1 11 2-3 1-8 0 3 1 2 0 8 1-3 0 3 1-6 1-3 3-4 1 4 1 0 0 2 0 4 9-10 5 2 2 11 0 1 1-1 2-8 3 4 2-8 0 1 2 6 0 3 4-8 1-1 0 4 1-6 0 5 4 3 0 5 1-3 3 1 3-10 0 7 2 5 2-10 2-3 0 3 1 4-7 16-1-7-7 10-1-6-1 3-2-6-3 4-1 5-1 0 0-8-1 1-1 3-1 5-2-2-1-4-1 1-2-7-3 3-1 8 0-5-1-2-3 10-1 0-2-4-2-10-1 12 0-9-1-1-2 6-1 6 0 0 0-5-1 1-2-6-1 4 0-4-1 7 0-6-1-2 0-3-4 7-1 6 0-10-2 1-1-3-5 5 0-4-1 0-2 5-12-4-1 2 0-5-1 0-1 2-2 3-5-1-1 0-1 2-1 2 0-1-1 2 0-3-3-3-1 11 0-8-1 3 0-4-1 7-3 1-4-2-1 2-2-3-6-2-2 3-2-11-6 4-1-2-1 4-2 6 0-1-4-4-1 4 0-3 0-5-3 1-1 8 0-11-2 11-1-6-1-1-6-2-3 1-3 9 0-2-1-4-1-3-3 1-5-4-1 8-1 2-2-7 0-4-3 1-2 11-1-6-2 1-1-5 0-1-2 4 11 11 1 5 1 0 1-4 1 11 7-7 4 4 1-6 4-3 8 1 3 8 0 2 1-10 3 6 3 2 1-4 1-6 0 6 1 1 3-2 2-3 0 9 4-6 2 8 1-9 0 6 1 2 1-6 4 1 1-6 0 2 3 9 3-6 1-6 5 1 3 1 5-2 28 0 3 0 10 8 1-1 0 1 2-3 1 0 1-2 1 4 3 3 6-2 3-8 0 9 1-3 2-1 1 1 2-4 1 1 2 5 1-6 0 5 9-7-99 16-1 5 0-2-4 6-1-10-1 1-8 3-1 3-6 2-1-8 0-1-1 0-4 7-1 6-1-2 0-11-2 3-1 3-1 4-4 3 0-7 0 0-3 3-3-8-7 6 14 15 0 2 4-2 1-3 0 10 3-10 0 5 0 1 1-8 3 3 1-1 4 10 2-12 0 7 1 3 2-1 2 0 0 3 2-14 1 6 2-3 2 5 0 18-1 2-2 0-2-10-3 7-1 3 0-11-1 10-1-11-1 8-2 2-1 2-1-10-2-3-1 4-1 0-1-3-1 0-3 1 10 13 5 1 1 4 4-5 1 2 3 0" fill="none" marker-start="url(#k16)" marker-mid="url(#k16)" marker-end="url(#k16)"/>
<path transform="scale(0.2)" d="M3010 1903l21-8 5 9 9-3 3-3 11 9-10 12-23 0-2-8-26 5-15 18 28-9 0 5 9-10 5 2 7 6 6-3 4 9 13-14 2 6 8 3 14 14-1-4-11 6-15 2-10-8-13 0-22 9-10-4-1 3-1-1 2 9 15 2 12 4 15-8 22 6 1 4 0 14-12 2-1-4-10-3-18 5-1-2-7-3-8 6-3-12-11 7-2 6-16 15 9-10 5 5 3-1 19 5 1-1 48-3 0 2 14-4 22 22 0-2-11 0-9-5-13 6-8-10-1 7-12 3-10-6 0-2-28 4-8-5-8 3-7 2-3 3-6-12-4 11-3-6-15 7-15-3-1 2-42 14 16-5 1-1 3-4 4 8 2 0 0 2 1-2 6-1 6 6 9 1 9-6 4 4 1-9 1 4 20-4 2 10 7-12 4 9 1 3 1-11 0 12 10-1 6-10 10 0 5-1 3 10 2-2 6-10 10 5 6-4 5 13 8 0 6-8 17 4 3-3-3 11-12 10-5-7-30-6-4 2-25 5-14 7-6-3-1-3-3 5-1 1 0-11-3-2-2-1-15 8 0-3-6 0-1-4-5 10-3-4 0-4-6 6-16 3-18-12-3 1-4 0-1 9-2-8 0-2-4 10-3-5 6 16 4 2 1-1 6-6 1 11 4-8 14 9 2 0 5-12 5 10 3-4 2 1 4-4 0 4 2-8 1 3 2 3 1 7 3 0 2-11 5 1 10-1 0 4 4 6 2-12 9 14 14-13 3-1 8 1 6 0 6 7 5 5 15-7 15-5 18 3 1 3 1 1 5 2-1 15-6 0-5 0-18 0-6 0-7 3-26-2-2-7-6 4-10-8-8 13-4-2-1-1-1-5-18-4-6 7-5-5 0 0-2 5-6-7-1 7-1-1-9-5-6 3-6 1-4 1-7 4-8-9 6 15 3-2 3 2 4 9 9-1 1-2 6 5 25 0 3 0 8-13 2 13 3-3 2-6 0 0 1 8 8-5 12-4 3 5 3-2 5-6 2 4 6 4 20 6 17-11 1 0 10 7 5-2 7-4-6 15-77-4-8 0-1 1-2 2-3 3-1 3-5-1-2-5-6 8-2 2-2 1-8-2-13-2-4 2-4-3-9 0-2-6-2 3-4-5 10 16 11 11 5-3 14 2 4-7 5 0 6 1 1-6-1 29-3-8-6 1-10 1-2-5-3 10-9-10 12 19 9-6 3 5 9 2" fill="none" marker-start="url(#k17)" marker-mid="url(#k17)" marker-end="url(#k17)" opacity="0.85"/>
<path transform="scale(0.2)" d="M3251 1896l2 6 0 0 3-11 2 5 0 4 3 4 3-8 2 6 1-3 1-3 1 2 3 5 1 0 1-8 0 8 3-7 1 0 1 2 4-1 1 1 2 4 1-3 1 5 1-7 2 1 10 1 3 5 2 0 2 0 8 15-2-11-3 3-4-3-1 4-3-7-4 14 0-5-2-2-1 2 0-9-2 13-1-5-3-8-1 3 0-3-2 11 0-4 0-1-1 1 0-6 0 0-3 0-4 4-3-5-2 13 0-1 0-5-3 7-3-2-1-8 0-3-1 1-1 12-2-11 0-2-3 12 0 0 0-10-2 7 0-9-1 11-1-4-3 1 0 0 0-4 0-3-1 10 0-4-3-4-2 3-1 7-2-1-3 0-4 1-3 9 5-5 3 7 1-7 0 11 1-6 1-8 0 5 1 3 1-8 0 14 4-10 0 2 2-6 3 3 0 10 6-11 1 7 0 3 7-5 1-4 2 0 0 9 2-7 2-4 0 5 0 1 4-2 0 6 1-9 5 5 1-7 1 2 0 0 1-1 1 4 0 3 1-1 0 1 3-3 3 6 1 0 2-3 0 6 1-14 0 8 1 3 1 3 6-9 2 5 3 4 0 0 1-2 1-10 1-2 2 9 1-4 3 1 0 5 1 2 3 9-1 5-3-9-5 11 0-4 0-7-1 4-1-6-4 10 0-3 0-6-1 10-2 2 0-7-4 3-1 4-1-4 0-3-1 3 0-2-1 0 0-3-1 6 0-3 0-1 0-6-1 12-5-7-1 3-5 3 0-3-3 5 0 0 0-10-1-1-1 11-3-9-2 4 0 0-1-8-1 0-2-1-3 10-3-7-11 2-1 7 0-9-1 5 0-5-1-2-1 5-1-1-1 8 0-13-4 13-2 0-2-8-1 7-3 2 0-7-3-4-1 11 0-9-1 2 0-3-1 0-1 5 0-9-1 0-3 9-1-6-1-1-3 23 1-7 3 1 1-2 1 1 0 3 1 2 2 5 8-11 3 10 1-4 1-7 6-1 0 11 1-6 1-2 0 4 1-4 0 4 1 2 6 5 2-13 2 0 1 5 0 3 1-2 2-3 1 2 0 2 0 1 0 2 6 3 1-5 2 1 12 2 1-2 0 4 1-4 1-10 2 0 0 5 0 6 1 2 1-9 3-4 1 4 0 10 1-8 3 4 1-6 5 4 0 5 1-13 0 7 0 0 1 7 3-10 1 2 0 8 4-6 1-6 0 7 2-2 1-5 4 0 1 12 2-10 1-4 2 0 0 2 8 9 3 13 0-5-2 4-1 6 0-5 0-3 0-2-1 7-1-9-5-2-2 9-4 4-2 1 0-2 0-8-3 4-4-6-1-1 0 0-1 6 0-4-4 9-1-7-3 8-5 1-1-3 0-7-1-2-1 10-1-7-1 3-2 1-1-4-2-2-1 4-2 1-2-3 0 0-3-2-4-1-1 10-1-4-1 0 0-1-2 5 0-8-1 6 0-7-2 1 0-1-1-3-1 14-1-2-2 0 0-11-3 0-4 3-4 5 0-7-3 1-1 5-6 4 0-7-5 9 0-13-1 5-1-4 0-2-4 14-1 0-1-1-1-3 0-3 0-7-2 13-1 1-1-5-4 3 0-11-1 2-1 1-3 6 0-1-2 1-20 14 8-1 3-4 1 10 1-10 1 4 6-4 0 8 4-11 4 3 0 9 1-3 1 2 2-6 0 4 0 1 3 3 2-4 6 2 2-9 2 6 4-5 0 10 1-11 0 2 1 4 3 1 1-10 0 12 1-5 1-3 2 6 1-8 0 7 1 1 0 4 8-5 2-7 4 2 1 5 2-3 0 7 2 1 1-12 0 1 2 4 0 5 11-2 1-2 0 3 4 1 3-7 2-3 0 12 5-3 1-7 2 4 2-6 2 2 1 3 3 3 1 4 3-6 2-7 1 2 2 6 2 1 2 4 2-5 0 3 0 2 0 0 3-2 1 1 3-6 1-5 0 11 0 1 2-6 0 2 1 3-3 7-2 8-1-11-1 6 0-6-1 1-2 6-4-8-1 0-2 6-1 6-2-3-1-9-1 3-2 7-5-2-3-3 0-5-2 7 0 0-5-8-4 7-2 2-2-1-1 0-2-2 0-4-3 10 0-8-2 9 0-1-1 0 0-3 0-1-3-6-2 0 0 0-1 9-3-3 0-7-1 12 0-2 0-3-1-5-2 3-3 0-1 5-1-9-1 1-3 2-1-1-1 1 0-3-1 3 0-1 0-2-1 12-1-13-3 12-2-1 0-6-3 8-1-12-1-2-2 8-3 6-1 0 0-10 0-4-1 13 0-10-1 9-2-2 0-1-3 3-1 1-1-2 0-5 0-1-1 8-2-7-2 1 0-7-3 0-4 10 0-10-5 13-1-1 0-3 0-8-2 10-1-10-9 1-1 10-5-4-2-8-4 11-4 2-2-3-2-5-2 8-1-5-2 5-2-4 0-6-4 6 0-5-4 8-14-1-1 3-2-1 0-4-6 4 0-3-31 15 3 0 7-6 4 1 5-5 2 3 0 5 1-7 3 5 0 0 5-3 2-1 1 1 1-2 1 4 0 6 1-1 4-1 0 3 1-9 1 10 1-11 1 3 1 2 0 5 2-10 3 9 0 3 2-10 0 8 7-4 1 1 1 4 1-1 8-10 0 5 1 5 2-11 2 2 6 10 3-12 0 1 0 9 1-7 2 5 1-8 0 10 1-3 4-1 0 2 3-5 0 10 1-12 1 6 1 4 1 2 2-11 1 3 1-5 0 1 1 12 1-13 3 0 1 5 7-4 2 4 1 6 4-7 2-2 3 0 0 0 1 4 1 5 4-5 4 2 0 3 2-10 0 4 0 6 4-5 3 3 2 1 3-3 1 5 2-12 2 9 2-9 1 8 1 3 1-10 0 5 0 6 1-11 4 1 1 2 1 0 0 8 1-13 3 4 2-3 0 11 2 1 2 1 4-1 3-11 5 3 1 1 1 7 1-10 2-2 3 4 1-2 0 1 3 2 0 5 4-7 2-3 0 7 1-6 1 5 0 1 2 2 1-3 0 2 3-9 3 3 2 0 0 7 1 3 0 9-3-4-4 11 0-3-5-2-2 1-1 3-3-10-1 10-3-2 0-10-2 0-1 5-2-5-1 8-2 4-4-2 0-2 0-6-5 9-2 1-1-10-1 9-1-3 0-5-1 10 0-9-1 5 0-4-2-1-1-4-1 11-3 2 0-2-3-10-1 5-3 7 0-13-1 7-2-1 0 0-6 2 0-3-1 5-1-10-6 13-1 0-2-9 0-3-1 6-6 3 0 0-2-1 0-4-1 7 0-10-2-3-1 2 0-1-1 2-7-1-1 12-2-4 0-5-1 5-1-2 0-8-5 14-1-7-3 4-4-6-4 4-2-5 0-1-1 2 0-1-5 7 0-11-1 14-1-5 0-5-3 6 0-2-2-3-4 1-1 3-1-8-1 4-1-1-2 3 0 0-2 5-1-2-3-3-3-7-2 10 0-5-1 4-1 4-1-3-2-7-2 1 0-2-3 9-3-7-2 7-3-9-2 8 0-7-2 8-4-11-1 8-2 3-1-3-2 1-2 5-1-6 0-4-1 4-1-5 0-1-3 12-1-14-1 7-3-2-3 3-3-4-2-3-2 10-1-7-1-1 0-2 0 0-3 12 2 3 7 10 2-11 0 10 1-2 0 6 3-14 0 5 2 7 2-4 0 3 3-1 2-10 4 0 0 8 7 6 3-14 0 4 1-4 1 3 1-3 1 10 1 0 0 1 1-3 5 5 3-12 0 1 4 5 0 2 0 3 2 2 1-12 5 7 2-1 1 0 2-5 7-2 0 10 1-3 2-7 1 12 2-12 2-1 0 8 2 0 0 2 4 2 1 0 0 2 1-10 2 9 1-11 4 4 1 5 2 2 6-9 8 0 1-2 2 2 0 6 0 2 2-6 0 6 0 2 1-12 2-1 0 4 1-4 1 1 1-1 3 6 1-2 0 5 0 3 4-3 1-5 3 7 2-1 5-2 1 1 6-4 1-1 0 1 1-3 0 5 0 1 2 2 0 0 3-5 4 6 2-3 1 0 3 0 0 4 2-13 1 12 2-8 1 9 0 0 1-7 2 1 1 4 0 1 2-5 4-6 0 3 2-2 2 8 1-1 0 1 2 1 3 1 2 1 2-10 1 10 6-10 0 11 1-3 1-1 2-8 0 1 1 0 3-1 0 6 1-4 5 0-4 17 0-3-2 3 0-3-1 5-1-5-1-3-1 0-4 5 0-2-1 3-4 0-2-3-1 8-1-3 0-2-1 3-2 0 0-2-4-2-3 4 0-1-6 4 0-8-1 2 0-3-1 9-5-2-3 0-3 2-5-10-2 5-4 6-1 1 0-3-1-2-1 5 0-4-3-10-2 14-1 0 0-13-4-1-3 14-2-3 0-11-1 7-1-4 0-2-1 5-1 3-4-3-1 3-1-1-1 4-3 2-2-7-1-1-2 8-3-13-1-1-2 4-8-4-3 2-1 8 0-1 0-1 0-5-10 4-2 2 0-1-1-7-4 4 0-3-2 12-4-14 0 0-1 2-2-1-1-1-2 7 0-5-2 0-1 12-2-7-3 5 0-3-3-2-1 2-2 4 0-1-2-1-1-4 0-6-3 11-7-12-1 3-1 8 0-5 0-5-6 11-3 0-1-9-1 5-2-5-2-3-3 10 0-7-2 7 0-6-1 0-1 4-4 0-1-1 0 0-1 4-5-8 0-2 8 18 2 0 1 3 1-5 2 5 0 7 1-7 4-6 0 12 4-13 1 2 0 5 1 3 2-7 6 3 1-1 0 3 1-7 0 5 1-2 0 4 0 1 2-5 7 6 1 4 2-5 2-2 1-7 2 8 13-1 1-7 4 1 0 2 2 4 2-6 1-1 0 14 1-6 0 6 1-6 2 2 4-2 0 1 2-3 1 2 2-5 4 2 4 4 2-3 0 6 1-2 4-4 2-6 0 6 1 0 0 3 3 0 1-2 2 0 0 0 2-5 0 10 1-6 2 3 0 1 3-4 5 1 1-7 1 11 11-4 0 3 1-7 0 11 1-5 0 3 3-1 4-5 1 7 2-9 2 5 3 0 1 1 1 4 8-12 1 1 1-3 0 3 1 3 0 7 1-11 0 2 0 4 4-8 4 6 0 3 8-8 3 4 0 6 0 3 1-7 2-6 0 5 1-4 0 0 0 6-11 10-4 3-5-4-1 7-3-2-1-5-3 8 0-7-6 1-1 7-1-11-2 7-2 1-7-4-60-4-6 13-1-13-4 9-2-4-3-2-1-1 0-2-8 4-1-2 0-2-1 5-1 7-2 2-5-10-4-1-3 2-2 5 0-10-2 1-3 13-1-14-1 5 0-4-5 10-1 2-4-10-1 7-1-2-1-7-3 3 8 14 2-3 4 13 1-12 1 13 2 0 1 0 1-3 1-11 0 11 5-7 1 4 0 6 5-9 3 4 1-2 2 1 1 5 1 0 1-10 0 4 5-2 1 4 0 1 3-10 6 10 1-9 0 7 3-8 0 2 1 1 1-3 0 0-10 25-4 3 0-3-1-8-2 0-2 11-1-1-1-12-5 7 0-1-3 8-3 0-1-2 0-7-1 0-2 9-2-4 0-9-2 9-5-9 13 14 3 0 2 1 0 11 1-9 0 7 3-4 1-6 1 0 1 10 2-10 0 3 1 7 0 2 4-10 3 12 6-7-11 11-1 2-2-5-2 2 0-2" fill="none" marker-start="url(#k16)" marker-mid="url(#k16)" marker-end="url(#k16)"/>
<path transform="scale(0.2)" d="M3263 1894l1 4 16 1 1 5 5-5 1 4 1-5 12 15-2 0-11-3-5 1-2-3-26-2-3 4-1-5-1 0-9 9-8 9 4 0 1 2 2 9 23-12 2 6 7-5 6 1 0 3 5-7 0 1 13-1 0 5 12 6 3-7 2 10 2-2 4-12 0 8 18 18-1 0 0-2-2 3-11 0-21-11-18 12-5-7-6-5-16 3-30 5 0-4-1 4 0 20 13-14 0 3 0 3 16 0 9 1 26 0 17 7 1-7 4-2 13-3 5 7 12 4 5 2-19 8-1-2-2-6-13 7-7-4-8 3-1-2-16 7-1 0-8-5-2-5-2 10-1 1-8-5-16 1-3 2-3 0 0-3-1 2 0-7-32 22 3 3 32 0 2-4 2-5 5-2 3 4 6 6 4-10 2 7 19 3 7-11 4 5 7 7 17-1 12 0 13-11-4 26-10-10-4 12-9-4-15-6-6 11-5-4-22-6-11 8-7-12-3 10-17-8-1 12-1-6-1-3-7 7-13-3-3 1-2-8 0-1-3 12-1-8-6 1-1 2-6 3-1-1-2-2-5-2-2 6-1-1-1-5-6 2-1 2 0-2-4 2-20 14 9-4 4 7 9-12 0 14 3-8 1 4 1-4 2-6 1 8 0 1 5-4 1 3 4-2 5-6 2 7 3-5 1 0 2 10 1-10 0 9 3-11 7 9 5-5 3 6 3-4 4 1 3 0 8-7 6 4 4 3 5 3 1-3 12-6 5 11 15-11 1 9 4-7 3 2 6 9 2 0 2-1 6-12 33 6 17 18-17 2-4-7-13-2-16 2-4 1-27 2-20-5-8 11-9-9-11 3 0-1 0-3-7 8-1-5-2 0-3-7-2 14-7-2-5-11-10 2-3-1-4 0-12 7-3-3-2-3-3 3-3-6-5 6-2-6-2 7-3-4-1 1 0-3-4 3-4 10-4-5 0-8-1 11 10 5 3 6 2-5 2 1 2-4 1 6 0 7 1-10 5 1 3-3 2 8 3 3 3-10 2 0 4 6 1-7 4 10 3-7 7-4 3 1 13 8 2-3 6 0 3 6 6-1 4-10 0 0 3 7 0 5 3-12 0 7 0 5 4 1 4-5 12 0 5-7 9 2 12-3 15 7 5 5 6-12 12 6 13 5 13-11 3 5-49 18-17 4 0-11-25 10-12-11-6 9-11 2-2-2 0-5-4 9-2-11-2 5 0-5-6 8-6 0 0-6-6 1-5 7-5-7-5 0-2-6-2 5-5 8 0-3-1 2-3 2-3-7-3 3-4 3-4-3-2-1 0 0 0-3-2 8-2 3 6-1 1 5 1-6 6 3 0 2 4-3 2 6 9-8 4 9 5 0 1 1 2 1 0 2 1-10 0 1 5 9 4-12 1 3 0 6 3 3 7 1 4-3 3-1 1-9 10 0 3 12 7 0 4-11 18-2 9 10 8-7 6 3 12-3 19 3 6 6 1 8-14 4-1-1-8-1-3-3-66-4-10 2-2-1-10 11-1-4-5 3-4-10-7 8 0-5-4 1-1 1-3-5-4 7 0 0-1 1-2-1-2 3-5-3-8-5 5 12 1 2 4-2 4 6 1 1 0 1 2 3 1-6 1 0 1 2 20-3 4 10 4-13 1 4 5-5 6 3-8 22-2-2-5 0-1-2-3 1-2 3-4 4-4-5-10-8-1 3 8 11 0 0 5 2 3-1 0 2 2 4 5-6 2 1 0 3 1 6 2 3 9-8-3 10-9 2" fill="none" marker-start="url(#k17)" marker-mid="url(#k17)" marker-end="url(#k17)" opacity="0.85"/>
<text x="627.20" y="444.60" font-size="9.55" text-anchor="middle" font-style="italic" stroke="#000" stroke-width="0.08" textLength="37.00" lengthAdjust="spacingAndGlyphs">Vimentin</text>
<rect x="570.90" y="443.60" width="1.90" height="13.70" fill="url(#rg)"/>
<line x1="574.10" y1="443.60" x2="574.90" y2="443.60" stroke="#555" stroke-width="0.35"/>
<line x1="574.10" y1="446.34" x2="574.90" y2="446.34" stroke="#555" stroke-width="0.35"/>
<line x1="574.10" y1="449.08" x2="574.90" y2="449.08" stroke="#555" stroke-width="0.35"/>
<line x1="574.10" y1="451.82" x2="574.90" y2="451.82" stroke="#555" stroke-width="0.35"/>
<line x1="574.10" y1="454.56" x2="574.90" y2="454.56" stroke="#555" stroke-width="0.35"/>
<line x1="574.10" y1="457.30" x2="574.90" y2="457.30" stroke="#555" stroke-width="0.35"/>
<path transform="scale(0.2)" d="M2992 2249l1-3 1 1 1-3 3-1 5-3 5 6 1-3 3-3 2 7 3 0 3 1 2-7 7 2 0 1 2 5 3-4 3 3 3 1 0 0 16 10-1 5-1-2 0-9-1 5-1-4-2-1-2 5-1-5 0-1-1 5 0-2-3-2-4 9 0-5-10 2-5 2 0-3-2 4-1-3 0-3 0-5-3 1-2 5-4 3-2-1-2-2-1 1-2-8-1 10 0-2-1 1 0-3-3 2 0-1-3-6-5 5-2-5-3 7 0-3-2 6-1-2-3 5-4 10 4-6 1 1 5 2 1 8 2-1 2-12 4-1 1 5 1 4 0 4 1-2 1-9 0 12 3-6 0 1 3-6 1 5 0 4 1-6 3 8 3-12 0 0 0 10 1-6 2-2 2-4 1 6 1-1 3 8 3-8 0 7 1-11 0 5 0 3 1-7 0 11 4-13 0 4 2-1 0 1 1-2 2-1 1 7 1-1 7 0 0 2 1-3 0 8 0 0 2-11 1-2 1 7 2 0 1-7 0 5 2 5 3 3 2-7 1 5 2 1 10 15-3-1 0-2-7-10-5 14-1-4-1-1 0-1-1 5-2-2-3-6-1 9-2-14-2 13-1-4-1-2-1-6-1 13 0-13-2 13-1-12-1 10-1-1-1-4-1-6-1 4-3 9 0-14-5 8-2-2 0 0-1 7-1-6-1 7-1-6-2 4-1-8-1 10-1-1 0-9-4 9-3-12-1 2-3-3-4 2-2-1-2 10-3-11-1 4-1 4-1-2-1 0-3 0 0-5 0 0-2 7 0-3 0-3-11 7 0-5-1-4-2 23 3 2 0 1 1 1 2-3 1-8 1 9 1-1 1 4 2-3 0 4 1-12 0 0 3 3 1 6 2-11 5 1 0 10 0 2 2-5 2-6 1 9 4-11 3 13 1-8 2-2 0 7 3-1 1-3 0 4 1-6 7 7 1-7 3-2 1 7 2-7 0 2 1-2 1 0 0 3 2 4 1 5 1-1 1-10 0 6 2 3 1-8 0 1 0 4 5 0 1-7 2-1 1 12 2 1 5-9 2-4 4 1 4-1 0 11 6-3 1 4 4-13 3 13 1 0 2 1 6 10-1-1-1 2-1 1-2-10-3 12-2 0-2-6 0-5 0-2-3 12 0-8-1-1-1-1-1 4-6 5 0-1-2-5-1 1-1-2-2 9-4-2-2-9-2 8-1 0-5-2 0-2-1 0-1 3 0-2 0-2 0 0-1-5 0 0-3 5-3 7-2-6 0-5-3-1-1 0-1 9-3-8-3 5-1 1 0-7-2 0-3 9-2 1-1-2 0 0-1-3-1 7-1 1 0-1 0-7-2 5-1-4-1 1-4 0-2 6-1-2-1 0-1 3 0-2 0-10-3 8-2 4 0-10-2 2-1-2 0-1-1 11-1 0-4 0 0-13-3 5-2 8-3-1 0-8-22 24 10-5 1-2 0 5 2-3 2 1 2 3 2-4 1 2 0 2 1-6 1-2 1-4 3 4 0 8 2 0 8-3 2-8 0 6 1 6 1-12 1 12 3-14 1 2 1 11 0 0 1-4 1 4 1-6 1 0 3-3 1 6 1 2 2-6 8 0 0 1 1-5 0 3 0 3 1-8 1 4 2 1 5-5 3 0 0 1 0 9 4 4 2-2 0 2 1-7 1 5 1-8 3 3 4 0 2 4 3-11 0 8 3 6 4-12 0 5 3 7 1-3 2-9 2-1 0 7 4 3 0 2 3-5 1-8 4 4 1-3 1 1 2 9 0 2 3-6 3 1-1 20-7-2-5-5-4 4 0-9-1 12 0-12-1 13-4-12-2 4-2 5-2-9 0-2-3 4-1 9 0-6-1 1-3-2-1 3-1 3-2-4-2 4-3-3 0-5-1 10 0-6-4 4 0-10-1 12-3-1 0-4 0-4-2 4-7 5-1-6 0-4-3 9 0-6 0-7-2 7-1-7-6 12-1-1 0-5 0-2-1 3 0-4-2 3-1 7-1-2-2 3 0-3 0-8-2 8 0-9 0-1-4 2-1 10-2-1-6 1-2-2 0-5-2-5-5 0 0-1-1 13 0-4-5-8-1 5-1-2-1-4-1 6-1 8 0-2 0-1 0-10-1 13 0-1 0-5-1 6-12-13-1 7-2 4-2-10-4 4-1 5-2 3 0-1 0-2-2 0-6 1 0-7-4 5 0-3-1 5-4-1-5 2-1 0-42 16 2-2 5-3 0 1 2 4 0 0 2 0 1 0 1-8 2 2 2-3 2 9 12-12 0 10 2-12 2 8 1-4 7 1 5 5 1-1 2-9 3 13 1-10 3 4 1 0 2-5 0 9 1 0 1-9 2 1 2 7 4-1 1 1 1-2 1 6 1-5 0 4 2-12 0 8 0 1 1 0 2-7 0 2 0 1 6 5 4-4 1 3 1-7 4 5 1 1 0 1 2-3 5-7 0 5 5 2 2-5 0 5 1 5 1-4 4-1 3 4 3 0 1-7 1 6 2-9 0 11 1-11 1 7 6 0 4 5 2 0 2-13 3 4 2 3 1 5 2-10 0 8 3-7 0 1 1-1 2-2 3 2 0 5 0 1 1 2 2-6 5-1 0 10 1-12 0 4 1-1 3 0 0 3 2-5 7 8 3 0 2-1 1-4 0 6 1-4 0 5 1-1 6-11 1 5 1-3 4-2 1 8 3-2 1 6 1-13 3 4 0 5 1 5 1-11 0 3 0 19 0-4-3 4-2-9-2 4-2-5-1 13 0-13-3 11-4 1-1-9-2 10-1 0-3-2 0-4 0-2-4 5 0-2-3 5 0-2-4 2-1 1 0-14-1 0-2 4-1 9-2-7-1 2-6-7-4 8-3 3 0-5-2 3-1-1-4 2 0-11-3 6-1 0-2-5-2 12 0-3-1 3-1-5-3-3-1 9 0-11-3 4-5-4-1 2-2 8 0-9-6 8 0-3 0 0-2 4 0 0 0-3-1-4 0-6-1 4-3 10-4-5-2 0 0-6 0-2-1 9-3 4-2-11-1-2-2 2 0 0-3 9-1-11-3 4-2 0-1-4-3-1-2 1-1 10-1-11-1 14-5-4 0-4-8 8-2-2-2-6-1 8 0-8-1 1 0-4-1 3-2 5-1 3 0-9-2-2-1 6-1 2 0 0-2 1-2-6 0-6-2 12-1-11 0 0-1 11-6-3-5 3-1-2-1-8-1 2-2 7 0-6 0-5-1 7-6 2-1 1-1-1 0-4-1 6-2 1 0-4-4-8-1 5-6 3 0-1-3 0 0-2 0-5-1 11-2-11 7 22 0 0 1-1 0 4 2 2 1-3 2 2 1-6 3 2 1-6 3 2 0 6 0 4 1 0 1-4 2 3 2-5 2-4 1 10 1-5 8-2 2-6 3 0 2 0 0 8 0 1 4 4 2-4 0 3 2-2 2-3 2-5 0 1 4-3 0 12 2-6 1 1 1 0 2-5 1 7 3-2 3 3 7-8 0 11 1-7 2-5 0 11 4-12 1 4 0 4 0 2 0 2 1-12 3 3 4 0 1-3 1 1 0 3 0 4 1 3 0 3 4-2 1 0 5 1 1-9 0 6 4-2 6-3 2-4 1 6 1-5 2-2 4 9 0 2 5-7 1-4 1 2 0 9 1-8 5 6 2 0 1-7 3 11 2-13 1 8 1-6 0 8 1 2 4-12 2 4 0 1 3 4 2-5 2-1 5 11 1-11 4 9 0 1 5-3 4-1 1 1 1-10 0 12 3-3 3-2 1 0 1-6 0 8 0 3 2-4 1 2 0 4 1-10 1 1 1 2 1 6 3-13 1 14 2-3 1-8 1-2-2 15-2-1-1 4-3 1-1-3-1 3-4 9-1-7-1-4-8 10 0-12 0-1-7 0-2 14-3-13-4 5-1-2-1 10-1 0-1-11-3 1-2 8-2-7-3 1 0-1 0-1-1 9 0-11-1 2-6-3-4 1 0 0-1 5-1 3-1 3 0-13 0 0-1 10-1-10-1 7 0-5-1 2-1-2-1 10-2-5-2 5-1 0 0-11 0-1-1 3-3 9-4-4 0 0-5 5-1-12-2 6 0-3-1-3-1 12 0-13-1 0-3 14 0-4-1-3 0-7-5 13 0-5-1-8-1 11-2 2 0 0 0-3-3-2-6 4-1-12-1 5-2 5-8 3-1-5-2 4 0-3-2 3-8 2-1 0 0-4-3 3-2-3-2-4 0-2-1 10 0-14-2 10-2-1 0-4-5-4-2 7-4 1-4-3 0-3 0-2-1 11 0 0 0-3 0-6-1 7-3 1 0-2-1 0-1-6-1 2-1 1-1 6-3 0-2-3-2-6 0-3-2 1-1 13-1 0 0-11-1-1-1 12 0-11-1 1 5 11 0 3 2 8 6-8 0 4 1-6 0 11 2-11 3 7 0 2 2 4 1-12 0 8 0 1 2-3 1-6 2 1 3 6 1 3 1-1 4-7 9 8 0 0 2 1 1-12 1-1 0 1 1 2 1-3 1 6 0 4 4-7 1 4 2-1 0 5 1-5 1 6 0 1 1 0 2-6 3 5 2 1 1-3 1-8 2 6 4-4 0 10 2-12 2 9 1-7 0 2 1 3 1-6 0 3 2 5 1-7 1 5 2-8 1 11 1-6 1-1 0 1 0 0 7-5 0 8 0 4 1 1 1-14 0 5 2-1 2 6 3-4 3 2 3-3 0 7 2-10 1 12 2-14 0 13 1-1 4-3 4-5 1 6 3-2 1 0 0 1 2-3 1 5 0 2 3-13 0 3 3-3 3 4 5 3 1-6 1 2 0 7 3-8 2 2 1-3 0 2 0 0 2 3 1-5 1 1 0 12 3-11 1-3 1 7 0 1 1 3 2-2 1-4 2 3 1 1 0 3 2-6 1 2 1 2 3-8 1 4 2 4 1-3 1 2 2-8 0 1 1 1-8 16 0-2-2 2-4 2-4 0-2 5 0-4 0-5-3 11 0-4-1 0 0-1-1 3-1-4-1-7-2 10-8-8-1 10-5 1-6-10-1 11-4-7 0-4-2 1 0-3-1 11-21-9-4-3-1 3-1-1-11 3-6 0-1 1-1-6-1 9-1 0 0-3-2 8-1-4 0-7 0-3-1 0-1 11 0-2-2 1-1-1 0-5-1-1-1 3-1-3-4 11 0-6-1-7 0-1-1 10-3 2-2-6-4-4-3 2 0-1-2 6-1 4 0-10-1 5 0-3 0-4-3 4-1 2 0-5-2 11 0 0 0-3-1 3-1-3-1-1-5-5 0-1-2 2-2 3 0-1 0-2-8 3 0-5-3 2 0-4-1 5-3 4 0-5-1-1-4 1 8 18 3 6 2-7 2-4 0 10 1-6 2-7 0 9 4 2 1 0 2-10 4 8 1-3 1-6 2 6 0 3 2-7 3 4 0 4 3-8 0 12 3-6 2 0 6 0 1-1 5-6 3-1 0 1 0 10 1-1 4-8 1-1 65-1 10 0-87 26 0-9 0-2-2 7-1 4-4-6 0-3-1 3-1 9 0 0 0-9-5-1-3 1-6 9 0-1 0-11-3 5-1 2-3-4-4-3-5-1 12 15 5 5 0 5 2-7 0 5 1-2 2 1 0 2 0 4 1-13 1 0 1 11 1-5 1-2 1-5 0 9 1-3 0 2 1-7 2 5 2-5 1 7 0 2 1-3 1 4 5 2-1 5-5 6-2 0 0-6-1 1-5 7-3-11-3 3-2-2" fill="none" marker-start="url(#k16)" marker-mid="url(#k16)" marker-end="url(#k16)"/>
<path transform="scale(0.2)" d="M3032 2247l2 1 5 13-16 3 0-3-24-7-6 20 21 4 28 1 2-9 6 2 3 1 2 2-16 7-31 22 7-7 8-1 18 8 2 3 14 0 15-8-44 18-40 3-14-5 41 10 2 1 48 10 3-4-15 18-40-7-14 9-11-7-16 9-8-8-12 1-7 2-1-1-64 21 11-4 11 1 4-8 5 8 0 1 4-8 4 1 3-5 6 3 10-2 0 6 17-2 1-3 5 10 12-8 2 2 0 5 24-1 8 4 8-1 45-5-41 13-18 1-8 3-24 3-13-1-12-5-3-3-3 0-5 9-3-12-3 6-14-1-2 4-5-10-4 13 0-4-4 3-11-10-7 4 5 15 12 7 15 1 16-13 1 9 3 0 3-5 4 6 3 3 2-3 26-5 7-2 5 7 36-4 0 7 46-5 9 6-25 12-26-1-24 1-8 2-23-3-2-6-3-3-7 7-1 0-1-7-24-2-9 1-5 5-1 1-6 3-1 0-3 3-2 10 3 6 9 0 3-2 2-1 13-5 2 3 3-6 0 2 0 5 8-1 4 0 1-9 1 13 4-8 3 8 5 0 18-8 14 9 29-6 47-1-4 14-27-6-17 2-48 2-15 7-4 1-6-4-9 6-10-3-5-7-2 0-11 6 2 7 1 0 8 10 9-3 4 3 2-7 7-5 3 14 2-8 6 5 3-9 9-1-9 19-9-2-8 4-1 3-3-2-3-2-5 6-2 0-2-6-1-4 15 19 6-5 15 19-6-1 0-2" fill="none" marker-start="url(#k17)" marker-mid="url(#k17)" marker-end="url(#k17)" opacity="0.85"/>
<path transform="scale(0.2)" d="M3237 2248l4-2 3-4 1-1 0 0 1 4 2-3 2 0 3-1 3 5 2-7 0 1 0 5 4 2 3-5 7 0 0 2 1-3 0 2 8 4 3 0 6 1 17 14 0-4-12-8-1 1-1 0-5 7-1 0-2 0-2-2-2 6-1 2-2-12-1 8 0-10-5 4-1 10-1-10-2-4-1 10-1-2-1 1-2 4-1-13-1 0-1 8-1 3 0-1 0-5 0-2-5 2-2 5-1 4-3-4 0-1-1 5-1-1 0-7 0-6-2 0-3 10-3-8-3 10-1 1 0 0 0-4-2-4-1 7-1-7-2 3-10 21 4-11 0 3 2 1 0 1 1-4 1 9 1-11 0 3 2-5 1 11 0 0 5-8 4 3 0 2 8-6 3-2 1 11 2-3 2-4 3-4 3 11 2-3 2 0 0 1 1 5 1-11 1 7 0 2 1-5 3 0 3-5 0 2 0 2 1-4 4 2 1 5 0 5 0 0 1-7 2 1 0 4 0 1 1-7 1-4 3 9 3-8 1-1 1 1 5-3 0 9 1 0 0 4 1-3 1-5 1 0 3 1 0 3 2-5 2 3 3-1 0 2 0 3 1-4 1 1 0 5 1-1 3 11 0-7-3 4-1-2 0-2-3 9-3-8-3 11-2 1-1-3-1-6 0-3-4 8-1 0-1 4-1-8-6 5-1 2-1-13-1 4-1 0-2 8-2 0-1-4-4 1-2-3-3 2-1-2 0-5 0-1-2 10-2-4-1 2-2 3 0-10-1 4-2-2-1 4-2 3-1 4-5-2-3 1-1-12-3 3-1-2-5 12 0-11-2 11-1-10-2 8-2-1 0-7 0-1-3 1-2 4-1 0-1-7-1 5-5-6-1 7 0-1-2 17 3 5 1-2 2-9 1-2 1 8 3 0 1-6 1-1 0 5 1 6 9-9 2-3 1 5 0 4 1 4 2 1 3-1 3-2 0 2 3-4 6-7 1 1 1 5 3-5 0 8 2-3 2-6 4 6 1-6 2 7 1-9 0 10 5-9 5 6 0 0 0 2 1-1 1 1 2 0 0 3 3-10 0 11 3-3 0 3 1-9 3 5 3 0 7 5 3-13 1 2 2 3 1-4 8 3 0 6 2 0 12 17-1-1 0-10-5 2-1 9-1-11-4-2-2 14-1-8-3-2-2-1 0-2-6 13-1-9-7 1-2-4-5 10-1-8-1 3 0-2-3 8-1-10-2 1-1 7 0-1-3-3-2 4-1-7-3 6 0-2-1 1 0-2-1 5-1 2 0-7-4 4-1-8-1-2-8 13 0-12-1 12-2-1-3-7 0-5-4 8 0 0 0-6-4 4-1 7-1-14-4 14-2 0-2-9 0-3-2-2-2 12-2-1 0-6 0 0-1 3-1-7-3 6-3 7-1-12-2 10-1-3-4-9-1 13-1-12-1-1-1 0-20 29 13-2 1 2 1-8 2 4 0 4 1-8 0 2 2-2 2-2 2 8 2-2 2-10 5 12 1-9 1-2 3 10 1-11 1 9 0 1 1-2 2 3 1-7 1 9 3 0 1-4 1-8 2 9 0 0 3-1 0 1 0 4 1 0 4-1 1-8 0 0 1 8 1-9 0 8 4 1 0 1 5-12 2 6 2-8 1 13 1-4 0 4 1-8 0 6 2-6 2 2 1-5 1 9 1-1 2-10 0 5 3 4 3-2 2-3 4 4 2 5 1 0 1-8 0 4 0 2 1-10 1 6 2 1 0 3 0 2 4-7 3-6 2 3 0 7 1 0 1 1 1-11 1 0 2 3 0 7 3-5 1-3 7 7 8-5 0 5 1 2 1-8 2 6 1-6 4 25-2-9-1 0-3-2-1 5-2 3-2-5-2-5-1 3-1 9-3-7-3 1-2 1-3 1-1 2-1 2 0 0-1 0-2-8-2 0-1 4-1-5-5 3-7-4-3 6-1-4-4 4-3-6-1 4 0 0-1 5-2-2 0-2-1 4-1 2-1-9 0-3-1 1-3 7 0-9-3 0-1 5-2-4-1 13-2-5-4 5-2-7-2 4 0-1 0-1-2 0-5 4-1-8 0-4-1 13-2-13-1 11-1-11-1 11 0-5 0-1-5 3-2-5 0-3-2 3-7-2 0 0-17 1 0-2-2 8 0-2-3-5-2 9-5 2-1-10-1 5-1-2-7 0-2 0-1 5-2 0-1-2 0-6-7 9-1-3-1-1-13 6-2-2-1 0-6 2-1-1-2 0-32 15 7-5 0 1 5 2 4-3 1 0 1 0 0 5 1-9 0 3 0 2 2-6 0 2 1 0 0 3 5 1 5-5 1 3 1 0 1-3 0 3 4 3 6-9 0 5 0 2 1-7 0 9 1-7 2 5 2 3 3-10 3-1 1 11 0 2 3-11 1 3 1-4 1 5 2 8 1-5 1-6 0 4 0 7 2-13 0 12 4-3 0 2 1-8 4-3 0 4 0 6 2-11 0 11 0 3 4-5 3-1 5-3 4 3 0 5 1-3 1-2 2 1 4 0 1-3 1 2 2-6 0 3 1 4 5-1 6-2 2 6 1-12 4 3 1-2 0 4 2-2 1-2 6 0 0 9 3 1 0 3 5-3 1-5 1-4 2 0 0 9 0 1 0 0 1 0 1-9 1-1 4-1 0 1 0 11 2-3 1-9 0 10 4 0 3-8 2 8 1-10 2 11 2-8 2 7 2-6 0 5 3-4 1 8 1-8 1-6 2 1 2 0 1-1 1 14 1-5 1-6 0 3 2-6 0 3 1 5 0 1 4-9 4 13 5-10 0 8 2-5 0 4 0 0 3-10 0 1 2 12 3-13 0 8 2 2 0 2 1-10 0 8 1 0 4-8 0 22-1 0-1-5-2 9 0-13-2 6-2 5-1 3-1-2 0-10-2 11 0-2-1-2-4-8-2 1-3 9-3 0-1 0-1-7-1 8-1-11-2 1-2 9-1-1-3-4-5 6-1-4-1-6-3 11 0-9-2-2-5 10-1-9-3-1-8-2-1 7 0-7-4 14-4-4-1-8-3 8-5-7-2 3-1-6-1 7 0-2 0-1-3 1-5 7 0-2-2 0-1-7-1 5-1 6-2-4 0-6-1 9-1-9-1-1-4 6-1-1-2 5 0 0-3-9-5-2-6 4 0-2-3-4-2 11 0-11-2 6-5 8-2 0 0-2 0-11-4 8-1-5 0 0-1 8-2-12-1 9 0-9-1 4 0 0-1-1-2 8-1 0-2-7-1 2-3 0-1 8 0-10-4 3-1 7-1-8-3 0-1 0 0-2-2 9 0-13-1 3-5 7 0-9-1 10-1-3-2-4-4-3 0 0-1 8-5-4 0-2-3 0-3 11 0-10 0-4-1 3-4 2-3-4-3 13 0-4-2 1-3-7-6-4-2 3-3 7 3 10 1-2 0 6 1-5 0 1 1-3 0 6 0 1 1-5 2-3 1 6 2 3 4-7 0 3 1-4 1 0 2 1 3 5 1-6 2 5 0 2 2-3 1-5 0 10 3-11 3 14 2-14 0 10 1-8 3 6 0 1 1 1 1-2 1 6 3-13 0 10 0 2 1-13 0 8 1 5 5 0 1-9 1 1 3 1 2 5 2-6 2-1 0 0 7-1 0 8 1-10 4 10 1-1 4 2 1-1 1 3 1-13 0 11 11-8 5 0 1 0 2 0 0 1 1 2 0 3 0 3 6-8 1-1 0 1 5-4 0 9 1-3 1 5 2-9 2 9 1-7 0 1 5-3 1 11 2-3 0 0 1-9 0 1 10 10 1-5 3 5 3-9 0 0 1 10 2-13 1-1 0 10 1-7 1 1 4-4 5 8 4-6 1 12 1-12 3 10 1-8 0 2 0 5 1-5 0 2 2-7 5 3 1 1 0 7 5-7 2-2 0 1 0 2 2-4 0 6 0 1 3-8 6 2 0 5 0 0 3 3 6-10 4 2 1 6 0 4 1 0 2 1 7-1-3 8 0-2-3 4-1-4-1-1-1 11-2-12 0-2-1 8 0-6-2 12-1 0 0-1-1-3-1-2-1-4-1 10-1-3-11-3-1 5 0-7-2 8-6-5-1 5 0-13-1 8-1-7-1 3-1-2-3 10-3 1-1-8-4 6-1-6-2 2 0-7-2 10-3-7 0-3-7 12-3-6-2 3-7-8-5 5-2-3-7 1-2 4-3-7-2 1-5 8-2-11-3 0-2 13 0-10-4 2-3 7-2 1-3-13-1 8-2 0-1-3-1 6 0-6 0-3 0-2-1 9 0-2-2-6-3-1-3 6-1 8 0-13-3 11-3-4-7-1-3 6-2-7-2-4-7 4-2 7-1-2 0-9-2 2-1 4-8-1-4 5-2-6-6 5 0-5-1 0-1-2-1 10-1-6 0-1 0-3-3 4-1-1 0-7-1 11-3-2 0-8 0 0-2 11-6-10 16 14 0 8 5 3 1-11 0 10 2-5 0 6 5-1 0 0 1-3 1 4 1-1 0 0 1-2 2-2 1-6 0 0 0 13 2-4 1-8 4 11 1 0 2-5 1-8 1 4 0 1 5 1 1-1 0 1 0 4 1-2 0 1 2-1 1 1 4-8 0 9 1-2 4 5 3-9 2 8 9 1 1-2 0 3 3-6 1-7 1 6 0 3 1-4 1 8 3-8 2-1 1-2 1 1 1 8 1-2 1-7 1 3 5 1 0 0 1-1 1 6 0 1 1 0 2-1 7-11 3 4 1 1 1-1 2 5 1 1 3-2 2-1 1 5 1 0 0 0 3-7 0 3 2 4 2-13 0 11 2-2 1-5 1 10 2-12 2 11 1-1 13-2 1 2 1-7 5 0 1 9 1-13 2 5 1 5 1 1 1-12 2 14 2-11 0 6 1-9 0 1 1 6 1 3 1-2 1 2 2-4 1-2 4 9 1-12 2 8 0 5 1-4 0 2 2-2 1 0 1-5 1-2 1 8 1-7 4 4 3-7-13 16-1 3-1 0-1 3 0-6-7 7-5-4-3 9-3-10-1 6-1-8-2 3-1 7-5 0-6-1-1-2-10 2 0 0-1-1 0-8 0-1-1 3-1 6-1-2-4-8-3 6-3-3-7-3-5 2-10 2-1-3-13 2-2 9 0-11-1 12-2 0-2 0-1-13-6 2-3 10 0-8-3 1-3-2-2 3-2 2 0-6-2 6-2 3-1-4-2-7-3 4 0-1-2 9 0-10-2-1-2 0-6 7-1 6 0-9-2 5 0-9-1 11 0-2 0-4-1-3-1 11 0-1 0-3 0-7-6 10-1-6 0-7-1 14 0-9 0-5-1 11-2-10-2 1-3 1-4 6-9-7 16 21 1 0 2 1 0 4 2-3 2 0 3-3 1 5 3 1 6-7 1 0 5-1 0 6 1-6 0 5 3 2 5-7 2-5 3 12 1-7 1-5 0 10 1-1 5-2 0 1 0 4 1-12 2 7 1-7 2 7 1-3 80-3-88 20-1-3-2 1 0 0 0-2-2-1-1-1-3 11-1-3-1-6-1 10-1 1 0-11-2 4 0-3 0-1 0-2-3 12-2 0-3-5-1 3-1-2-2-6-1 12-5-6 0-3-1 5-5-10 0 0-1 0-3 3 19 25 3-13 3 0 1 3 1 4 1 6 3-4 1-9 0 12 2-12 5 5 0 6 2-3 0 1 3-4 4 7-1 3-2 2-3-1-2-1-2 10-1-3-1 0-2-4-1 3-1 4 0-3 0-5-1-2-4 9-5-7 0-1" fill="none" marker-start="url(#k16)" marker-mid="url(#k16)" marker-end="url(#k16)"/>
<path transform="scale(0.2)" d="M3248 2239l15 3 2 2 5-4 19 7 10 12-21 2-8-6-27-5-7 11-2 13 11-6 31-1 5 2 11 25-13-5-63-4-5 20 7 3 23-3 9-3 9-4 10 2 15-3 12 0 5 3 2-4 10 0 17 10 4 14-41 1-47-10-35 21 14-4 14 7 8 1 37-9 25-2 6 28-93-4-2 4-1-3-6 3-1-2-3-7-1 5-2 4-4-4 0-7-5 7-3 0-1 3-5-5-2 6 0 0-4-5-1 4-2 1-3-9-3 2 0 0-25 8-19 11 0 0 1 2 5-2 3-3 4-4 3 6 3-2 1-7 1 2 0 9 2-7 1-2 0 10 2 0 3-11 5 11 4-10 5 2 0 5 1-7 4-2 7 6 0 2 3-1 9-1 2 0 5 0 3 6 2-7 2 9 4 0 1-6 2 2 3-10 0 14 6-7 7-7 24 8 0 6 12-3 32 0 5-9 12 6 4-5 10 0 1 12-41 4-24 8-4-11-9 6-34-7-3 12-10-2 0-7-2 8-4 3-6-1 0-8 0-5-2 11-7-1 0-4-1 1-6-6-1 12-1-1-3-3 0-2-8 6-1 1 0-3-1 0-2-3-4-1-4-5-1 1 0 0-4 8 0-5 0-6-3 9-2-3-1 8-4-2-1 2-3-14-4 11 0-1-5-4-8 1-5 0-1-4 3 14 6-1 0 9 2-3 2-4 2 5 10 5 2-3 0 2 2-8 0 9 5-6 1-3 1-4 0 4 0 1 9-2 2 0 3 6 3 0 14 2 2 1 3-6 0 2 1 2 1-5 3-4 1 7 1-2 0 3 2 0 8 4 2-2 1-2 1-5 0 10 2-5 2-9 1 1 0 3 1-2 2 12 3-14 2 10 0 4 2-6 0 6 2-9 94 4 17 2-48 10-45 0-24 3-1-1 0 0-1 1-4 4-3-5-1-5-1 6-6 2 0-11-1 8-1 6 0-8 0-1-3-1-1-2-3 5-6-6-4 5-2-5-1 0-5 6 0-2-2 3 0-6-3 12-2-8-6-3-2 7 0-6-2 4-5-6-1 3-4 3-1-2-3 8-1-8-1-6-5 13-5-2 0-11-2 5-1-4-1 2-1-1 7 15 2 1 0 3 2 2 0 3 1-11 0 6 3 0 4-3 5 5 6-3 7 5 2 3 3-6 1 1 1-2 0 4 0 2 0 1 2-5 2-6 3 10 2-3 9-1 2 2 2-1 0 1 1 2 2-9 0 5 2-6 0 9 1-7 0 3 1-1 6 8 3-9 0 7 1 0 2-9 4-2 0 9 4 0 3 0 1-10 5 3 31 8 13-5 37 0 7 7-3 6-6 4-86 2-1 1-11-4 0-1-2 5-3 0-1 3-2-6-5 6-1-11-1 3-2 8 0-5-1-8-2 10-1-2-1-5 0-3-2 9-8-1-2-8-2 10 0-1-3-4 0-2-4 4-3 6-1-7-1 1 0-7-1 7 0-6-2 9-1 1-3-10-9-1 12 21 1 6 4-2 3-7 0 1 0 9 1-5 2 5 4-8 1 0 2 3 0 4 3 0 1-5 0 3 1 0 2-7 1 4 4 3 0 2 3-6 0 6 2 0 1-12 5 1 4 4 1-3 3-1 2 5 2-2 1 4 1-2 6-6-13 17 0-3-8 4-1 7 0 0-1-3 0-2-1 1-6 4 0-1-2 2-1-8-1 0-6 2-1-1-1-4-1 7-2-3-4 0-3-2 9 12 0 1 6 3 2 4 2-5 2 0 1 9 2-12 0 2 1 12 1-5 3-7 0 11 3-12 6 9 2-1 2 0 1 0-11 9-2-3-3 6-1 0-3-4-1 3" fill="none" marker-start="url(#k17)" marker-mid="url(#k17)" marker-end="url(#k17)" opacity="0.85"/>
<text x="628.50" y="520.50" font-size="9.28" text-anchor="middle" font-style="italic" stroke="#000" stroke-width="0.08" textLength="26.30" lengthAdjust="spacingAndGlyphs">Nestin</text>
<rect x="571.30" y="514.70" width="1.90" height="11.70" fill="url(#rg)"/>
<line x1="574.50" y1="514.70" x2="575.30" y2="514.70" stroke="#555" stroke-width="0.35"/>
<line x1="574.50" y1="517.04" x2="575.30" y2="517.04" stroke="#555" stroke-width="0.35"/>
<line x1="574.50" y1="519.38" x2="575.30" y2="519.38" stroke="#555" stroke-width="0.35"/>
<line x1="574.50" y1="521.72" x2="575.30" y2="521.72" stroke="#555" stroke-width="0.35"/>
<line x1="574.50" y1="524.06" x2="575.30" y2="524.06" stroke="#555" stroke-width="0.35"/>
<line x1="574.50" y1="526.40" x2="575.30" y2="526.40" stroke="#555" stroke-width="0.35"/>
<path transform="scale(0.2)" d="M3005 2607l4 0 1-3 1-2 1 5 0 2 1 0 1-7 6 4 0 3 1-5 1-6 0 11 3-7 2-1 0 1 0 0 1 0 1-3 0 8 0 2 10 0 0 0 1-3 6-1 2 4 5-1 8 16 0-3-3-8-1 4-1 0-3 5 0 0-1-11-1 8 0-9-2 5 0-5-1 8-4-2-1-3-2-2 0-1-1 12-2-8-1-2 0-2-1 5-2 7-3-3-1-7-1 12-2-3-1 1 0-2 0-7-1-2-1 9-2-6 0-2-1 5-1 4 0-6 0-1-1 5 0-5 0-2-2 12 0-6 0-6 0-1-1-1-3 0-5 11 0-2 0-5-1 8 0 0 0-1-1 3 0-3 0-11-4 13-1-10-5 6-6 13 0 3 3-3 0 0 5 3 2-4 4-5 0 8 1-1 0 0 3 1 1-9 2 7 0 3 0 2 4-11 0 3 0 7 1 2 1-9 1 7 2-4 1-2 4-4 1 8 5 2 3-6 0 5 1 2 1-11 1 1 0 4 0 3 0 2 0 3 1-13 3 1 1 9 1-3 1-4 3-1 0 8 1-7 0 0 0 8 0 1 1-13 0 1 0 9 1-7 1 7 6-1 1-5 1-4 4 8 0 1 3-3 2-6 0 14 1-12 1-2 0 11 1-6 0 7 0 0 1-1 1 3 2-4 0 1 0 1 11 17-3 0-3-1-1-11-1 8 0-1-2 3 0-2 0-8-1 9-3-6 0-3-1 10-1-9-2 7-1-4-1 3 0-5 0 0-3 8 0-7 0-1-1 9 0-1-1-7 0-3-4-1-2 7-1-1-1 7 0-9 0-2-2 8-2 3 0-10-2 8 0-3 0-6-1 10 0-12-3 5-1 1-1 4-3 3-1-3 0-1-1 0 0-8-1 1-1 3 0-3-1-2-1 12 0-8-1-3-1 4 0-3-2 6-2 5-2-4 0-3 0-1-5 7 0-2-1-5-3-5-2 10 0-3-1-2-1 7 0-9-2-2-1 6-3 5 0-3-1-9-4 9-2-2-3-2-1 3-2-3-2 4-3-7-1-1-1 7-2 1-1 10 1-1 0 6 0 0 0 1 1-4 0 1 2-5 1 6 7 1 1 2 0 0 0 2 0 0 2-2 3-10 0 9 0 2 1 0 1-12 0 1 1 11 1-13 1 4 0 9 1-4 2 2 1-10 2 3 1-2 1-1 0 9 3-1 1 5 3-14 0 7 2 2 0 1 1-1 1 3 3-9 0 2 3 5 0 0 1 0 1 1 1-8 0 5 2 1 1 4 1-3 0 0 1-3 0 2 1-5 0 8 2-7 1-1 0 0 1 9 2-7 0 5 3-11 0 9 1 1 0 3 1-12 1 11 3-4 1 0 1-8 1 10 0 2 2 2 2-6 0 1 1-9 5 3 1-3 5 11 0 3 2-10 2-2 1 9 7-9 6 8 3 16-1 1 0-5 0-3-1-4-1 4-1 7-1-10-5 12 0-13 0 0-2 11-1-2-1-4 0 0 0-2-2 1-1 7 0-4-1 7-2-13-1 5-1 7 0-4 0-1-2 5-1-3-1 3-3-3-2 0 0-5 0-2 0-3-3 14 0-7-3-3-4 7-1-3-1 2 0-10-2 13 0-1-3-10-1 0-1 4 0-4-2 4-1 6 0-12-3 12 0-3 0-8-1 1-1 6-2 5-1-2-1-2-4 3 0-8 0-2-2 12 0-5 0-7-1-2-1 5 0-2-2 9-1-4-1-8 0 0-1 9-2 2-2 3-1-9-4-3-1 8-2 4-1-14-3 9 0-2-3 7-1-4 0-6-6 10-1-12-1 0-1 3-1 8-2-12-2 9 0 0 0-9-2 11-23 14 2 2 12-5 0 2 1-4 3-2 0 7 4-7 2 0 1 2 1-5 3 7 3-5 0 9 0 0 7-4 0 1 0 1 0 2 6-12 1 13 1-12 2 6 3-3 0 3 1 3 2-6 1-2 1 6 1-5 0 3 1-2 2 5 1-9 2 3 2 11 1-6 1 1 4 5 2-11 1 1 0 4 1 0 0 2 0 1 1-1 2-3 2-6 2 2 0 4 1-4 1 9 1-11 0 11 1-5 1-1 3 2 0 4 1-9 3-1 0 8 1-10 0 10 2-5 0 3 0 6 1-11 1 10 4-1 1-6 1 1 0 1 0 4 1-3 1-5 1-3 0 11 3 1 4-13 0 8 1-3 1-5 1 3 0 2 2 5 2 1 2-11 0 7 1-7 0 13 2-10 0 9 1-9 0 1 0 7 1-4 1-4 0 3 1 1 1 0 2-5 1-2 2 15-1 2-1 9-2 1 0-9-5-2-1 12-2-12-3 5-2 5-1 3 0-5-1-3-4 7-1-11-4 0-1 11-1-1 0 0 0-2-2 2-8-10-1 11 0-3 0-2-2 4-1-4-2-6-4 4-1 7 0-4-2-5-6 2 0 0-1 7-1-10 0-1 0-1 0-1-3 14-1-3-1-5-6-3-1 0-1 6-6-8-1 8-1 1-1-2 0-3-1 7 0-9-4 0-1 11-1-6-3-5-1-2-2 3-1-2-1 4 0-1-2 7 0-2-1 2 0-10-2 6-3-2 0-1-1 0 0-2-3 6 0-8-1 11-2 2-1-5 0-9-2 14-5-5-2-6-4 8 0-8-1-1 0-1-3 1-2 11 0-3-1-1 0-2-1 4-3-10-1 1-2 4 0-6-2 6-3 7-3 1-1 0 0-11-4 2-1 0-1 4-2 0-5 3-1-2-7-2-9 6 0-2-7 2-14 15 2-8 3 0 1 0 4 1 1-1 0 2 0 2 1 2 1-8 2-2 1 5 0 4 1-9 1-1 0 6 0 1 1 2 1-1 0 3 2-7 1 8 0 1 2-12 0 3 0 8 2-6 0 2 0 2 3-10 0 7 4-5 0 2 0 3 1-8 3 10 1-8 2 1 0 4 5 3 1-4 1 2 1-2 6 5 1-7 0 7 0 0 1 3 3-10 0 4 1 2 0 0 1-7 1 5 0 1 1-9 0 13 1-4 1-1 1-6 0 4 0 7 1-12 0 5 1-3 2-2 0 6 2-2 1 2 3-5 0 11 4-7 1 0 0 6 3-8 1 9 2-11 0 3 0 9 1-3 3-7 3-4 0 5 0 1 0 6 2-4 4 1 1 1 0 4 7 0 1-9 3 8 3-2 0 0 1 3 4-10 3 2 2 0 2 7 3-7 0 6 2-12 0 1 3 2 1 6 1-3 0 2 1 0 1 2 1-5 0 6 3-11 0 3 9 4 0 7 1-5 0 1 2 1 2-9 1 8 1 1 1-2 4-6 1 8 0 3 1-1 1-2 1-10 1 3 2 4 3 0 0 2 2 0 1 2 0 1 2 1 1-1 1-3 0 3 1-13 0 7 0 2 0 4 3-2 1 1 2-12 0 9 1-3 1-1 0 2 0 4 3-5 2-2 1 0 0 1 0 6 2-1 2 4 1-3-1 7-2 11 0-6-2-3-1 9 0-6-4-7-1 5 0-1-5 2 0-2-1 8 0-8-2-4-2 6 0-1 0-5-1 11-1-6 0-3-1 7 0-4 0-2-1-1-1 8 0-1-2-1 0-1-2 3 0-1 0-9-2 12-1-9-1 6-1-6-6 1 0-1-3 9 0-12-1 12-1-4-3 3 0-5-1 7-1-9 0-2-1 5 0-2 0-6-1 14-1-1-1-3 0 0-2-10-3 7-1 5-1-9-9 11-5-10-1 1-1 2-2-2-8 5 0-3-1-3-1 7-3-5-1-2-5 10-1-6-1-1-2 6-5-2-3-4 0-1-1 7 0 0 0-11-2 1-2 2-2-1-5 3-1 3-7 3-1 1-1-7-1 6-1-7 0-1-1 0-1-1-5 10-1-5 0-6-2 2 0-4-1 1-1 3-5-5-1 9 0-1-2 4-2-2 0-2-2 6 0-6 0-8-1 8-2 2-1 2 0-4-3-4-2 7-1-10-1 7 0-4-1 5 0-6-2 10 0-9-2 9-1 1-1-9 0-1-1 5 0-5-1 2-1 4 0-6-3 4-2-4-1 8-2-1-1-7-2 7-1-6-1-3-3 4-2-2-2 6-1-7 0-3-3 5 5 14 1 1 2 5 1-9 1 2 1 8 3-9 0 7 1-6 1 9 2-6 4-5 5-1 2 4 2 10 1-2 0 1 1-13 0 8 0 5 1-11 0 3 0 8 1-10 0 2 1-1 1 2 0 8 4-2 1-5 3 5 1-11 0 5 1 4 3-10 0 6 0 2 0 1 2 5 1-5 2 1 0 4 2-12 2 1 0 2 1-2 0 3 0 1 1-2 0 1 1-2 2 4 1 6 2-14 0 5 0 7 2-2 1-9 0 1 1 6 1-5 4 5 0 2 1-5 1-4 2 7 3-3 1-2 2-3 1 1 0 3 0 0 1 1 1-2 1 2 0 7 1-5 0 7 1-8 1-2 0 9 1-6 3 1 1-1 3-2 0 1 1-6 0 1 0 3 0 2 1-2 0 9 2-2 2-7 0 4 2 4 1-11 5 7 2-2 2-3 1 1 0 5 1-6 3 9 3-12 0 1 2 0 0 1 1-1 1 5 1 1 0 2 4 1 1 4 1-1 4-4 3-8 0 4 5 3 0 3 1-9 8 4 2 7 1-11 0 3 0 5 3 3 1-8 1-3 0 5 2-7 1 7 0 3 0 3 1-4 3-6 2 2 1 9 2-1 1-12 2 8 1-5 0 5 4-4 1 0 1 3 0 4 2-3 0 4 3-9 1-4 0 0 0 6 1-6 0 13 0 1 2-2 1-2 2 2-2 7-1-1-1 4 0-2-1 3-1-1 0-7-2 5 0-5-1 9 0-4-2 1-3-1-2 4-1 3-3-7-2-4 0-1-1 11 0-2-1 5-3-1 0-2 0-10-1 5-2 4-1 1-1-3-1 6-1-6 0-7-1 2-1 10-4 1 0-8-4 4-2 0 0-7-1 5-2-1 0-4-1 11-2-13-1 10-1-4-2 0-5-6-1 13 0-6 0-3-5 5-1 3-3 0 0-2 0-11-1 8-1-8-2 2-4 0-1 4 0-1-1-3-2 8 0-7-2 0-2 1-1 9-1-5 0-8-2 9 0-8-1 8-2-2 0 0-1 7-1-3 0-6-3 5-3-10-1 3-2-3-1 13 0-5-2-6-7 10 0-8-1 0-1 0-2 0-2 5-1-4-2 0-1 8-2-2-1 1-1-6-1 6 0-9-2 0 0-3-1 3-1 1 0-3-1 6-3 3-1-3-1-5 0 0-1 9-3-6-1-5-6 10-1 0-3 3 0-10-1 8 0-7-1 8 0-2 0-4 0-1-2-4-1 4-2 5-1-4-1-5-2 9 0-2-1 0-1-7-1 6 0-4-3-2-1 10-1-2 0-1-2-8-1 0-2 5-1-1-1 9-1-2 0-1 0-8 0-2-2 11 0-2 0-1-3-2-1-6 6 18 4-2 3 2 1 1 2 7 2-7 0 10 1-7 0 1 1-3 1 8 2-7 0 5 1-11 0 4 1-4 2 2 3 5 1 5 1-2 0 3 1-3 0 0 3-7 0 7 1 0 1-5 0 3 1 6 1-11 1-3 0 12 2-12 0 5 1-4 1 6 0 3 3-8 0 4 0 3 1 1 1 2 2-5 0 2 1-9 2 1 0 8 2-6 0 1 0 8 2-3 1-5 0 6 1-3 2-2 2-2 0 2 1 2 1-3 3 0 1-4 2 5 0 8 2-8 1 4 1-5 1 6 1 4 1-8 1 8 3-12 1 11 1-9 2-2 0 2 0 6 0 2 3-2 1-6 2 0 2-4 1 1 2 6 1 0 1 2 0 0 1-6 1-3 4 5 9 5 1-6 1 1 0 4 5-3 2 5 2-11 0 0 0 3 0 1 1-4 1 12 1-11 0 13 1-7 2-1 1-5 2-1 6 1 0 2 1-2 0 3 1-2 2 7 3-3 2-1 1-1 1-2 2 12 1-12 2 5 3-2 2 8 1-11 0 2 0 5 1-2 1-4 1 2 0 8 3-3 1 0 3-9 1 4 0 5 4-7-18 12-1 0-1 0-1 4-2-1-4 4-1-6-1 5-4-3-2-1-1 4-6-1-52-5-8 6-1-2-1-1-1 6 0-8-1 6-2-3-3 7-1-1 0-2-3 4 0 0-2-11-1 11-1 1-3-6-2 2-1 1-1-9-2 12 0-1-4 0 0 0-2-2 0-6-4 9-3-7-2-2-4 8 0-5-1 1 0-7-2 6 0-3-3-4-2 3-2 11 0-6-1-8-1 7-1-6 4 15 4 0 2 7 1-1 3-4 1 3 1 1 1-5 0 8 2 1 2-6 0 6 2-10 2 11 2-9 0 3 0 8 4-7 1 2 3-9 0 14 1-14 3 2 1 8 3-5 1 4 1-6 3-3 1 0 0 9 0 2 0 2 2-10-2 21 0-1-2-5-3 9-3-7-1 8-1-8-1 6-1-5-5-4-5 0 0-2-1 4 0 0 0-2-2 6 0-4-2-3 0-1-4 3 11 20 2 3 5-11 0 9 1-2 1-5 1 4 3 7 3-13 0 14 1-13 0 6 0 1 0 5 1-10 3-1" fill="none" marker-start="url(#k18)" marker-mid="url(#k18)" marker-end="url(#k18)"/>
<path transform="scale(0.2)" d="M3009 2611l59 23-78 2 88 44 8 0-25 26-26-3-66 2-8 4-11-7-16 6-33 20 5-10 22 8 2-11 33 9 8-6 9-3 13 8 39 1 21-7 18 8 12 17-46 2-62-3-7-3-1 5-51-11-4 8-1 9 8 1 11-4 6 1 48 12 60-8 42 21-54 1-36-8-50 5-6 0-3 8 11 2-4 12-2 0 1 17 14-2 11 6 4 0 1-3 1 22-1 0-9-12-8 11 9 14 2-1 10-9" fill="none" marker-start="url(#k19)" marker-mid="url(#k19)" marker-end="url(#k19)" opacity="0.85"/>
<path transform="scale(0.2)" d="M3250 2608l1-4 2 2 5-7 3 10 1-11 2 1 1 0 4-1 0 10 1 0 0 1 1-5 1-5 0 1 0 5 1 2 6-8 7 7 3 0 2-4 0 7 1-7 7 4 1 2 3 1 15 8-3 1-1 6-2-13-2 0-5 2-4-2-2 9-2-10-1 1-2 10-2 2-4-4-1 1-1 1-2-2-4-3-1 2-1-7-2 12-1-2-1-1 0-4-1 8-1-8-4 4-2-7-5 7 0-3 0-5-1 6-3-6-2 9 0-5 0-4-1 11-4-9 0-3-1 12-1 1 0-3 0-4-1 1-1 3 0-4-4 2-5 4 0-3-8 18 4-5 2 0 2 1 3-1 0 3 3-1 1-9 0 6 0 2 1-9 4 9 0 2 1-8 0 9 3-7 1 1 3 1 0 6 3-6 0 7 5-8 1-3 2 8 3-2 1-1 0 3 0 2 3-13 1 6 1 5 4 3 1-5 4-2 1 0 0 3 2 4 1-9 1 8 3-12 1 2 2 10 1-11 1-1 0 5 0 8 4-13 4 0 2 5 1 8 1-4 0 3 1 0 1-7 4-6 0 6 2 3 1-9 0 2 0 8 1 3 1-6 1-7 0 2 1 4 1 1 5 5 8 13-1-4-2 5-4-9 0 0-2 2-2 1-1 9-1-11-2 11 0-13-1 4 0-1 0-2-4 6-1-3-2-1-1 10-1-7 0-2-1 3 0-1-3 4-2-5-1 0 0-5-1 11-3 1-3 1-1-8-1 8-1-1-1-1-2 2-1-11-3 2 0-1-1 3-1-7-2 12 0-8-3 4 0-3-2-1-1 10 0 0 0-6-4 0-5 0-1-1-2 0-2 2-1-4-1 1-5 0-2 8 0-6-1-6-2 11 0-2-2-4-1 4 0-2-1-6-2-2-1 13 0-10 0-2-1 5 0-1-2-4-1 12 0-6-2-1-1-3 0-1-1 4 0-2-1-1-1 7 0-4-4 2-1-7-2-2-1 2-1 10-1 0-1 2 0-2-1 5 0 3 2-3 0 0 0 6 1-8 3 2 2 6 5-8 1 0 3 3 1 1 0 9 1 1 2-14 0 2 1-1 0 1 0 2 1-1 1 3 1-2 0 4 0 1 1-9 2 11 2 3 1-6 0 4 0 1 1-10 0 1 3-3 1 1 3 2 1 6 1-5 0 1 0 1 1-2 0 9 2-14 0 2 0 6 0 3 2-3 4-5 1 2 1 0 0 1 2 5 0 0 4-9 3 9 6 3 0 0 5-10 0 1 1 3 0 3 1-9 2 11 5-12 0 9 1-1 1-7 0 8 1 1 1 2 3-8 1 1 3 3 1-8 0 3 1 1 3 1 4-5 2 12 2-7 0 7 1-12 1 3 3-4 0 10 3-8 1 12 1-7 1-5 0 8 1 4 1-4 3-4 7 15-2 0-2 5-1 0 0-4-3 4-4-4-3 5-2-11-1 8-1 5-1-14-1 7-1 5 0-10-1 7-3-4-1 8-1-4 0-5 0-3-3 12 0-4-4 0 0-9-4 11-2 1-1-7-3-2-6-1-3 8 0-3-3-4-2 7 0-8-4 12 0-3-1-9-1 2 0-2-2 10 0-1 0-8-1 11 0-1-1-10-3 7-1-2 0-6-3 12-2-11-3 10 0-6-3-7-1 14 0-13-2 13 0-7 0-2-2 4 0-1 0-1-2-7-1 2 0 0-2 2-2 3 0 0-2 6 0-6-3 6 0-3-5 0 0-7-1 5-1 3 0-3-1-6 0-1-3 13 0-8-2 4 0-3-3 3 0-9-1 12-2-7 0-2-2 3-1 4-1-2-1-8-29 26 6-3 0 0 5 2 6-3 4-6 0 1 0 5 0 2 6-8 2 8 2-7 3 2 1 3 1 0 2 1 1-8 2 4 2 7 1 2 1-9 3 3 1-1 0 1 1 3 6 0 4-8 0 10 2-8 4-5 1 4 1 3 0 4 5 3 1 0 1-3 2-5 3-6 2 2 0 1 0 9 1-3 0 3 2-6 0 8 0 0 2-14 0 5 1 6 2-9 2-1 4 12 2-12 1 6 3-1 0 4 1-5 1-5 4 6 1 8 1-7 1-7 1 9 0 4 2-3 0 3 2-4 1-3 0 5 1-8 2 9 2-10 5 1 1-3 0 8 0 5 4 0 2-13 0 9 3-2 2 6 1-6 0 6 1-8 0 2 1 5 0 2 5-6 1-6 1 3 1-5 0 13 1 0 1-5 2 1 1 12 0-4-1 3 0-2-2 3-2-2 0-3-1 2-1 1-1 3-1 6-2 0 0-10-1 7 0-10-1 13 0-4-1-7-3 11-2-8-1 4-1 4-1-9-1-1-1 10 0-3-5-9-1 0 0-1-2 1-1 6-3 3-2-6-1 4-3 5-1-9 0-3-4 3-2-1 0 0-3 5 0-8-2 12 0-1 0-2-1 4-1-10-6 2 0 0-3 2-1 4 0 0 0-1-3-1-4 0-1 0 0-4-1 3-2-2-1-2-2 7 0 0-1-6-1 5-3-2-5 6 0-1-5-11-3 5-2 2 0-5 0-1-1 10-1-1 0-5-2-2-4 6-1-2-2 1 0-3-1 5 0-8-2 0-1 7 0-7-1-1-1 0-1 9 0-8 0-4-1 8-3 4-2-8-2 10-2-1-1-7 0-5-1 2-2 9-1-3-1-2-1-4-2 4-2 5-2-6-2-1-2 0-2 9-1-13-1 6-1 5-1-8-1 6-2-1 0-1-1-2-5-4-1 3-1 2-5-6-7 2-1 7-1 3 0-2-2 0-1-4-2-5-2 12 0-9-6 3-1 6-4-6-6 1-3 3-10 1-9 6 2-1 0 2 2 6 1-1 2 1 2 1 2-9 2 5 0 0 2-8 2 3 2-2 0 3 0 8 2 0 2-1 2-5 0 7 1-10 0 3 1-1 2 3 0 5 1 0 1-12 3 4 3 1 1-6 1 4 0 1 3-1 0 4 0 1 1 2 8-8 1 3 3-5 0 6 1-3 5-4 0 2 0 1 1 0 0 2 1 8 0 1 3-7 2-4 1 1 1 6 0 4 1-7 0 4 1-9 0 10 2-6 2-1 5 6 1-5 1-1 2 5 2-3 1 0 6 2 0 0 1 2 1 2 1-7 1 7 1-2 2-1 1-9 4 9 0 4 4-14 1 13 1-8 0 9 1-4 1 4 8-2 2-7 1 1 1 0 1 7 3-1 1-9 0 1 4 6 3-8 2 1 0 2 0 0 1-3 0 0 2-2 0 12 2-11 0 11 1-1 4-7 2 0 1 3 1-6 0 4 3 1 3-6 3 9 1-3 1-5 0 10 1-6 1 3 1 1 0 2 0 0 2-10 0 3 3 5 4-3 0 3 0 0 1 5 2-4 0 1 1-5 0 0 3 3 1-4 0 3 3 0 1-8 2 8 7-4 0 5 1-2 0 1 1 4 1 1 2-6 2-6 0 13 1-11 4 4 1-4 3 11 1-5 1-6 0 0 1 6 2 3 3 1 0 8-1-6-1 2-1 0 0-1-3 12-2-10-2 10 0-1 0-1 0-1 0-6 0 0 0-1 0-2-3-1-3 9-4-2-1 1-2-1-1-5-1 0-4 1-1 5-4 4-2-6-4 7-2-9-2-3-3 13 0-5-2 5-1-12-1 9-4 3-4-3 0-3-1 4-2-3-1 4-2-5 0-3 0-2-2 0 0-1-3 7 0-8-1 9 0-2-4 4-1-9-3-3-1 2-4-1-1 9 0-6-1 6 0 0-1-9-1 12-2-1-1-1 0-11-1 6 0-2-1 7 0-10 0 0-1 2-1 5-1-4-4 0-2 10 0-3 0-8-1-2-1 13 0-1 0-11-2 1-2 1-1 5-1 0-1 0 0-7-1 2-3 8-1 2 0-6-1-8-1 6-2 7 0-5 0-4 0-3-2 0-1 7 0-1-1 7 0-5-1-9-1 6 0-1-1 8 0-6-2-4-3 8 0-7-3 3-2-2-2 9 0-7 0-5 0 0-1 11-1-3-3-8-1-1 0-1-1 7-1 6-1-6 0-2-1 7 0-5 0 0-1 7-1-2 0-6-3 5 0-5-1 8-4 0 0-9 0-1 0-1-2 10-1-4-1-4-3-5-2 9 0-1-2 1-1 4-2 1 0-10-2 7-1 2-2-13-2 4-3 5-4 5 0-3 0-11-1 7 0-1-2 1 0-1-2-1-1-5-1 0-2 13-3-7-1-6-1 3-1 9-3-9-1 0-1 9 0-3-1 5 0-7-1 6 0-5-1-7-2 11-5-9-1 0-2 2 0-5-1 0-1 1 8 20 2-5 0 4 0 4 4-7 4 10 2-10 0 8 2 4 2-13 1-1 0 3 1 8 2-11 1 11 4-4 1-7 0 4 2 8 2-2 1-5 0 2 0 1 1-7 0 7 1-5 3 1 7 7 0 2 1-7 1 3 1 0 0 2 3-11 1 7 2 2 2 5 5-8 3-2 1-3 3 3 4 4 2 1 1-8 2 12 2-12 2 2 2 9 2-12 1 8 3 0 0 4 1 1 1-12 0 8 1-9 2 13 1-3 5 2 1 2 1-2 1-8 2 3 2-1 0 5 3-8 2-3 0 3 0 10 1-3 1-9 1 3 0 8 1-6 1-3 0 6 1-1 1-7 6 9 0 2 1 1 4 0 1-12 0 4 0 0 1 0 2-3 1 9 1-8 4 8 2-8 1 1 2 0 0 2 0 8 2-11 1 11 2-14 0 3 0 5 1-3 3-2 1 6 1 3 0 0 1-10 1 6 1-5 0 6 1-5 2-3 1 10 2-2 0 4 3-9 2 7 1 0 3-4 0 0 0 7 1-12 1 10 1-11 0 1 0 7 3 5 2-13 0 7 1-3 1 7 0 0 3-6 1-1 0 2 2 7 2-13 0 3 0 8 1-9 0 7 0 0 2-3 3 2 1-5 2 1 1 9 1-7 6 6 4-10 1 2-6 17 0-5-3 9-2-6-1 8 0-13-4 10 0-9-6 6-1 1 0-4-4-4-1 1-1 13-1-11-2 2-2 4 0-1 0-3-1-3-2 11-2-8-2 9 0-12-3 6 0-1-2 5 0-5-2 6-1-9-2 9 0-2-2 3-1-13-1 13 0-8 0-4-2 8-1 2-3-8-1 1-2 1-1-5 0-1-2 9-1-9-1 11-3 0 0-5 0-6-6 8-1-7-6 7 0 0-4 2 0-1-1-1-1 4 0-2-5 2 0-5-1 5-1-8-2 4-5 4 0-7 0-4-4-1-1 3-1 8-3 1-1-6-2 4-2-6 0-4-1 11 0-3 0-1-1-3-2 4 0-1 0-5-2 9-1-9 0-2-1 12 0-8-1 6-2 4 0-2 0-1-1-2-2 4 0 0-4-1-2-3-3 4 0-5-2-4-5 2-3-5-2 8-3 4 0-11-2 0-1 5-2 2-1-4-2 0-1 7-1-11-2 13-2-3 0-4 0-2-1-1-1-2-2 12-3-9-1-4-1 7 0 0-3-1-1 6 0-3-1 0 0-8-1 9-3 1 0-4-1 1 0-1 0-1-1 0 0-6-3 10 0 0-1-2-1 1 0-9-1 12-1-1 0 0 0-11-2 12 0-11-2 5-4-4 14 17 1-3 0 0 0 3 2 3 0 2 2-9 0 8 1-7 0 12 2-11 3 4 3 0 0 3 1-5 1 3 4 1 1-9 1 13 7-10 0 3 0 8 1-11 0 11 3-5 1 3 3-8 0 1 2 7 1-1 1-11 2 5 0 3 1-2 3 3 1-6 2 3 2 1 1 1 1 3 1 3 4-6 1 3 1-3 0 2 2-10 1 1 1 1 0 7 0 1 2-2 0 5 0 0 3-10 2 9 1-9 2 10 1-7 1 4 5-9 4 0 3 3 0 2 1-4 7 0 1 1 4 0 1 1 1-2 1 3 8 0 1-4 1 6 3-4 2 5 3 1 1 2 1-5 1 0 1-5 0 4 3 6 1-7 0 1 0 9 2-5 0 2 3 3 10-11 1 2 0 2 1 4 1-8 0 8 1-5 0 1 3 5 1 1 0 1 3-5 4 0 1-9 2 3 1 9 1-4 0 0 6-6 1-2-16 15-11 1-7 0-72 1 0 0-2 7-1 1 0-2 0-3-1 3 0-6-2 10-5-5 0-2-2-4-1 7 0-1-1 7 0-11 0-3-3 7-2-1-1 7 0-5-1 6 0-14-1 6-5 1 0-2-2 0-2 8-3 0 0-9-3 9-1-10-1 9 0-2 0-2 0-4-2 3 0-4-1 2-2 4-1 5-1-12-2 9-1-2 0-9-1 3-3 5 0-1-5-7-1 3 0-3 9 18 4-1 2 5 4-6 0 11 2-12 8 3 0 2 4 7 2-9 0 11 1-14 2 3 1 5 6 4 1-1 1-10 0 5 1 0 0 7 1 1 1-10 2 1 0 1 2 17-1-1-2-1 0-6-1 8-1-4-1-1-2 5-3 3-1 3 0-4-1 1-2-4-1-2-1 9 0-1-1-3 0-1-1 3 0-4-1 3 0-4 0-3-1 2-2-1-1 5-5-2-1 0 0-7-1 7 13 15 1-5 0 1 0 1 5 4 3-5 1 4" fill="none" marker-start="url(#k18)" marker-mid="url(#k18)" marker-end="url(#k18)"/>
<path transform="scale(0.2)" d="M3279 2599l19 27-20 13-9-12-32 1-5 4 87 9 10 27-33-11-28 5-36 3-6-8 13 23 24 2 57 1-46 7-8-5-11 14-6-10-60 9-34 11 39-6 2 9 1-6 3-3 2 7 2-2 3-8 2 13 2-8 22-4 1 8 117 17-39-4-2-5-10 1-42 0-3 1-20 5-22-3-14-4-1-1-1 7-4-3-7-3 0-2-11 12-1-2-9-3-8 0 0-5-1 0-1 6-5 3-11-4-2-2-10 4 25 20 9-13 13 12 6 0 2 1 9-1 1 0 10-1 4-3 3-7 5 0 0 12 13 0 12-13 45 4 24 2 15 1 10-8 17 15-37 5-106-2-15 11 0-9-4-1-2 10-6-9-10 2-1-5-8 10 0-4-6-7-1 12-16-7 13 23 7-7 4-1 2 8 5-11 0 0 2 6 1-6 15 3 27-3 6 9 26-3 10-7 21 8-41 11-3 3-8 5-15-2-2-10-5 8-13-5-24-3 5 21 6-4 12-2 9 5 0 0 7 0 9-3 2 0 13-4-10 19-1-4-4 14-24-8-5-1-8 0-3-2 16 21 1 0 1-3 7 4 1-8 3 11 5-10 8-1 0 1 0 0" fill="none" marker-start="url(#k19)" marker-mid="url(#k19)" marker-end="url(#k19)" opacity="0.85"/>
<text x="0.90" y="597.00" font-size="22" font-weight="bold">q</text>
<text x="106.50" y="597.20" font-size="12.24" text-anchor="middle" stroke="#000" stroke-width="0.08" textLength="67.00" lengthAdjust="spacingAndGlyphs">Ngn2+shNC</text>
<text x="262.50" y="597.50" font-size="12.16" text-anchor="middle" stroke="#000" stroke-width="0.08" textLength="77.40" lengthAdjust="spacingAndGlyphs">Ngn2+shOlig2</text>
<line x1="34.70" y1="601.00" x2="34.70" y2="751.80" stroke="#666" stroke-width="0.5"/>
<line x1="34.70" y1="751.80" x2="184.70" y2="751.80" stroke="#666" stroke-width="0.5"/>
<line x1="186.50" y1="751.80" x2="337.70" y2="751.80" stroke="#666" stroke-width="0.5"/>
<line x1="36.10" y1="751.80" x2="36.10" y2="753.00" stroke="#666" stroke-width="0.4"/>
<text x="36.10" y="757.20" font-size="5.6" text-anchor="middle" fill="#444" stroke="#444" stroke-width="0.08" textLength="11.00" lengthAdjust="spacingAndGlyphs">−5.0</text>
<line x1="63.80" y1="751.80" x2="63.80" y2="753.00" stroke="#666" stroke-width="0.4"/>
<text x="63.80" y="757.20" font-size="5.6" text-anchor="middle" fill="#444" stroke="#444" stroke-width="0.08" textLength="11.00" lengthAdjust="spacingAndGlyphs">−2.5</text>
<line x1="92.90" y1="751.80" x2="92.90" y2="753.00" stroke="#666" stroke-width="0.4"/>
<text x="92.90" y="757.20" font-size="5.6" text-anchor="middle" fill="#444" stroke="#444" stroke-width="0.08" textLength="9.00" lengthAdjust="spacingAndGlyphs">0.0</text>
<line x1="119.30" y1="751.80" x2="119.30" y2="753.00" stroke="#666" stroke-width="0.4"/>
<text x="119.30" y="757.20" font-size="5.6" text-anchor="middle" fill="#444" stroke="#444" stroke-width="0.08" textLength="9.00" lengthAdjust="spacingAndGlyphs">2.5</text>
<line x1="148.40" y1="751.80" x2="148.40" y2="753.00" stroke="#666" stroke-width="0.4"/>
<text x="148.40" y="757.20" font-size="5.6" text-anchor="middle" fill="#444" stroke="#444" stroke-width="0.08" textLength="9.00" lengthAdjust="spacingAndGlyphs">5.0</text>
<line x1="176.10" y1="751.80" x2="176.10" y2="753.00" stroke="#666" stroke-width="0.4"/>
<text x="176.10" y="757.20" font-size="5.6" text-anchor="middle" fill="#444" stroke="#444" stroke-width="0.08" textLength="9.00" lengthAdjust="spacingAndGlyphs">7.5</text>
<line x1="190.20" y1="751.80" x2="190.20" y2="753.00" stroke="#666" stroke-width="0.4"/>
<text x="190.20" y="757.20" font-size="5.6" text-anchor="middle" fill="#444" stroke="#444" stroke-width="0.08" textLength="11.00" lengthAdjust="spacingAndGlyphs">−5.0</text>
<line x1="218.00" y1="751.80" x2="218.00" y2="753.00" stroke="#666" stroke-width="0.4"/>
<text x="218.00" y="757.20" font-size="5.6" text-anchor="middle" fill="#444" stroke="#444" stroke-width="0.08" textLength="11.00" lengthAdjust="spacingAndGlyphs">−2.5</text>
<line x1="245.70" y1="751.80" x2="245.70" y2="753.00" stroke="#666" stroke-width="0.4"/>
<text x="245.70" y="757.20" font-size="5.6" text-anchor="middle" fill="#444" stroke="#444" stroke-width="0.08" textLength="9.00" lengthAdjust="spacingAndGlyphs">0.0</text>
<line x1="273.40" y1="751.80" x2="273.40" y2="753.00" stroke="#666" stroke-width="0.4"/>
<text x="273.40" y="757.20" font-size="5.6" text-anchor="middle" fill="#444" stroke="#444" stroke-width="0.08" textLength="9.00" lengthAdjust="spacingAndGlyphs">2.5</text>
<line x1="302.60" y1="751.80" x2="302.60" y2="753.00" stroke="#666" stroke-width="0.4"/>
<text x="302.60" y="757.20" font-size="5.6" text-anchor="middle" fill="#444" stroke="#444" stroke-width="0.08" textLength="9.00" lengthAdjust="spacingAndGlyphs">5.0</text>
<line x1="329.50" y1="751.80" x2="329.50" y2="753.00" stroke="#666" stroke-width="0.4"/>
<text x="329.50" y="757.20" font-size="5.6" text-anchor="middle" fill="#444" stroke="#444" stroke-width="0.08" textLength="9.00" lengthAdjust="spacingAndGlyphs">7.5</text>
<line x1="33.50" y1="651.90" x2="34.70" y2="651.90" stroke="#666" stroke-width="0.4"/>
<text x="32.80" y="653.90" font-size="5.6" text-anchor="end" fill="#444" stroke="#444" stroke-width="0.08" textLength="8.00" lengthAdjust="spacingAndGlyphs">2.5</text>
<line x1="33.50" y1="703.80" x2="34.70" y2="703.80" stroke="#666" stroke-width="0.4"/>
<text x="32.80" y="705.80" font-size="5.6" text-anchor="end" fill="#444" stroke="#444" stroke-width="0.08" textLength="8.00" lengthAdjust="spacingAndGlyphs">0.0</text>
<text x="0" y="0" font-size="7.18" text-anchor="middle" stroke="#000" stroke-width="0.08" textLength="43.10" lengthAdjust="spacingAndGlyphs" transform="translate(23.48 673.00) rotate(-90)">Component 2</text>
<text x="187.60" y="767.90" font-size="7.18" text-anchor="middle" stroke="#000" stroke-width="0.08" textLength="43.10" lengthAdjust="spacingAndGlyphs">Component 1</text>
<path d="M131.8 702.7 L137.3 681.9 L143.9 660 M131.8 702.7 L151.5 720.2 L163.6 717 M151.5 720.2 L151.5 729" stroke="#333" stroke-width="0.5" fill="none"/>
<path transform="scale(0.2)" d="M208 3401l1 1 0 0 6 2 1-1 0 0 3 0 1-3 0 2 1 1 0 1 1-2 1 0 1 0 1 0 4 1 0 0 4-4 1 9-1 10 0-6 0-6-1 8-1-3-1 7 0-9-1-1-1 11 0-3 0-4-1 7 0-7 0-6-1 0-1 11 0-1 0-1 0-6 0-4 0 0-1 12 0-9-1 4-1-4 0-3-1 11 0-6 0 0 0-1-1 5 0-2 0-1-1 8 0-7-1 5 0 0 0-5-1 1-1 4 0-6 0-6-1 13 0-8 0-2-1 10 0-7-1-1-1 0 0-3-1 3 0-5-1 9 0-3 0-6 0 0-1 7 0-1 0-2-1 0 0-1-4-2-2 12-4-11 0 0 1 26 1-7 1 2 2-7 3 2 4-2 0 0 0 12 1-8 1 7 1-10 0 5 0 2 2-1 1-6 0 2 0 2 0 3 1 1 0 0 1-7 0 0 0 1 1-4 0 7 2-5 0 2 1 4 1-7 0 4 0 0 0 0 0 4 0 2 0 3 1-13 0 9 0 0 0 1 2-1 0 4 1-2 1-9 0 2 0 8 0 0 2-6 0 7 1-9 4 1 0 6 1-9 3 3 0 4 11 12 0-2-1 9-5-7-4 1-1 5 0-3 0-3-1 6-2 0 0-4-1-9-1 14 0-5-1 4-1-2 0 0 0-8 0 0-1 11 0-5 0-7-1 10 0-1 0-5 0-6-1 14 0-2 0-2 0-5-1 4 0-9-1 1-1 9 0-7-3 11 0-8-1 6 0-1 0-1 0-2 0-6 0-1 0 0-1 4 0-2-1 8-1 3 0-7 0-4-1 8-1 2 0-6-1 2 0-4-1 9 0-2 0-10-1 6-1-2 0-1 0-1 0-3-2 6-1 5 0-1-1 0 0-1-3-8-5 6-6 15 2-3 1-1 1-2 4 1 2-2 1 3 1 1 4 9 1-10 0 1 1 1 0 6 1-8 0 6 0 1 1-7 1-3 0 8 1-9 0 2 1 0 0 2 1-4 1 13 0 0 1-5 0 4 1-5 1-7 0 0 0 6 1-2 0 3 0 4 0 2 1-7 0 3 0 5 1-11 0 4 0 4 0 1 0 2 1-13 1 1 1 4 1-1 0 2 0 1 0 4 1-10 0 10 0 1 1-10 0 4 0 4 1 1 1-12 0 3 1-2 0 9 0 1 1-9 0 6 0 1 0 2 0 1 0 1 1-2 0 2 1-3 1-5 0 5 0 1 0 1 0 2 2-9 1-2 0 6 1-6 0 0 0 4 1 0 0 2 1-4 1 4 1 2 0 3 2-8 4-4 3 0 44 21-18 4-5-6-5 5-6-8-6 11-3-8-2 8 0-7-1-2-1 8-1 1 0-3 0-3-1 2-1-4-2-3 0-1-1 10 0-9 0-2-1 2-1 10 0-1 0-3 0-2-3-6 0-1-1 7 0-1 0-1 0-1-1 5-1 3 0-4 0 0 0-7-2 13 0-12-1 7 0-9-1 7-3 4 0-2 0-3 0 0-1 7 0-9-2 8-2-11-1 13-1-8-1 5 0-8 0-2-1 11-3 0 0-8-1 9 0-7-1 0-2 8-1-5-3 16 1-1 1-9 1 6 2-5 0 2 1 0 1-3 0 2 3-1 1 7 1-4 0 5 1 1 3 0 0 1 1-10 0 4 0 3 1-4 0 2 0 4 1 1 1-9 0 10 1-6 1 0 1 6 2-10 0 1 0 0 2 5 1-8 0 2 0 8 0 2 1 0 1-2 2-10 0 3 0 5 1-2 0 4 1-8 0 2 1-1 0 9 1-10 0 9 0 0 0 0 0 3 1-8 0 8 1-12 2 9 1-10 0 7 0 2 1-3 0 6 1-1 1-4 1-2 3 4 0 3 1 1 4 0 1-6 1-7 0 8 1 0 0 4 1-12 0 6 4 6 2-1 2-1 2-4 2 5 2-10 4 2 8 8 9-5 20 19-12-5-12 2 0-6-2 4-4 3-2 1-1-3-3 7 0-11-3 6-1 3 0-2 0 0-2 3 0-4 0-5-1 4-2 5 0-10 0-3-1 10 0-7 0-3-1 7-3-1-2-4 0-1-1 12-2-5-2 0-1-1 0-7-1 11 0-2 0 0 0-4-1 0 0 0-3 6-5 2-1-6 0-3 0-4-2 13 0-6 0-2 0-1-1 5-3 2-1 3-1-9 0-5-1 7 0-6-1 12 0-1 0-7 0-4 0-1-1 8-1-1-2 4 0-5-2-6-2 3-3 11 0-6-1-7 0-1-1 13-2-4 0-1-2 4-1-12-4 1 0-1-1 2-1 9-3-2-1-6 0 14 7 0 4 11 9-13 0 3 1 6 3-4 5-4 0 1 1 2 1-1 1 8 2-11 0 2 1 9 1-6 1 6 1-9 0 2 1 5 0 0 1 0 1-7 1 3 0 0 1-2 0 2 0 1 1-4 0 1 1-2 0 2 0 2 0 0 0 9 1-11 1-1 0 6 1-6 1 4 0 3 0 2 2-9 0 5 0 5 1-12 0 1 2 4 0 1 1 0 1-1 1 6 1-9 0 9 1-10 1 13 2-10 0 2 0 7 1-12 0 4 1 7 2 1 1-7 1-1 0 2 1-6 1 11 1 1 1-4 1-5 2 1 0 5 1-8 3 4 1-1 1 2 2 4 6 3 3-2 2-1 2-3 0 6 1-12 3 1 1-2 0 3 3-4 0 5 1 9 6-3 4 3 275-2 13 15-20 0-6-2-231 1-16-4-4 6-5 0-3-7-6 3 0-9-4 8-1-7-2 9 0-7-1 4-3 4 0-3 0-6-1 11 0-10-4 8 0 0-3 3 0-3-3-7-1 0-1 3-1-4 0-2-1 3-1 0 0-4-1 13 0-1 0-2-1-6 0-1 0-2-2 2-1 10 0-1 0-9-1 10 0-13-2 8-1-6-1 0-1-1 0 0-2 12 0-12 0-1-3 11-4 0-4-7-2 8-1-9-1 3 0-1 0-2-1 5 0-7-3-1-1 8-3-5-2 9 0-1 0-8-1 10-2-3 0-2 0-7-3 11-1-8-1 6 0-7-1 1-2 7 0-10-1 0-1 12-1-10-4 2-3 2-2 5-3 4 11 8 0 5 5-14 0 10 0 1 4 2 2-8 1 2 3 5 1-6 0 6 3-2 2-7 1 8 3-10 0 10 3 3 3-7 1 5 1-3 0 5 1 0 2-5 1-5 0 2 1-6 1 0 0 4 0 7 1-9 1 11 2-4 2 0 1 5 1-6 1 3 1-4 0 2 0 2 1-7 0 9 3-9 0 7 1-11 0 1 0 1 1 0 0 1 0 5 1-2 0 8 0 0 1-6 0 2 1 4 2-8 1-5 0 0 1 10 1-8 1 3 0 0 0 3 1-8 0 3 1 1 0 1 0 5 0 3 1-1 3-11 0 4 1-4 0 4 0 4 0 4 1-11 1 4 5 7 2-10 5 3 0 2 5-9 1 4 2 7 2-7 1 7 1 2 7-3 4 0 5 4 2-8 1-4 206-2 49 3-34 22-11-1-184-7-11 8-5 3 0-1-9-4-1-7-3 7-1 5-1-4-3-2-2 5-4-1-4 3 0-2 0-1-2-11-1 14 0-3-2 0 0-6-1 9-1-10-3 10 0-8-1-2-1 5-1-1 0-8-1 10 0-1-1 1-1-3 0-1-1 1 0-4-1 1-1 10 0-14-2 10-1-1-1 1 0-3 0-2-1 3 0-8-1 2 0-2-2 8-1-1 0-6-1 11 0-3 0-2 0-6-1 12 0-3 0-8-1 5-1-7-1 0-1 13 0-3 0-9-3 12 0-2-1-7-1 2 0-3-4 2 0-1-1 9 0-10-2 8 0-4-4-7-1 9-1-6 0-3-2 6-1-5 0-1-3 4-3 0 0-4-2 5 0 0-1 6-1-8-1 11 0-5-7 5-5-3 0-2-2-9-22 2 20 13 23 5 5 6 1-8 2 10 3-2 2-10 1 3 2 2 1 0 1-6 0 12 1-6 0 3 2-8 0 6 0 1 1 3 1-11 0 8 0 3 0 1 1 0 1-6 0 8 2-11 1 1 1-1 1 2 0 4 3 5 1-14 0 7 1-2 0 6 1-6 0 8 2-10 0 1 0 6 2-10 0 9 0 5 1-11 0 6 1-9 3 7 2-3 1-2 0 2 0 6 2 0 1-9 0 6 0 1 1-5 0 9 1-6 0 2 0 2 1 0 0 2 2-4 0 4 1-10 1-2 2 3 0 2 0 7 0 0 1-1 0 1 1 0 1-10 0 5 1 2 0 2 2 2 2-10 0 3 0 2 1-3 0 6 1-1 0 2 1-9 2 2 2 2 1-4 0 9 3-2 1 1 0 2 5-2 3-3 6 2 2-8 5 2 14 0 4 5 6 2 88-1 61 0 0 3-12 4-8 1 0-1-17 9-12 3-2-2-1 2 0-3 0-1 0-1-1 3 0-1 0-3-1 5 0-3 0-1-1 4 0 0 0-4-1 0 0-2-1 7 0 0 0-1-1 1 0-9-2 8 0-1-1-12-2 10 0-1-1 4 0-8-1 9 0-6-1 4 0-2 0-2-3 1-4 1-1 2-5 2-3 0-22-3-29-8-1 11-1-9-4-2-4 5-2 3 0-6-4-3-4 9-2-4-1 7-2-13-1 8-1 3 0-2-1 4-2-4 0-5-1 9 0-12-2 12 0-2 0-1 0 0-1 0-1-7-1 8-1-8-1 10-3-11-3 11 0-13-3 10-1-7-1 4-1 1 0-2 0 0 0-1-1-3-1 11-2-12-1 6-2-5-1 2 0-4-1 6 0-6-2 9 0-2-1 5 0-6-1 1 0-7-3 13-1-6 0-7-2 4-2-5-2 8-1-6-1-1-1 9 0-8-2 7 0-8 0-1-1 13 0-1 0-6-1-6-1 3-1-2-2 12-5-11-1 8-1-6 0-3-2 7 0-6-2 1 0-2-1 3-5 2 0-4-1 7-2 0-3-1 0-8-1 10-1-10-2 11-1-4-7 4-20-2-5 5-3 3 9 8 8-9 7 9 4-5 10 0 4-4 1 4 6 0 0 9 4-9 0 1 2-2 2 10 1-8 6 1 1 0 3-6 2 0 1 6 2-3 1 2 0 4 1 1 1 1 1-3 0 0 1-5 0 3 1-2 1 4 1-5 1 0 1-2 0 10 0 1 1-13 0 14 1-12 0 7 1-9 1 2 0 1 0 4 0 5 1-7 0 1 1 3 0 4 1-13 0 1 0 0 0 8 3-6 0 7 0 1 2 0 1-10 0 13 2-14 0 4 3 8 2-10 1 8 0 1 1-10 0 6 0 5 2-5 1 2 1 1 1 0 2-1 0 3 1-10 0 10 2-11 0 11 1-4 0 2 0 2 2-8 0 3 0 2 2 2 1 0 1 0 0 0 0 3 1-5 0 5 1-9 0 5 0 0 0 2 1-8 0 8 0 0 2-6 2-3 0 5 2-2 0 7 2-7 0 1 2-4 1 4 0 7 2-9 1 4 0 4 0 1 2-6 0 1 1 0 1 5 4-14 0 7 1-2 1 3 0 2 0 1 1-1 0 4 3-1 1-3 0 4 0 0 1-9 0 3 0 2 0 3 0 1 1 0 1-2 0 2 1-10 0 10 3-7 1 2 1 3 1 2 0 0 2 0 3-3 1 1 5-8 0 6 0 2 1-6 2 2 1 6 3-1 0 1 1-3 0 3 2-9 0 1 0 6 1 1 2-1 1-10 0 6 0 3 1-5 0 5 1 3 0 0 1-8 0 2 0 4 1-3 1-3 0 2 0 4 1-4 0 1 0 2 1 0 0 1 1 0 1-8 0 1 0 1 0 2 0 3 0 1 0 1 1-10 0 11 1-7 0 3 1-3 0 4 0 3 1-10 0 4 1 3 1-8 0 0 0 2 0 2 0 0 0 4 1-3 1-2 0 1 0 6 0 0 1-7 0 3 0 1 1-9 1-1 0 6 0 3 0 2 1-8 0 8 0 1 1-11 0 2 1-1 0 6 0 3 0 2 1-9 0 5 0 0 0 1 0 4 1-14 0 7 0 4 1-6 1-3 0 1 0 1 0 8 1-12 0 2 0 4 1-5 0 9 0 2 1-12 0 6 0 3 0 0 1 0 0 3 2-11 0 0 0 6 1-5 0 0 0 8 2-5 1 0 1-5 0 1 1 4 1 3 0 1 1-7 0 4 2 8 1-1 2-12 20 2 12-2-43 19-6 0 0-4-4-1-6 0 0 0-2 13 0-12 0 0-1 9 0-5 0-4-1 10 0-10-2 9 0-8-3 2 0-2 0-2 0 0 0 0-1 5 0-3-1 9 0-7-1-2-1 2 0-3-1 9 0-6-1 10 0-13-1 3 0-1-1 9 0-4 0-2 0-4 0-1-1 3 0-3-1 6 0-6-1 11 0-7 0 0 0-1 0-4-1 6 0-2 0-1-2-1-1 4 0-3 0 0 0-1-1 2 0-1-1 6 0-1 0-5-1 9 0-12-1 4-1 10 0-2 0-3 0-1 0-1-1 6 0-6 0-4-1 6 0-2 0-4 0-1-1 5 0 0 0-1-1 6 0 0 0-12-2 13-1-10-1 10 0-8 0-1-1 2 0-1 0-2-1 8 0 0-1-1 0-8-1 7-1 5 0-11 0-3-1 9 0-7-1 3 0-4-1 8-1-3 0-1 0-2 0-1-1 4-1 1-1-5-1 4-1 1-1-1-1 6 0-1 0 0 0-1 0-6-1 4 0-1 0 0 0-1 0-5 0-1-1 12 0-5 0-1 0-4 0 0 0-2-1 12 0-9-1 7 0-4-1 4-1-10-1 13 0-3-1 0 0-3-1 6 0-7 0 0-1 4 0-7-2 11 0-1 0-1 0-3 0-1-1 6 0-5-1 0 0-8-2 13 0-3 0-6 0-2-1 10 0 0 0-9-1 0-1 4-2-2 0-5-1 12 0-4 0-2 0-3 0-1-1 5-1-5-1 9 0-2 0-8 0 0-1 9-1 3 0-9-1 5 0-1 0-3 0 0 0-5-1 11 0-1 0-10-1 13-2-4-1 3 0-5-1-7 0 0-1 11 0-2-1-1 0-6-1-3-1 12 0-4 0-3 0 0-1-2-1 1 0-2-2 0-1 3 0-4-1 8 0-3-1 0-4 6-1 1 0-13-1 5-1-3 0-1-1 1-3 3-1 0 0-1-4 3 0-4-3 4 0-4-1 1-4 1-10 9 0-9-3-5-1 2-16-2-2 6-41-4 36 18 20-3 1 2 12-4 10 6 13 7 1-11 3 5 1-5 0 1 2 6 8-5 1 1 3-3 2 1 1-1 5 11 1-13 2 0 0 11 1-2 0 1 2-10 0 0 0 14 1-6 0 5 3-11 0 1 1-2 4-1 0 9 1-9 1 4 0 3 2-6 4 0 0 3 1-4 1 3 0 1 0 1 0 1 3-5 1 2 3 5 1-8 1 1 1 7 0 3 3-10 0 9 1-7 0 2 2 0 0 4 1-2 1-4 0 6 2-9 0 7 1-5 1 4 2 0 1-2 3-4 0 0 3 3 7-2-34 19-2-1-15-3-14 5-30 5-5 0-14-10-1-1" fill="none" marker-start="url(#k20)" marker-mid="url(#k20)" marker-end="url(#k20)"/>
<path transform="scale(0.2)" d="M217 3337l6 8-13 11-4-2-9 6 6 3 0 6 3 0 3-8 3 6 21-2 5 17-6-5-4 11 0-8-1 5-1-10-1 7-4 7-2-2-1-3-4 5 0-3-1 3-1-1 0-4-2-5-2 6-1 2-1 0-2-4-7-2-1 1 4 11 5 6 4-1 3 5 1-2 1-2 0 2 2-9 1 4 0 8 0 0 2-9 1-5 0 10 0 2 1-3 1 2 1-8 0 9 0 1 1-7 0 1 1 6 1-8 0 3 0 4 1-4 0 4 0 1 2-1 0 1 2-2 0 3 1-12 0 12 0 0 3-4 0 4 2-10 0 10 1 0 8 14-9 0 0-8-1 9 0-6-3 1 0-2-1 1 0 0 0-4 0-3-1 11 0-8 0-4-1 14 0-5-1 4-1-5-1 3 0-8-1 8 0-4-1 2 0-6-1 4 0-2-1 3 0-8-1 6 0-6-2 14 0-12-1 6-2 2-3-5-1-3-4-1-1 2-2 7 1 7 6 5 1-5 3-1 0 2 2 6 1 2 0 2 1-10 1-3 0 13 3-11 0 0 0 2 0 1 1-1 0 7 1-10 0 11 0 1 1-10 0 2 1-2 0 3 0 2 0 1 1-2 1 5 3-7 0 2 0 5 1-11 0 10 0 2 1-5 0 6 1-13 2 6 2-3 0 6 6-5 13 18-14 0-1 0 0-7-1 6 0-5-1 9-1 3-1-11-1 8 0-4-2-2-1-2-1 11 0-1 0-13-1 10 0-2 0-7-2 10-1-11-2 6-1-3-3 1-1 9 0 0-1-5 0-3-1 2-1-5-2 4-3 0 0-1-4 6 10 8 1 9 3-10 0 2 1 8 1-3 1-8 0 6 1 6 1-4 1-7 5 7 0 1 1 2 2-13 0 1 3 4 1-5 0 2 1-2 6 1 0 8 0 1 10 18-5-10-4 0-1 5 0-3-3-4-2 8-1 1 0-9-4 6 0-3 0-3-1 8-2 5-3-11-4 0 0-1-7 2 21 17 5-1 3 3 0 1 24 17-1 0-1 1 0-9-3 6-9-8-2-1-6 1 9 14 17 0 2 1 2 6 2 1 30 16-3 0-11-6-5-3-6 5-1 1-6-1 31 13 5 7 4-4 3 4 6 12-6-3 13 15 67 3 3 0 23 5 24 5-4 8-7-5-14 1-1-3-3-2-3 3-8 4 0-6-8-2-19 6" fill="none" marker-start="url(#k21)" marker-mid="url(#k21)" marker-end="url(#k21)"/>
<path transform="scale(0.2)" d="M715 3206l15 30 0-5-3-4-20 12 9 8 10 3 3 2 4-7 1 9 3 6-4 9 0-14-5 1-2 9-3 3-5-9-4 9-1-3 6 17 3-11 2 14-3 12-4-2-17 19 25-7 3 7-16 12 0-4-2-5-4 2-7 14 1 3 11 17-6 1-12 3-16 16 9-12 15 3 7 8 4-7 2 22-18-3-1 2-11 2-2-4-1 7 11 11 10 10-13 5-12-3-13 12 21-6 5 7 1 3 10-5-32 34 2 20 5-4 2-1 5-1 10-8-15 29-8-12-6 3 0-3-10 3-23 24 4 0 33-5 33-1-14 11-11-3-7 0-12 1-3 10-2-1-23 3-7 0-34 14 28-11 1 1 0 7 2-3 1 4 1-5 0 5 2-7 3 1 8-3 2 6 1-5 3 1 9-4 2 6 29 5 3-8 0 8 6 3 2-10 7 8 24 4-3 7-8 6-5 0-7 0-5-6-1 5 0 0-4-2-4-2 0-7-1 2-17 8-7-5-2 2-23-5-4-1-10-2-4 13-1-5-3-5-2 10-2-10-1 9-2-11-4 12-1-9-6-1-5 4-6 6-3-14-45 26 21 1 4-4 4 5 2 0 3-10 10-2 14 2 27 0 7 5 48 5 9-4 3-4 6-4 5 3 1 10 5-3 2-5 3 8 2-12 3-1 1-1 3 8 4 5 10-7 4 8 77 10-1 0-2 4-51-2-13 1-1-1-3 2-1-4-9-6-2 9-2-4-3-7-6 8-8 3-6-3-6-9-5 5-3 7-117-9-2 3 0-2-18-4-1 11-2 2 0-4-4 3-5-10-1 1-3 7-16-8-1 7-1-6-9 2-26 19 2-6 4 6 0 1 17-3 10 6 2 0 1-9 13 2 0 3 14-8 4 1 152 9 6-9 7-1 8-1 4 3 2 2 3 9 13-12 0 2 4 2 9-4 12 5 12-3 0 8 14 2 3-13 3-1 1 0-2 17-40 7 0-8-4 2-9 5-29-2-207-3-4-3-10 3-12-2-2 5-1-6-2 14-4 0-2-8-1 1-7 5-1 1-2-8-1-5 17 21 8-6 1 13 298 16-32 9 14-6 1-2 2 4 5 2 21 10-6 7-3-8 0 0-5 7 0-4-2 0-2-3-2 6-1-4-1 5 0-1-1 7-2-4 0 0-2-1-1-3-2 8 0-7-1 1-1 3 0 0-2 0-1-3-2-6-5 4 6 14 0 4 2-7 1 8 3 4 1-6 3-7 2 10 0 0 6-3 6-6 16 1-29 29" fill="none" marker-start="url(#k22)" marker-mid="url(#k22)" marker-end="url(#k22)"/>
<path transform="scale(0.2)" d="M814 3044l-37 38-1 4-5 1-23-4-3-7 7 15 4-1 16 12 8 2 17-13 1-1-13 15-12 6-7 6-4 0 0-7-19-4-6 4-5 9 8 11 4-2 1 3 1-7 24 3 16 0-1 9-7 4-18-2-3 10-1-7 0-4-6-2-6 8-4 1-4-7-23 13 26 4 2 3 0 1 11-3 0 3 11 1 22 1-21 16-15 0-1-5-5 5-1-5-1 7 0-9-1 0-12 9 0-1-11 15 2-1 0 1 7-5 9 7 4-13 1 4 1 1 2 6 0 0 2-4 0 5 3-11 1-1 0 2 3 10 12-7-11 11-2 1-1-1-2 1 0-3-1 12-1-7-9-5-4 0-14 13 0-8 0 0-8 0-39 20 39-5 2 9 2-10 11 6 5-4 0 3 1-6 0 4 0 4 1 1 1-10 4 3 1 8 2-7 0 7 1-8 4 8 1-1 5-4-13 19-2-3-5-7-3 5-7-4-2-1-1 7-2-3-14 6-2-7-5 9 8 2 1 1 3 2 5 2 11-6 1 0 1 0 8 10 12 13-5-8-4 11-13-10-1 4-25 2-17 22 39 14-68 91 29 7-9 8-11-12 0 26 4-9 10-1 6-1 10 29-46 0 187 54 5 3-2 2 11 26 3-8 11 17-26 0-5 4-7-6 8 15 10 3 3 8 11-6-10 9-5 9-3-7-2-3-6 7 0-5-2 4-2-4-4 3-6 1 6 16 14-4 5 3-7 17-14 24" fill="none" marker-start="url(#k23)" marker-mid="url(#k23)" marker-end="url(#k23)"/>
<path transform="scale(0.2)" d="M781 3655l12-9 11 21-9-7-17 27 4-10 7-1 2 10 4-2 0 2 10-4-8 8-1 6-1-3-9 1-1 4-3 4 0-5" fill="none" marker-start="url(#k24)" marker-mid="url(#k24)" marker-end="url(#k24)"/>
<path transform="scale(0.2)" d="M472 3628l3 1 5-6 9 8-13 0-4-1 271 58 67 5-8-1-3 5-2-4-2 11-1-1-1 0 0-6-1 6 0-6-1 3-1 4-2 0-2-2-1 0-1-2-1-7-1 3-1 6-1 1-3-8-3 2-5 5-4 0 0-2 0-5-3 3-15-6 19 14 3 8 2 4 2-3 1-10 0 1 4 1 0 3 1 1 1-6 2 10 0 3 3-2 7-11 11 6-36 9" fill="none" marker-start="url(#k25)" marker-mid="url(#k25)" marker-end="url(#k25)"/>
<path d="M283.6 701.2 L290 668 L299.2 650.6 M283.6 701.2 L306 720.6 L316 718 M306 720.6 L306 727" stroke="#333" stroke-width="0.5" fill="none"/>
<path transform="scale(0.2)" d="M1440 3343l3-2 17 3-5 7 0-4-2 5-6 6 0-3-4 3 0-4-4 2-20 15 3-4 11-2 2 4 22 4-9 4-4 8-1 3-4-13-1 3-1 10-460 16 7-4 0 3 2-4 0 3 5-4 0 4 451-6-3 11-1 6-5-1-2-2-432 5 0-7-3 5-1-1-1 6 0-3-3-7 0-3-3 7 0-7-2 7-1 2-3 2 0-2-1 0 0-1 0-6-4 3-1 3-2 20 5-1 1-11 2 11 1-12 0 9 1 0 2-2 0 6 2-13 1 0 0 1 0 0 0 9 1 0 0 3 2-10 2 11 1-13 0 5 5 7 2 0 2-1 418-7 4 5 0 2 2-4 9-2 3 20 0-11-5 2 0 0-6 12-8-6-413-7-4 10-1-3-1 3-4-11-1 1-1 13 0-3 0-2 0-3-1-2-1 10 0-3-1-9-1-2 0 0-1 5 0-4-1 13 0-1 0-1-3 0-1-7-1 9 0 0 0-7 0-2-2-3-1 4-1-4-2 12-1-3 10 13 0 3 1-11 0 5 2 4 0 1 2-7 1 8 2-3 0 4 1 0 1-8 1 1 0 4 0 3 1 1 3-5 0 2 0 1 3-7 3 5 0 1 419 3 2-13 0 3-4 15-4 7-8 2-386 1-3 0 0-8-7 3-1 5 0 0 0-6-2 4-1-6-1 3-1-1-1 3-2 1 0-4 0-5 0-2 0 0-1 10 0-7-1 9 0-6 0-7-2 10-1-6 0-2-1 4-1 4 0-7-1 0-2 4 0-4-1 10-2-6-2 2-9-2 5 8 5 1 2 2 1 4 3-5 2 6 4 0 1-8 1 11 1-9 1 10 2-11 0 9 1-6 1 5 1-2 2-7 0 0 0 9 2 2 1 2 1-12 0 5 2 7 1-3 1-4 0 2 1 2 1-10 0 4 4 4 7 2 2-3 352 7 17-4 4-4 2 4 4-7 0 0 11 11 15-5-13 7-6 6-14-1-4 4-1 3 0-8-1 6 0-4-1-2-1 9 0-3-1-3 0-2-3 6-2-1-1 2 0-3-2 0-3 1-1-1-17 4-18-3-2 3-267-8-2 5-23 2-4-13-1 11-2-10-11 6-1 6-2-6-3 7-2-4-1 4-1-2-1 2 0-4 0-5-2 5-1 2-2-4-1 5 0-8-1 6 0-5-1 6-1-2 0-3-1 1 0 0-2 2-3-5 0-3-2-1-4 6-3 3 0-7-2-3-3 1-1 9-9-8 21 19 0 3 6-8 1 0 1 6 4-7 6 5 1 5 3-5 1 0 1-2 0 5 3-1 1-2 2 3 2-7 1 7 7-3 1 6 4-6 2-5 2 9 4-2 0 0 18 5 261 2 13-3 5-4 0 7 1-8 5 0 1 7 1 0 0 1 2-6 2 4 0 1 0 0 1 0 1-3 1 0 1 1 1-6 1-1 1 4 0 4 0 1 1-7 1 2 1-7 0 7 0 2 1-1 0 3 1-10 0 5 0 6 1-4 0 3 1-9 0 1 1 1 2-1 0 3 2 3 2-9 0 3 1-1 0 0 2 5 1-8 2 9 0 1 1 1 1-8 0 3 0 2 2-7 5 1 14 3 37 13-16 9 0-9-6 7-11 1-1 3-7 0-1-12-9 12-1-8-1 7 0-2-1-6-1-3-8 2-3 2-1-5-2 3-1 4 0-7-1-1-3 9 0-7-8 0-2 0-1 2 0-3-2 6 0-3-1 8 0 0 0-6 0-4 0-2-1 9-1-2 0-7-1 10-1-5 0-1 0-4-1 9 0-7-1 6-1-3 0-3-1 9 0-6 0-1-1 8-1-5-1 6-1-10-1 5-2 5 0-2-1 0 0-7-1 10 0-2 0-1 0-6-1 8 0-2-1 0 0-5-2 6 0-1-1 3 0-4 0-2 0-1-1 6 0-4 0-1 0-1 0-2-1 3 0 0-1 6 0 0 0-3-1 1-1-12-1 6-2 8 0-1 0-5-2 3-1 1-1 2-1-1-1-4-1 5-2-1-4 1-239-9-5 2-3-1-5-1-1-4-1 5 0-2-3 7-1-8-1 10-1-4-1 3-2-3-1-9-3 0-1 2-3 11 0-5-5-5-2-2-1 5 0-5-1 11-1-1-3-3-1 3-1-10-1 8-2 5-2-13-1 3-1 10 0-11-1 1-1-4-4 10 0-4-1-5-1 8-3-5-1 3-1-7-1 6 18 15 0 3 4-7 1 12 3-7 1-7 0 7 0 4 2 2 2 0 1-13 0 1 0 8 1-1 1-7 0 12 3-6 1-4 0 2 3-5 0 10 2 3 3-10 2 8 1-10 2 11 3 1 1-4 0 1 3-8 2 4 2-2 1 1 0 2 1-4 6 11 5-1 206-1 4 2 4-1 4-12 1 3 1 4 1-3 0 8 2-9 0 10 1-8 3-2 0 9 1-11 0 2 0 2 1 6 3 1 2-13 0 3 1 4 0 3 0 4 1-11 1 7 0 4 1-5 2 0 0 2 1-10 0 5 2-4 1 3 2-5 0 1 1 0 0 10 1 2 1-8 2-5 0 1 1 5 1-4 0 3 14-1 1 0 7 0 5 1 1 3 2 3 4-9 2 0 1 2 3 4 26-6 2 0 3 5 2 6 4-2 2 1 2-3 1-2 2-3 10 5 0 4 1-11 7 3 8 0 2 1 44 22-21-8-1-1-5 1-4 2-1 5-1-8-17-2-10 5-3-6-6 8-2 2-5-8-6 6-7-8-3 1-2 9-68-4-12-3-4 5-1-7-1 0-2 5-3-1-1 2 0-5-1-3-1 0-2 4-2 0-2-4-2 10 0-5-1 8 0-11-2 11-1-3-3 3 0-1 0-9-1 10-1 1 0-6 0-2 0-5 0-1-1 10-1-4-1 7-1-2 0-8-1 3-1 7 0-9 0-4-1 8-1 5 0-8 0-3-2 5-1 4-1-5-1 1-3-2-2 2-3 3-2 2 0-1-124 3-9-2-1 1-7 1-10-4-15-4-2-2 0-1-4 2-1 2-3 3-1-10-2 5-1 4-4-8-1 8-1-3 0-3-1 2-1-4 0-1-4 5-1-2-1 2 0-2-3 11-2-13-4 7 0-6-6 8-4 1 0-9-5 10-3-9-3-2-1 0-1 3 8 11 8 6 2-1 6-3 0 4 1 0 1-2 2 0 1-2 4-2 1 13 1-10 1-3 0 6 4 5 2-6 3 1 3 0 2-3 0 7 3-4 2 0 2-2 0 0 0 7 3-7 2 1 1-1 0 4 1 6 2-1 4-13 0 5 1 4 2 1 1-1 1 1 1 1 1 1 2-12 3 14 2-5 3-6 4 7 4 3 6-7 80-5 0 12 10 0 10-5 1 1 1 3 1-3 3 5 3-8 0 2 1-7 0 11 1-9 7 0 1 1 2 2 0 1 1-2 3 2 0 3 0 1 1-5 2-2 1 7 1-4 1-7 1 5 0 7 1-10 0 3 0 7 0 2 5-12 1 8 1-4 2-1 1-2 1 0 1 8 2-9 4 3 1-3 0 1 3-3 1 0 69 0 60 2 3-2 3 1 2 2 7-2 6 0 7 3 6 6 1-1 1-6 11 10 3-2 4-9 8 8 0 4 1-12 0 10 25-3 6-2-10 19-2 3-5-3 0-8-1 6-4-2-5 7-1-3-1 0-12-1-7-7-1 8-3-1-1-2-14-6-174 6 0-7-7 8 0-7-2 1-1 4 0-5-1 1-2 2-1-2-2 6-1 1 0-8 0-2-5 2-1 3-3 8 0-2 0-2-3 5 0-13-1-1-7 2-1-2-1 6-1 1-1-4-2 5 0-8-1 5-2 4 0-7 0-1-1 1-1 6-1 6-1-1 0-5 0-1-2 6-1-8-2 6-2-6-2 1-1 6 0-7-1-5-1 1-3 2-2-2-2 0-3 9-1 4 0-3-1-5-11 4 0-4-1 4-8 3-4 0 0 0 0-6-3 7-5-9-2 8-8 1-4-5-2-5-8 5-2-1-1 0-3 3 0-2-1 2-1-6-7 3-5 1-1-7-2 1-2 4-1 2 0-2-1-5-1 7 0-3 0-3-1-3-2 14-2-5 0 0-5 1-1-10-3 6-3 8-1-3-4-2-2-8-3 11-1-4 0-3 0-1-3 3-1-7-1 5-6-3-1 1-1 3 0-6 5 29 3-1 1-12 3 7 21 2 3-5 2 3 1 0 1 6 1-3 1-9 3 0 2 9 1-1 0 4 7-14 1 6 1 8 3-7 1-2 2-1 4-4 6 3 1 2 2-2 3 3 0 0 1 1 1 7 3-6 1 4 1-12 0 6 0 2 1-8 1 7 0 1 2 1 3 1 0 2 1-3 1 1 1-4 0 1 0 4 0 3 3-5 4 2 1-7 0 1 5-2 0 9 0 0 2-7 0 2 0 2 1-3 1-6 1 11 2-10 0 8 3-9 0 9 2-5 0 1 2 3 0 6 2-3 2-7 1 6 0 1 1-10 1 0 0 3 0 2 3 2 0 0 2-1 1-5 0 10 1-1 3-5 0 8 3-5 2-6 0 6 3-6 0 2 2 6 2-11 0 8 2-4 0 5 12 0 4-9 227 5 13-2 1 0 0 4 6-6 3 3 3-1-14 15-265 6 0-6-10 3-6 6-4-5-5-3-1 7-4-6-4-4-9 3-2 4-5-8-13 13 0-4-2-2-2-6-1 10-3-10-1 3-1 2-1 6-1-9 0-2-2 2 0-3-7 9-12-7-3 4-9-4-4 9 52 17 2-5 27-5" fill="none" marker-start="url(#k20)" marker-mid="url(#k20)" marker-end="url(#k20)"/>
<path transform="scale(0.2)" d="M1488 3194l4-11 5 9-6 13-2-3-5-3 0-3-3 9-2-3-3 3 0-1-3 5-9-3 0 6 1-1 1 10 4 2 1-6 3 6 2-11 3 0 4 5 1-5-6 18-1 7-2 0-2-8-1-4-1 1-1 6-2-1-4 3-19 18 1-2 7-4 4-3 2-3 0 0 0 4 3 0 1 7 13-9 1 4-13 12-1 1-8-2-1 1-21 17 8-4 10 4 2 2 1 5 8-2 3-3-6 13-3-3-1 0-3 9-2-4-5-1-6 23 2-2 0 1 1 0 10-2-18 7-3 2-3-3-10 16 4 0 7-3 1 14 5-8 6 1 11-5-1 15-1 8-6 1-6 2-4-13-1 11-10 1-443-9-1 10-2-5-3 1-7 19 1-13 2 11 3-1 7-4 0 1 3-4 1-1 6 10 1-1 428 0 15-3 12-6-449 24-2 2-2 1 0-11-2 3-1 7-1-8-1 2-1 4-2-7-2 4-1 6-4-7-1 6-3 1-4-3 0-8-1 2 1 15 1 4 1 1 2-2 2-2 3-3 1-3 0 2 0 11 1-10 3 1 0 2 1-1 0 3 0 5 1-9 0 0 1 9 2-3 1-8 0 1 0 1 0 6 1 0 0 4 1-10 1 2 0 3 1-1 1-6 1 8 0 3 2 0 4-8 1 8-3 16 0-2-6-2 0-8-1 11 0-6-1-2-1 8 0-10 0 0-1 1 0-1-1 1 0-3 0-1-1 14 0-13-1 12 0-1-2-6 0-3-2 6 0-2-2 5 0-1 0-5 0-3-1-1-1 8-1-3 0-3-1 4-5 10 7-2 1-1 1 1 0 1 0 3 1-4 1 3 0 6 1-6 1-4 0 0 2 4 1 2 3-6 0 2 1 9 2-11 0 6 1-4 0 12 1-10 2 0 0 6 1-10 1 1 2 5 0 5 7-9 4 23-5-10-1 4-1 7-2-11-2 13 0-10-1 4 0-2 0-4-2 5-1-5-2 5-1-5-1 7 0-3-2 4-2-8-4 11 0-3-2 0-1-4-11 3 8 8 9 5 5 1 6-3 16 10 5 10-10 1-2 1-8-2 9 15 12-8 373 10 8 8 0-4-3 5-20 8-324-3-5-10-2 13-5 0-4-4-2 3-7-8 7 13 4 12 6-6 4-5 14 10 307-11-20 17-22-2-249 13 2 2 0 4 2-3 16-1 16 11 159 1 14-4 21-3 3 1 0 3 25-11-45 25-39 0-133-2 0-2-6 1-2-1-15 2 15 11 11-2 1 2 4-2 142 10-49 12-97-8" fill="none" marker-start="url(#k21)" marker-mid="url(#k21)" marker-end="url(#k21)"/>
<path transform="scale(0.2)" d="M1510 3192l-5 10-16 3-1 3-9 4 6 5 12 5 5-9 2 4 0 4 1 5-3 8-9-7-6 12-5-12-4 5-6 5 0 8 8-1 1 6 3 0 1 4 1-6 3-6 1 11 11-11 11 0-13 15-22 26 37-6-30 17-7 2-2-3-27 19 5-3 11 9-1 8-21 16 11-6 14-2 11 6-13 12-3 15 2-6-24 25-13 17 15-10 2 8-12 22 17 29-4 71-17-4-4 4-7 7 1-5 4 3 1 2 1-5 9 7 3-6 3 4 9 1 3-5 3 9 4 2 1-2 0 3 17-4 143 18-4 1-117-6-21 5 0-5-1-4-13 2-2 6-2-3-11 4-11-10-5 0-16 7-8-3 0-4 7 26 8-5 1-7 11 3 7 5 1-1 3 0 3 0 5 2 7 4 1-6 6-6 0 6 0 3 1-11 0 7 1 5 6 1 1-7 0 5 4-10 1 3 4-4 9 8 0 5 3-7 88-4 38 27-2 0-11-5 0-2-3 4-1-10-12 11-1 2-5-1 0-10-7 8-44 0-3 0-14-9-14 0-1 12-1-14-3 14-4-14-22 8-1-6-7 4-2-3-3 8-1-5-1-6-1 2-4 1-2-1-6 4-11-6 31 20 2-5 2 9 0 1 12-7 9 9 3-5 1-2 5-3 0 8 2-4 9 5 3 1 4-5 0 0 2-7 3 4 4 7 1-10 4 8 1 0 4-6 31 8 7-9 0 5 1 1 1-6 6 8 1-6 4 10 2-6 8-3 1 4 2-7 2 5 1-3 0 7 6 2 9-1 4-11 3 9 3 13-16-7-4 6-3-2-6 5-3 1-3-8 0-3-1 13-4 1-1-10-2 10 0-7 0 0-2 5 0-2-4-3 0-6-4-1-3 3-3 8 0-5-2 6-2-8-40 1-2 0-3 7 0-11-8-1-1 0-2 2-12 0-7 1-10 4 0-5 59 23 31 3 2-5 3-3 6 0 0 1 0 6 2-3 5-1 2-4 0 6 1-6 0 3 3-5 0 9 1-11 0 9 3-8 1 6 3 0 2 3 1 0 7-9 1 6 2 3 8-8 6 13-6 7 0-4-13 1-1 9-6-8-4-3-1 0-4-1-1 7-10 3-4-6 0-4-1 5-6 6-9-1 0 0-11-2-4-1-2-4-3 10-2-1-3 1-1-14-2 1-1 5 0-2-8 10-3-2 0-2 7 8 3 10 6-13 0 2 1 5 2 7 1-7 1-7 8 10 8-4 7-3 6 1 9-3 0 2 4 1 7-4 4 0 4 1 6 0 1 4 2-5-33 23-17-3-14 2-7-6-2 10-2-5" fill="none" marker-start="url(#k22)" marker-mid="url(#k22)" marker-end="url(#k22)"/>
<path transform="scale(0.2)" d="M1596 2997l-2 6-14 11-9-4-4-10-14 9 33 20 2-3 18 2 6-12-21 22-6-6-10 5-3-1-15-1-14 5-3-1-18-8-9 24 12 1 13-3 2-7 4 11 6-6 15-4 25 7 14-4 16 13-5 2-4-4-5 0-17 4-2 5-14 0 0-3-5-3-3 6-1-4-1 4-2 4 0-6-12 6-7-2-20-11-22 13 1 9 0 5 7-1 13-11 8 11 5 1 2-3 1-10 20 10 6 4 2-10 0 3 2 1 5 0 5 3 9 2 2-8 0 2 2-1 3 7 1-2 8 1 7-3 5-6 0 10 18 14-18-3-3-8-4 10-6-5-3 6 0-7-1-2-2 1-2 7-4-6-9-5-3 2-2 3-2 0-1-3-1 7-1 3-4-1-1-11-1 12-2 2-3-2 0-5-3 2-1-8-2 6-6-1-5-5 0 0-5 12-1-9-3-2-1 6-6 6 0-10-4-4-1 10 0-2-5 5-3-8-1-1-1 5-7 1-19-2-9-3 3 22 3-2 13-2 9 2 8-5 7-5 6 1 1-1 0 1 1 8 3 4 3-2 1 3 2-6 0 4 2 0 1-7 7 1 6-5 0 4 6-4 1 2 2 1 1 0 0 8 1-2 2-5 4 4 4-4 0 9 3-6 0 5 14-11 1 12 2-12 11 7 13 5-16 3-3-1-4 4-11 8-1-6-1 1-10 5-1-1-2-1 0-10-3 2-10 7-4 0-3-3-4 4-11-8-1-2-7 4-1 6-13-10-2 6-1 5-6-1-8 3-14 9 14-5 1 7 9-3 2 4 5 3 2-9 1 4 0 5 3-9 1-5 4 0 1 2 0 12 1-8 2 6 2 0 2-2 3-6 0 2 1 1 1-6 1 1 0 10 0 1 5-10 0 11 1-6 1 4 1-7 1-5 2 8 2-3 2 7 1 1 1-6 1-4 2 10 2-11 1-2 6 0 4 6 4 3 4 4 6-9 1 1 0 2 1-1 1 6 10-10 8 2-4 16-4-1-13 8-7-5-8-6-6 4-1 4-3-9-2 13-3-1 0-4-2-5-2-3-1 10-6 0-1 2-2-10-2 11 0-2 0-7-1 2-1 2 0-2-3 6-1 0-2 0 0-4-1-4-1 2-1-3 0-3-1 13-1-7-1 8-3-13-2-1-7 11-4 2-2-10-2 3 0-1-1-5-2 12-10-11-19-1-38 10 9 17 6-8 12 1 17 0 7 5 8 1 2-6 5 5 1-4 1 3 1-9 0 9 7-8 1 4 3-1 3 2 0 8 1-14 0 4 0 4 1 3 5-6 4 2 1 0 1 3 2-8 0 4 0 8 3-14 3 1 0 2 0 4 1 4 7 3 1-5 3 1 1-7 3-3 1 13 2-11 2 1 6 9 5 0 1 1 4-10 0 2 3 0 11 8-17 2-4 5-6 5-1-3-4 0-6 6-4-8-4-1-5 1-2 8 0-5-1-6-3 8-2-3-1-7-7 2-1 1-4 4-1 2-3-2-9 0-8-2-1-3-9 10-1-6-1-5-25 25 3 0 3-10 4 9 5-1 8-2 4 6 10-4 2-9 3 3 0 2 2 6 0 1 0 1 2-9 4 1 2-4 1 2 0 4 2-1 2 3 1 3 3-11 2 0 2 11 0 0 5-5 2 7 1-14 7 5 9 2 6-5 4 10 2-12 7 9-15 10-10-1-5 6-5 0-5-1 0 0-7 4-8-6-7-4-3 0-5 9-14 0-1-11-3 12-2-3-4-5 3 24 20-8 2 1 11 2 1-3 4 4 7-7 6 12 1-10 0 9 2-4 13-7 4 18-11-3-39 0-60-2 33 17 22 5 20 6-11 3-38 3 141 233 19-2 2 4 2-11 0 9 4-1 12 1 16-4-5 8-7 2-4 8-2-3-5 5-5-4-2-2-2 5 0-8-5 5 0-6-1 0-5 4 0-4-3 10 0-2 0-2-1 4-1-6 0-2-11 8-4-13-1 13-5-1-2 1 0-1-11 5 3 5 4-7 3 4 1 9 1-3 2 1 4-7 0 0 0 1 3 2 1 5 1 0 1-6 1-4 1 5 1-1 0 1 1-2 0 3 2-2 1 1 3 7 0 0 1-14 0 6 0 0 1 1 0 1 0 2 1-3 0 1 1 1 1 3 0 0 0 1 0 1 1 0 1-13 1 7 0 3 3-11 1 4 1-2 0 10 2-3 1 5 1-11 0 2 1 3 0 2 2-7 2 4 3-2 0 4 16 1 0 6-3 4-9-5-2 1-1 11 0-12-1 14-1-4-3 2-3 0-2-12 0 0-1 1-4 9-2 1-1-2 0-2 0-7-1 6-1-5-1 10-1-3 0-7-1 13-2-10-5 0-3 3-1-3-1 6 0-3-1-2-1 7-1-9-1 7-1 3-1-11-1 7-2-2 0-2-2-5-4 7-3 9 0 0 5 1 20 0 2 3 0 2 0 7 6-8 1-6 0 10 4 0 9-9 5 2 9-3 4 16-3 3-17-3-4 0-12 5" fill="none" marker-start="url(#k23)" marker-mid="url(#k23)" marker-end="url(#k23)"/>
<path transform="scale(0.2)" d="M1549 3641l4-3 1 2 1-10 5 13 9 16 0-1-10-3-2-1-5-8-1 11-1-5-1 4-10-3 0-2-3 14 2 3 8-3 4-5 0 9 1-9 0 4 3-1 0 3 0 7 0 0 7-4 0 4 1-7 1 8 6 11-7-5-1 4-6-5-1 9 0-5 0-7-1 6-1 0-1 0-1 1-1 19 1 2 13-11 11 16" fill="none" marker-start="url(#k24)" marker-mid="url(#k24)" marker-end="url(#k24)"/>
<path transform="scale(0.2)" d="M1232 3618l1-1 3 8 3-2 1 5 307 61-10-3-5 2-12 15 8-7 1 1 1-5 2 10 3-2 2-8 0 8 0 0 1-1 1 0 1-9 1 8 0 4 0 2 4-4 1-4 4 2-1 9-2-2-1 2-3 1-7 7-2-4-1 1 0-3-12-3" fill="none" marker-start="url(#k25)" marker-mid="url(#k25)" marker-end="url(#k25)"/>
<text x="79.30" y="691.70" font-size="8.51" stroke="#000" stroke-width="0.08" textLength="38.30" lengthAdjust="spacingAndGlyphs">Cell fate 2</text>
<text x="105.50" y="737.70" font-size="8.28" stroke="#000" stroke-width="0.08" textLength="37.30" lengthAdjust="spacingAndGlyphs">Cell fate 1</text>
<text x="234.90" y="690.40" font-size="8.51" stroke="#000" stroke-width="0.08" textLength="38.30" lengthAdjust="spacingAndGlyphs">Cell fate 2</text>
<text x="260.30" y="736.80" font-size="8.28" stroke="#000" stroke-width="0.08" textLength="37.30" lengthAdjust="spacingAndGlyphs">Cell fate 1</text>
<path d="M106.6 700.5 Q122 697 125.2 681.5" stroke="#333" stroke-width="0.5" fill="none"/>
<path d="M125.2 681.5 L125.7 683.6 M125.2 681.5 L123.9 683.2" stroke="#333" stroke-width="0.5"/>
<path d="M111 724.6 Q130 720 137.3 730" stroke="#333" stroke-width="0.5" fill="none"/>
<path d="M137.3 730.0 L135.4 729.0 M137.3 730.0 L136.9 727.8" stroke="#333" stroke-width="0.5"/>
<path d="M261.8 698.4 Q277 695 279.5 678" stroke="#333" stroke-width="0.5" fill="none"/>
<path d="M279.5 678.0 L280.2 680.1 M279.5 678.0 L278.3 679.8" stroke="#333" stroke-width="0.5"/>
<path d="M264.5 722.6 Q283 718 291 728" stroke="#333" stroke-width="0.5" fill="none"/>
<path d="M291.0 728.0 L289.0 727.1 M291.0 728.0 L290.5 725.9" stroke="#333" stroke-width="0.5"/>
<text x="336.80" y="609.20" font-size="8.37" stroke="#000" stroke-width="0.08" textLength="26.50" lengthAdjust="spacingAndGlyphs">Cluster</text>
<circle cx="342.60" cy="617.10" r="3.00" fill="#3f78b8"/>
<text x="347.90" y="619.70" font-size="8.2" stroke="#000" stroke-width="0.08" textLength="10.03" lengthAdjust="spacingAndGlyphs">A1</text>
<circle cx="342.60" cy="625.22" r="3.00" fill="#f0882a"/>
<text x="347.90" y="627.82" font-size="8.2" stroke="#000" stroke-width="0.08" textLength="10.03" lengthAdjust="spacingAndGlyphs">A2</text>
<circle cx="342.60" cy="633.34" r="3.00" fill="#45b050"/>
<text x="347.90" y="635.94" font-size="8.2" stroke="#000" stroke-width="0.08" textLength="10.03" lengthAdjust="spacingAndGlyphs">A3</text>
<circle cx="342.60" cy="641.46" r="3.00" fill="#f03030"/>
<text x="347.90" y="644.06" font-size="8.2" stroke="#000" stroke-width="0.08" textLength="10.03" lengthAdjust="spacingAndGlyphs">A4</text>
<circle cx="342.60" cy="649.58" r="3.00" fill="#a066c4"/>
<text x="347.90" y="652.18" font-size="8.2" stroke="#000" stroke-width="0.08" textLength="10.03" lengthAdjust="spacingAndGlyphs">A5</text>
<circle cx="342.60" cy="657.70" r="3.00" fill="#74e0e0"/>
<text x="347.90" y="660.30" font-size="8.2" stroke="#000" stroke-width="0.08" textLength="21.41" lengthAdjust="spacingAndGlyphs">NPCs</text>
<line x1="42.10" y1="621.00" x2="42.10" y2="661.60" stroke="#555" stroke-width="0.35"/>
<line x1="42.10" y1="661.60" x2="102.00" y2="661.60" stroke="#555" stroke-width="0.35"/>
<text x="44.00" y="664.50" font-size="2.2" text-anchor="middle" fill="#444">−4.0</text>
<text x="55.40" y="664.50" font-size="2.2" text-anchor="middle" fill="#444">−2.5</text>
<text x="66.80" y="664.50" font-size="2.2" text-anchor="middle" fill="#444">0.0</text>
<text x="78.20" y="664.50" font-size="2.2" text-anchor="middle" fill="#444">2.5</text>
<text x="89.60" y="664.50" font-size="2.2" text-anchor="middle" fill="#444">5.0</text>
<text x="101.00" y="664.50" font-size="2.2" text-anchor="middle" fill="#444">7.5</text>
<text x="66.50" y="667.50" font-size="3.0" text-anchor="middle" fill="#333">Component 1</text>
<text x="0" y="0" font-size="2.6" text-anchor="middle" fill="#333" transform="translate(40 642) rotate(-90)">Component 2</text>
<text x="44.60" y="604.00" font-size="3.3" font-weight="bold" fill="#222">Pseudotime</text>
<defs><linearGradient id="vir" x1="0" y1="1" x2="0" y2="0"><stop offset="0" stop-color="#440154"/><stop offset="0.25" stop-color="#3b528b"/><stop offset="0.5" stop-color="#21918c"/><stop offset="0.75" stop-color="#5ec962"/><stop offset="1" stop-color="#fde725"/></linearGradient></defs>
<rect x="45.20" y="605.20" width="1.60" height="11.80" fill="url(#vir)"/>
<text x="47.60" y="606.50" font-size="2.0" fill="#444">10.0</text>
<text x="47.60" y="609.20" font-size="2.0" fill="#444">7.5</text>
<text x="47.60" y="611.90" font-size="2.0" fill="#444">5.0</text>
<text x="47.60" y="614.60" font-size="2.0" fill="#444">2.5</text>
<text x="47.60" y="617.30" font-size="2.0" fill="#444">0.0</text>
<path transform="scale(0.2)" d="M362 3223l6-1 5 0 4-8 1 10 1 0 1-11 0 3 0 3 1-3 0 4 0 2 1-1 0 2 2-11 1 8 3 0 1 1 4 12-1-6-1 1-1 5-1-4 0-1 0 0 0-3-1 4-1 2 0-1-1 7 0-7 0-3-1 5 0-5-1 9-1-6 0-1-1 2 0-3 0 0-1 0 0-1 0 0 0-2-1 13-1-7 0-5-1 2 0 0 0-1-1 5 0-2 0-3 0-1-1 1-2 5 0-3 0-2-1 10 0 0-2 1 0-6 0 0-1 5 0-1 0 0-1 3 0-3-1 2 0-6-2 4 0-2 0 0 0-6 0 0-1 2 0 0 0-1 0-1-1 4-1 5 0-1-1-5-1 2 0-2-1 4-2-2 0-2 0-3 0-1-1 10 0-8-1 7 0-4-2 4-1-1 1 7 0 0 2 4 1-4 1 0 0 6 0 0 2-5 1-1 1-2 0 7 1-3 1-4 1 1" fill="none" marker-start="url(#k26)" marker-mid="url(#k26)" marker-end="url(#k26)"/>
<path transform="scale(0.2)" d="M311 3234l2 1 4 1 0 2 11-10 4 2 0 6 1 2 4 1 3 0 2-13 0 13 1-2 5-4 0 0 0 1 0 3 0 2 1-3 0 3 1-2 6 12 0 0-2-2-2-2-1-3 0-2-1 14 0-7 0-3-1 7-1-9 0-1-1 11 0-9-1 0-2 7 0-4-1-1-1-3 0 0-1 4 0-5-1 13 0-12 0-2-1 7 0-2 0 0 0-4-1 5-1 8 0-4 0-2-1 3 0-5 0-1-1-1-1-3-1 6-1 2 0-1-1-7-1 4 0-1 0-2-2 5-1 3-1 1-2 3 0 0 0-6 0-5 0-2-1 12 0-1 0-4-1-5 0-1 0-1-1 8 0-8-1 11 0-3 0-2 0-7-1 13 0-1-1 1 0-2 0-5-1 8 0-9 0-3 0-2-1 14 0-12-1 9-1 3 0-12 0 0-1 9 0-1 0-4 0-3-1 5-1 1 3 10 5-2 2 0 1 5 3-1 5-1 1-4 2 4 4 2 2-3 5 0 5 4" fill="none" marker-start="url(#k27)" marker-mid="url(#k27)" marker-end="url(#k27)"/>
<path transform="scale(0.2)" d="M283 3220l4 1 19 17-2-1 0-5-5 1-2 3 0-2 0-4-1-1-2 5-1 4 0-9-2 4 0-1 0-2-1 9 0-2-1-7-1 7 0-2 0 0-1-4-2 8 0-8 0-2-1 8 0-2 0-10-1 11 0-4-2 5 0-1-1-1-1 0 0-3-2 6 0-7-2 3 0-2-1 7-2-2-3 2 0 0-1 3 1-2 5 1 0 3 2 1 1-2 0 1 1-4 0 4 1 3 3-4 2 5 1-6 1 1 0 7 0 1 1-9 0 4 0 3 0 3 1-10 1-1 1 0 1 1 0 2 0 3 1-5 0 4 0 1 1-5 0 5 1-6 0 3 0 1 1-3 1 0 0 6 0 3 1-11 0 2 0 9 1-9 0 2 0 5 1-9 0 2 0 3 1 3 0 0 2-8 0 8 1 5 1-1 1-5 0 1 1-1 0 1 0 4 0 0 1-12 0 2 0 8 1-3 2 6 1-2-1 6-1 0-2 3-8-5-1 0 0 0-3 0-2 1-6-1" fill="none" marker-start="url(#k28)" marker-mid="url(#k28)" marker-end="url(#k28)"/>
<path transform="scale(0.2)" d="M259 3190l3 0 6 17 0-7-1-1-1 9 0-1 0-2-1 0-1-5-1 5-3-1 0-3 0 0-1 5 0-2-1 3 0 0 0 0 0-5 0-2-2 5 0-3-1-3-1 4-1-6-2 5-1-2-2 1 0-2-2 6 0-5-5 7 2 7 3-4 4 12 4-9 0 8 1-5 1 8 1-14 1 11 1-8 0 2 1 0 0 3 1-8 0 5 0 1 0 8 1-14 0 11 0 2 1-8 0 4 1 1 0 3 2-7 0 6 1-10 1 6 1 3 0 2 0 1 1-4 0 0 0 4 1-9 0 2 1 4 0 2 1-5 2 4 0 2 1-6 0 3 0 2 1-8 1 5 1-1-1 6-3 2 0-1-1 2-1 5 0-5 0-1-1 7 0-1 0-8-2 7 0-1-1-6-1 0-1 3 0-2 0 0-1 1-1 2-5 1-1 4" fill="none" marker-start="url(#k29)" marker-mid="url(#k29)" marker-end="url(#k29)"/>
<path transform="scale(0.2)" d="M226 3162l1-2 1 1 2-2 0 3 1-3 1 0 0 4 1-5 3 3 0 1 1 0 0 1 0 1 1 0 1-1 1-3 0 2 0 2 1-3 1 2 1 1 1 0 3-1 5 9-1-5-2 10-1-3 0-4-1 3-1 4 0-1 0-2-1 5 0-1-1-8-1-5-1 13 0-2 0-1-1-4 0 0 0-6-1 10 0-1-1 4 0-3 0-3-1 7 0-7-1 2 0-7-1 6 0-1 0-3 0-3-1 1-1 8 0-10-1 11 0-6-1-4-1 2 0-1 0-1-1 4-4 1 3 17 5 3 3-6 0 3 2-6 0 1 2-2 1-1 0 3 0 3 0 5 0 1 0 1 2-10 0 9 1-11 0 4 2-5 1 5 0 5 0 2 0 2 1-10 0 10 1-7 0 2 1 0 4-5 1-3 3 3-12 11-2 4-2-2-6 6 0-1" fill="none" marker-start="url(#k30)" marker-mid="url(#k30)" marker-end="url(#k30)"/>
<path transform="scale(0.2)" d="M397 3202l1 4 1 2 0 1 1-2 0 0 0 2 1 0 3-4 1 2 5-3 4 6-6 3-1 3-1 4 0-10-2 6-1-1 0-2-1 5-1 4 0-5 0-1 0-1 0-2-1 9 0-2-1 0 0-9 0-1-1 3 0-1-1 1-1 9 0-3 0-1 0-2-1 3 0 0 0-6 0-2-2 11 0-5-1 0-1-7-3 8 0-8-1 1 8 15 3 4 8-5 0 4" fill="none" marker-start="url(#k31)" marker-mid="url(#k31)" marker-end="url(#k31)"/>
<path transform="scale(0.2)" d="M426 3073l6-1 18 13-2 1 0-3-2 3 0-10-1 9 0-5-1 4 0-5-2 10-1-14-1 3-1-1-1 11-3-11 0-2 0 0-1 14-1-5-2-4-1 5-1 2-3-9-2 10-1-4-4 2-7 0-1 17 1-13 1 6 1 0 1 2 2 5 1-5 2-5 2-3 0 1 1 13 3-14 0 5 3-2 3 8 1-3 0 6 1-8 1 6 1-12 0 9 1-9 1 1 1 2 0 8 1-5 0 3 0 5 0 0 2-3 1-3 1-4 0 2 2 1 1 5 2-6 0 4 1-4 0 0 9-5 0 21-11 2-1 0-6-3-2-2-1 8-1 2 0-6 0-1-1 7-1-4 0-7-3 5-1 1 0-1 0-1-1-4-1 5 0-6-1 4-1 1-2-3 0-3-3 9-4-6 0-4-10 8 30 7 62 53-27 14 1 1 1-2 2-6 0 1 5 8 0 5 1-2 1-4 12 17-4 4 0-3-2 0-2 3-1-3-1-3 0 0 0-2 0-4-1 9-1 0 0-5-2 3 0-1 0-2 0-4-1 6-1 2-2 4 0-1 0-4 0-2-2 7 0-1 0-11 0 0 0-2-1 5 0 0-1 9-4-10-1 8-3 0-5 5 2 8 1-4 2-1 1 2 3-6 0 10 0 1 1-12 1 7 0 1 0 1 1-7 1 6 0 5 1-5 0 5 1-11 1 7 1-9 1 0 0 3 0 3 0 1 1-7 0 8 1-7 0 0 0 2 0 2 0 2 0 4 1-10 2 9 1 3 1-12 0 3 0 5 1-7 0 0 0 7 0 1 1 0 0 4 3-14 1 3 0 1 0 1 0 8 9-3-9 8-1 7-1-10-2 9 0-4-5-3-5 0-3 6-5-2-4 5-17 13 2 1 1 1 5-2 0 2 2-4 9-5 25 5-19 11-1-1-4 12 0-1-4-10-3 6-1-8-2 12-2-5-2 4-1-3-3 1-2 4-1-2-3-2-1 7 5 5 0 2 0 4 1-11 0 8 2-5 0 6 1-10 1 0 1 0 1-1 0 7 2-1 1 1 0 4 3-4 0 5 2-4 2 0 6 2 2-8-10 19 0-4-1 7-3 3-1-9-1 4-3 7 0-5-1-7-1 8-1 1-1 3-7-5 4 15 5-6 2-2 5 10" fill="none" marker-start="url(#k32)" marker-mid="url(#k32)" marker-end="url(#k32)"/>
<path transform="scale(0.2)" d="M431 3027l3 2 11 0 31 10-6 1 0-1-1 2-3-5-5 1-2 0-4 4-2-6-1 2-2 2-1 1 0-8-5 9 0-4-2 1-4 3-1 2-1-3-3-5-4 0-4 4-2-4-2 11 3-1 2 8 2 6 5-2 1-2 1-10 0 2 1 6 1-3 3 7 2-9 1 2 1-4 0 1 3 0 2-1 0 6 1 1 1-8 0 2 2-1 2 8 1-7 1 3 9 8 2-13 15 11-19 8-7-2-1 6-4-6-1 9-5 1-3 1 0-2-1-9-4 2-1 5-2-1-1-2-1 4-1-5-2 5-2 0-2-3-8-1 54 17" fill="none" marker-start="url(#k33)" marker-mid="url(#k33)" marker-end="url(#k33)"/>
<path transform="scale(0.2)" d="M410 3162l4 2 1 0 9 3-1 10 0-9-2 4-1 1-1 4 0-6-1 4 0-7 0-3 0 0-1 6-1 3-1 3-1-3 0-1 0-1 0-1 0-3 0-3-1 7 0-2 0-1 0-2-1 1 0-3-1 1-2 12-3-2-2-9-3 21 1-2 1 1 1 1 5 4 1 2 1-10 1-3 0 11 0 2 3-7 1 4 1-8 0 0 1-3 0 3 1-3 1 1 0 4 0 1 1-2 9-4-4 29-2 0 0-10-5 2-1 6-1 2-1-5 0-2 0-6-1 10 0 0 0-8-1 9 0 0 0-1-2-1-2 2 0-4 0-1 0-2-1 4 0-9-1 3-1-2-1 6-2 5 4 6 1 1 1-3 3 3 1-4 0 8 2-1 1-3 0 3 1-7 0 4 0 3 1 2 0 1 1-10 1 1 0 7 0 1 3 0 1-8 0 2 1 2 2-1 0 6 5 4 2-2 1-1-2 4-2 7-2-4 0 0 0-1-1-2-1 1-1-1-3 2-5 1-1 2" fill="none" marker-start="url(#k34)" marker-mid="url(#k34)" marker-end="url(#k34)"/>
<path transform="scale(0.2)" d="M412 3116l9 3 5 0 24 7-3 0-3-1-1 0 0-2-7 3-1 7 0-9-3 4-2-8-1 0-2 1-3 3-1-4-4 14-2-5 0-3 0-2-1-3-17 20 6-6 8 1 1 3 0 3 0 7 1-13 0 7 0 1 1 0 1 5 1-14 2 5 1 8 1-11 0 11 1-11 0 8 1-2 2-1 0 1 0 2 1-4 1 3 0 2 0 1 1-1 3-9 0 6 1-8 0 14 1-8 4-2 4 0-15 15-4-4-1 4-1 0-1 5-2 3 0-3-1 4 0-9-1 7 0 0 0 0 0-7-1 2-1 6-1-9-1 7 0-3-2-5 27 70 2 1 2-9 2 4 5 6 0 0 8-2 1 1 1-8 0 4 1 4 2-10 2 16-2 0-1 3-9 1 0-7-2 5-2-1-2-1 0-4-1 5 0-4-1 1-1 0-6 6 0-6" fill="none" marker-start="url(#k35)" marker-mid="url(#k35)" marker-end="url(#k35)"/>
<text x="380.20" y="597.50" font-size="22" font-weight="bold">r</text>
<text x="0" y="0" font-size="7.63" text-anchor="middle" stroke="#000" stroke-width="0.08" textLength="66.60" lengthAdjust="spacingAndGlyphs" transform="translate(393.45 672.70) rotate(-90)">Relative expression</text>
<text x="471.60" y="601.20" font-size="12.37" text-anchor="middle" font-style="italic" stroke="#000" stroke-width="0.08" textLength="22.00" lengthAdjust="spacingAndGlyphs">Glul</text>
<line x1="410.20" y1="602.00" x2="410.20" y2="661.30" stroke="#666" stroke-width="0.5"/>
<line x1="410.20" y1="661.30" x2="529.70" y2="661.30" stroke="#666" stroke-width="0.5"/>
<line x1="415.50" y1="661.30" x2="415.50" y2="662.50" stroke="#666" stroke-width="0.4"/>
<text x="415.50" y="670.20" font-size="8.0" text-anchor="middle" fill="#333" stroke="#333" stroke-width="0.08" textLength="11.12" lengthAdjust="spacingAndGlyphs">0.0</text>
<line x1="442.68" y1="661.30" x2="442.68" y2="662.50" stroke="#666" stroke-width="0.4"/>
<text x="442.68" y="670.20" font-size="8.0" text-anchor="middle" fill="#333" stroke="#333" stroke-width="0.08" textLength="11.12" lengthAdjust="spacingAndGlyphs">2.5</text>
<line x1="469.85" y1="661.30" x2="469.85" y2="662.50" stroke="#666" stroke-width="0.4"/>
<text x="469.85" y="670.20" font-size="8.0" text-anchor="middle" fill="#333" stroke="#333" stroke-width="0.08" textLength="11.12" lengthAdjust="spacingAndGlyphs">5.0</text>
<line x1="497.03" y1="661.30" x2="497.03" y2="662.50" stroke="#666" stroke-width="0.4"/>
<text x="497.03" y="670.20" font-size="8.0" text-anchor="middle" fill="#333" stroke="#333" stroke-width="0.08" textLength="11.12" lengthAdjust="spacingAndGlyphs">7.5</text>
<line x1="524.20" y1="661.30" x2="524.20" y2="662.50" stroke="#666" stroke-width="0.4"/>
<text x="524.20" y="670.20" font-size="8.0" text-anchor="middle" fill="#333" stroke="#333" stroke-width="0.08" textLength="15.57" lengthAdjust="spacingAndGlyphs">10.0</text>
<line x1="409.00" y1="605.70" x2="410.20" y2="605.70" stroke="#666" stroke-width="0.4"/>
<text x="407.60" y="608.40" font-size="7.6" text-anchor="end" fill="#333" stroke="#333" stroke-width="0.08" textLength="8.45" lengthAdjust="spacingAndGlyphs">30</text>
<line x1="409.00" y1="619.20" x2="410.20" y2="619.20" stroke="#666" stroke-width="0.4"/>
<text x="407.60" y="621.90" font-size="7.6" text-anchor="end" fill="#333" stroke="#333" stroke-width="0.08" textLength="8.45" lengthAdjust="spacingAndGlyphs">10</text>
<line x1="409.00" y1="635.40" x2="410.20" y2="635.40" stroke="#666" stroke-width="0.4"/>
<text x="407.60" y="638.10" font-size="7.6" text-anchor="end" fill="#333" stroke="#333" stroke-width="0.08" textLength="4.23" lengthAdjust="spacingAndGlyphs">3</text>
<line x1="409.00" y1="649.40" x2="410.20" y2="649.40" stroke="#666" stroke-width="0.4"/>
<text x="407.60" y="652.10" font-size="7.6" text-anchor="end" fill="#333" stroke="#333" stroke-width="0.08" textLength="4.23" lengthAdjust="spacingAndGlyphs">1</text>
<path d="M417.2 635.4h2.17M424.2 635.4h2.17M425.9 635.4h2.17M427.7 635.4h2.17M429.4 635.4h2.17M431.2 635.4h2.17M432.9 635.4h2.17M434.6 635.4h2.17M436.4 635.4h2.17M438.1 635.4h2.17M439.8 635.4h2.17M445.1 635.4h2.17M446.8 635.4h2.17M448.5 635.4h2.17M450.3 635.4h2.17M452.0 635.4h2.17M453.8 635.4h2.17M455.5 635.4h2.17M457.2 635.4h2.17M459.0 635.4h2.17M460.7 635.4h2.17M462.5 635.4h2.17M464.2 635.4h2.17M465.9 635.4h2.17M467.7 635.4h2.17M469.4 635.4h2.17M471.2 635.4h2.17M472.9 635.4h2.17M474.6 635.4h2.17M476.4 635.4h2.17M479.9 635.4h2.17M486.8 635.4h2.17M488.5 635.4h2.17M490.3 635.4h2.17M492.0 635.4h2.17M495.5 635.4h2.17M497.2 635.4h2.17M500.7 635.4h2.17M420.7 640.3h2.17M424.2 640.3h2.17M429.4 640.3h2.17M431.2 640.3h2.17M432.9 640.3h2.17M434.6 640.3h2.17M436.4 640.3h2.17M438.1 640.3h2.17M439.8 640.3h2.17M441.6 640.3h2.17M443.3 640.3h2.17M446.8 640.3h2.17M448.5 640.3h2.17M450.3 640.3h2.17M452.0 640.3h2.17M453.8 640.3h2.17M455.5 640.3h2.17M457.2 640.3h2.17M459.0 640.3h2.17M460.7 640.3h2.17M462.5 640.3h2.17M464.2 640.3h2.17M465.9 640.3h2.17M467.7 640.3h2.17M469.4 640.3h2.17M471.2 640.3h2.17M472.9 640.3h2.17M474.6 640.3h2.17M476.4 640.3h2.17M478.1 640.3h2.17M479.9 640.3h2.17M481.6 640.3h2.17M483.3 640.3h2.17M490.3 640.3h2.17M493.8 640.3h2.17M505.9 640.3h2.17M512.9 640.3h2.17M419.0 649.4h2.17M420.7 649.4h2.17M424.2 649.4h2.17M425.9 649.4h2.17M427.7 649.4h2.17M429.4 649.4h2.17M432.9 649.4h2.17M434.6 649.4h2.17M436.4 649.4h2.17M441.6 649.4h2.17M443.3 649.4h2.17M445.1 649.4h2.17M446.8 649.4h2.17M448.5 649.4h2.17M452.0 649.4h2.17M455.5 649.4h2.17M457.2 649.4h2.17M459.0 649.4h2.17M460.7 649.4h2.17M465.9 649.4h2.17M469.4 649.4h2.17M471.2 649.4h2.17M472.9 649.4h2.17M474.6 649.4h2.17M479.9 649.4h2.17M490.3 649.4h2.17M493.8 649.4h2.17M495.5 649.4h2.17M497.2 649.4h2.17M499.0 649.4h2.17M500.7 649.4h2.17M505.9 649.4h2.17M424.2 658.7h2.17M425.9 658.7h2.17M427.7 658.7h2.17M429.4 658.7h2.17M434.6 658.7h2.17M436.4 658.7h2.17M438.1 658.7h2.17M441.6 658.7h2.17M443.3 658.7h2.17M445.1 658.7h2.17M448.5 658.7h2.17M450.3 658.7h2.17M452.0 658.7h2.17M455.5 658.7h2.17M457.2 658.7h2.17M460.7 658.7h2.17M462.5 658.7h2.17M464.2 658.7h2.17M465.9 658.7h2.17M467.7 658.7h2.17M469.4 658.7h2.17M471.2 658.7h2.17M472.9 658.7h2.17M474.6 658.7h2.17M476.4 658.7h2.17M479.9 658.7h2.17M485.1 658.7h2.17M486.8 658.7h2.17M492.0 658.7h2.17M493.8 658.7h2.17M495.5 658.7h2.17M497.2 658.7h2.17M499.0 658.7h2.17M500.7 658.7h2.17M507.7 658.7h2.17" stroke="#f0882a" stroke-width="1.9" stroke-linecap="round"/>
<path d="M415.5 635.4h2.17M419.0 635.4h2.17M420.7 635.4h2.17M422.5 635.4h2.17M441.6 635.4h2.17M417.2 640.3h2.17M419.0 640.3h2.17M422.5 640.3h2.17M425.9 640.3h2.17M445.1 640.3h2.17M415.5 649.4h2.17M417.2 649.4h2.17M422.5 649.4h2.17M438.1 649.4h2.17M439.8 649.4h2.17M415.5 658.7h2.17M417.2 658.7h2.17M419.0 658.7h2.17M420.7 658.7h2.17M422.5 658.7h2.17M432.9 658.7h2.17M439.8 658.7h2.17M478.1 658.7h2.17" stroke="#3f78b8" stroke-width="1.9" stroke-linecap="round"/>
<path d="M443.3 635.4h2.17M478.1 635.4h2.17M481.6 635.4h2.17M483.3 635.4h2.17M493.8 635.4h2.17M499.0 635.4h2.17M509.4 635.4h2.17M511.2 635.4h2.17M514.6 635.4h2.17M486.8 640.3h2.17M488.5 640.3h2.17M495.5 640.3h2.17M499.0 640.3h2.17M504.2 640.3h2.17M462.5 649.4h2.17M481.6 649.4h2.17M486.8 649.4h2.17M488.5 649.4h2.17M509.4 649.4h2.17M511.2 649.4h2.17M516.4 649.4h2.17M518.1 649.4h2.17M453.8 658.7h2.17M459.0 658.7h2.17M481.6 658.7h2.17M483.3 658.7h2.17M488.5 658.7h2.17M490.3 658.7h2.17M502.5 658.7h2.17M505.9 658.7h2.17M518.1 658.7h2.17" stroke="#45b050" stroke-width="1.9" stroke-linecap="round"/>
<path d="M509.4 640.3h2.17M502.5 649.4h2.17" stroke="#a066c4" stroke-width="1.9" stroke-linecap="round"/>
<path d="M502.5 635.4h2.17M504.2 635.4h2.17M505.9 635.4h2.17M516.4 635.4h2.17M485.1 640.3h2.17M492.0 640.3h2.17M497.2 640.3h2.17M500.7 640.3h2.17M511.2 640.3h2.17M514.6 640.3h2.17M516.4 640.3h2.17M483.3 649.4h2.17M507.7 649.4h2.17M514.6 649.4h2.17M519.9 649.4h2.17M523.3 649.4h2.17M504.2 658.7h2.17M509.4 658.7h2.17M511.2 658.7h2.17M512.9 658.7h2.17M514.6 658.7h2.17M516.4 658.7h2.17M521.6 658.7h2.17M523.3 658.7h2.17" stroke="#f03030" stroke-width="1.9" stroke-linecap="round"/>
<path transform="scale(0.2)" d="M2460 3024l-198 11 0-4-10 3-3 10 0-5-1 1-2-8-10 7-1 4-1-13-4 14 0-11-9 11 0 0-2-2 0 0 0 0-1 1 0 0-4-2-3 1-1-1-1 2 0-1-1 1-4-4-3 4 0 0-2-9-1 8-5 0-1 0-3 2 0-8-2 3-2-5-1 10-5-13-7 2 0-1-1-1-3 8-75 13 22-6 29 11 1 0 1-1 1 3 2-4 3-2 2 2 1 3 1-2 1-3 0 2 5-10 0 12 1-4 0 3 3-7 0 1 1 0 2 4 3 2 1-8 0 9 4-2 4-7 0 2 1-5 0 2 0 1 0 4 4 2 1 4 1-8 0 4 1-7 0 1 0 2 0 1 4-6 0 1 4 12 1-8 2-5 0 7 2 7 1-13 0 0 0 3 0 10 1 0 1-12 1 8 0 0 1-10 0 5 1-5 2 8 3-4 0 1 2 5 2-1 1-4 0 3 1 4 0 2 1-5 0 4 4-10 4 9 0 1 1-8 2 3 1-7 2 1 0 3 1 9 2-3 0 1 1 0 1-11 1 1 3-2 2 1 3 0 4 7 1-1 0 4 0 1 1-9 2 11 1-4 1-1 1-7 0 7 2-5 0 0 5 1 5 9 1-9 1 3 0 2 1 1 0 3 2-7 0 7 2-4 1 2 1-4 0 5 2-2 1 2 5 1 225 0-1 1-2 8-6-8-37 12-13-1-9-1-132 0-2 3-1-3-2 2-5 0 0-2 0-1-2 4 0-4-1-5-1 9-1 1 0-4 0-6-1 1-1 8-1-7-1 7-3-7-4-6-2 14 0-4-1-7-1 9-5-4 0-7-1 12 0-4-2-1-1-2 0-3 0 0 0-3-1 8-1 1-2 2 0-2-3-9-1 11 0-6-1-3-1 2 0-4-1 0-2 14 0-3 0-5-1 7-1-8-1-5-1 0-1 4-2 1 0-1-3 9 0-9 0-3-2 3-1-1-1 9 0-5-1-6-1 7-1 1 0-5-1 5-1-6-1-1-1 4 0-1 0-1 0-2-1-1-2 0-1 11-1-2-1 3-1 0-3 0-1 0 0-10-1 5-3-2-1-1 0-2-2 7-3 1-4-11-2 1-1 6-3-1-1 8 0-5-1-2 0-5-1 3-1 6-2 1-3-4-2 6-3 0 0-9-1 6 0-5-2-1 0-4-1 7-3 6 0-3 0-3-1 5-1-8-1 9 0-8-1 4 0-5-1 4-1 5 0-1 0-8-2-3-1 7-1-9-1 13-1-10-1 3-3-1-1 9-3-6 0-8-1 0-2 3-1 7 0-5-1 0-2-2-1 6-1-9-2 11 0-8-1 9-1 0-1-7 0-2-1 5 0-4-1 4 0-5-3 11-1-14-1 13 0-9 0-3-1 8-2 5-1-11-1 3 0 0 0-4-1 6 0-4 0-2 0-1-1 13-1-1 0-2 0 0-1-5-1 2 0-4-2 8 0-3-1 0-2 2-5 1-2 1-1-5-4 6 0 0-1 0 0-3 0 0 0-1-5 4-1-6-21 12 18-5 0 2 1 1 0 10 4-13 0 7 0 2 1-3 2-6 0 4 0 4 0 1 0 5 1-13 1 2 1 9 6-11 0 2 1 3 0 7 0 0 5-4 3-7 0 5 0 3 1 4 3-14 2 0 0 9 0 0 1-4 1-2 0 5 1-5 0 9 1-12 1 2 0 2 0 5 2 5 1-7 0 7 1-3 0 2 1-11 1 9 3 3 2-11 0 5 0 4 1-4 3 4 3 0 4 0 1-12 3 9 1-1 0 1 3 3 4 2 1 0 1-7 0 2 2-1 0 2 0 2 2-6 0 2 0 4 2-11 5 3 0 9 2-9 0 0 1 3 2-4 4 0 0 8 2-2 1-5 0 9 2-12 0 7 1 0 2-7 0 1 1 0 0 2 0 0 6 4 0 6 2-8 0 8 2-10 0 7 1-4 2-6 1 11 2-7 2 4 2 5 1-13 2-1 1 9 2 5 2-8 0 1 1 4 1-10 0 2 0 6 1 4 0 1 1-4 0 2 3-12 1 9 1 1 0 3 3-11 1 2 1 6 2-2 0 4 1-5 0 4 2-7 0 8 1-6 0 1 1-1 0 8 2-8 0 7 1-11 0 5 0 0 0 4 2 2 1-9 0 9 1-13 2 8 1 2 2-6 1-3 1-1 0 7 3-7 1 12 4-3 1-1 1-6 0 0 0 11 1-9 1 4 0 1 1 5 3-9 1-4 1 0 1 0 0 1 0 5 0 5 1-7 0 0 0 4 2-8 1 10 1-4 1 0 2-5 1 4 2-2 2 9 1-11 0 12 1-14 0 8 0 1 0 0 1 0 5-4 1-2 0 4 1 3 3-10 0 1 2 5 5 4 11 1 19 3 10-1 42-2 11-7 3-4 1 9 6-4 1 0 4-3 20 10 2-6 1 4 19-6 10-1 19 2 24 7 14-8 5-3-9 22-8-6-15 11-6-10-6 9-18-9-4 5-15-6-52 1-2 4-27-5-8 11-18-7-5 1-17 4 0-8-17 10-3 1 0-7 0-7-1 9-2 4 0-9-1 6 0-9-1 12 0-13-1 4-2 9-1-4 0 0 0-8-3 7 0-5-3 11 0-9-1 3-1 2-2 4 0-2 0-2-3 4 0-4 0-8 0-2-1 8-2 4 0-6-2-4-1 2-1 0-3 1-1 7 0-4 0-5-1 10-1-6 0-7-2 3-1 7 0-10-1 14-1-1 0-7-1-3 0-3-1 13 0-2-1-3-1-3-1 2-2 7 0-9-2 2-2 7-2-9-1-3 0-2-1 12 0-4 0-4-1 4-2 3-3-3-2-7-1 11 0 0-4-3-3-9-2 8-1-2-1 7-1-8-3 6-2-6-1-2-1 5 0-3-3-1-2 8 0-11-1 8 0-8-1 13-2-6-1-7-1 8-2 0 0-5-1-2-3 1-1 6-4-6-2 11 0-6 0 0-3-2-1 5-2 2-3-12-4 6-1-5-1 3 0-4-1 11 0-2 0-7 0-1-1-2-1 1-1-1-1 12-2-9-5 9 0-3-1 3 0-4-1 2 0-8-4 1-4-3-1 8 0-2-1 6 0-12-3 0-2 13 0-10-2 2-1 7 0-10 0-2-1 12 0-2 0-5-3 1-1-4-1-1-3-1-6 8-1 3 0-10-1 13-3-7 0-5-4 12-1-6-1-3-1 6-2 0 0-4-1 0-2 2-3-2-2-1 0-1-1 5-1-2-1 3 0-10-1 12 0-11-1 9 0-8-1 5-1 2 0-2-2 1-1 4-1-3-2-3-1 5 0-7-1-5-1 10-23 15 13-3 4 4 5-9 0 3 0 5 2-7 0 11 1-3 1-11 0 6 0 5 0 1 1-11 1 13 1-7 2-7 0 6 0 6 1-10 0 5 2-1 0 2 0 6 2-7 1-1 1 4 1-8 0 9 1-11 0 13 2-7 0 2 1 2 1-5 2 2 1-4 1 4 3-5 0 6 0 3 0 1 1-3 1-5 1 8 2-2 4-10 0 3 1 2 4-2 1 5 1 4 1-3 1-5 0 1 0 3 0 3 0 0 0 2 1-12 0 12 1-10 0 1 2 9 2-12 2 0 1 4 0 7 3-4 2 6 1-6 1-7 0 0 0 3 0 6 1-10 1 10 0 0 3-3 1 2 0 1 2-8 2 0 3 10 1-11 1 6 2 3 1-3 0 7 1-13 2 1 1 2 3 10 7-4 1 1 1-6 1-3 0 6 2-7 1 5 0 2 1 4 1-10 0 12 4-12 0 0 1-1 0 4 0 3 2 4 2-7 1 9 1-1 5-3 3-2 4 1 1-9 1 10 3-6 0 8 1-1 1-8 0 1 0 1 2 1 1-1 1 8 2-7 1-6 0 1 2 2 7 0 2 2 0 2 1 1 1-8 0 2 0 3 0 3 5-1 2-1 1 4 1 4 2-13 2 10 1-6 0 1 1 0 1-5 0 2 0 4 2-1 0 7 0 1 1-11 0 3 1 3 0 0 1-9 0 11 1-9 4-2 2 5 1 0 0 5 1-7 0 5 2 0 0 3 1-11 0 4 0 5 1-8 1 1 1 0 0 2 1-1 0 3 1-4 1 2 0 10 1-12 1 7 0 1 1-2 2-6 0 11 1-1 0 0 3-10 0 5 0 0 1-7 1 3 1 9 0 0 1-1 2-4 0 6 1 1 1-11 2-1 10 6 2-5 2 1 8 2 9-6 8 13 3-10 2-3 5 11 0 1 9 0 1 1 8-8 0 3 3-2 9-1 3 9 5-2 3-3 3-3 1-5 5 5 1-4 20 10 7-1 24 1 2-5 5 3 6 1 23 0 14-5 6-6-14 28-50-1-4-9-2 2-7-4-18 12-4 0-3-5-4 3-27 0-5-9-1 5-4 2-3 2 0-2-2 5-1-10-13 1-3 9-6-13-5 12-6-3 0-9-4 2-2-1-7-2-1 11-2-4-7 3-2 4-1-8-1-5-1 1-1 10 0-11-2 10 0-6-1 5-1-5 0 0-1 9 0-10-1 6 0-3 0-5 0 0-1 1-1 9 0-1 0-7 0-3-1 3-1-2 0-1-1 12 0-4 0-5-1 5 0-2 0-6 0-1-1 5-1 2-1 1-1 5 0-8 0-5-2 11-1-11-1 11-1-2-1 5-1-13-1 2-1 8-1 1 0-7-1 7 0-6 0-2-1 4-1-5-2 2 0-4-1 8-2-9-1 12 0-9-1 2 0-1-1 7-2-1 0-1-1-4 0-4-2 3-2 8 0-7-1-3-1 2-1 10 0-1-1-13-2 0-1 10-1 1 0-7-1 2 0 0-2 6-4-9-1-1-4 9-2-4 0 0 0-6-1 12 0-10-1 10 0-12-1 11-2-7-5 8-2-12-2 6-5 3-1-4-1 3 0-3-1 6-1-1 0-6 0-1-2-4-1 5-1 3-3 2-2-7 0-1-3 6-1 5 0-3 0-3 0-6-1 11-1-10 0-1-1 5-3 6 0-8-1 8-2-3 0-9-1 9 0-6-1 2-2-1-1 0-1 9-3-1-4-4 0-5-1 10 0-5-1 3-1 2 0-1-1-8-1 4-3-7-1 8-1-3-2 7 0-8 0-5-1 8 0 0 0 0-2-2 0-1 0-3-1 10 0-5-4-4-1 4-1-5 0-1-2 11 0-3-6-9-2 6 0-4-1 0-3 11-3 0 0-5 0-5 0-2-1 7-1-2 0-6-1 14 0-9 0-4-1 13 0-2-1 2-2-6 0-2-5 7 0-7-1-2-1 3-1 4-1-10-1 11-1-9-1 3-2-1-3 4-1 2 0-8-1 5 0-3-1 7-1-8-2-1-1 0-1 11-1-3-1-4 0-2 0-2-1 1-1 1-1 7-1 0-2-9-1-1 0-2-2 5-1 7 0-9-2 22 1-8 0 3 1 4 1 1 2-1 2-4 1 6 0 1 1 2 1-14 2 6 0 8 1-1 1-12 0 4 0 6 4-4 0 6 1-7 1-3 2 2 2 0 1-2 0 11 1-10 2 7 1-8 0 10 1-10 0 7 0 0 0 4 1-3 1-7 1-1 6-2 2 7 0 4 1 1 1-6 0 4 2-9 0 0 2 7 1-9 0 9 1-4 0 0 0 4 2-8 0 2 0 9 1-2 1 0 0 3 0 0 0 0 1-12 0 3 2 4 2 1 0 5 3-9 0 1 0 4 1-8 1 3 0 6 1-11 0 7 1 7 2-3 2-11 1 4 2-1 0 3 2-3 1 0 3 8 1 0 1-7 1 2 1-4 3 1 1-3 0 13 6-11 0 1 2 3 0 4 1-3 0 2 3-6 0 5 0 6 1-10 0 7 1 0 2 0 2-2 1-8 0 8 2-2 2 6 1-13 1 5 0 5 3-10 0 11 1-4 8 3 2-7 3 0 0 7 1-10 2 8 0 1 1-6 1 7 1-10 1 5 1 1 0 3 0 1 0 1 2-11 1 9 1 5 1-7 0 1 1-2 1-1 3 7 1-1 1-1 1-8 0 6 1-1 1 4 2-7 1 3 2 2 1 4 1-10 1 5 1-6 0 11 2-11 0 3 1 7 1-6 2-1 0 0 1 0 4-4 0 3 0 3 0 5 1-11 5 2 0 1 2-2 0 6 1-8 0 3 1 6 0 3 1 2 4-1 1-12 2 1 2 0 0 5 0 2 1 0 3-6 0 0 0 0 2-3 0 12 2-9 0 0 1 0 0 11 2-13 0 8 1 4 3 1 1-14 0 5 0 8 2-9 0 8 1-11 1 5 0 8 1-9 0 8 3-3 6-2 4 4 11 0 1-11 2-1 0 4 6 9 9-12 0 4 0 8 3-10 14 8 0 3 8-8 1-5 6 7 2-2 18 3 4-2 17 0 21-6 10 8 36-3 8 7 4-8 24-2 4 3 0 3-24 9-7 2-4 8 0-5-27 4 0-3-5-3-9-2-13-2-1 11-15-1-13 1-1-6-8 5-1-3-17 1-5-8-4-1-7 2-2 1-5-2-3 4-1 1-1 2-16-6-6 6-11-5-9-4-1 0-4 8-1 0-1-6-1 0-1 9-2-5 0-4-3-1-1 11 0-10-1 8 0-3 0-2 0-3-1 9 0-5-1 8 0-1 0-8-1 8 0 0 0-13-1 7-1 3-1 2-1 2 0-8 0-3-1 2-1 3 0-1-2-6-1 6-2 1 0-8-2 4-1 8 0-4 0-1-3 6-2-2 0-4 0-4-1 9 0-12 0 0-1 3-2 9 0-3 0-5-1-2-1 3-5-3-5 11-3-3 0-2-1 2-3-6-3 7-1-3-1 4-1-3-2-4-4 4-1-2-1 6 0-8-1 3-2-3-3 1-2-2-1 1-1 8-3-4-1 3 0-3 0-7-1-2-3 12 0-1-1 2-1 0 0-4-1 2 0-1-3-8 0-2-2 14 0-1-2-13-1 11-2-1-1-1 0-2 0-7-2 8 0-4 0-1-1 5 0 0 0-6-2 6-1 0-1-7-2 4 0-2-1 4-1 3 0-3 0-2 0-4-2 5-2 7 0-2 0-3 0 0 0 0-1-8-2 6-1 2-3-2-2 6 0-1-1-5-2 8 0-2-1-8 0-1-1 8 0-4 0 0 0-4 0-1-2 1-1 7-2-5-1-4-3 11-2-1-1 1 0-7-1 6-4 0-2-10-1 1-2-1-2 12-1-7-3 6 0-1 0-10-1 6-1 2-2 1-1-5-2-3-1 9 0-2-1-7-2 12 0-4-1 0-1 4-1-14-4 4 0-1-1 3 0-1 0-1-1-4-3 9-1-3-3 8-2-6-1-4-1 2-1 8 0-5-1-5-4-3-1 11-1-12-2 4-2 7 0-9-2 10 0-9-1 5-1-5-1 5-2-3 0-5-1 11-1 3-1-4-17 14 1-9 22 0 1 0 39 0 1 0 11 0 143 0 3 0 37 0" fill="none" marker-start="url(#k36)" marker-mid="url(#k36)" marker-end="url(#k36)"/>
<path transform="scale(0.2)" d="M2087 3043l1-1 138-11 23 15-134-1-2 5-5-1-1 8 0-6-4-3-1 9 0-3 0-3-1-1-1 8-4-1 0-6-5 2-6-6-2 6-5 0 8 20 5-8 1 8 6-10 5 11 3-4 1-2 2-8 0 14 2-5 0 5 2 0 0 9-2 4-2-2 0-2-3 5-6-1 0-11-3 0-1-1-2 0-1 11 0-2-1-8-1 2-1 10-7-8-1 5-3 1-1 10 3 6 1-1 3-5 0 4 0 3 3-1 1-2 0 2 1-5 3 2 6-5 1-2 1 9 3 2 6-2 1 0 147-4-148 14-1-3-3 9-2-9 0-1-2 1 0-2-2 4-2 3 0-7-2 8-5-3-2-5-3 13 0-8-7 5-1 11 4-4 7 1 1-2 2 9 1-3 13 6 1-13 0 3 1 2 2 8 2-11 1-3 2 3 82 4 30-3 89 0-3 23-27 2-131-10-43 4-3 0-3 0-10-5-2 6-6 4-2-10-2 8 0-4-3-4-2 14 3 0 6 9 1-10 3 10 2-2 5-9 1 5 1 3 0 2 3-2 1-6 2 8 5-6 0 7 1 1 86-11 43 11 63-6-194 18-1 2-1-6 0-4-7 3-5 5-2 3 0-12-1 5-7 9 0-10-1 2 0-2-5-3-3 25 3 1 1-8 0 7 2-2 3-6 3 8 7 3 1-2 2-10 2 10 4 0 8 2-19 4-5 1" fill="none" marker-start="url(#k37)" marker-mid="url(#k37)" marker-end="url(#k37)"/>
<path transform="scale(0.2)" d="M2453 3020l-235 11 50 22 237 3 28 2 16-1-20 13-5-5-13 5-4-10-1 13-1-10-64 8-14 0-2-4-281 4 14 9 136 2 28-5 105-2 3 9 5-9 33 7 40 1 7 5 25 1 4-1-32 11-2-9-31 10-6-5-1 4-15-5-5 3-10 1-4 2-13-3-122-4-30 0-5 26 11-9 144-5 5 5 2 4 3-3 6-4 11 11 5-3 12 1 3-4 6 5 28-7 15 1 4 6 18-9 7 16-4 7-6-3-7 1-2 2-13-9-8 6-28 3-13-1-3-3-9 7-4-2-1-12-1 6-9 2-121 5-89-1-23-5-5 2 238 7 3 8 3 2 2-5 0 2 1 3 29-10 5 13 22-2 20-3 8 10-1 9-2-6-1-4-4 5-6-2-6-3-10 2-18 6-5-11-5 1-10 13-2-5-11 2-2-2-2-8-9 5-19 1-254 3 254 5" fill="none" marker-start="url(#k38)" marker-mid="url(#k38)" marker-end="url(#k38)"/>
<path transform="scale(0.2)" d="M2513 3058l22 12-5-4-13 4-4 9 13 4 6 14 6 48 6 7-9 9-5-11" fill="none" marker-start="url(#k39)" marker-mid="url(#k39)" marker-end="url(#k39)"/>
<path transform="scale(0.2)" d="M2536 3058l14 5-10-3-12 1-8-1-3 7-1 2-26-1-54 4 67 15 13 0 26-8 3 4 0 9-17 7-2-2-7-1-5 6-58-11-17 4-1 1 6 21 10-7 17 1 8-3 45 10 5-5 5-8 1 0 1 9 7-2 4 11-5 4-5 1-5 1-16 0-2 5-72-1-11 11 5 2 77-11 0 6 13-6 1 6 9-1 1 4 7-4 3-3-1 20-2 1-4 3-2-10-2 5-9 1-1 3-5-3-11-5-8 8-15 0-49 2" fill="none" marker-start="url(#k40)" marker-mid="url(#k40)" marker-end="url(#k40)"/>
<path d="M416.3 635.4 C425 628 435 623.5 442.4 623.7 C455 624 470 630 485 634 C500 638 515 640.5 524.2 641.9" stroke="#000" stroke-width="1.2" fill="none"/>
<text x="612.10" y="601.20" font-size="11.22" text-anchor="middle" font-style="italic" stroke="#000" stroke-width="0.08" textLength="26.20" lengthAdjust="spacingAndGlyphs">Aqp4</text>
<line x1="550.70" y1="602.20" x2="550.70" y2="661.30" stroke="#666" stroke-width="0.5"/>
<line x1="550.70" y1="661.30" x2="670.20" y2="661.30" stroke="#666" stroke-width="0.5"/>
<line x1="556.50" y1="661.30" x2="556.50" y2="662.50" stroke="#666" stroke-width="0.4"/>
<text x="556.50" y="670.20" font-size="8.0" text-anchor="middle" fill="#333" stroke="#333" stroke-width="0.08" textLength="11.12" lengthAdjust="spacingAndGlyphs">0.0</text>
<line x1="583.55" y1="661.30" x2="583.55" y2="662.50" stroke="#666" stroke-width="0.4"/>
<text x="583.55" y="670.20" font-size="8.0" text-anchor="middle" fill="#333" stroke="#333" stroke-width="0.08" textLength="11.12" lengthAdjust="spacingAndGlyphs">2.5</text>
<line x1="610.60" y1="661.30" x2="610.60" y2="662.50" stroke="#666" stroke-width="0.4"/>
<text x="610.60" y="670.20" font-size="8.0" text-anchor="middle" fill="#333" stroke="#333" stroke-width="0.08" textLength="11.12" lengthAdjust="spacingAndGlyphs">5.0</text>
<line x1="637.65" y1="661.30" x2="637.65" y2="662.50" stroke="#666" stroke-width="0.4"/>
<text x="637.65" y="670.20" font-size="8.0" text-anchor="middle" fill="#333" stroke="#333" stroke-width="0.08" textLength="11.12" lengthAdjust="spacingAndGlyphs">7.5</text>
<line x1="664.70" y1="661.30" x2="664.70" y2="662.50" stroke="#666" stroke-width="0.4"/>
<text x="664.70" y="670.20" font-size="8.0" text-anchor="middle" fill="#333" stroke="#333" stroke-width="0.08" textLength="15.57" lengthAdjust="spacingAndGlyphs">10.0</text>
<line x1="549.50" y1="613.20" x2="550.70" y2="613.20" stroke="#666" stroke-width="0.4"/>
<text x="548.10" y="615.90" font-size="7.6" text-anchor="end" fill="#333" stroke="#333" stroke-width="0.08" textLength="8.45" lengthAdjust="spacingAndGlyphs">10</text>
<line x1="549.50" y1="630.90" x2="550.70" y2="630.90" stroke="#666" stroke-width="0.4"/>
<text x="548.10" y="633.60" font-size="7.6" text-anchor="end" fill="#333" stroke="#333" stroke-width="0.08" textLength="4.23" lengthAdjust="spacingAndGlyphs">3</text>
<line x1="549.50" y1="648.20" x2="550.70" y2="648.20" stroke="#666" stroke-width="0.4"/>
<text x="548.10" y="650.90" font-size="7.6" text-anchor="end" fill="#333" stroke="#333" stroke-width="0.08" textLength="4.23" lengthAdjust="spacingAndGlyphs">1</text>
<path d="M565.2 623.2h2.16M566.9 623.2h2.16M568.6 623.2h2.16M570.3 623.2h2.16M572.1 623.2h2.16M573.8 623.2h2.16M575.5 623.2h2.16M579.0 623.2h2.16M580.7 623.2h2.16M582.5 623.2h2.16M584.2 623.2h2.16M587.7 623.2h2.16M591.1 623.2h2.16M592.9 623.2h2.16M594.6 623.2h2.16M596.3 623.2h2.16M598.0 623.2h2.16M565.2 627.0h2.16M566.9 627.0h2.16M570.3 627.0h2.16M572.1 627.0h2.16M575.5 627.0h2.16M577.3 627.0h2.16M582.5 627.0h2.16M585.9 627.0h2.16M587.7 627.0h2.16M589.4 627.0h2.16M592.9 627.0h2.16M596.3 627.0h2.16M598.0 627.0h2.16M556.5 630.9h2.16M560.0 630.9h2.16M561.7 630.9h2.16M565.2 630.9h2.16M566.9 630.9h2.16M568.6 630.9h2.16M570.3 630.9h2.16M573.8 630.9h2.16M575.5 630.9h2.16M577.3 630.9h2.16M579.0 630.9h2.16M580.7 630.9h2.16M582.5 630.9h2.16M584.2 630.9h2.16M585.9 630.9h2.16M589.4 630.9h2.16M591.1 630.9h2.16M594.6 630.9h2.16M596.3 630.9h2.16M598.0 630.9h2.16M599.8 630.9h2.16M601.5 630.9h2.16M603.2 630.9h2.16M605.0 630.9h2.16M606.7 630.9h2.16M610.2 630.9h2.16M611.9 630.9h2.16M613.6 630.9h2.16M615.4 630.9h2.16M617.1 630.9h2.16M618.8 630.9h2.16M620.6 630.9h2.16M622.3 630.9h2.16M624.0 630.9h2.16M630.9 630.9h2.16M632.7 630.9h2.16M637.9 630.9h2.16M641.3 630.9h2.16M650.0 630.9h2.16M651.7 630.9h2.16M563.4 637.2h2.16M565.2 637.2h2.16M570.3 637.2h2.16M572.1 637.2h2.16M575.5 637.2h2.16M577.3 637.2h2.16M579.0 637.2h2.16M580.7 637.2h2.16M584.2 637.2h2.16M585.9 637.2h2.16M587.7 637.2h2.16M589.4 637.2h2.16M591.1 637.2h2.16M592.9 637.2h2.16M596.3 637.2h2.16M598.0 637.2h2.16M599.8 637.2h2.16M601.5 637.2h2.16M603.2 637.2h2.16M608.4 637.2h2.16M611.9 637.2h2.16M613.6 637.2h2.16M615.4 637.2h2.16M618.8 637.2h2.16M620.6 637.2h2.16M624.0 637.2h2.16M629.2 637.2h2.16M630.9 637.2h2.16M634.4 637.2h2.16M636.1 637.2h2.16M639.6 637.2h2.16M644.8 637.2h2.16M556.5 648.2h2.16M560.0 648.2h2.16M565.2 648.2h2.16M568.6 648.2h2.16M570.3 648.2h2.16M573.8 648.2h2.16M575.5 648.2h2.16M577.3 648.2h2.16M579.0 648.2h2.16M580.7 648.2h2.16M582.5 648.2h2.16M584.2 648.2h2.16M585.9 648.2h2.16M587.7 648.2h2.16M591.1 648.2h2.16M599.8 648.2h2.16M601.5 648.2h2.16M603.2 648.2h2.16M605.0 648.2h2.16M606.7 648.2h2.16M608.4 648.2h2.16M610.2 648.2h2.16M611.9 648.2h2.16M613.6 648.2h2.16M615.4 648.2h2.16M617.1 648.2h2.16M618.8 648.2h2.16M620.6 648.2h2.16M622.3 648.2h2.16M624.0 648.2h2.16M629.2 648.2h2.16M630.9 648.2h2.16M632.7 648.2h2.16M636.1 648.2h2.16M641.3 648.2h2.16M560.0 658.7h2.16M561.7 658.7h2.16M563.4 658.7h2.16M566.9 658.7h2.16M568.6 658.7h2.16M570.3 658.7h2.16M572.1 658.7h2.16M573.8 658.7h2.16M575.5 658.7h2.16M577.3 658.7h2.16M579.0 658.7h2.16M580.7 658.7h2.16M582.5 658.7h2.16M584.2 658.7h2.16M585.9 658.7h2.16M587.7 658.7h2.16M589.4 658.7h2.16M591.1 658.7h2.16M594.6 658.7h2.16M596.3 658.7h2.16M598.0 658.7h2.16M599.8 658.7h2.16M603.2 658.7h2.16M605.0 658.7h2.16M606.7 658.7h2.16M608.4 658.7h2.16M610.2 658.7h2.16M611.9 658.7h2.16M613.6 658.7h2.16M615.4 658.7h2.16M617.1 658.7h2.16M618.8 658.7h2.16M620.6 658.7h2.16M622.3 658.7h2.16M624.0 658.7h2.16M625.7 658.7h2.16M629.2 658.7h2.16M639.6 658.7h2.16M641.3 658.7h2.16" stroke="#f0882a" stroke-width="1.9" stroke-linecap="round"/>
<path d="M556.5 623.2h2.16M558.2 623.2h2.16M560.0 623.2h2.16M563.4 623.2h2.16M556.5 627.0h2.16M558.2 627.0h2.16M560.0 627.0h2.16M563.4 627.0h2.16M579.0 627.0h2.16M584.2 627.0h2.16M558.2 630.9h2.16M563.4 630.9h2.16M587.7 630.9h2.16M592.9 630.9h2.16M556.5 637.2h2.16M558.2 637.2h2.16M560.0 637.2h2.16M594.6 637.2h2.16M610.2 637.2h2.16M558.2 648.2h2.16M561.7 648.2h2.16M563.4 648.2h2.16M572.1 648.2h2.16M594.6 648.2h2.16M558.2 658.7h2.16M592.9 658.7h2.16" stroke="#3f78b8" stroke-width="1.9" stroke-linecap="round"/>
<path d="M577.3 623.2h2.16M627.5 630.9h2.16M629.2 630.9h2.16M634.4 630.9h2.16M648.3 630.9h2.16M617.1 637.2h2.16M625.7 637.2h2.16M627.5 637.2h2.16M637.9 637.2h2.16M641.3 637.2h2.16M592.9 648.2h2.16M596.3 648.2h2.16M598.0 648.2h2.16M634.4 648.2h2.16M637.9 648.2h2.16M639.6 648.2h2.16M643.1 648.2h2.16M646.5 648.2h2.16M565.2 658.7h2.16M601.5 658.7h2.16M627.5 658.7h2.16M630.9 658.7h2.16M634.4 658.7h2.16M636.1 658.7h2.16M643.1 658.7h2.16M644.8 658.7h2.16M648.3 658.7h2.16M663.8 658.7h2.16" stroke="#45b050" stroke-width="1.9" stroke-linecap="round"/>
<path d="M653.4 630.9h2.16M648.3 637.2h2.16M653.4 637.2h2.16M644.8 648.2h2.16M651.7 648.2h2.16M650.0 658.7h2.16" stroke="#a066c4" stroke-width="1.9" stroke-linecap="round"/>
<path d="M625.7 630.9h2.16M636.1 630.9h2.16M639.6 630.9h2.16M643.1 630.9h2.16M644.8 630.9h2.16M646.5 630.9h2.16M622.3 637.2h2.16M632.7 637.2h2.16M643.1 637.2h2.16M650.0 637.2h2.16M651.7 637.2h2.16M625.7 648.2h2.16M627.5 648.2h2.16M648.3 648.2h2.16M650.0 648.2h2.16M653.4 648.2h2.16M655.2 648.2h2.16M656.9 648.2h2.16M658.6 648.2h2.16M660.4 648.2h2.16M662.1 648.2h2.16M663.8 648.2h2.16M637.9 658.7h2.16M646.5 658.7h2.16M653.4 658.7h2.16M655.2 658.7h2.16M658.6 658.7h2.16M660.4 658.7h2.16M662.1 658.7h2.16" stroke="#f03030" stroke-width="1.9" stroke-linecap="round"/>
<path transform="scale(0.2)" d="M2860 3030l8 13 22-3 13 3 17-12 15 5 75 1 12 5 8 2 73-5-28 19-7-8-37 2-16 1-25-5-3 9-23 1-14-10-43-3-7 1-31 9-28-1-39 19 36 0 10-7 2 8 3-4 9 3 17-4 2 4 37 0 17 0 1-12 8 12 3 0 1 1 25-1 11-8 3 9 8-1 3-8 23 1 3-2 17 8 5-7 6 2 6 7 8-8 88 8 4-1 50-1 47 0-51 5-57 0-70 1-16 7-47 2-3-1-1-11-6 13-3 1-3-8 0-3-2 5-7 2-2 2-3-11-3 0-2 7-2 4 0-8-3 5 0-5-1 9 0-7 0-3-5 5 0-3-1 9 0-9 0-3-1 0-1 5-1 7 0-8-8 8-2-13-4 7-12 6-2-3-4-8-1 2-2 1-4 6-1 1-4-10-3 6-3-8-1 12-1 1-1-1-1-10-3-1-1 11-1-2 0-5-1 2-7-5-1 4-6-3-1 10-2-3-4 0-4-6-2 5 0 0-1-2-3 1-1 4-1-1-3-8-2 3-1 7-2-11-3 0 0-1-3 1-4-1-3 10 0-10-3 12-1-1-1-13-1 5-3 2-2 4-1 2-5-4-2-2-3-6-3 2-20 6-6 3 19 5 1 10 3-11 2 9 1-5 1-4 0 13 5-9 2 9 2-6 0 6 5-10 3 2 1-4 1 1 4-1 16 5 0 7 1-1 4-7 2 2 0 2 10 1 5 0 3 1 2-11 5 6 0 1 2 4 1-5 3-3 2-1 1 2 0 3 0 0 9 6 1-14 4 0 0 7 0 3 5-10 0 3 3 5 1-4 1 5 2-5 0 9 1-11 0 4 2 6 4-4 3-2 5 8 1-7 6 0 1 7 3-13 0 1 1 9 2-9 0 11 2 0 4-6 1-3 1 6 1-9 0 3 1-2 4 6 1 2 1-10 0 7 4 2 0 1 1-6 7 0 0 2 7 1 5 7 7-1 1-11 0 3 0 4 1 4 1-6 11 4 5-10 24 9 109-9 5 7 5-6 1 9 8-3 7-3 53 0-32 13-58 5-1-1-3-6-70 0-64 3-3-4-3 4-6-4-3 0-5 0-2 0-1 0-6 4 0-3-2 1-1 2-3-3-3 0-1-1-7 0-11 1-7-1-5 0-8 3-1 2-1 0-14 0-1-4-1 2-3-1-4 2-2 0-4-1-23 2 0-1-22-1-12-1-7 2-1 0 0-1-1-2-1 0-36 1 438 22" fill="none" marker-start="url(#k36)" marker-mid="url(#k36)" marker-end="url(#k36)"/>
<path transform="scale(0.2)" d="M2785 3065l0 3 4 5 2-7 0 2 1 4 13 1 3-2 7 2 111 3-113 3-2 2-1-4-2 10-1 0 0-10-2 8-1-10-2 9-2-1-3-6-4 4-2 0-1-4-5 11 0-12 2 26 7-9 4 7 1-6 3-4 4 7 1 5 2-2 2 2 2-6 0 2 162-2-161 23-4 0-1-8-4 0 0-4-2 1 0-3-1 11-1-10-3 6 0-5-1 6-10-3-2-4 1 21 18-6 1 4 1 3 4 1 3 1" fill="none" marker-start="url(#k37)" marker-mid="url(#k37)" marker-end="url(#k37)"/>
<path transform="scale(0.2)" d="M3184 3038l14 1-22 23-40 10-20-11 29 26 34 0 2-3 2 0 53 0-33 11-15 7-7-3-6-6-7 6-9-5-330 2 311 18 19 1 14-9 4-1 28 0" fill="none" marker-start="url(#k38)" marker-mid="url(#k38)" marker-end="url(#k38)"/>
<path transform="scale(0.2)" d="M3236 3084l-9 9" fill="none" marker-start="url(#k39)" marker-mid="url(#k39)" marker-end="url(#k39)"/>
<path transform="scale(0.2)" d="M3123 3033l126 34-1-5-1 2-2 8 0-4-7-4-2 8-1-3-3-1-4 2 0 0-69 1 26 12 7 3 35-4 5-5 4-2 2 13 5-5 6-2 0 3 0 5 3-9 6 8 0 10-7 2-6-3-4-5-7 2-1 2-1 3-1 4-5-4-32 10 40-2 3-1 1 8 4 0 2 5 2 0 1-10 5 2 3-5 0 5 3-3-1 16 0-4-1 1 0 0 0 0-8 8-1-5-3 1-1 3-6-2-4 2 0-1-2 2" fill="none" marker-start="url(#k40)" marker-mid="url(#k40)" marker-end="url(#k40)"/>
<path d="M556.5 651.2 C565 645 578 640.3 588 640.3 C605 640.5 625 646 640 650 C650 652.5 658 654.5 664.7 655.9" stroke="#000" stroke-width="1.2" fill="none"/>
<text x="474.60" y="690.00" font-size="11.26" text-anchor="middle" font-style="italic" stroke="#000" stroke-width="0.08" textLength="43.60" lengthAdjust="spacingAndGlyphs">Vimentin</text>
<line x1="410.20" y1="690.20" x2="410.20" y2="749.30" stroke="#666" stroke-width="0.5"/>
<line x1="410.20" y1="749.30" x2="529.70" y2="749.30" stroke="#666" stroke-width="0.5"/>
<line x1="415.50" y1="749.30" x2="415.50" y2="750.50" stroke="#666" stroke-width="0.4"/>
<text x="415.50" y="758.20" font-size="8.0" text-anchor="middle" fill="#333" stroke="#333" stroke-width="0.08" textLength="11.12" lengthAdjust="spacingAndGlyphs">0.0</text>
<line x1="442.68" y1="749.30" x2="442.68" y2="750.50" stroke="#666" stroke-width="0.4"/>
<text x="442.68" y="758.20" font-size="8.0" text-anchor="middle" fill="#333" stroke="#333" stroke-width="0.08" textLength="11.12" lengthAdjust="spacingAndGlyphs">2.5</text>
<line x1="469.85" y1="749.30" x2="469.85" y2="750.50" stroke="#666" stroke-width="0.4"/>
<text x="469.85" y="758.20" font-size="8.0" text-anchor="middle" fill="#333" stroke="#333" stroke-width="0.08" textLength="11.12" lengthAdjust="spacingAndGlyphs">5.0</text>
<line x1="497.03" y1="749.30" x2="497.03" y2="750.50" stroke="#666" stroke-width="0.4"/>
<text x="497.03" y="758.20" font-size="8.0" text-anchor="middle" fill="#333" stroke="#333" stroke-width="0.08" textLength="11.12" lengthAdjust="spacingAndGlyphs">7.5</text>
<line x1="524.20" y1="749.30" x2="524.20" y2="750.50" stroke="#666" stroke-width="0.4"/>
<text x="524.20" y="758.20" font-size="8.0" text-anchor="middle" fill="#333" stroke="#333" stroke-width="0.08" textLength="15.57" lengthAdjust="spacingAndGlyphs">10.0</text>
<line x1="409.00" y1="699.50" x2="410.20" y2="699.50" stroke="#666" stroke-width="0.4"/>
<text x="407.60" y="702.20" font-size="7.6" text-anchor="end" fill="#333" stroke="#333" stroke-width="0.08" textLength="8.45" lengthAdjust="spacingAndGlyphs">10</text>
<line x1="409.00" y1="718.20" x2="410.20" y2="718.20" stroke="#666" stroke-width="0.4"/>
<text x="407.60" y="720.90" font-size="7.6" text-anchor="end" fill="#333" stroke="#333" stroke-width="0.08" textLength="4.23" lengthAdjust="spacingAndGlyphs">3</text>
<line x1="409.00" y1="735.70" x2="410.20" y2="735.70" stroke="#666" stroke-width="0.4"/>
<text x="407.60" y="738.40" font-size="7.6" text-anchor="end" fill="#333" stroke="#333" stroke-width="0.08" textLength="4.23" lengthAdjust="spacingAndGlyphs">1</text>
<path d="M425.9 713.5h2.17M436.4 713.5h2.17M441.6 713.5h2.17M453.8 713.5h2.17M459.0 713.5h2.17M462.5 713.5h2.17M469.4 713.5h2.17M474.6 713.5h2.17M478.1 713.5h2.17M500.7 713.5h2.17M417.2 718.2h2.17M422.5 718.2h2.17M425.9 718.2h2.17M431.2 718.2h2.17M432.9 718.2h2.17M436.4 718.2h2.17M438.1 718.2h2.17M439.8 718.2h2.17M443.3 718.2h2.17M445.1 718.2h2.17M448.5 718.2h2.17M450.3 718.2h2.17M452.0 718.2h2.17M457.2 718.2h2.17M459.0 718.2h2.17M462.5 718.2h2.17M464.2 718.2h2.17M465.9 718.2h2.17M471.2 718.2h2.17M472.9 718.2h2.17M474.6 718.2h2.17M476.4 718.2h2.17M478.1 718.2h2.17M479.9 718.2h2.17M481.6 718.2h2.17M483.3 718.2h2.17M486.8 718.2h2.17M493.8 718.2h2.17M497.2 718.2h2.17M499.0 718.2h2.17M500.7 718.2h2.17M415.5 724.5h2.17M424.2 724.5h2.17M425.9 724.5h2.17M427.7 724.5h2.17M429.4 724.5h2.17M431.2 724.5h2.17M432.9 724.5h2.17M434.6 724.5h2.17M436.4 724.5h2.17M438.1 724.5h2.17M441.6 724.5h2.17M443.3 724.5h2.17M445.1 724.5h2.17M446.8 724.5h2.17M450.3 724.5h2.17M452.0 724.5h2.17M455.5 724.5h2.17M457.2 724.5h2.17M459.0 724.5h2.17M460.7 724.5h2.17M462.5 724.5h2.17M464.2 724.5h2.17M465.9 724.5h2.17M467.7 724.5h2.17M469.4 724.5h2.17M471.2 724.5h2.17M472.9 724.5h2.17M474.6 724.5h2.17M476.4 724.5h2.17M478.1 724.5h2.17M481.6 724.5h2.17M483.3 724.5h2.17M490.3 724.5h2.17M492.0 724.5h2.17M495.5 724.5h2.17M497.2 724.5h2.17M499.0 724.5h2.17M424.2 735.7h2.17M425.9 735.7h2.17M427.7 735.7h2.17M429.4 735.7h2.17M431.2 735.7h2.17M432.9 735.7h2.17M434.6 735.7h2.17M436.4 735.7h2.17M439.8 735.7h2.17M441.6 735.7h2.17M443.3 735.7h2.17M445.1 735.7h2.17M446.8 735.7h2.17M448.5 735.7h2.17M450.3 735.7h2.17M452.0 735.7h2.17M453.8 735.7h2.17M455.5 735.7h2.17M457.2 735.7h2.17M459.0 735.7h2.17M460.7 735.7h2.17M462.5 735.7h2.17M464.2 735.7h2.17M467.7 735.7h2.17M469.4 735.7h2.17M471.2 735.7h2.17M472.9 735.7h2.17M474.6 735.7h2.17M476.4 735.7h2.17M478.1 735.7h2.17M479.9 735.7h2.17M481.6 735.7h2.17M485.1 735.7h2.17M486.8 735.7h2.17M488.5 735.7h2.17M490.3 735.7h2.17M492.0 735.7h2.17M499.0 735.7h2.17M500.7 735.7h2.17M424.2 746.2h2.17M425.9 746.2h2.17M427.7 746.2h2.17M429.4 746.2h2.17M431.2 746.2h2.17M432.9 746.2h2.17M436.4 746.2h2.17M441.6 746.2h2.17M443.3 746.2h2.17M445.1 746.2h2.17M446.8 746.2h2.17M448.5 746.2h2.17M450.3 746.2h2.17M453.8 746.2h2.17M455.5 746.2h2.17M457.2 746.2h2.17M459.0 746.2h2.17M460.7 746.2h2.17M462.5 746.2h2.17M464.2 746.2h2.17M465.9 746.2h2.17M469.4 746.2h2.17M471.2 746.2h2.17M474.6 746.2h2.17M476.4 746.2h2.17M478.1 746.2h2.17M479.9 746.2h2.17M481.6 746.2h2.17M488.5 746.2h2.17M495.5 746.2h2.17M497.2 746.2h2.17M500.7 746.2h2.17" stroke="#f0882a" stroke-width="1.9" stroke-linecap="round"/>
<path d="M415.5 713.5h2.17M417.2 713.5h2.17M415.5 718.2h2.17M419.0 718.2h2.17M420.7 718.2h2.17M441.6 718.2h2.17M446.8 718.2h2.17M467.7 718.2h2.17M417.2 724.5h2.17M420.7 724.5h2.17M422.5 724.5h2.17M448.5 724.5h2.17M453.8 724.5h2.17M415.5 735.7h2.17M417.2 735.7h2.17M419.0 735.7h2.17M420.7 735.7h2.17M422.5 735.7h2.17M415.5 746.2h2.17M417.2 746.2h2.17M419.0 746.2h2.17M422.5 746.2h2.17M452.0 746.2h2.17M472.9 746.2h2.17" stroke="#3f78b8" stroke-width="1.9" stroke-linecap="round"/>
<path d="M481.6 713.5h2.17M485.1 713.5h2.17M490.3 713.5h2.17M455.5 718.2h2.17M469.4 718.2h2.17M485.1 718.2h2.17M488.5 718.2h2.17M490.3 718.2h2.17M492.0 718.2h2.17M495.5 718.2h2.17M504.2 718.2h2.17M505.9 718.2h2.17M507.7 718.2h2.17M516.4 718.2h2.17M479.9 724.5h2.17M485.1 724.5h2.17M486.8 724.5h2.17M505.9 724.5h2.17M507.7 724.5h2.17M511.2 724.5h2.17M512.9 724.5h2.17M519.9 724.5h2.17M483.3 735.7h2.17M493.8 735.7h2.17M495.5 735.7h2.17M497.2 735.7h2.17M509.4 735.7h2.17M511.2 735.7h2.17M434.6 746.2h2.17M485.1 746.2h2.17M486.8 746.2h2.17M490.3 746.2h2.17M492.0 746.2h2.17M499.0 746.2h2.17M504.2 746.2h2.17M511.2 746.2h2.17" stroke="#45b050" stroke-width="1.9" stroke-linecap="round"/>
<path d="M512.9 718.2h2.17M502.5 724.5h2.17M509.4 724.5h2.17M512.9 735.7h2.17M509.4 746.2h2.17" stroke="#a066c4" stroke-width="1.9" stroke-linecap="round"/>
<path d="M497.2 713.5h2.17M509.4 718.2h2.17M514.6 718.2h2.17M488.5 724.5h2.17M493.8 724.5h2.17M500.7 724.5h2.17M504.2 724.5h2.17M514.6 724.5h2.17M516.4 724.5h2.17M518.1 724.5h2.17M521.6 724.5h2.17M523.3 724.5h2.17M504.2 735.7h2.17M505.9 735.7h2.17M514.6 735.7h2.17M516.4 735.7h2.17M518.1 735.7h2.17M493.8 746.2h2.17M502.5 746.2h2.17M505.9 746.2h2.17M507.7 746.2h2.17M512.9 746.2h2.17M514.6 746.2h2.17M516.4 746.2h2.17M518.1 746.2h2.17" stroke="#f03030" stroke-width="1.9" stroke-linecap="round"/>
<path transform="scale(0.2)" d="M2450 3478l53-4 11 4 1-1 6-2 5 9-13 1-12 8-4 1-16-8-18 8-31-12-143 6-31 1-134 5 8 10 6-1 4-8 14 13 2-4 14 2 130 0 55 3 15-2 19-8 20-2 5 5 4-1 26-6 1 7 20-2 26-1 0 8 13-1 12-9 7 4 11 4-13 5-10 12-15 1-18-8-4-3-1 5-60-5-16 0-102 7-6-4-46-1-38 10-12-4-6-6-29 6-2-9-25 28 9-5 40-5 1-4 55 4 18 1 21-1 14 6 51-7 15 11 58 0 12-6 2 2 35-8 4 6 1 4 39-11 14 5-36 14-34 8-90-6-19-3-23 0-3-1-15 9-65-4-67 5-7-6-2 6-20-12-12 4-8 8 189 6 12 1 49-5 135 2" fill="none" marker-start="url(#k36)" marker-mid="url(#k36)" marker-end="url(#k36)"/>
<path transform="scale(0.2)" d="M2152 3486l177 4-16 29-218-3-2 23 10 14-3-4 5 10" fill="none" marker-start="url(#k37)" marker-mid="url(#k37)" marker-end="url(#k37)"/>
<path transform="scale(0.2)" d="M2436 3479l17-3 32 0 1 2 15-3 12 2 8 1 7 1 2 0 2 0 5 0 3-5 1 3 24 5-2 12 0-8-2 2-1 4-2-7-7 6-13 1-5-9-1-1-11-2-3 13-3-4-2 0-6-8-1 10-5 2-1-8-3-2-6 2-10-2-5 6-1 4-2-7-2 2-5 5-2-7-2 6-2-7-1 0-1-2-2 2-2 0-5 1-11-4-2 1-3 10 0-11-1 5-7-6-3 6-272 11 263 10 12-4 3-4 8 1 5 1 2-4 0 7 1-6 7 10 6 0 2-5 3 2 7 2 3-9 0 5 5 4 5-7 1-6 2 1 6 5 4 4 1-2 1 3 6-9 2 12 2-8 0 6 3-1 4-6 6 2 2 5 7-4 3-1 4-3 2 6 1-6 2 2 0 8 5-4 2 3 3-2 2 0 4-10 5 0 0 8 0 11-1-1-4 3-1 2 0-5-2 4-4 3-8-11-2 3-2 8-5-2 0-4-5-2-15 11-2-5 0-7-1 4-3 6-1 0-1-4-3 0-1 3-1-5-6 5-1 1-1-3-4-6-1 10 0-12-3 8-1 1-1 0-7-9-3 5-4 0-1-1-6 3 0-8-1 3-8 0-1-1-1 9-6-7-1 7-4-9-9 9-1-11-6 4-1 9 0-13-17 2 12 18 9 8 27-13 0 13 9-13 0 14 4-1 5 0 3-5 1-8 3 9 3-1 16 6 5-10 0 4 5 0 2 3 2-3 6-2 0 6 3 1 7-7 0 3 1 3 1-5 0 1 0 6 2-12 8-2 0 9 4 1 0 2 1-10 2-2 0 3 9 5 0 3 6-3 5-8-4 16-13 4 0-5-11 7-1 7-2-6-7-5-4 9-5-12-1 12-13-9-2-2-4-1-6 4-2 6-4-9-9 13-7-14-1 11 0-7-2 5-3-8-4 5-1 3-3 5-5-12-2 5-4-7-6 11-4-6-2 1 0-5-2 8-3-3-244 3 235 9 5 1 5-1 0 2 19-2 15-2 6 4 28-2 8 1 3-1 14 1 31-3 0 3" fill="none" marker-start="url(#k38)" marker-mid="url(#k38)" marker-end="url(#k38)"/>
<path transform="scale(0.2)" d="M2553 3504l-25 29" fill="none" marker-start="url(#k39)" marker-mid="url(#k39)" marker-end="url(#k39)"/>
<path transform="scale(0.2)" d="M2487 3460l74 16-20-8-1 10-11-11-3 12-4-8-3-5-12 10-2 3-6-9-6 7-15 16 14 1 3-4 3-10 7 4 8 8 1-9 19 7 18-4 2-4 0 9 8-4 2 3 1 4 1 10-2-9-3 9 0-9-4 6-1 7-12-3 0-1-9 2 0-10-12 2-11 1-12 10-23-5-2-3 17 17 1-1 0 1 6 1 1-2 3-6 10 1 6 1 3 3 3 5 2-8 0 11 6-11 1 8 10-5 6-3 0 4 2 3 5-2 8 0 1-1 1 9-1 10-3 2-9-11-1 0-1 3-5-3-2 1-1 7-1-5 0-5-7 6-4-2-3 9-3-9-1 3-5 4-2-2-5 0 0 0-4 2-1-5 0-6-8 2-3 5-6 4 0-10 14 28 8-13 1 3 15 5 1 5 14-6 3-7 0 3-1 11-14 0-10 2-21 2-12-4-2 2" fill="none" marker-start="url(#k40)" marker-mid="url(#k40)" marker-end="url(#k40)"/>
<path d="M416 746.2 L454 746.2 C462 738 470 728 480 722 C492 716 505 713.5 523 711.9" stroke="#000" stroke-width="1.2" fill="none"/>
<text x="611.90" y="690.00" font-size="11.44" text-anchor="middle" font-style="italic" stroke="#000" stroke-width="0.08" textLength="26.70" lengthAdjust="spacingAndGlyphs">Olig1</text>
<line x1="550.70" y1="689.50" x2="550.70" y2="749.30" stroke="#666" stroke-width="0.5"/>
<line x1="550.70" y1="749.30" x2="670.20" y2="749.30" stroke="#666" stroke-width="0.5"/>
<line x1="556.50" y1="749.30" x2="556.50" y2="750.50" stroke="#666" stroke-width="0.4"/>
<text x="556.50" y="758.20" font-size="8.0" text-anchor="middle" fill="#333" stroke="#333" stroke-width="0.08" textLength="11.12" lengthAdjust="spacingAndGlyphs">0.0</text>
<line x1="583.55" y1="749.30" x2="583.55" y2="750.50" stroke="#666" stroke-width="0.4"/>
<text x="583.55" y="758.20" font-size="8.0" text-anchor="middle" fill="#333" stroke="#333" stroke-width="0.08" textLength="11.12" lengthAdjust="spacingAndGlyphs">2.5</text>
<line x1="610.60" y1="749.30" x2="610.60" y2="750.50" stroke="#666" stroke-width="0.4"/>
<text x="610.60" y="758.20" font-size="8.0" text-anchor="middle" fill="#333" stroke="#333" stroke-width="0.08" textLength="11.12" lengthAdjust="spacingAndGlyphs">5.0</text>
<line x1="637.65" y1="749.30" x2="637.65" y2="750.50" stroke="#666" stroke-width="0.4"/>
<text x="637.65" y="758.20" font-size="8.0" text-anchor="middle" fill="#333" stroke="#333" stroke-width="0.08" textLength="11.12" lengthAdjust="spacingAndGlyphs">7.5</text>
<line x1="664.70" y1="749.30" x2="664.70" y2="750.50" stroke="#666" stroke-width="0.4"/>
<text x="664.70" y="758.20" font-size="8.0" text-anchor="middle" fill="#333" stroke="#333" stroke-width="0.08" textLength="15.57" lengthAdjust="spacingAndGlyphs">10.0</text>
<line x1="549.50" y1="694.90" x2="550.70" y2="694.90" stroke="#666" stroke-width="0.4"/>
<text x="548.10" y="697.60" font-size="7.6" text-anchor="end" fill="#333" stroke="#333" stroke-width="0.08" textLength="8.45" lengthAdjust="spacingAndGlyphs">10</text>
<line x1="549.50" y1="715.40" x2="550.70" y2="715.40" stroke="#666" stroke-width="0.4"/>
<text x="548.10" y="718.10" font-size="7.6" text-anchor="end" fill="#333" stroke="#333" stroke-width="0.08" textLength="4.23" lengthAdjust="spacingAndGlyphs">3</text>
<line x1="549.50" y1="733.90" x2="550.70" y2="733.90" stroke="#666" stroke-width="0.4"/>
<text x="548.10" y="736.60" font-size="7.6" text-anchor="end" fill="#333" stroke="#333" stroke-width="0.08" textLength="4.23" lengthAdjust="spacingAndGlyphs">1</text>
<path d="M565.2 705.4h2.16M566.9 705.4h2.16M580.7 705.4h2.16M584.2 705.4h2.16M587.7 705.4h2.16M591.1 705.4h2.16M601.5 705.4h2.16M606.7 705.4h2.16M632.7 705.4h2.16M565.2 710.7h2.16M566.9 710.7h2.16M570.3 710.7h2.16M575.5 710.7h2.16M585.9 710.7h2.16M587.7 710.7h2.16M591.1 710.7h2.16M596.3 710.7h2.16M605.0 710.7h2.16M608.4 710.7h2.16M611.9 710.7h2.16M613.6 710.7h2.16M617.1 710.7h2.16M622.3 710.7h2.16M639.6 710.7h2.16M558.2 715.4h2.16M565.2 715.4h2.16M566.9 715.4h2.16M568.6 715.4h2.16M570.3 715.4h2.16M573.8 715.4h2.16M577.3 715.4h2.16M579.0 715.4h2.16M580.7 715.4h2.16M582.5 715.4h2.16M584.2 715.4h2.16M585.9 715.4h2.16M587.7 715.4h2.16M589.4 715.4h2.16M591.1 715.4h2.16M592.9 715.4h2.16M594.6 715.4h2.16M596.3 715.4h2.16M598.0 715.4h2.16M599.8 715.4h2.16M601.5 715.4h2.16M603.2 715.4h2.16M606.7 715.4h2.16M608.4 715.4h2.16M610.2 715.4h2.16M611.9 715.4h2.16M613.6 715.4h2.16M615.4 715.4h2.16M617.1 715.4h2.16M618.8 715.4h2.16M620.6 715.4h2.16M627.5 715.4h2.16M629.2 715.4h2.16M634.4 715.4h2.16M641.3 715.4h2.16M558.2 722.4h2.16M561.7 722.4h2.16M565.2 722.4h2.16M566.9 722.4h2.16M568.6 722.4h2.16M570.3 722.4h2.16M572.1 722.4h2.16M573.8 722.4h2.16M575.5 722.4h2.16M577.3 722.4h2.16M579.0 722.4h2.16M580.7 722.4h2.16M582.5 722.4h2.16M584.2 722.4h2.16M585.9 722.4h2.16M587.7 722.4h2.16M591.1 722.4h2.16M592.9 722.4h2.16M594.6 722.4h2.16M598.0 722.4h2.16M601.5 722.4h2.16M603.2 722.4h2.16M606.7 722.4h2.16M608.4 722.4h2.16M610.2 722.4h2.16M613.6 722.4h2.16M615.4 722.4h2.16M617.1 722.4h2.16M618.8 722.4h2.16M620.6 722.4h2.16M622.3 722.4h2.16M624.0 722.4h2.16M625.7 722.4h2.16M629.2 722.4h2.16M632.7 722.4h2.16M637.9 722.4h2.16M641.3 722.4h2.16M565.2 733.9h2.16M566.9 733.9h2.16M570.3 733.9h2.16M572.1 733.9h2.16M575.5 733.9h2.16M579.0 733.9h2.16M580.7 733.9h2.16M582.5 733.9h2.16M584.2 733.9h2.16M587.7 733.9h2.16M589.4 733.9h2.16M591.1 733.9h2.16M592.9 733.9h2.16M598.0 733.9h2.16M599.8 733.9h2.16M601.5 733.9h2.16M603.2 733.9h2.16M605.0 733.9h2.16M606.7 733.9h2.16M608.4 733.9h2.16M610.2 733.9h2.16M611.9 733.9h2.16M613.6 733.9h2.16M615.4 733.9h2.16M617.1 733.9h2.16M618.8 733.9h2.16M620.6 733.9h2.16M627.5 733.9h2.16M632.7 733.9h2.16M636.1 733.9h2.16M650.0 733.9h2.16M556.5 745.8h2.16M560.0 745.8h2.16M565.2 745.8h2.16M566.9 745.8h2.16M568.6 745.8h2.16M570.3 745.8h2.16M573.8 745.8h2.16M575.5 745.8h2.16M577.3 745.8h2.16M580.7 745.8h2.16M584.2 745.8h2.16M585.9 745.8h2.16M587.7 745.8h2.16M589.4 745.8h2.16M591.1 745.8h2.16M592.9 745.8h2.16M594.6 745.8h2.16M596.3 745.8h2.16M598.0 745.8h2.16M599.8 745.8h2.16M605.0 745.8h2.16M606.7 745.8h2.16M608.4 745.8h2.16M610.2 745.8h2.16M611.9 745.8h2.16M613.6 745.8h2.16M615.4 745.8h2.16M617.1 745.8h2.16M620.6 745.8h2.16M622.3 745.8h2.16M630.9 745.8h2.16M634.4 745.8h2.16M639.6 745.8h2.16M641.3 745.8h2.16M651.7 745.8h2.16" stroke="#f0882a" stroke-width="1.9" stroke-linecap="round"/>
<path d="M556.5 710.7h2.16M563.4 710.7h2.16M601.5 710.7h2.16M556.5 715.4h2.16M560.0 715.4h2.16M561.7 715.4h2.16M563.4 715.4h2.16M572.1 715.4h2.16M556.5 722.4h2.16M560.0 722.4h2.16M563.4 722.4h2.16M611.9 722.4h2.16M556.5 733.9h2.16M558.2 733.9h2.16M560.0 733.9h2.16M561.7 733.9h2.16M563.4 733.9h2.16M573.8 733.9h2.16M585.9 733.9h2.16M594.6 733.9h2.16M558.2 745.8h2.16M561.7 745.8h2.16M563.4 745.8h2.16M579.0 745.8h2.16" stroke="#3f78b8" stroke-width="1.9" stroke-linecap="round"/>
<path d="M585.9 705.4h2.16M636.1 705.4h2.16M653.4 705.4h2.16M573.8 710.7h2.16M624.0 715.4h2.16M630.9 715.4h2.16M636.1 715.4h2.16M637.9 715.4h2.16M643.1 715.4h2.16M646.5 715.4h2.16M651.7 715.4h2.16M653.4 715.4h2.16M655.2 715.4h2.16M589.4 722.4h2.16M596.3 722.4h2.16M605.0 722.4h2.16M627.5 722.4h2.16M634.4 722.4h2.16M636.1 722.4h2.16M639.6 722.4h2.16M643.1 722.4h2.16M568.6 733.9h2.16M624.0 733.9h2.16M625.7 733.9h2.16M629.2 733.9h2.16M630.9 733.9h2.16M634.4 733.9h2.16M637.9 733.9h2.16M639.6 733.9h2.16M641.3 733.9h2.16M644.8 733.9h2.16M655.2 733.9h2.16M601.5 745.8h2.16M618.8 745.8h2.16M624.0 745.8h2.16M627.5 745.8h2.16M629.2 745.8h2.16M636.1 745.8h2.16M648.3 745.8h2.16M650.0 745.8h2.16M653.4 745.8h2.16" stroke="#45b050" stroke-width="1.9" stroke-linecap="round"/>
<path d="M650.0 715.4h2.16M648.3 733.9h2.16" stroke="#a066c4" stroke-width="1.9" stroke-linecap="round"/>
<path d="M646.5 705.4h2.16M651.7 705.4h2.16M627.5 710.7h2.16M634.4 710.7h2.16M644.8 710.7h2.16M648.3 710.7h2.16M650.0 710.7h2.16M651.7 710.7h2.16M622.3 715.4h2.16M625.7 715.4h2.16M632.7 715.4h2.16M644.8 715.4h2.16M648.3 715.4h2.16M648.3 722.4h2.16M650.0 722.4h2.16M651.7 722.4h2.16M653.4 722.4h2.16M655.2 722.4h2.16M656.9 722.4h2.16M658.6 722.4h2.16M622.3 733.9h2.16M643.1 733.9h2.16M646.5 733.9h2.16M653.4 733.9h2.16M656.9 733.9h2.16M658.6 733.9h2.16M660.4 733.9h2.16M662.1 733.9h2.16M663.8 733.9h2.16M625.7 745.8h2.16M632.7 745.8h2.16M643.1 745.8h2.16M644.8 745.8h2.16M646.5 745.8h2.16M655.2 745.8h2.16M658.6 745.8h2.16" stroke="#f03030" stroke-width="1.9" stroke-linecap="round"/>
<path transform="scale(0.2)" d="M3142 3504l4 4 9-4 14-2 30-2 56 4-8 13-77-3-31 17 8 1 7 1 23 0 6-2 9 3 5-5 13 6 4-7 4 1 28 16-34 0-2-2-56 7-14-6-5 3" fill="none" marker-start="url(#k36)" marker-mid="url(#k36)" marker-end="url(#k36)"/>
<path transform="scale(0.2)" d="M2797 3509l1-6 4 4 1 10 0-7-9 13" fill="none" marker-start="url(#k37)" marker-mid="url(#k37)" marker-end="url(#k37)"/>
<path transform="scale(0.2)" d="M3168 3509l1-8 20 3 12 0 0 3 55 16-10-8-3 8-17-8-16 9-2-8-10-2-7 6-11-10-15 11-17-2-5-9 25 23 2 5 4-1 7-2 11-10 65 4-5 11-22 2-26-2-58 5" fill="none" marker-start="url(#k38)" marker-mid="url(#k38)" marker-end="url(#k38)"/>
<path transform="scale(0.2)" d="M3231 3514l27 16" fill="none" marker-start="url(#k39)" marker-mid="url(#k39)" marker-end="url(#k39)"/>
<path transform="scale(0.2)" d="M3194 3508l14-7 12 3 24 16-1-3-98-2-2 2 45 17 13-8 11 12 12-10 17 6 9 0 4 15-4 1-12-7-14 5" fill="none" marker-start="url(#k40)" marker-mid="url(#k40)" marker-end="url(#k40)"/>
<path d="M557 745.8 L597.4 745.8 C607 738 620 733 637 731.8 C650 731.5 658 733 664.7 733.9" stroke="#000" stroke-width="1.2" fill="none"/>
</svg>
</body></html>
